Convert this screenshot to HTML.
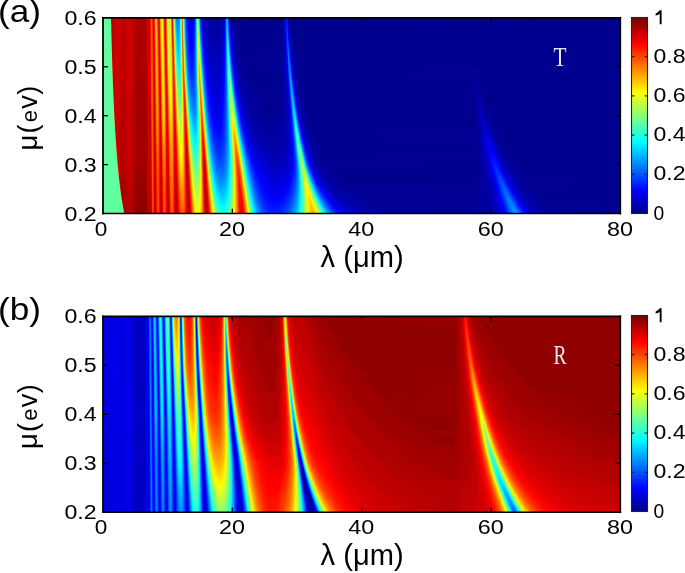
<!DOCTYPE html><html><head><meta charset="utf-8"><style>
html,body{margin:0;padding:0;background:#fff;}
body{width:685px;height:573px;position:relative;overflow:hidden;font-family:"Liberation Sans",sans-serif;}
.hm{position:absolute;left:103px;width:518px;height:196px;overflow:hidden;}
.hm div{position:absolute;left:0;width:518px;height:4px;-webkit-mask-image:linear-gradient(transparent,#000 50%);mask-image:linear-gradient(transparent,#000 50%);}
svg{position:absolute;left:0;top:0;will-change:transform}
</style></head><body>
<div class="hm" style="top:18px"><div style="top:-3px;background:linear-gradient(90deg,#60ff9f 0px,#60ff9f 6.5px,#6eff91 7.5px,#cb0200 8.5px,#b70000 9.5px,#cf0000 12.5px,#cb0000 17.5px,#bf0000 20.5px,#d70000 26.5px,#b00 31.5px,#ab0000 32.5px,#af0000 33.5px,#9f0000 34.5px,#af0000 35.5px,#ab0000 41.5px,#9f0000 42.5px,#d70000 44.5px,#cb0000 46.5px,#fb2200 47.5px,#ff6400 48.5px,#fb2400 49.5px,#d70000 50.5px,#ff3000 51.5px,#ffa300 52.5px,#ffb300 53.5px,#ff5000 54.5px,#e70000 55.5px,#fb2000 56.5px,#ffaf00 57.5px,#f7fb08 58.5px,#fbf304 59.5px,#ff8d00 60.5px,#f31000 61.5px,#ef0800 62.5px,#ff8700 63.5px,#e9fb16 64.5px,#afff50 65.5px,#abff54 66.5px,#efef10 67.5px,#ff5a00 68.5px,#fb0c00 69.5px,#f7b708 70.5px,#5affa5 71.5px,#00cfff 72.5px,#008dff 73.5px,#0074ff 74.5px,#0080ff 75.5px,#00afff 76.5px,#34fbcb 77.5px,#e9d116 78.5px,#ff7400 79.5px,#abf954 80.5px,#06d1f9 81.5px,#005eff 82.5px,#0020ff 83.5px,#0004ff 84.5px,#0000df 88.5px,#0000f7 90.5px,#001cff 91.5px,#0068ff 92.5px,#18e3e7 93.5px,#a5ff5a 94.5px,#5effa1 95.5px,#00adff 96.5px,#003cff 97.5px,#0004f7 98.5px,#0000c5 100.5px,#00009f 105.5px,#00009f 117.5px,#0000c3 120.5px,#0000e3 121.5px,#002aff 122.5px,#009bff 123.5px,#009bff 124.5px,#0026ff 125.5px,#00d 126.5px,#0000b9 127.5px,#00009f 129.5px,#00008f 133.5px,#00008f 178.5px,#0000a3 180.5px,#00b 181.5px,#0004e9 182.5px,#001cff 183.5px,#0000e7 184.5px,#0000b5 185.5px,#000093 187.5px,#00008f 518px)"></div><div style="top:-1px;background:linear-gradient(90deg,#60ff9f 0px,#60ff9f 6.5px,#6eff91 7.5px,#cb0200 8.5px,#b70000 9.5px,#cf0000 12.5px,#cb0000 17.5px,#bf0000 20.5px,#d70000 26.5px,#b00 31.5px,#ab0000 32.5px,#af0000 33.5px,#9f0000 34.5px,#af0000 35.5px,#ab0000 41.5px,#9f0000 42.5px,#d70000 44.5px,#cb0000 46.5px,#fb2200 47.5px,#ff6400 48.5px,#fb2400 49.5px,#d70000 50.5px,#ff3000 51.5px,#ffa300 52.5px,#ffb300 53.5px,#ff5000 54.5px,#e70000 55.5px,#fb2000 56.5px,#ffaf00 57.5px,#f7fb08 58.5px,#fbf304 59.5px,#ff8d00 60.5px,#f31000 61.5px,#ef0800 62.5px,#ff8700 63.5px,#e9fb16 64.5px,#afff50 65.5px,#abff54 66.5px,#efef10 67.5px,#ff5a00 68.5px,#fb0c00 69.5px,#f7b708 70.5px,#5affa5 71.5px,#00cfff 72.5px,#008dff 73.5px,#0074ff 74.5px,#0080ff 75.5px,#00afff 76.5px,#34fbcb 77.5px,#e9d116 78.5px,#ff7400 79.5px,#abf954 80.5px,#06d1f9 81.5px,#005eff 82.5px,#0020ff 83.5px,#0004ff 84.5px,#0000df 88.5px,#0000f7 90.5px,#001cff 91.5px,#0068ff 92.5px,#18e3e7 93.5px,#a5ff5a 94.5px,#5effa1 95.5px,#00adff 96.5px,#003cff 97.5px,#0004f7 98.5px,#0000c5 100.5px,#00009f 105.5px,#00009f 117.5px,#0000c3 120.5px,#0000e3 121.5px,#002aff 122.5px,#009bff 123.5px,#009bff 124.5px,#0026ff 125.5px,#00d 126.5px,#0000b9 127.5px,#00009f 129.5px,#00008f 133.5px,#00008f 178.5px,#0000a3 180.5px,#00b 181.5px,#0004e9 182.5px,#001cff 183.5px,#0000e7 184.5px,#0000b5 185.5px,#000093 187.5px,#00008f 518px)"></div><div style="top:1px;background:linear-gradient(90deg,#60ff9f 0px,#68ff97 7.5px,#cd0c00 8.5px,#b70000 9.5px,#cf0000 12.5px,#cb0000 17.5px,#bf0000 20.5px,#d70000 26.5px,#b00 31.5px,#ab0000 32.5px,#af0000 33.5px,#9f0000 34.5px,#af0000 35.5px,#ab0000 41.5px,#9f0000 42.5px,#d70000 44.5px,#cb0000 46.5px,#fb2000 47.5px,#ff6800 48.5px,#ff2400 49.5px,#d70000 50.5px,#fb2c00 51.5px,#ffa300 52.5px,#ffb300 53.5px,#ff5400 54.5px,#e70000 55.5px,#f91c00 56.5px,#ffa900 57.5px,#f7fb08 58.5px,#fbf304 59.5px,#ff8f00 60.5px,#f71200 61.5px,#ed0600 62.5px,#ff8100 63.5px,#ebf714 64.5px,#b5ff4a 65.5px,#abff54 66.5px,#ebf314 67.5px,#ff6200 68.5px,#fb0800 69.5px,#fbad04 70.5px,#68ff97 71.5px,#00d9ff 72.5px,#0091ff 73.5px,#007cff 74.5px,#0083ff 75.5px,#00b7ff 76.5px,#30fbcf 77.5px,#e7d518 78.5px,#ff7400 79.5px,#b7f748 80.5px,#08d5f7 81.5px,#0064ff 82.5px,#0026ff 83.5px,#0004ff 84.5px,#0000df 88.5px,#0000fb 90.5px,#0020ff 91.5px,#0068ff 92.5px,#14e3eb 93.5px,#abff54 94.5px,#6eff91 95.5px,#0bf 96.5px,#04f 97.5px,#0006fb 98.5px,#0000c7 100.5px,#0000af 103.5px,#00009f 108.5px,#00009f 117.5px,#0000c7 120.5px,#0000e7 121.5px,#002cff 122.5px,#009bff 123.5px,#00a5ff 124.5px,#0034ff 125.5px,#0000e5 126.5px,#0000bf 127.5px,#00009f 129.5px,#00008f 135.5px,#00008f 178.5px,#0000b7 181.5px,#0002e7 182.5px,#02f 183.5px,#0004eb 184.5px,#0000b9 185.5px,#000095 187.5px,#00008f 518px)"></div><div style="top:3px;background:linear-gradient(90deg,#60ff9f 0px,#64ff9b 7.5px,#cf1e00 8.5px,#b70000 9.5px,#cf0000 12.5px,#cb0000 17.5px,#bf0000 20.5px,#d30000 26.5px,#b00 31.5px,#a70000 32.5px,#af0000 33.5px,#9f0000 34.5px,#af0000 35.5px,#ab0000 41.5px,#9f0000 42.5px,#d70000 44.5px,#cb0000 46.5px,#fb2000 47.5px,#ff6800 48.5px,#ff2600 49.5px,#d70000 50.5px,#fb2a00 51.5px,#ffa300 52.5px,#ffb300 53.5px,#ff5a00 54.5px,#eb0000 55.5px,#f71800 56.5px,#ffa100 57.5px,#f7fb08 58.5px,#fbf304 59.5px,#ff9700 60.5px,#fb1800 61.5px,#eb0400 62.5px,#ff7800 63.5px,#edf712 64.5px,#b7ff48 65.5px,#a9ff56 66.5px,#ebf714 67.5px,#ff6a00 68.5px,#fb0800 69.5px,#ffa100 70.5px,#74ff8b 71.5px,#04dffb 72.5px,#009bff 73.5px,#0080ff 74.5px,#0085ff 75.5px,#00b7ff 76.5px,#30fbcf 77.5px,#e7d718 78.5px,#ff6e00 79.5px,#bdf342 80.5px,#0cdff3 81.5px,#006cff 82.5px,#002cff 83.5px,#0008ff 84.5px,#0000df 88.5px,#0002fb 90.5px,#0020ff 91.5px,#0068ff 92.5px,#14e3eb 93.5px,#adff52 94.5px,#7cff83 95.5px,#02c7fd 96.5px,#004eff 97.5px,#000cfd 98.5px,#0000cb 100.5px,#0000af 103.5px,#0000ad 105.5px,#00009f 107.5px,#0000a3 117.5px,#0000c7 120.5px,#0000eb 121.5px,#002cff 122.5px,#009bff 123.5px,#00afff 124.5px,#003eff 125.5px,#0000e9 126.5px,#0000c3 127.5px,#00009f 129.5px,#00008f 135.5px,#00008f 178.5px,#0000b7 181.5px,#0000e7 182.5px,#0024ff 183.5px,#0006f3 184.5px,#0000bd 185.5px,#000097 187.5px,#00008f 518px)"></div><div style="top:5px;background:linear-gradient(90deg,#60ff9f 0px,#62ff9d 7.5px,#cf3200 8.5px,#b90000 9.5px,#d70000 13.5px,#bf0000 20.5px,#d30000 26.5px,#b00 31.5px,#a70000 32.5px,#af0000 33.5px,#9f0000 34.5px,#af0000 35.5px,#ab0000 41.5px,#9f0000 42.5px,#d70000 44.5px,#cb0000 46.5px,#fb1c00 47.5px,#ff6800 48.5px,#ff2800 49.5px,#d70000 50.5px,#fb2600 51.5px,#ffa100 52.5px,#ffb300 53.5px,#ff6000 54.5px,#e70200 55.5px,#f51600 56.5px,#ff9d00 57.5px,#fbf904 58.5px,#fbf304 59.5px,#ff9d00 60.5px,#fb1800 61.5px,#eb0400 62.5px,#ff7200 63.5px,#f1f10e 64.5px,#b7ff48 65.5px,#a7ff58 66.5px,#e9f716 67.5px,#ff7400 68.5px,#ff0800 69.5px,#ff9500 70.5px,#83ff7c 71.5px,#06e7f9 72.5px,#00a1ff 73.5px,#0085ff 74.5px,#0087ff 75.5px,#00b9ff 76.5px,#30fbcf 77.5px,#e7d718 78.5px,#ff6800 79.5px,#c5f13a 80.5px,#10e3ef 81.5px,#0070ff 82.5px,#002eff 83.5px,#0008ff 84.5px,#0000e5 88.5px,#0004fb 90.5px,#0024ff 91.5px,#006cff 92.5px,#14e3eb 93.5px,#adff52 94.5px,#87ff78 95.5px,#06d1f9 96.5px,#0056ff 97.5px,#000eff 98.5px,#0000cf 100.5px,#0000af 103.5px,#00009f 111.5px,#0000a5 117.5px,#0000c7 120.5px,#0000eb 121.5px,#0030ff 122.5px,#009dff 123.5px,#0bf 124.5px,#004aff 125.5px,#0004f1 126.5px,#0000c7 127.5px,#0000a3 129.5px,#00008f 134.5px,#00008f 178.5px,#0000b7 181.5px,#0000e7 182.5px,#0024ff 183.5px,#000cf9 184.5px,#0000c5 185.5px,#0000a7 186.5px,#00008f 189.5px,#00008f 518px)"></div><div style="top:7px;background:linear-gradient(90deg,#60ff9f 0px,#60ff9f 7.5px,#cb4008 8.5px,#b00 9.5px,#d30000 13.5px,#bf0000 20.5px,#d30000 26.5px,#b00 31.5px,#a70000 32.5px,#af0000 33.5px,#9f0000 34.5px,#af0000 35.5px,#ab0000 41.5px,#9f0000 42.5px,#d70000 44.5px,#cb0000 46.5px,#fb1a00 47.5px,#f60 48.5px,#ff2a00 49.5px,#d70000 50.5px,#fb2400 51.5px,#ff9b00 52.5px,#ffb900 53.5px,#ff6000 54.5px,#e70400 55.5px,#f31200 56.5px,#f90 57.5px,#fbf304 58.5px,#fbf704 59.5px,#ff9f00 60.5px,#fb1a00 61.5px,#eb0200 62.5px,#ff6a00 63.5px,#f3ef0c 64.5px,#bf4 65.5px,#adff52 66.5px,#e5f71a 67.5px,#ff7a00 68.5px,#ff0800 69.5px,#ff8900 70.5px,#91ff6e 71.5px,#08edf7 72.5px,#00a9ff 73.5px,#008bff 74.5px,#008fff 75.5px,#0bf 76.5px,#30fbcf 77.5px,#e5d91a 78.5px,#ff6a00 79.5px,#cfef30 80.5px,#14e7eb 81.5px,#007aff 82.5px,#0032ff 83.5px,#000eff 84.5px,#0000ef 86.5px,#0000ef 89.5px,#0004ff 90.5px,#0028ff 91.5px,#006cff 92.5px,#14e3eb 93.5px,#adff52 94.5px,#97ff68 95.5px,#0adbf5 96.5px,#0062ff 97.5px,#0018ff 98.5px,#0000eb 99.5px,#0000c1 101.5px,#0000af 104.5px,#00009f 112.5px,#0000a9 117.5px,#0000c9 120.5px,#0000eb 121.5px,#0030ff 122.5px,#009fff 123.5px,#00c3ff 124.5px,#005aff 125.5px,#0004f3 126.5px,#0000b3 128.5px,#00008f 133.5px,#00008f 178.5px,#0000b7 181.5px,#0000e7 182.5px,#0024ff 183.5px,#0016fb 184.5px,#0000cb 185.5px,#0000a9 186.5px,#00008f 188.5px,#00008f 518px)"></div><div style="top:9px;background:linear-gradient(90deg,#60ff9f 0px,#60ff9f 7.5px,#c34016 8.5px,#b00 9.5px,#d30000 13.5px,#bf0000 20.5px,#d30000 26.5px,#b00 31.5px,#a70000 32.5px,#af0000 33.5px,#a10000 34.5px,#af0000 35.5px,#af0000 41.5px,#9f0000 42.5px,#d70000 44.5px,#c70000 46.5px,#fb1800 47.5px,#ff6400 48.5px,#ff2c00 49.5px,#d90000 50.5px,#fb2200 51.5px,#f90 52.5px,#fb0 53.5px,#ff6000 54.5px,#e70400 55.5px,#f31000 56.5px,#ff8d00 57.5px,#fbf304 58.5px,#fbfb04 59.5px,#ffa100 60.5px,#fb2400 61.5px,#eb0000 62.5px,#ff6200 63.5px,#f5ed0a 64.5px,#bfff40 65.5px,#afff50 66.5px,#e3fb1c 67.5px,#ff8100 68.5px,#ff0a00 69.5px,#ff8000 70.5px,#9fff60 71.5px,#10f1ef 72.5px,#00b3ff 73.5px,#0091ff 74.5px,#0093ff 75.5px,#0bf 76.5px,#30fbcf 77.5px,#dfdf20 78.5px,#ff6800 79.5px,#d7e728 80.5px,#1cede3 81.5px,#0080ff 82.5px,#0038ff 83.5px,#0012ff 84.5px,#00f 85.5px,#0000ef 87.5px,#0000ef 89.5px,#0004ff 90.5px,#0028ff 91.5px,#006cff 92.5px,#14e3eb 93.5px,#afff50 94.5px,#a5ff5a 95.5px,#10e5ef 96.5px,#006eff 97.5px,#001aff 98.5px,#0000ef 99.5px,#0000c5 101.5px,#0000af 104.5px,#0000af 107.5px,#00009f 109.5px,#00009f 116.5px,#0000cb 120.5px,#0000ed 121.5px,#0030ff 122.5px,#009fff 123.5px,#00cfff 124.5px,#0062ff 125.5px,#000cf9 126.5px,#0000cf 127.5px,#00009f 130.5px,#00008f 136.5px,#00008f 178.5px,#0000b7 181.5px,#00d 182.5px,#0026ff 183.5px,#001aff 184.5px,#0000d7 185.5px,#0000ad 186.5px,#00008f 189.5px,#00008f 518px)"></div><div style="top:11px;background:linear-gradient(90deg,#60ff9f 0px,#60ff9f 7.5px,#bd481e 8.5px,#b00 9.5px,#d30000 13.5px,#bf0000 20.5px,#d30000 26.5px,#b00 31.5px,#a70000 32.5px,#af0000 33.5px,#a30000 34.5px,#ab0000 36.5px,#af0000 41.5px,#9f0000 42.5px,#d70000 44.5px,#c70000 46.5px,#fb1800 47.5px,#ff6200 48.5px,#ff2c00 49.5px,#d90000 50.5px,#fb1e00 51.5px,#ff9300 52.5px,#fb0 53.5px,#ff6a00 54.5px,#eb0400 55.5px,#f30e00 56.5px,#ff8b00 57.5px,#fdf302 58.5px,#fbfb04 59.5px,#ffa900 60.5px,#fb2400 61.5px,#e70000 62.5px,#ff5a00 63.5px,#f7e708 64.5px,#bfff40 65.5px,#afff50 66.5px,#dffb20 67.5px,#ff8900 68.5px,#ff0800 69.5px,#ff7000 70.5px,#adff52 71.5px,#14f7eb 72.5px,#00b9ff 73.5px,#0095ff 74.5px,#0095ff 75.5px,#00bdff 76.5px,#30fbcf 77.5px,#dfdf20 78.5px,#f60 79.5px,#dbe324 80.5px,#22f1dd 81.5px,#0085ff 82.5px,#003cff 83.5px,#00f 85.5px,#0000ef 88.5px,#0008ff 90.5px,#002aff 91.5px,#006cff 92.5px,#12e3ed 93.5px,#afff50 94.5px,#b5ff4a 95.5px,#1cede3 96.5px,#0076ff 97.5px,#0028ff 98.5px,#0000f7 99.5px,#0000c9 101.5px,#0000af 105.5px,#00009f 113.5px,#0000af 118.5px,#0000cf 120.5px,#0000ef 121.5px,#0030ff 122.5px,#009fff 123.5px,#00d5ff 124.5px,#0012fb 126.5px,#0000d9 127.5px,#0000b9 128.5px,#00009f 130.5px,#00008f 136.5px,#00008f 178.5px,#0000b3 181.5px,#0000db 182.5px,#0026ff 183.5px,#0028ff 184.5px,#0000db 185.5px,#0000b3 186.5px,#00008f 189.5px,#00008f 518px)"></div><div style="top:13px;background:linear-gradient(90deg,#60ff9f 0px,#60ff9f 7.5px,#b75a24 8.5px,#b00 9.5px,#d30000 13.5px,#bf0000 18.5px,#bf0000 20.5px,#d30000 26.5px,#b00 31.5px,#a70000 32.5px,#af0000 33.5px,#a30000 34.5px,#ab0000 36.5px,#af0000 41.5px,#9f0000 42.5px,#d70000 44.5px,#c70000 46.5px,#f91800 47.5px,#ff6000 48.5px,#ff2c00 49.5px,#db0000 50.5px,#f71a00 51.5px,#ff9300 52.5px,#fb0 53.5px,#ff6e00 54.5px,#ef0800 55.5px,#f10800 56.5px,#ff8500 57.5px,#ffef00 58.5px,#fbfb04 59.5px,#ffaf00 60.5px,#ff2800 61.5px,#e50000 62.5px,#ff5400 63.5px,#f9e706 64.5px,#bfff40 65.5px,#afff50 66.5px,#dffb20 67.5px,#ff9100 68.5px,#ff0e00 69.5px,#ff6800 70.5px,#b7fb48 71.5px,#1cfbe3 72.5px,#00c1ff 73.5px,#009fff 74.5px,#09f 75.5px,#00c5ff 76.5px,#30fbcf 77.5px,#dde522 78.5px,#ff6000 79.5px,#e3dd1c 80.5px,#26f7d9 81.5px,#008fff 82.5px,#04f 83.5px,#0018ff 84.5px,#0000f9 86.5px,#0000ef 88.5px,#0008ff 90.5px,#002cff 91.5px,#0070ff 92.5px,#0ce3f3 93.5px,#afff50 94.5px,#c1ff3e 95.5px,#24f5db 96.5px,#0083ff 97.5px,#002aff 98.5px,#0004f7 99.5px,#0000bf 102.5px,#0000af 106.5px,#0000ad 108.5px,#00009f 110.5px,#00009f 115.5px,#0000bf 119.5px,#0000ef 121.5px,#0030ff 122.5px,#009fff 123.5px,#00dfff 124.5px,#001aff 126.5px,#00d 127.5px,#0000af 129.5px,#00009f 131.5px,#00008f 136.5px,#00008f 178.5px,#0000b3 181.5px,#0000d7 182.5px,#0020ff 183.5px,#0032ff 184.5px,#0000e7 185.5px,#0000b7 186.5px,#00008f 189.5px,#00008f 518px)"></div><div style="top:15px;background:linear-gradient(90deg,#60ff9f 0px,#60ff9f 7.5px,#b97226 8.5px,#b00 9.5px,#d30000 13.5px,#bf0000 18.5px,#bf0000 20.5px,#d30000 26.5px,#b00 31.5px,#a70000 32.5px,#af0000 33.5px,#a30000 34.5px,#ab0000 36.5px,#af0000 41.5px,#9f0000 42.5px,#d70000 44.5px,#cb0000 46.5px,#f71600 47.5px,#ff6000 48.5px,#ff3000 49.5px,#db0000 50.5px,#f71800 51.5px,#ff8d00 52.5px,#fb0 53.5px,#ff7000 54.5px,#f10800 55.5px,#ef0800 56.5px,#ffed00 58.5px,#fdfb02 59.5px,#ffaf00 60.5px,#ff3000 61.5px,#e50000 62.5px,#ff4e00 63.5px,#fbdf04 64.5px,#c5ff3a 65.5px,#afff50 66.5px,#df2 67.5px,#ff9700 68.5px,#ff1000 69.5px,#ff5c00 70.5px,#c3f93c 71.5px,#24fddb 72.5px,#00c7ff 73.5px,#00a5ff 74.5px,#009fff 75.5px,#00c7ff 76.5px,#2cffd3 77.5px,#dbe724 78.5px,#ff6800 79.5px,#e7d718 80.5px,#32f9cd 81.5px,#0095ff 82.5px,#0048ff 83.5px,#001cff 84.5px,#0000fd 86.5px,#0000ef 88.5px,#0008ff 90.5px,#002cff 91.5px,#0070ff 92.5px,#0ce1f3 93.5px,#afff50 94.5px,#cdff32 95.5px,#30f9cf 96.5px,#0091ff 97.5px,#0038ff 98.5px,#0004fb 99.5px,#0000bf 102.5px,#0000af 106.5px,#00009f 114.5px,#0000bf 119.5px,#0000f1 121.5px,#0030ff 122.5px,#009fff 123.5px,#00e7ff 124.5px,#008fff 125.5px,#0024ff 126.5px,#0000e3 127.5px,#0000af 129.5px,#00008f 135.5px,#00008f 178.5px,#0000b3 181.5px,#0000d7 182.5px,#001aff 183.5px,#0038ff 184.5px,#0004ef 185.5px,#0000bf 186.5px,#0000a5 187.5px,#00008f 190.5px,#00008f 518px)"></div><div style="top:17px;background:linear-gradient(90deg,#60ff9f 0px,#60ff9f 7.5px,#b18030 8.5px,#b00 9.5px,#d30000 13.5px,#c30000 18.5px,#b70000 19.5px,#d30000 26.5px,#b00 31.5px,#a70000 32.5px,#af0000 33.5px,#a30000 34.5px,#ab0000 36.5px,#af0000 41.5px,#9f0000 42.5px,#d70000 44.5px,#cb0000 46.5px,#f71400 47.5px,#ff6000 48.5px,#ff3200 49.5px,#db0000 50.5px,#f71800 51.5px,#ff8b00 52.5px,#fb0 53.5px,#ff7000 54.5px,#f30800 55.5px,#ed0800 56.5px,#ff7a00 57.5px,#ffe700 58.5px,#fffb00 59.5px,#ffb500 60.5px,#ff3000 61.5px,#e70000 62.5px,#ff4600 63.5px,#fbdb04 64.5px,#cbff34 65.5px,#afff50 66.5px,#dbff24 67.5px,#ff9f00 68.5px,#ff1200 69.5px,#ff5400 70.5px,#cbf534 71.5px,#30ffcf 72.5px,#00d1ff 73.5px,#00a9ff 74.5px,#00a3ff 75.5px,#00c7ff 76.5px,#2cffd3 77.5px,#d7e928 78.5px,#ff6400 79.5px,#efd310 80.5px,#3efbc1 81.5px,#00a1ff 82.5px,#004aff 83.5px,#0020ff 84.5px,#00f 86.5px,#0000ef 88.5px,#000aff 90.5px,#002cff 91.5px,#0070ff 92.5px,#0cdff3 93.5px,#a9ff56 94.5px,#dbff24 95.5px,#40fdbf 96.5px,#009fff 97.5px,#003eff 98.5px,#000afd 99.5px,#0000c3 102.5px,#0000af 107.5px,#0000af 109.5px,#00009f 111.5px,#0000a5 115.5px,#0000bf 119.5px,#0000f3 121.5px,#0030ff 122.5px,#009fff 123.5px,#00e9ff 124.5px,#009fff 125.5px,#002eff 126.5px,#0000eb 127.5px,#0000b3 129.5px,#00008f 135.5px,#00008f 178.5px,#0000b3 181.5px,#0000d1 182.5px,#0018fd 183.5px,#0042ff 184.5px,#000af5 185.5px,#0000c5 186.5px,#0000a7 187.5px,#00008f 190.5px,#00008f 518px)"></div><div style="top:19px;background:linear-gradient(90deg,#60ff9f 0px,#60ff9f 7.5px,#ad803e 8.5px,#b00 9.5px,#d30000 13.5px,#c30000 18.5px,#b70000 19.5px,#d30000 26.5px,#b00 31.5px,#a70000 32.5px,#af0000 33.5px,#a30000 34.5px,#ab0000 36.5px,#af0000 41.5px,#9f0000 42.5px,#d70000 44.5px,#cb0000 46.5px,#f71200 47.5px,#ff6000 48.5px,#ff3800 49.5px,#db0000 50.5px,#f71800 51.5px,#ff8b00 52.5px,#fb0 53.5px,#ff7600 54.5px,#f30a00 55.5px,#e70400 56.5px,#ff7000 57.5px,#ffe500 58.5px,#fffb00 59.5px,#fb0 60.5px,#ff3400 61.5px,#e70000 62.5px,#ff3e00 63.5px,#fdd702 64.5px,#cbff34 65.5px,#afff50 66.5px,#dbff24 67.5px,#ffa500 68.5px,#ff1800 69.5px,#ff4c00 70.5px,#d7f128 71.5px,#3cffc3 72.5px,#00d7ff 73.5px,#00b1ff 74.5px,#00a5ff 75.5px,#00c7ff 76.5px,#2cffd3 77.5px,#d7ef28 78.5px,#f60 79.5px,#f3c90c 80.5px,#4fb 81.5px,#00a7ff 82.5px,#0058ff 83.5px,#0026ff 84.5px,#00f 86.5px,#0000f1 88.5px,#000cff 90.5px,#0030ff 91.5px,#0070ff 92.5px,#0cdff3 93.5px,#a7ff58 94.5px,#e5ff1a 95.5px,#50ffaf 96.5px,#00adff 97.5px,#004aff 98.5px,#000eff 99.5px,#0000d5 101.5px,#0000af 106.5px,#0000ab 110.5px,#00009f 113.5px,#0000c3 119.5px,#0000f3 121.5px,#0030ff 122.5px,#009fff 123.5px,#00f1ff 124.5px,#00afff 125.5px,#003cff 126.5px,#0002f1 127.5px,#0000b7 129.5px,#00009f 132.5px,#00008f 137.5px,#00008f 178.5px,#0000b3 181.5px,#0000cf 182.5px,#0012fb 183.5px,#0048ff 184.5px,#0012fb 185.5px,#0000cd 186.5px,#0000ab 187.5px,#00008f 190.5px,#00008f 518px)"></div><div style="top:21px;background:linear-gradient(90deg,#60ff9f 0px,#60ff9f 7.5px,#a78948 8.5px,#b00 9.5px,#d30000 13.5px,#c30000 18.5px,#b70000 19.5px,#d30000 26.5px,#b00 31.5px,#a70000 32.5px,#af0000 33.5px,#a30000 34.5px,#ab0000 36.5px,#af0000 41.5px,#9f0000 42.5px,#d70000 44.5px,#cb0000 46.5px,#f71000 47.5px,#ff6000 48.5px,#ff3800 49.5px,#db0000 50.5px,#f31400 51.5px,#ff8700 52.5px,#fb0 53.5px,#ff7c00 54.5px,#f31000 55.5px,#e70400 56.5px,#ff6c00 57.5px,#ffe300 58.5px,#fffb00 59.5px,#fb0 60.5px,#ff3e00 61.5px,#e70000 62.5px,#ff3800 63.5px,#ffd100 64.5px,#cbff34 65.5px,#afff50 66.5px,#dbff24 67.5px,#ffa900 68.5px,#ff1c00 69.5px,#ff4200 70.5px,#dfe920 71.5px,#42ffbd 72.5px,#00e3ff 73.5px,#00b7ff 74.5px,#00afff 75.5px,#00cbff 76.5px,#2affd5 77.5px,#d3ef2c 78.5px,#ff6800 79.5px,#f7bf08 80.5px,#52ffad 81.5px,#00b1ff 82.5px,#0058ff 83.5px,#002aff 84.5px,#00f 86.5px,#00f 89.5px,#0030ff 91.5px,#0070ff 92.5px,#0adff5 93.5px,#a5ff5a 94.5px,#efff10 95.5px,#62ff9d 96.5px,#0bf 97.5px,#0054ff 98.5px,#0016ff 99.5px,#0000f1 100.5px,#0000bf 103.5px,#0000af 108.5px,#0000af 117.5px,#0000d7 120.5px,#0002f5 121.5px,#0030ff 122.5px,#00f7ff 124.5px,#00c1ff 125.5px,#004cff 126.5px,#0004f5 127.5px,#00b 129.5px,#00009f 132.5px,#00008f 138.5px,#00008f 178.5px,#0000b3 181.5px,#0000cd 182.5px,#000efb 183.5px,#004cff 184.5px,#001eff 185.5px,#0000d5 186.5px,#00009f 188.5px,#00008f 192.5px,#00008f 518px)"></div><div style="top:23px;background:linear-gradient(90deg,#60ff9f 0px,#60ff9f 7.5px,#a39d4c 8.5px,#b00 9.5px,#d30000 13.5px,#c30000 18.5px,#b70000 19.5px,#d30000 26.5px,#b00 31.5px,#a70000 32.5px,#af0000 33.5px,#a30000 34.5px,#ab0000 36.5px,#af0000 41.5px,#9f0000 42.5px,#d70000 44.5px,#c90000 46.5px,#f71000 47.5px,#ff6000 48.5px,#ff3800 49.5px,#db0000 50.5px,#f31000 51.5px,#ff8300 52.5px,#ffb700 53.5px,#ff7c00 54.5px,#f31000 55.5px,#e70400 56.5px,#ff6800 57.5px,#ffe100 58.5px,#fffb00 59.5px,#fb0 60.5px,#ff4000 61.5px,#e30000 62.5px,#ff3400 63.5px,#ffcd00 64.5px,#cdff32 65.5px,#b1ff4e 66.5px,#d7ff28 67.5px,#ffb100 68.5px,#f20 69.5px,#ff3c00 70.5px,#e5e51a 71.5px,#52ffad 72.5px,#02e7fd 73.5px,#00bdff 74.5px,#00afff 75.5px,#00cdff 76.5px,#28ffd7 77.5px,#d1f32e 78.5px,#f60 79.5px,#fbb904 80.5px,#5effa1 81.5px,#0bf 82.5px,#0062ff 83.5px,#002eff 84.5px,#0004ff 86.5px,#00f 89.5px,#0030ff 91.5px,#0070ff 92.5px,#08ddf7 93.5px,#9dff62 94.5px,#f7fd08 95.5px,#76ff89 96.5px,#02cbfd 97.5px,#005eff 98.5px,#001cff 99.5px,#0000f7 100.5px,#0000c1 103.5px,#0000af 108.5px,#0000af 117.5px,#0000d7 120.5px,#0004f7 121.5px,#0030ff 122.5px,#04f7fb 124.5px,#00d1ff 125.5px,#005aff 126.5px,#000cfb 127.5px,#0000bf 129.5px,#00009f 132.5px,#00008f 138.5px,#00008f 178.5px,#0000af 181.5px,#000cf7 183.5px,#004aff 184.5px,#002aff 185.5px,#0000e1 186.5px,#0000b7 187.5px,#00009b 189.5px,#00008f 192.5px,#00008f 518px)"></div><div style="top:25px;background:linear-gradient(90deg,#60ff9f 0px,#60ff9f 7.5px,#a1b550 8.5px,#b00 9.5px,#d30000 13.5px,#c30000 18.5px,#b70000 19.5px,#d30000 26.5px,#b00 31.5px,#a70000 32.5px,#af0000 33.5px,#a30000 34.5px,#ab0000 36.5px,#af0000 41.5px,#9f0000 42.5px,#d70000 44.5px,#c70000 46.5px,#f31000 47.5px,#ff5e00 48.5px,#ff3c00 49.5px,#d00 50.5px,#f31000 51.5px,#ff7c00 52.5px,#ffb700 53.5px,#ff7c00 54.5px,#f31000 55.5px,#eb0000 56.5px,#ff6000 57.5px,#ffd900 58.5px,#fffb00 59.5px,#ffc500 60.5px,#f40 61.5px,#e50000 62.5px,#fd2e00 63.5px,#ffc900 64.5px,#d5ff2a 65.5px,#b3ff4c 66.5px,#d5ff2a 67.5px,#ffb700 68.5px,#ff2400 69.5px,#ff3600 70.5px,#ebdd14 71.5px,#5cffa3 72.5px,#04f1fb 73.5px,#00c5ff 74.5px,#00b7ff 75.5px,#00d3ff 76.5px,#28ffd7 77.5px,#cdf332 78.5px,#ff6c00 79.5px,#ffaf00 80.5px,#6eff91 81.5px,#00c3ff 82.5px,#0068ff 83.5px,#0032ff 84.5px,#000aff 86.5px,#00f 89.5px,#0034ff 91.5px,#0070ff 92.5px,#08dbf7 93.5px,#97ff68 94.5px,#fbf904 95.5px,#87ff78 96.5px,#06d7f9 97.5px,#006aff 98.5px,#0026ff 99.5px,#0002f9 100.5px,#0000c5 103.5px,#0000af 109.5px,#0000af 117.5px,#0000d7 120.5px,#0004f7 121.5px,#0030ff 122.5px,#08f7f7 124.5px,#02dffd 125.5px,#006aff 126.5px,#0014fd 127.5px,#0000df 128.5px,#0000b1 130.5px,#00009f 133.5px,#00008f 138.5px,#00008f 178.5px,#0000af 181.5px,#0000c7 182.5px,#0008f3 183.5px,#0048ff 184.5px,#0038ff 185.5px,#0002e7 186.5px,#00b 187.5px,#00008f 190.5px,#00008f 518px)"></div><div style="top:27px;background:linear-gradient(90deg,#60ff9f 0px,#60ff9f 7.5px,#99bf5c 8.5px,#b00 9.5px,#d30000 13.5px,#c30000 18.5px,#b70000 19.5px,#d30000 26.5px,#b00 31.5px,#a70000 32.5px,#af0000 33.5px,#a30000 34.5px,#ab0000 36.5px,#af0000 41.5px,#9f0000 42.5px,#d70000 44.5px,#c70000 46.5px,#f31000 47.5px,#ff5e00 48.5px,#ff3c00 49.5px,#df0000 50.5px,#f31000 51.5px,#ff7c00 52.5px,#ffb700 53.5px,#ff7e00 54.5px,#f71200 55.5px,#e70000 56.5px,#ff5a00 57.5px,#ffd300 58.5px,#fffd00 59.5px,#ffc700 60.5px,#ff4c00 61.5px,#e90000 62.5px,#fb2800 63.5px,#ffbd00 64.5px,#d7ff28 65.5px,#b3ff4c 66.5px,#d1ff2e 67.5px,#fb0 68.5px,#ff2c00 69.5px,#ff2c00 70.5px,#f3d70c 71.5px,#6f9 72.5px,#08f3f7 73.5px,#00cdff 74.5px,#00bfff 75.5px,#00d7ff 76.5px,#28ffd7 77.5px,#c7f738 78.5px,#ff6c00 79.5px,#ffa500 80.5px,#7eff81 81.5px,#00cfff 82.5px,#006aff 83.5px,#001aff 85.5px,#00f 87.5px,#0004ff 89.5px,#0034ff 91.5px,#0070ff 92.5px,#08dbf7 93.5px,#97ff68 94.5px,#fff700 95.5px,#9dff62 96.5px,#0ae3f5 97.5px,#0074ff 98.5px,#002aff 99.5px,#0004fb 100.5px,#0000bf 104.5px,#0000af 112.5px,#0000b3 117.5px,#0000db 120.5px,#0004f7 121.5px,#0034ff 122.5px,#08f7f7 124.5px,#04ebfb 125.5px,#007aff 126.5px,#001aff 127.5px,#0000e7 128.5px,#0000b5 130.5px,#00009f 133.5px,#00008f 139.5px,#000091 178.5px,#0000af 181.5px,#0000c7 182.5px,#0004f3 183.5px,#0046ff 184.5px,#0046ff 185.5px,#0006f3 186.5px,#0000c3 187.5px,#00009f 189.5px,#00008f 193.5px,#00008f 518px)"></div><div style="top:29px;background:linear-gradient(90deg,#60ff9f 0px,#60ff9f 7.5px,#93c16a 8.5px,#b00 9.5px,#d30000 13.5px,#c30000 18.5px,#b70000 19.5px,#d30000 26.5px,#b00 31.5px,#a70000 32.5px,#af0000 33.5px,#a30000 34.5px,#ab0000 36.5px,#af0000 41.5px,#9f0000 42.5px,#d50000 44.5px,#d70000 45.5px,#c70000 46.5px,#f31000 47.5px,#ff6000 48.5px,#ff3e00 49.5px,#df0000 50.5px,#f31000 51.5px,#ff7c00 52.5px,#ffb700 53.5px,#ff8300 54.5px,#f71800 55.5px,#e70000 56.5px,#ff5600 57.5px,#ffd300 58.5px,#ff0 59.5px,#ffc900 60.5px,#ff5000 61.5px,#eb0000 62.5px,#fb2600 63.5px,#ffb900 64.5px,#d7ff28 65.5px,#b3ff4c 66.5px,#cfff30 67.5px,#ffc300 68.5px,#ff3400 69.5px,#ff2600 70.5px,#f7cd08 71.5px,#74ff8b 72.5px,#0cfbf3 73.5px,#00d3ff 74.5px,#00bfff 75.5px,#00dbff 76.5px,#24ffdb 77.5px,#c3f73c 78.5px,#ff7000 79.5px,#ff9d00 80.5px,#8bff74 81.5px,#04d7fb 82.5px,#0078ff 83.5px,#003eff 84.5px,#001cff 85.5px,#00f 88.5px,#0018ff 90.5px,#0036ff 91.5px,#0070ff 92.5px,#06dbf9 93.5px,#91ff6e 94.5px,#ffef00 95.5px,#adff52 96.5px,#14ebeb 97.5px,#0081ff 98.5px,#0038ff 99.5px,#0008ff 100.5px,#0000c1 104.5px,#0000bf 107.5px,#0000af 111.5px,#0000b7 117.5px,#0000db 120.5px,#0004f7 121.5px,#0036ff 122.5px,#0cf3f3 124.5px,#0cf3f3 125.5px,#002aff 127.5px,#0000ed 128.5px,#0000b9 130.5px,#00009f 133.5px,#00009d 135.5px,#00008f 137.5px,#000093 178.5px,#0000af 181.5px,#0000c3 182.5px,#0004ef 183.5px,#0042ff 184.5px,#0052ff 185.5px,#000ef7 186.5px,#0000ab 188.5px,#00008f 192.5px,#00008f 518px)"></div><div style="top:31px;background:linear-gradient(90deg,#60ff9f 0px,#60ff9f 7.5px,#8dd172 8.5px,#b00 9.5px,#d30000 13.5px,#c30000 18.5px,#b70000 19.5px,#d30000 26.5px,#b00 31.5px,#a70000 32.5px,#af0000 33.5px,#a30000 34.5px,#ab0000 36.5px,#af0000 41.5px,#9f0000 42.5px,#d30000 44.5px,#d90000 45.5px,#c70000 46.5px,#f30e00 47.5px,#ff6000 48.5px,#ff4000 49.5px,#df0000 50.5px,#f30a00 51.5px,#ff7a00 52.5px,#ffb700 53.5px,#ff8700 54.5px,#fb1800 55.5px,#e30000 56.5px,#ff4c00 57.5px,#ffcd00 58.5px,#ff0 59.5px,#ffcd00 60.5px,#ff5200 61.5px,#eb0000 62.5px,#fb1e00 63.5px,#ffb100 64.5px,#dbff24 65.5px,#b3ff4c 66.5px,#cfff30 67.5px,#ffc900 68.5px,#ff3600 69.5px,#ff2400 70.5px,#f9c506 71.5px,#81ff7e 72.5px,#12fbed 73.5px,#00dbff 74.5px,#00c9ff 75.5px,#00dbff 76.5px,#24ffdb 77.5px,#c3f93c 78.5px,#ff7800 79.5px,#ff8d00 80.5px,#9f6 81.5px,#08ddf7 82.5px,#007cff 83.5px,#0042ff 84.5px,#0010ff 86.5px,#00f 88.5px,#0018ff 90.5px,#0070ff 92.5px,#04dbfb 93.5px,#87ff78 94.5px,#ffe900 95.5px,#c1ff3e 96.5px,#1ef5e1 97.5px,#008dff 98.5px,#0040ff 99.5px,#000eff 100.5px,#00d 102.5px,#0000bf 105.5px,#0000af 113.5px,#0000af 116.5px,#00d 120.5px,#0004f9 121.5px,#0038ff 122.5px,#0ceff3 124.5px,#12fbed 125.5px,#009fff 126.5px,#0036ff 127.5px,#0002f3 128.5px,#0000bd 130.5px,#00009f 133.5px,#00008f 141.5px,#000093 178.5px,#0000ab 181.5px,#0000c1 182.5px,#0000e9 183.5px,#0038ff 184.5px,#005aff 185.5px,#0018fd 186.5px,#0000d3 187.5px,#00009f 189.5px,#00008f 193.5px,#00008f 518px)"></div><div style="top:33px;background:linear-gradient(90deg,#60ff9f 0px,#60ff9f 7.5px,#89eb76 8.5px,#b00 9.5px,#d30000 13.5px,#c30000 18.5px,#b70000 19.5px,#d30000 26.5px,#b00 31.5px,#a70000 32.5px,#af0000 33.5px,#a30000 34.5px,#ab0000 36.5px,#af0000 41.5px,#9f0000 42.5px,#d30000 44.5px,#db0000 45.5px,#c70000 46.5px,#f30c00 47.5px,#ff6000 48.5px,#ff4200 49.5px,#df0000 50.5px,#ef0800 51.5px,#ff7200 52.5px,#ffb700 53.5px,#ff8900 54.5px,#fb1800 55.5px,#df0000 56.5px,#ff4800 57.5px,#ffcb00 58.5px,#ff0 59.5px,#ffcf00 60.5px,#ff5a00 61.5px,#eb0200 62.5px,#fb1a00 63.5px,#ffab00 64.5px,#dfff20 65.5px,#b7ff48 66.5px,#cbff34 67.5px,#ffcd00 68.5px,#ff3e00 69.5px,#f20 70.5px,#fdbb02 71.5px,#8dff72 72.5px,#1affe5 73.5px,#00e3ff 74.5px,#00cfff 75.5px,#0df 76.5px,#28ffd7 77.5px,#bdfb42 78.5px,#ff7a00 79.5px,#ff8700 80.5px,#a7ff58 81.5px,#0ae7f5 82.5px,#0083ff 83.5px,#0048ff 84.5px,#0014ff 86.5px,#0004ff 88.5px,#001aff 90.5px,#003cff 91.5px,#0070ff 92.5px,#04d5fb 93.5px,#87ff78 94.5px,#ffe500 95.5px,#cffb30 96.5px,#2cf9d3 97.5px,#009dff 98.5px,#0048ff 99.5px,#0016ff 100.5px,#0000f5 101.5px,#0000d1 103.5px,#0000bf 106.5px,#0000bf 108.5px,#0000af 110.5px,#0000b1 116.5px,#0000cf 119.5px,#0004fb 121.5px,#0038ff 122.5px,#0087ff 123.5px,#0ceff3 124.5px,#18ffe7 125.5px,#00afff 126.5px,#04f 127.5px,#0004f9 128.5px,#0000c1 130.5px,#00009f 133.5px,#00008f 141.5px,#000093 178.5px,#0000ab 181.5px,#0000bf 182.5px,#0000e7 183.5px,#0030ff 184.5px,#0064ff 185.5px,#0024ff 186.5px,#0000db 187.5px,#0000a3 189.5px,#00008f 192.5px,#00008f 518px)"></div><div style="top:35px;background:linear-gradient(90deg,#60ff9f 0px,#60ff9f 7.5px,#81ff7e 8.5px,#c10000 9.5px,#d30000 15.5px,#b70000 19.5px,#d30000 26.5px,#b00 31.5px,#a70000 32.5px,#af0000 33.5px,#a30000 34.5px,#ab0000 36.5px,#af0000 41.5px,#9f0000 42.5px,#d30000 44.5px,#db0000 45.5px,#c70000 46.5px,#f30a00 47.5px,#ff5c00 48.5px,#f40 49.5px,#e30000 50.5px,#ed0800 51.5px,#ff7000 52.5px,#ffb300 53.5px,#ff8b00 54.5px,#fb1a00 55.5px,#df0000 56.5px,#f40 57.5px,#ffc500 58.5px,#fffb00 59.5px,#ffd300 60.5px,#ff6000 61.5px,#eb0400 62.5px,#f91800 63.5px,#ffa700 64.5px,#e5ff1a 65.5px,#b7ff48 66.5px,#cbff34 67.5px,#ffcf00 68.5px,#ff4200 69.5px,#ff2000 70.5px,#ffb300 71.5px,#95ff6a 72.5px,#24ffdb 73.5px,#00ebff 74.5px,#00d1ff 75.5px,#00dfff 76.5px,#28ffd7 77.5px,#b7fd48 78.5px,#ff8000 79.5px,#ff7e00 80.5px,#b3fd4c 81.5px,#12ebed 82.5px,#008dff 83.5px,#004eff 84.5px,#0028ff 85.5px,#0010ff 88.5px,#001cff 90.5px,#003cff 91.5px,#0076ff 92.5px,#04d1fb 93.5px,#7cff83 94.5px,#fddf02 95.5px,#dff920 96.5px,#3cffc3 97.5px,#00abff 98.5px,#0056ff 99.5px,#001eff 100.5px,#0000f9 101.5px,#0000c1 105.5px,#0000b9 109.5px,#0000af 114.5px,#0000cf 119.5px,#0004fb 121.5px,#0038ff 122.5px,#0085ff 123.5px,#0ceff3 124.5px,#24ffdb 125.5px,#00c7ff 126.5px,#0054ff 127.5px,#000cfd 128.5px,#0000b5 131.5px,#00009f 134.5px,#00009f 136.5px,#00008f 138.5px,#000093 178.5px,#0000ab 181.5px,#0000bd 182.5px,#0000e3 183.5px,#0028ff 184.5px,#006aff 185.5px,#0034ff 186.5px,#0000e7 187.5px,#00b 188.5px,#000093 191.5px,#00008f 518px)"></div><div style="top:37px;background:linear-gradient(90deg,#60ff9f 0px,#60ff9f 7.5px,#70ff8f 8.5px,#c90000 9.5px,#c30000 10.5px,#d70000 14.5px,#b70000 19.5px,#d30000 26.5px,#b00 31.5px,#a70000 32.5px,#af0000 33.5px,#a30000 34.5px,#ab0000 36.5px,#af0000 41.5px,#9f0000 42.5px,#d30000 44.5px,#db0000 45.5px,#c70000 46.5px,#f10800 47.5px,#ff5c00 48.5px,#f40 49.5px,#e70000 50.5px,#eb0800 51.5px,#ff6e00 52.5px,#ffb300 53.5px,#ff8f00 54.5px,#fb2400 55.5px,#df0000 56.5px,#ff3e00 57.5px,#ffbf00 58.5px,#fffb00 59.5px,#ffd300 60.5px,#ff6000 61.5px,#eb0400 62.5px,#f51600 63.5px,#ff9d00 64.5px,#e7fb18 65.5px,#b7ff48 66.5px,#cbff34 67.5px,#ffd500 68.5px,#ff4a00 69.5px,#ff2000 70.5px,#ffa700 71.5px,#a5ff5a 72.5px,#2effd1 73.5px,#00f1ff 74.5px,#00dbff 75.5px,#00e7ff 76.5px,#28ffd7 77.5px,#b7ff48 78.5px,#ff8300 79.5px,#ff7800 80.5px,#bff940 81.5px,#18f1e7 82.5px,#0095ff 83.5px,#0054ff 84.5px,#001cff 86.5px,#0010ff 89.5px,#003cff 91.5px,#0078ff 92.5px,#02cffd 93.5px,#78ff87 94.5px,#fbe104 95.5px,#e9f116 96.5px,#50ffaf 97.5px,#0bf 98.5px,#005cff 99.5px,#0024ff 100.5px,#0004fd 101.5px,#0000c9 105.5px,#0000af 113.5px,#0000af 115.5px,#0000cf 119.5px,#0004fb 121.5px,#0038ff 122.5px,#0083ff 123.5px,#08eff7 124.5px,#2cffd3 125.5px,#02d5fd 126.5px,#0064ff 127.5px,#0016ff 128.5px,#0000e3 129.5px,#0000b9 131.5px,#00009f 134.5px,#00008f 142.5px,#000093 178.5px,#00b 182.5px,#00d 183.5px,#0020ff 184.5px,#0068ff 185.5px,#0046ff 186.5px,#0004ef 187.5px,#0000c3 188.5px,#00009f 190.5px,#00008f 194.5px,#00008f 518px)"></div><div style="top:39px;background:linear-gradient(90deg,#60ff9f 0px,#6f9 8.5px,#cb0e00 9.5px,#c30000 10.5px,#d70000 14.5px,#b70000 19.5px,#d30000 26.5px,#b00 31.5px,#a70000 32.5px,#a30000 34.5px,#ab0000 36.5px,#af0000 41.5px,#9f0000 42.5px,#d30000 44.5px,#db0000 45.5px,#c70000 46.5px,#ef0800 47.5px,#ff5800 48.5px,#f40 49.5px,#e70000 50.5px,#eb0800 51.5px,#ff6c00 52.5px,#ffb100 53.5px,#ff8f00 54.5px,#fb2400 55.5px,#e30000 56.5px,#ff3600 57.5px,#fb0 58.5px,#fffb00 59.5px,#ffd300 60.5px,#ef0400 62.5px,#f31000 63.5px,#ff9700 64.5px,#e7fb18 65.5px,#b9ff46 66.5px,#cbff34 67.5px,#fbdb04 68.5px,#ff5000 69.5px,#ff1c00 70.5px,#f90 71.5px,#b1ff4e 72.5px,#36ffc9 73.5px,#02f7fd 74.5px,#00e1ff 75.5px,#00e9ff 76.5px,#2affd5 77.5px,#b5ff4a 78.5px,#ff8b00 79.5px,#ff7000 80.5px,#cbf534 81.5px,#20f7df 82.5px,#009dff 83.5px,#005aff 84.5px,#0034ff 85.5px,#0012ff 87.5px,#0010ff 89.5px,#0040ff 91.5px,#0078ff 92.5px,#00cfff 93.5px,#78ff87 94.5px,#fbdf04 95.5px,#f3eb0c 96.5px,#6f9 97.5px,#00cbff 98.5px,#006aff 99.5px,#002eff 100.5px,#0008ff 101.5px,#0000cf 104.5px,#0000af 114.5px,#0000d3 119.5px,#0004fb 121.5px,#0038ff 122.5px,#0081ff 123.5px,#08e7f7 124.5px,#36ffc9 125.5px,#06e5f9 126.5px,#0076ff 127.5px,#0020ff 128.5px,#0000ed 129.5px,#0000bd 131.5px,#00009f 135.5px,#00009d 137.5px,#00008f 139.5px,#000093 178.5px,#0000b9 182.5px,#0000db 183.5px,#001aff 184.5px,#06f 185.5px,#0056ff 186.5px,#000af7 187.5px,#0000c9 188.5px,#00009f 190.5px,#00008f 194.5px,#00008f 518px)"></div><div style="top:41px;background:linear-gradient(90deg,#60ff9f 0px,#62ff9d 8.5px,#cb2800 9.5px,#c30000 10.5px,#d70000 14.5px,#b70000 19.5px,#d30000 26.5px,#bf0000 31.5px,#a70000 32.5px,#a30000 34.5px,#ab0000 36.5px,#af0000 41.5px,#9f0000 42.5px,#d30000 44.5px,#db0000 45.5px,#cb0000 46.5px,#ef0800 47.5px,#ff5800 48.5px,#f40 49.5px,#e70200 50.5px,#eb0600 51.5px,#ff6c00 52.5px,#ffaf00 53.5px,#ff9300 54.5px,#fd2400 55.5px,#df0000 56.5px,#ff3200 57.5px,#ffb900 58.5px,#fffb00 59.5px,#ffd700 60.5px,#f30600 62.5px,#f31000 63.5px,#ff9300 64.5px,#ebfb14 65.5px,#bf4 66.5px,#cbff34 67.5px,#fbdb04 68.5px,#ff5400 69.5px,#ff1a00 70.5px,#ff9100 71.5px,#bf4 72.5px,#3effc1 73.5px,#04fdfb 74.5px,#00e5ff 75.5px,#00efff 76.5px,#2cffd3 77.5px,#abff54 78.5px,#ff8d00 79.5px,#f60 80.5px,#d7f128 81.5px,#2afbd5 82.5px,#00a9ff 83.5px,#005eff 84.5px,#02f 86.5px,#0010ff 88.5px,#0024ff 90.5px,#0040ff 91.5px,#0078ff 92.5px,#00cfff 93.5px,#6aff95 94.5px,#f7df08 95.5px,#f9e106 96.5px,#78ff87 97.5px,#04d9fb 98.5px,#0076ff 99.5px,#0036ff 100.5px,#000eff 101.5px,#0000e1 103.5px,#0000bf 108.5px,#0000b3 114.5px,#0000d3 119.5px,#0004fb 121.5px,#0038ff 122.5px,#0080ff 123.5px,#08e7f7 124.5px,#3affc5 125.5px,#0eeff1 126.5px,#002aff 128.5px,#0002f5 129.5px,#0000c1 131.5px,#00009f 134.5px,#000095 138.5px,#000093 178.5px,#0000b7 182.5px,#0000d9 183.5px,#0012fb 184.5px,#0064ff 185.5px,#06f 186.5px,#0014fb 187.5px,#0000d3 188.5px,#0000a3 190.5px,#00008f 193.5px,#00008f 518px)"></div><div style="top:43px;background:linear-gradient(90deg,#60ff9f 0px,#60ff9f 8.5px,#c94006 9.5px,#bf0000 10.5px,#cf0000 12.5px,#cf0000 16.5px,#b70000 19.5px,#d30000 26.5px,#bf0000 31.5px,#a70000 32.5px,#a30000 34.5px,#ab0000 36.5px,#af0000 41.5px,#9f0000 42.5px,#d10000 44.5px,#db0000 45.5px,#cb0000 46.5px,#ef0800 47.5px,#ff5600 48.5px,#f40 49.5px,#e70400 50.5px,#e90400 51.5px,#ff6200 52.5px,#ffab00 53.5px,#ff9300 54.5px,#ff2400 55.5px,#df0000 56.5px,#ff3000 57.5px,#ffb300 58.5px,#fff700 59.5px,#ffd700 60.5px,#f30800 62.5px,#f30c00 63.5px,#ff8900 64.5px,#edf712 65.5px,#bfff40 66.5px,#cbff34 67.5px,#fbdb04 68.5px,#ff5e00 69.5px,#ff1800 70.5px,#ff8900 71.5px,#c5fd3a 72.5px,#4affb5 73.5px,#0afff5 74.5px,#00efff 75.5px,#00f3ff 76.5px,#2cffd3 77.5px,#abff54 78.5px,#f90 79.5px,#ff5e00 80.5px,#dfe920 81.5px,#36fdc9 82.5px,#00b1ff 83.5px,#0068ff 84.5px,#003cff 85.5px,#0010ff 88.5px,#0026ff 90.5px,#0040ff 91.5px,#0078ff 92.5px,#00cfff 93.5px,#68ff97 94.5px,#f7df08 95.5px,#fdd702 96.5px,#8dff72 97.5px,#0ae7f5 98.5px,#0081ff 99.5px,#003eff 100.5px,#0014ff 101.5px,#0000f7 102.5px,#0000cf 105.5px,#0000bf 111.5px,#0000bf 117.5px,#0008ff 121.5px,#0038ff 122.5px,#007eff 123.5px,#06e7f9 124.5px,#3effc1 125.5px,#18f9e7 126.5px,#09f 127.5px,#003aff 128.5px,#0004f9 129.5px,#0000c5 131.5px,#00009f 135.5px,#00009d 138.5px,#00008f 140.5px,#000097 178.5px,#0000b7 182.5px,#000cfb 184.5px,#005cff 185.5px,#0072ff 186.5px,#0024ff 187.5px,#00d 188.5px,#0000b7 189.5px,#00008f 193.5px,#00008f 518px)"></div><div style="top:45px;background:linear-gradient(90deg,#60ff9f 0px,#60ff9f 8.5px,#c14018 9.5px,#bf0000 10.5px,#cf0000 12.5px,#cf0000 16.5px,#b70000 19.5px,#d30000 26.5px,#bf0000 31.5px,#a70000 32.5px,#a30000 34.5px,#ab0000 36.5px,#af0000 41.5px,#9f0000 42.5px,#db0000 45.5px,#cb0000 46.5px,#ed0800 47.5px,#ff5400 48.5px,#ff4600 49.5px,#e70400 50.5px,#e70400 51.5px,#ff6000 52.5px,#ffab00 53.5px,#ff9300 54.5px,#ff2e00 55.5px,#df0000 56.5px,#fb2a00 57.5px,#ffad00 58.5px,#fff700 59.5px,#ffd900 60.5px,#f30800 62.5px,#f30800 63.5px,#ff8300 64.5px,#f1f70e 65.5px,#c3ff3c 66.5px,#cbff34 67.5px,#fbe504 68.5px,#ff6000 69.5px,#ff1800 70.5px,#ff7e00 71.5px,#cffb30 72.5px,#54ffab 73.5px,#10ffef 74.5px,#00f5ff 76.5px,#2cffd3 77.5px,#a7ff58 78.5px,#ff9d00 79.5px,#ff5e00 80.5px,#e7e318 81.5px,#3effc1 82.5px,#0bf 83.5px,#006aff 84.5px,#0040ff 85.5px,#0020ff 87.5px,#001eff 89.5px,#0040ff 91.5px,#0078ff 92.5px,#00cfff 93.5px,#62ff9d 94.5px,#f5e30a 95.5px,#ffcb00 96.5px,#a3ff5c 97.5px,#12efed 98.5px,#008dff 99.5px,#0048ff 100.5px,#001cff 101.5px,#0002fb 102.5px,#0000d1 105.5px,#0000bf 112.5px,#0000c1 117.5px,#0000e9 120.5px,#0008ff 121.5px,#0038ff 122.5px,#007cff 123.5px,#04e1fb 124.5px,#4fb 125.5px,#22fddd 126.5px,#00abff 127.5px,#0048ff 128.5px,#000cfd 129.5px,#0000b9 132.5px,#00009f 136.5px,#00008f 144.5px,#000097 178.5px,#0000b7 182.5px,#0000cf 183.5px,#000af9 184.5px,#0052ff 185.5px,#007cff 186.5px,#0034ff 187.5px,#0000e7 188.5px,#0000bf 189.5px,#00009f 191.5px,#00008f 195.5px,#00008f 518px)"></div><div style="top:47px;background:linear-gradient(90deg,#60ff9f 0px,#60ff9f 8.5px,#bd4e22 9.5px,#bf0000 10.5px,#cf0000 12.5px,#cf0000 16.5px,#b50000 19.5px,#d70000 25.5px,#bf0000 31.5px,#a70000 32.5px,#a30000 34.5px,#ab0000 36.5px,#af0000 41.5px,#9f0000 42.5px,#db0000 45.5px,#cb0000 46.5px,#eb0800 47.5px,#ff5400 48.5px,#ff4a00 49.5px,#e70400 50.5px,#e70400 51.5px,#ff6000 52.5px,#ffab00 53.5px,#ff9500 54.5px,#ff3000 55.5px,#df0000 56.5px,#fb2600 57.5px,#ffab00 58.5px,#fff300 59.5px,#ffdf00 60.5px,#ff7e00 61.5px,#f30a00 62.5px,#f10800 63.5px,#ff7e00 64.5px,#f3f50c 65.5px,#c3ff3c 66.5px,#cbff34 67.5px,#fbe704 68.5px,#f60 69.5px,#ff1800 70.5px,#ff7600 71.5px,#d7f728 72.5px,#60ff9f 73.5px,#1cffe3 74.5px,#02f9fd 75.5px,#00f9ff 76.5px,#2cffd3 77.5px,#a3ff5c 78.5px,#ffa700 79.5px,#ff5400 80.5px,#efdb10 81.5px,#4effb1 82.5px,#00c5ff 83.5px,#0078ff 84.5px,#0048ff 85.5px,#0020ff 87.5px,#0028ff 90.5px,#0046ff 91.5px,#0078ff 92.5px,#00cbff 93.5px,#5cffa3 94.5px,#f3e50c 95.5px,#ffbf00 96.5px,#b9ff46 97.5px,#1ef7e1 98.5px,#009dff 99.5px,#0052ff 100.5px,#02f 101.5px,#0004ff 102.5px,#0000cf 106.5px,#0000bf 114.5px,#0000cf 118.5px,#0008ff 121.5px,#0038ff 122.5px,#007cff 123.5px,#04ddfb 124.5px,#4fb 125.5px,#32ffcd 126.5px,#00c1ff 127.5px,#0056ff 128.5px,#0014ff 129.5px,#0000e7 130.5px,#0000af 133.5px,#00009f 137.5px,#00008f 143.5px,#000097 178.5px,#0000b5 182.5px,#0004f3 184.5px,#004cff 185.5px,#0081ff 186.5px,#0004f3 188.5px,#0000c7 189.5px,#00009f 191.5px,#00008f 195.5px,#00008f 518px)"></div><div style="top:49px;background:linear-gradient(90deg,#60ff9f 0px,#60ff9f 8.5px,#b96c26 9.5px,#bf0000 10.5px,#cf0000 12.5px,#cb0000 17.5px,#b30000 19.5px,#cf0000 23.5px,#cf0000 28.5px,#b00 31.5px,#a70000 32.5px,#a50000 37.5px,#af0000 41.5px,#9f0000 42.5px,#db0000 45.5px,#cb0000 46.5px,#eb0400 47.5px,#ff5400 48.5px,#ff4c00 49.5px,#e70400 50.5px,#e70400 51.5px,#ff5e00 52.5px,#ffab00 53.5px,#ff9700 54.5px,#ff3000 55.5px,#df0000 56.5px,#fb2400 57.5px,#ffa100 58.5px,#fff100 59.5px,#ffdf00 60.5px,#f31000 62.5px,#ef0600 63.5px,#ff7800 64.5px,#f3ef0c 65.5px,#c5ff3a 66.5px,#cbff34 67.5px,#fbe704 68.5px,#ff6c00 69.5px,#ff1800 70.5px,#ff6c00 71.5px,#e1f51e 72.5px,#6aff95 73.5px,#2fd 74.5px,#04fffb 75.5px,#04fffb 76.5px,#2cffd3 77.5px,#a3ff5c 78.5px,#ffa700 79.5px,#ff5200 80.5px,#f5d10a 81.5px,#62ff9d 82.5px,#00d3ff 83.5px,#0080ff 84.5px,#004eff 85.5px,#0026ff 87.5px,#0020ff 89.5px,#0048ff 91.5px,#0078ff 92.5px,#00c7ff 93.5px,#54ffab 94.5px,#efe710 95.5px,#ffb700 96.5px,#c9fd36 97.5px,#2afbd5 98.5px,#00abff 99.5px,#0058ff 100.5px,#0008ff 102.5px,#0000cf 106.5px,#0000bf 114.5px,#0000cf 118.5px,#0008ff 121.5px,#0038ff 122.5px,#007cff 123.5px,#04dbfb 124.5px,#46ffb9 125.5px,#4fb 126.5px,#02d5fd 127.5px,#006cff 128.5px,#0020ff 129.5px,#0000ef 130.5px,#0000b3 133.5px,#00009f 138.5px,#00008f 144.5px,#000097 178.5px,#0000b3 182.5px,#0004f3 184.5px,#0083ff 186.5px,#005aff 187.5px,#000af7 188.5px,#0000b3 190.5px,#000091 193.5px,#000091 368.5px,#00009f 369.5px,#00008f 373.5px,#00008f 518px)"></div><div style="top:51px;background:linear-gradient(90deg,#60ff9f 0px,#60ff9f 8.5px,#b38032 9.5px,#bf0000 10.5px,#cf0000 12.5px,#cb0000 17.5px,#b30000 19.5px,#cf0000 23.5px,#cf0000 28.5px,#b00 31.5px,#a70000 32.5px,#a30000 37.5px,#af0000 38.5px,#af0000 41.5px,#9f0000 42.5px,#db0000 45.5px,#c90000 46.5px,#eb0400 47.5px,#ff5400 48.5px,#ff4c00 49.5px,#e70400 50.5px,#e70400 51.5px,#ff5c00 52.5px,#ffab00 53.5px,#ff9700 54.5px,#ff3200 55.5px,#df0000 56.5px,#fb1e00 57.5px,#ff9f00 58.5px,#ffef00 59.5px,#ffe100 60.5px,#f31000 62.5px,#eb0400 63.5px,#ff6e00 64.5px,#f9ed06 65.5px,#cbff34 66.5px,#cbff34 67.5px,#fbe704 68.5px,#ff7000 69.5px,#ff1600 70.5px,#ff6400 71.5px,#e7ed18 72.5px,#76ff89 73.5px,#2cffd3 74.5px,#0afff5 75.5px,#06fff9 76.5px,#36ffc9 77.5px,#a3ff5c 78.5px,#ffad00 79.5px,#ff4c00 80.5px,#f9c306 81.5px,#72ff8d 82.5px,#04ddfb 83.5px,#0087ff 84.5px,#0054ff 85.5px,#002eff 87.5px,#0020ff 89.5px,#0048ff 91.5px,#0078ff 92.5px,#00c3ff 93.5px,#4cffb3 94.5px,#ebe914 95.5px,#ffaf00 96.5px,#d7f728 97.5px,#3affc5 98.5px,#00b7ff 99.5px,#0068ff 100.5px,#0030ff 101.5px,#000eff 102.5px,#0000e5 104.5px,#0000cf 107.5px,#0000cf 109.5px,#0000bf 111.5px,#0000bf 116.5px,#0000df 119.5px,#000aff 121.5px,#0038ff 122.5px,#007cff 123.5px,#02dbfd 124.5px,#4fb 125.5px,#52ffad 126.5px,#06e7f9 127.5px,#007eff 128.5px,#002cff 129.5px,#0002f7 130.5px,#0000c5 132.5px,#00009f 137.5px,#00009d 140.5px,#00008f 142.5px,#00008f 177.5px,#0000b3 182.5px,#0000c7 183.5px,#0000ed 184.5px,#0036ff 185.5px,#0083ff 186.5px,#006aff 187.5px,#0016fd 188.5px,#0000d7 189.5px,#0000a7 191.5px,#00008f 195.5px,#000093 368.5px,#00009f 370.5px,#00008f 374.5px,#00008f 518px)"></div><div style="top:53px;background:linear-gradient(90deg,#60ff9f 0px,#60ff9f 8.5px,#a98144 9.5px,#bf0000 10.5px,#cf0000 12.5px,#cb0000 17.5px,#b30000 19.5px,#cd0000 23.5px,#cf0000 28.5px,#b00 31.5px,#a70000 32.5px,#a30000 37.5px,#af0000 38.5px,#af0000 41.5px,#9f0000 42.5px,#db0000 45.5px,#c70000 46.5px,#e90400 47.5px,#ff5200 48.5px,#ff4c00 49.5px,#e70400 50.5px,#e70200 51.5px,#ff5200 52.5px,#ffa700 53.5px,#ff9700 54.5px,#ff3600 55.5px,#df0000 56.5px,#fb1800 57.5px,#ff9b00 58.5px,#ffeb00 59.5px,#ffe300 60.5px,#f91000 62.5px,#eb0400 63.5px,#f60 64.5px,#fbe704 65.5px,#d1ff2e 66.5px,#cdff32 67.5px,#fbe704 68.5px,#ff7000 69.5px,#ff1400 70.5px,#ff5800 71.5px,#efe910 72.5px,#81ff7e 73.5px,#34ffcb 74.5px,#14ffeb 75.5px,#0cfff3 76.5px,#38ffc7 77.5px,#9fff60 78.5px,#ffb700 79.5px,#ff4800 80.5px,#ffb700 81.5px,#83ff7c 82.5px,#08e9f7 83.5px,#0095ff 84.5px,#005eff 85.5px,#0030ff 87.5px,#0026ff 89.5px,#0048ff 91.5px,#0078ff 92.5px,#00c3ff 93.5px,#46ffb9 94.5px,#e3ed1c 95.5px,#ffa900 96.5px,#e5f11a 97.5px,#4effb1 98.5px,#00c5ff 99.5px,#0070ff 100.5px,#0038ff 101.5px,#0012ff 102.5px,#0000f9 103.5px,#0000cf 107.5px,#0000bf 115.5px,#0000df 119.5px,#0010ff 121.5px,#0038ff 122.5px,#0078ff 123.5px,#00d7ff 124.5px,#4fb 125.5px,#60ff9f 126.5px,#12f3ed 127.5px,#008fff 128.5px,#003aff 129.5px,#0008fb 130.5px,#0000bd 133.5px,#00009f 137.5px,#000095 141.5px,#00008f 177.5px,#0000b3 182.5px,#0000eb 184.5px,#002eff 185.5px,#007eff 186.5px,#007cff 187.5px,#0026ff 188.5px,#0000e3 189.5px,#0000bd 190.5px,#00008f 194.5px,#000093 368.5px,#00009f 370.5px,#00008f 374.5px,#00008f 518px)"></div><div style="top:55px;background:linear-gradient(90deg,#60ff9f 0px,#60ff9f 8.5px,#a3974c 9.5px,#bf0000 10.5px,#cf0000 12.5px,#cb0000 17.5px,#b30000 19.5px,#cb0000 23.5px,#cf0000 28.5px,#a70000 32.5px,#a30000 37.5px,#af0000 38.5px,#af0000 41.5px,#9f0000 42.5px,#db0000 45.5px,#c70000 46.5px,#e70400 47.5px,#ff5000 48.5px,#ff5000 49.5px,#eb0400 50.5px,#e50000 51.5px,#ff5000 52.5px,#ffa300 53.5px,#ff9700 54.5px,#ff3c00 55.5px,#e10000 56.5px,#f71800 57.5px,#ff9300 58.5px,#ffe700 59.5px,#ffe300 60.5px,#ff8700 61.5px,#fb1400 62.5px,#eb0000 63.5px,#ff6000 64.5px,#fbe104 65.5px,#d5ff2a 66.5px,#d3ff2c 67.5px,#fbe904 68.5px,#ff7200 69.5px,#ff1600 70.5px,#ff5000 71.5px,#f5e10a 72.5px,#8bff74 73.5px,#3cffc3 74.5px,#1affe5 75.5px,#12ffed 76.5px,#38ffc7 77.5px,#9fff60 78.5px,#ffb900 79.5px,#ff4600 80.5px,#ffa300 81.5px,#9f6 82.5px,#10efef 83.5px,#009dff 84.5px,#0068ff 85.5px,#0046ff 86.5px,#0030ff 88.5px,#0034ff 90.5px,#004aff 91.5px,#0078ff 92.5px,#00bfff 93.5px,#3cffc3 94.5px,#dff320 95.5px,#ffa500 96.5px,#efe710 97.5px,#62ff9d 98.5px,#02d7fd 99.5px,#007aff 100.5px,#003eff 101.5px,#0002fd 103.5px,#0000cf 107.5px,#0000cd 110.5px,#0000bf 112.5px,#0000bf 115.5px,#0000e1 119.5px,#0010ff 121.5px,#0038ff 122.5px,#0078ff 123.5px,#00d3ff 124.5px,#40ffbf 125.5px,#6aff95 126.5px,#20fbdf 127.5px,#00a7ff 128.5px,#004cff 129.5px,#0010ff 130.5px,#0000d1 132.5px,#0000a5 136.5px,#00009f 141.5px,#00008f 143.5px,#00008f 177.5px,#0000b1 182.5px,#0000e5 184.5px,#0024ff 185.5px,#0076ff 186.5px,#0089ff 187.5px,#003aff 188.5px,#0002ef 189.5px,#0000c5 190.5px,#00009f 192.5px,#00008f 197.5px,#000093 368.5px,#00009f 371.5px,#00008f 375.5px,#00008f 518px)"></div><div style="top:57px;background:linear-gradient(90deg,#60ff9f 0px,#60ff9f 8.5px,#a1b750 9.5px,#bf0000 10.5px,#cf0000 12.5px,#cf0000 16.5px,#b30000 19.5px,#cb0000 23.5px,#cf0000 28.5px,#a70000 33.5px,#a30000 37.5px,#af0000 38.5px,#af0000 41.5px,#9f0000 42.5px,#db0000 45.5px,#c70000 46.5px,#e70400 47.5px,#ff5000 48.5px,#ff5000 49.5px,#eb0400 50.5px,#e30000 51.5px,#ff5000 52.5px,#ffa300 53.5px,#f90 54.5px,#ff4000 55.5px,#e30000 56.5px,#f71600 57.5px,#ff8f00 58.5px,#ffe300 59.5px,#ffe300 60.5px,#ff8b00 61.5px,#fb1800 62.5px,#eb0000 63.5px,#ff5600 64.5px,#ffdb00 65.5px,#dbff24 66.5px,#d3ff2c 67.5px,#fbeb04 68.5px,#ff7600 69.5px,#ff1800 70.5px,#ff4600 71.5px,#f9d706 72.5px,#95ff6a 73.5px,#48ffb7 74.5px,#24ffdb 75.5px,#16ffe9 76.5px,#38ffc7 77.5px,#9dff62 78.5px,#fdc302 79.5px,#ff4200 80.5px,#ff9300 81.5px,#afff50 82.5px,#18f7e7 83.5px,#00a9ff 84.5px,#006eff 85.5px,#004cff 86.5px,#0030ff 88.5px,#0038ff 90.5px,#0078ff 92.5px,#00bdff 93.5px,#36ffc9 94.5px,#d7f728 95.5px,#ffa100 96.5px,#f7dd08 97.5px,#76ff89 98.5px,#06e3f9 99.5px,#0087ff 100.5px,#0048ff 101.5px,#0004ff 103.5px,#0000d1 107.5px,#0000c7 111.5px,#0000c5 115.5px,#0000e3 119.5px,#0010ff 121.5px,#0038ff 122.5px,#0078ff 123.5px,#00cfff 124.5px,#3cffc3 125.5px,#74ff8b 126.5px,#34ffcb 127.5px,#00bdff 128.5px,#005cff 129.5px,#001cff 130.5px,#0000f3 131.5px,#0000c5 133.5px,#00009f 138.5px,#009 142.5px,#00008f 147.5px,#00008f 177.5px,#0000af 182.5px,#0000df 184.5px,#001aff 185.5px,#006eff 186.5px,#0097ff 187.5px,#0006f5 189.5px,#0000b3 191.5px,#00008f 195.5px,#000091 368.5px,#00009f 370.5px,#00009f 372.5px,#00008f 374.5px,#00008f 518px)"></div><div style="top:59px;background:linear-gradient(90deg,#60ff9f 0px,#60ff9f 8.5px,#95bf62 9.5px,#bf0000 10.5px,#cf0000 12.5px,#cf0000 16.5px,#b30000 19.5px,#cb0000 23.5px,#cf0000 28.5px,#a70000 33.5px,#a30000 37.5px,#af0000 38.5px,#a70000 40.5px,#ad0000 41.5px,#9f0000 42.5px,#db0000 45.5px,#c70000 46.5px,#e70400 47.5px,#ff4e00 48.5px,#ff5000 49.5px,#eb0400 50.5px,#df0000 51.5px,#ff5000 52.5px,#ffa300 53.5px,#ff9d00 54.5px,#ff4000 55.5px,#e30000 56.5px,#f31000 57.5px,#ff8d00 58.5px,#ffe300 59.5px,#ffe300 60.5px,#ff8f00 61.5px,#fb1800 62.5px,#e90000 63.5px,#ff5200 64.5px,#ffd700 65.5px,#dfff20 66.5px,#d5ff2a 67.5px,#fbeb04 68.5px,#ff1800 70.5px,#ff3e00 71.5px,#fbcf04 72.5px,#a3ff5c 73.5px,#50ffaf 74.5px,#2affd5 75.5px,#20ffdf 76.5px,#3cffc3 77.5px,#97ff68 78.5px,#fbc304 79.5px,#ff4200 80.5px,#ff8700 81.5px,#bffd40 82.5px,#26fbd9 83.5px,#00b7ff 84.5px,#007aff 85.5px,#0040ff 87.5px,#0030ff 89.5px,#0050ff 91.5px,#0078ff 92.5px,#0bf 93.5px,#2efdd1 94.5px,#cff930 95.5px,#ff9f00 96.5px,#fdcf02 97.5px,#8fff70 98.5px,#0cedf3 99.5px,#0093ff 100.5px,#0050ff 101.5px,#0008ff 103.5px,#0000cf 109.5px,#0000c3 114.5px,#0000db 118.5px,#0000f7 120.5px,#0010ff 121.5px,#0038ff 122.5px,#0078ff 123.5px,#00c9ff 124.5px,#38ffc7 125.5px,#7aff85 126.5px,#4cffb3 127.5px,#02d5fd 128.5px,#0072ff 129.5px,#002aff 130.5px,#0004f9 131.5px,#0000c9 133.5px,#0000af 135.5px,#00009f 141.5px,#00008f 147.5px,#00008f 177.5px,#00009f 179.5px,#0000af 182.5px,#00d 184.5px,#0012fd 185.5px,#0062ff 186.5px,#09f 187.5px,#0064ff 188.5px,#0010fb 189.5px,#0000b7 191.5px,#00008f 196.5px,#00008f 368.5px,#00009f 370.5px,#00008f 378.5px,#00008f 518px)"></div><div style="top:61px;background:linear-gradient(90deg,#60ff9f 0px,#60ff9f 8.5px,#8fc970 9.5px,#b00 10.5px,#cf0000 11.5px,#cf0000 16.5px,#b30000 19.5px,#cb0000 23.5px,#cf0000 28.5px,#a70000 33.5px,#ab0000 36.5px,#9f0000 37.5px,#af0000 38.5px,#a50000 40.5px,#ab0000 41.5px,#9f0000 42.5px,#db0000 45.5px,#c70000 46.5px,#e70400 47.5px,#ff4a00 48.5px,#ff5000 49.5px,#eb0800 50.5px,#df0000 51.5px,#ff4c00 52.5px,#ffa300 53.5px,#ff9f00 54.5px,#ff4200 55.5px,#e50000 56.5px,#f31000 57.5px,#ff8300 58.5px,#ffe300 59.5px,#ffe300 60.5px,#ff8f00 61.5px,#fb1a00 62.5px,#e50000 63.5px,#ff4800 64.5px,#ffcb00 65.5px,#e7ff18 66.5px,#d7ff28 67.5px,#fbeb04 68.5px,#ff1c00 70.5px,#ff3400 71.5px,#ffc300 72.5px,#b1ff4e 73.5px,#58ffa7 74.5px,#34ffcb 75.5px,#2fd 76.5px,#40ffbf 77.5px,#95ff6a 78.5px,#fbcd04 79.5px,#ff4000 80.5px,#ff7400 81.5px,#cff730 82.5px,#32ffcd 83.5px,#00c5ff 84.5px,#0083ff 85.5px,#005cff 86.5px,#003eff 88.5px,#0040ff 90.5px,#0052ff 91.5px,#0078ff 92.5px,#00b9ff 93.5px,#28fbd7 94.5px,#c3fb3c 95.5px,#ffa300 96.5px,#ffbf00 97.5px,#a5ff5a 98.5px,#16f5e9 99.5px,#009fff 100.5px,#005aff 101.5px,#000eff 103.5px,#0000eb 105.5px,#0000cf 109.5px,#0000cf 117.5px,#0000f7 120.5px,#0010ff 121.5px,#0038ff 122.5px,#0076ff 123.5px,#00c5ff 124.5px,#32ffcd 125.5px,#7cff83 126.5px,#5effa1 127.5px,#08ebf7 128.5px,#0085ff 129.5px,#0038ff 130.5px,#000afd 131.5px,#0000b5 135.5px,#00009f 139.5px,#00009d 143.5px,#00008f 146.5px,#00008f 177.5px,#00009f 179.5px,#0000af 182.5px,#0000d9 184.5px,#000cfb 185.5px,#009bff 187.5px,#007aff 188.5px,#0020ff 189.5px,#0000e1 190.5px,#0000ad 192.5px,#00008f 196.5px,#00008f 368.5px,#00009f 370.5px,#000095 374.5px,#00008f 518px)"></div><div style="top:63px;background:linear-gradient(90deg,#60ff9f 0px,#60ff9f 8.5px,#89e976 9.5px,#bd0000 10.5px,#cf0000 11.5px,#cf0000 16.5px,#b30000 19.5px,#cb0000 23.5px,#cf0000 28.5px,#9f0000 34.5px,#ab0000 36.5px,#9f0000 37.5px,#af0000 38.5px,#a30000 40.5px,#ab0000 41.5px,#9f0000 42.5px,#db0000 45.5px,#c70000 46.5px,#e70400 47.5px,#f40 48.5px,#ff5000 49.5px,#eb0800 50.5px,#df0000 51.5px,#ff4600 52.5px,#ffa300 53.5px,#ffa300 54.5px,#ff4800 55.5px,#e70000 56.5px,#f30e00 57.5px,#ffe100 59.5px,#ffe300 60.5px,#ff9300 61.5px,#fb2000 62.5px,#e30000 63.5px,#ff4200 64.5px,#ffc900 65.5px,#ebff14 66.5px,#dfff20 67.5px,#fbeb04 68.5px,#ff1800 70.5px,#ff3000 71.5px,#ffb900 72.5px,#b9ff46 73.5px,#64ff9b 74.5px,#3affc5 75.5px,#2cffd3 76.5px,#48ffb7 77.5px,#93ff6c 78.5px,#fbcf04 79.5px,#ff4800 80.5px,#ff6400 81.5px,#dfef20 82.5px,#46ffb9 83.5px,#00d3ff 84.5px,#008bff 85.5px,#0064ff 86.5px,#0040ff 88.5px,#0040ff 90.5px,#0078ff 92.5px,#00b7ff 93.5px,#24fbdb 94.5px,#bf4 95.5px,#ffa700 96.5px,#ffaf00 97.5px,#bdff42 98.5px,#26fbd9 99.5px,#00adff 100.5px,#0032ff 102.5px,#0000fd 104.5px,#0000df 107.5px,#0000cf 111.5px,#0000d3 117.5px,#0000f9 120.5px,#0014ff 121.5px,#006cff 123.5px,#00c1ff 124.5px,#2cffd3 125.5px,#83ff7c 126.5px,#72ff8d 127.5px,#14f5eb 128.5px,#009dff 129.5px,#004aff 130.5px,#0014ff 131.5px,#0000ef 132.5px,#0000c5 134.5px,#00009f 139.5px,#009 144.5px,#00008f 149.5px,#00008f 177.5px,#00009f 179.5px,#0000af 182.5px,#0000d7 184.5px,#0008f9 185.5px,#0048ff 186.5px,#09f 187.5px,#008bff 188.5px,#0036ff 189.5px,#0000ed 190.5px,#0000c5 191.5px,#0000a1 193.5px,#00008f 198.5px,#00008f 368.5px,#00009f 372.5px,#00009d 374.5px,#00008f 376.5px,#00008f 518px)"></div><div style="top:65px;background:linear-gradient(90deg,#60ff9f 0px,#60ff9f 8.5px,#7eff81 9.5px,#c10000 10.5px,#cf0000 12.5px,#cf0000 16.5px,#b30000 19.5px,#cb0000 23.5px,#cf0000 28.5px,#9f0000 34.5px,#9f0000 37.5px,#af0000 38.5px,#a30000 40.5px,#ab0000 41.5px,#9f0000 42.5px,#db0000 45.5px,#c70000 46.5px,#e70000 47.5px,#f40 48.5px,#ff5000 49.5px,#eb0800 50.5px,#df0000 51.5px,#ff4000 52.5px,#ffa300 53.5px,#ffa300 54.5px,#ff4c00 55.5px,#e70000 56.5px,#f30800 57.5px,#ff7e00 58.5px,#ffd900 59.5px,#ffe300 60.5px,#f90 61.5px,#fb2400 62.5px,#e30000 63.5px,#ff3e00 64.5px,#ffbd00 65.5px,#efff10 66.5px,#e1ff1e 67.5px,#fbeb04 68.5px,#ff1800 70.5px,#ff2c00 71.5px,#ffab00 72.5px,#c5ff3a 73.5px,#6cff93 74.5px,#42ffbd 75.5px,#30ffcf 76.5px,#4affb5 77.5px,#93ff6c 78.5px,#f7d508 79.5px,#ff4800 80.5px,#ff5600 81.5px,#e9e716 82.5px,#5affa5 83.5px,#02e1fd 84.5px,#0097ff 85.5px,#006cff 86.5px,#0046ff 88.5px,#04f 90.5px,#007aff 92.5px,#00b5ff 93.5px,#1afbe5 94.5px,#afff50 95.5px,#ffb100 96.5px,#ffa100 97.5px,#cff930 98.5px,#36ffc9 99.5px,#00bfff 100.5px,#0070ff 101.5px,#0018ff 103.5px,#0000f1 105.5px,#0000cf 110.5px,#0000d7 117.5px,#0000fb 120.5px,#003cff 122.5px,#006aff 123.5px,#00bdff 124.5px,#26ffd9 125.5px,#80ff80 126.5px,#81ff7e 127.5px,#2afdd5 128.5px,#00b5ff 129.5px,#005cff 130.5px,#0020ff 131.5px,#0002f7 132.5px,#0000bf 135.5px,#00009f 140.5px,#000095 145.5px,#000091 177.5px,#00009f 179.5px,#0000af 182.5px,#0000d1 184.5px,#0004f5 185.5px,#003eff 186.5px,#0095ff 187.5px,#009dff 188.5px,#0048ff 189.5px,#0006f5 190.5px,#0000b5 192.5px,#00008f 197.5px,#00008f 368.5px,#00009f 372.5px,#00008f 380.5px,#00008f 518px)"></div><div style="top:67px;background:linear-gradient(90deg,#60ff9f 0px,#60ff9f 8.5px,#6cff93 9.5px,#cf0400 10.5px,#c70000 17.5px,#b30000 19.5px,#cb0000 23.5px,#cf0000 28.5px,#9f0000 34.5px,#9f0000 37.5px,#af0000 38.5px,#a10000 40.5px,#9f0000 42.5px,#ab0000 43.5px,#db0000 45.5px,#c70000 46.5px,#e70000 47.5px,#f40 48.5px,#ff5000 49.5px,#ed0800 50.5px,#db0000 51.5px,#ff4000 52.5px,#ff9d00 53.5px,#ffa300 54.5px,#ff4c00 55.5px,#e70000 56.5px,#f10800 57.5px,#ffd700 59.5px,#ffe300 60.5px,#ff9b00 61.5px,#ff2400 62.5px,#e50000 63.5px,#ff3200 64.5px,#ffb900 65.5px,#f5fb0a 66.5px,#e3ff1c 67.5px,#fbeb04 68.5px,#ff1c00 70.5px,#ff2400 71.5px,#ffa100 72.5px,#d1ff2e 73.5px,#78ff87 74.5px,#4affb5 75.5px,#38ffc7 76.5px,#4cffb3 77.5px,#93ff6c 78.5px,#f7d908 79.5px,#ff4e00 80.5px,#ff4c00 81.5px,#f5d90a 82.5px,#6eff91 83.5px,#06ebf9 84.5px,#00a3ff 85.5px,#0074ff 86.5px,#004eff 88.5px,#0042ff 89.5px,#0058ff 91.5px,#00afff 93.5px,#18f7e7 94.5px,#a3ff5c 95.5px,#ffb700 96.5px,#ff9500 97.5px,#e1f31e 98.5px,#4effb1 99.5px,#00cdff 100.5px,#007aff 101.5px,#0042ff 102.5px,#0006ff 104.5px,#0000df 108.5px,#0000cf 113.5px,#0000cf 116.5px,#0000fb 120.5px,#003cff 122.5px,#0068ff 123.5px,#00b9ff 124.5px,#22fbdd 125.5px,#7eff81 126.5px,#91ff6e 127.5px,#42ffbd 128.5px,#00cdff 129.5px,#0072ff 130.5px,#0032ff 131.5px,#0006fd 132.5px,#0000c1 135.5px,#00009f 140.5px,#00009f 145.5px,#00008f 147.5px,#000093 177.5px,#0000af 182.5px,#0000cf 184.5px,#0000f1 185.5px,#0030ff 186.5px,#0085ff 187.5px,#00a7ff 188.5px,#0010fb 190.5px,#0000b9 192.5px,#00009f 194.5px,#00008f 199.5px,#000095 369.5px,#00009f 374.5px,#00008f 379.5px,#00008f 518px)"></div><div style="top:69px;background:linear-gradient(90deg,#60ff9f 0px,#64ff9b 9.5px,#cf2200 10.5px,#cb0000 11.5px,#c70000 17.5px,#b30000 19.5px,#cb0000 23.5px,#cf0000 28.5px,#9f0000 34.5px,#9f0000 37.5px,#af0000 38.5px,#9f0000 40.5px,#a90000 43.5px,#cb0000 44.5px,#db0000 45.5px,#c70000 46.5px,#e10000 47.5px,#f40 48.5px,#ff5400 49.5px,#ef0800 50.5px,#db0000 51.5px,#ff4000 52.5px,#f90 53.5px,#ffa300 54.5px,#ff4e00 55.5px,#e70400 56.5px,#ed0800 57.5px,#ff7000 58.5px,#ffd700 59.5px,#ffe300 60.5px,#ff9b00 61.5px,#ff2400 62.5px,#e70000 63.5px,#ff3000 64.5px,#ffaf00 65.5px,#f7fb08 66.5px,#e7ff18 67.5px,#fbeb04 68.5px,#ff1c00 70.5px,#ff1c00 71.5px,#ff9500 72.5px,#dbfb24 73.5px,#81ff7e 74.5px,#52ffad 75.5px,#40ffbf 76.5px,#50ffaf 77.5px,#93ff6c 78.5px,#f7e108 79.5px,#ff5400 80.5px,#ff4000 81.5px,#f9c906 82.5px,#83ff7c 83.5px,#0ef3f1 84.5px,#00afff 85.5px,#007eff 86.5px,#0052ff 88.5px,#005aff 91.5px,#00abff 93.5px,#14f7eb 94.5px,#97ff68 95.5px,#ffc300 96.5px,#ff8b00 97.5px,#efe910 98.5px,#64ff9b 99.5px,#02ddfd 100.5px,#0087ff 101.5px,#004eff 102.5px,#000aff 104.5px,#0000df 108.5px,#0000cf 114.5px,#0000d1 116.5px,#0000ef 119.5px,#00f 120.5px,#003cff 122.5px,#0068ff 123.5px,#00b3ff 124.5px,#1afbe5 125.5px,#7aff85 126.5px,#9bff64 127.5px,#5cffa3 128.5px,#06e3f9 129.5px,#0085ff 130.5px,#0040ff 131.5px,#000eff 132.5px,#0000d7 134.5px,#0000af 137.5px,#00009f 143.5px,#00009d 146.5px,#00008f 149.5px,#000093 177.5px,#0000b7 183.5px,#0000ed 185.5px,#0028ff 186.5px,#007cff 187.5px,#00adff 188.5px,#0078ff 189.5px,#001eff 190.5px,#0000e3 191.5px,#0000af 193.5px,#00008f 198.5px,#000093 369.5px,#00009f 372.5px,#009 376.5px,#00008f 381.5px,#00008f 518px)"></div><div style="top:71px;background:linear-gradient(90deg,#60ff9f 0px,#60ff9f 9.5px,#cb3e06 10.5px,#cb0000 11.5px,#cf0000 16.5px,#b30000 19.5px,#cf0000 26.5px,#cf0000 28.5px,#9f0000 34.5px,#9f0000 37.5px,#ab0000 38.5px,#9f0000 42.5px,#a70000 43.5px,#db0000 45.5px,#c30000 46.5px,#df0000 47.5px,#ff4200 48.5px,#ff5400 49.5px,#ef0800 50.5px,#db0000 51.5px,#ff4000 52.5px,#ff9700 53.5px,#ffa300 54.5px,#ff5200 55.5px,#e70400 56.5px,#e90400 57.5px,#ff6e00 58.5px,#ffd500 59.5px,#ffe500 60.5px,#ff9d00 61.5px,#ff2c00 62.5px,#e50000 63.5px,#ff2a00 64.5px,#ffab00 65.5px,#f9fb06 66.5px,#efff10 67.5px,#ffeb00 68.5px,#ff1c00 70.5px,#ff1a00 71.5px,#ff8b00 72.5px,#e3f91c 73.5px,#89ff76 74.5px,#5cffa3 75.5px,#46ffb9 76.5px,#54ffab 77.5px,#93ff6c 78.5px,#f7e308 79.5px,#ff5800 80.5px,#ff3600 81.5px,#fb0 82.5px,#97ff68 83.5px,#16f9e9 84.5px,#00b9ff 85.5px,#0087ff 86.5px,#005aff 88.5px,#0050ff 90.5px,#007cff 92.5px,#00a9ff 93.5px,#10f3ef 94.5px,#8bff74 95.5px,#fdcb02 96.5px,#ff8300 97.5px,#f7dd08 98.5px,#7cff83 99.5px,#08ebf7 100.5px,#0093ff 101.5px,#0056ff 102.5px,#0012ff 104.5px,#0000fd 105.5px,#0000df 108.5px,#00d 110.5px,#0000cf 112.5px,#0000d5 116.5px,#0004ff 120.5px,#003cff 122.5px,#0068ff 123.5px,#00afff 124.5px,#16f9e9 125.5px,#74ff8b 126.5px,#a5ff5a 127.5px,#72ff8d 128.5px,#14f3eb 129.5px,#009dff 130.5px,#0050ff 131.5px,#001eff 132.5px,#0000f7 133.5px,#0000bf 136.5px,#00009f 141.5px,#00009b 147.5px,#00008f 150.5px,#000097 177.5px,#0000af 182.5px,#0000c7 184.5px,#0000e9 185.5px,#001aff 186.5px,#00b1ff 188.5px,#008dff 189.5px,#0034ff 190.5px,#0002ef 191.5px,#0000b3 193.5px,#00008f 198.5px,#00008f 369.5px,#00009f 371.5px,#0000af 373.5px,#00008f 379.5px,#00008f 518px)"></div><div style="top:73px;background:linear-gradient(90deg,#60ff9f 0px,#60ff9f 9.5px,#c1421c 10.5px,#cb0000 11.5px,#cf0000 16.5px,#b10000 19.5px,#cf0000 25.5px,#cd0000 28.5px,#9f0000 34.5px,#9f0000 37.5px,#ab0000 38.5px,#9f0000 41.5px,#a70000 43.5px,#db0000 45.5px,#c30000 46.5px,#db0000 47.5px,#ff4000 48.5px,#ff5400 49.5px,#ef0800 50.5px,#db0000 51.5px,#ff3c00 52.5px,#ff9700 53.5px,#ffa300 54.5px,#ff5600 55.5px,#e90400 56.5px,#e70400 57.5px,#ff6400 58.5px,#ffcf00 59.5px,#ffe700 60.5px,#ffa300 61.5px,#ff3000 62.5px,#e30000 63.5px,#fd2400 64.5px,#ff9f00 65.5px,#fbf304 66.5px,#efff10 67.5px,#ffe900 68.5px,#ff8f00 69.5px,#ff1c00 70.5px,#ff1400 71.5px,#ff8100 72.5px,#ebf514 73.5px,#97ff68 74.5px,#6f9 75.5px,#50ffaf 76.5px,#58ffa7 77.5px,#93ff6c 78.5px,#f1e70e 79.5px,#ff5e00 80.5px,#ff2e00 81.5px,#ffa500 82.5px,#abff54 83.5px,#26fdd9 84.5px,#00c9ff 85.5px,#0091ff 86.5px,#0060ff 88.5px,#0052ff 90.5px,#007cff 92.5px,#00a7ff 93.5px,#0ef3f1 94.5px,#81ff7e 95.5px,#f9d306 96.5px,#ff7a00 97.5px,#fdcb02 98.5px,#93ff6c 99.5px,#14f3eb 100.5px,#00a3ff 101.5px,#0062ff 102.5px,#0034ff 103.5px,#0002ff 105.5px,#0000df 109.5px,#0000cf 115.5px,#0004ff 120.5px,#003cff 122.5px,#0068ff 123.5px,#10f7ef 125.5px,#70ff8f 126.5px,#abff54 127.5px,#89ff76 128.5px,#26fdd9 129.5px,#00b7ff 130.5px,#0062ff 131.5px,#0028ff 132.5px,#0006fd 133.5px,#0000c3 136.5px,#00009f 142.5px,#009 148.5px,#00008f 153.5px,#000097 177.5px,#00009f 181.5px,#0000c7 184.5px,#0000e1 185.5px,#0012ff 186.5px,#00afff 188.5px,#00a3ff 189.5px,#004aff 190.5px,#0008f7 191.5px,#0000b9 193.5px,#00009f 195.5px,#00008f 200.5px,#00008f 369.5px,#0000af 374.5px,#00008f 379.5px,#00008f 518px)"></div><div style="top:75px;background:linear-gradient(90deg,#60ff9f 0px,#60ff9f 9.5px,#bb5e24 10.5px,#cb0000 11.5px,#cf0000 16.5px,#af0000 19.5px,#cf0000 25.5px,#b00 30.5px,#9f0000 33.5px,#9f0000 37.5px,#ab0000 38.5px,#9f0000 41.5px,#a70000 43.5px,#db0000 45.5px,#c30000 46.5px,#db0000 47.5px,#ff4000 48.5px,#ff5400 49.5px,#f30800 50.5px,#db0000 51.5px,#ff3600 52.5px,#ff9700 53.5px,#ffa300 54.5px,#ef0400 56.5px,#e70400 57.5px,#ff6000 58.5px,#ffc900 59.5px,#ffe700 60.5px,#ffa700 61.5px,#ff3000 62.5px,#e30000 63.5px,#fb2400 64.5px,#ff9d00 65.5px,#fff300 66.5px,#efff10 67.5px,#ffe700 68.5px,#ff8f00 69.5px,#ff2000 70.5px,#ff0e00 71.5px,#ff7400 72.5px,#f1ef0e 73.5px,#9dff62 74.5px,#6cff93 75.5px,#54ffab 76.5px,#5effa1 77.5px,#95ff6a 78.5px,#efe910 79.5px,#ff6400 80.5px,#ff2600 81.5px,#ff9100 82.5px,#c1ff3e 83.5px,#34ffcb 84.5px,#00d7ff 85.5px,#009bff 86.5px,#0078ff 87.5px,#0060ff 89.5px,#0064ff 91.5px,#00a7ff 93.5px,#08eff7 94.5px,#76ff89 95.5px,#f5db0a 96.5px,#ff7a00 97.5px,#ffb700 98.5px,#abff54 99.5px,#1efbe1 100.5px,#00afff 101.5px,#006aff 102.5px,#001cff 104.5px,#0000f7 106.5px,#0000df 109.5px,#0000cf 114.5px,#0004ff 120.5px,#003cff 122.5px,#0068ff 123.5px,#0ef3f1 125.5px,#6aff95 126.5px,#adff52 127.5px,#9bff64 128.5px,#40ffbf 129.5px,#00cfff 130.5px,#0078ff 131.5px,#000cff 133.5px,#0000c9 136.5px,#0000af 139.5px,#00009f 144.5px,#000097 149.5px,#00008f 176.5px,#00009f 180.5px,#0000b3 183.5px,#000cfb 186.5px,#0050ff 187.5px,#00a5ff 188.5px,#00b3ff 189.5px,#0012fd 191.5px,#00d 192.5px,#0000af 194.5px,#00008f 199.5px,#00008f 369.5px,#0000af 374.5px,#00008f 380.5px,#00008f 518px)"></div><div style="top:77px;background:linear-gradient(90deg,#60ff9f 0px,#60ff9f 9.5px,#b57e2e 10.5px,#cb0000 11.5px,#cf0000 16.5px,#af0000 19.5px,#cf0000 26.5px,#b00 30.5px,#9f0000 33.5px,#9f0000 37.5px,#ab0000 38.5px,#9f0000 41.5px,#a70000 43.5px,#d90000 45.5px,#c30000 46.5px,#db0000 47.5px,#ff3c00 48.5px,#ff5400 49.5px,#f30a00 50.5px,#db0000 51.5px,#ff3000 52.5px,#ff9700 53.5px,#ffa300 54.5px,#ef0400 56.5px,#e70200 57.5px,#ff5e00 58.5px,#ffc700 59.5px,#ffe700 60.5px,#ffa700 61.5px,#ff3400 62.5px,#e30000 63.5px,#fb1a00 64.5px,#ff9300 65.5px,#ffed00 66.5px,#f5ff0a 67.5px,#ffe700 68.5px,#ff8f00 69.5px,#ff2000 70.5px,#ff0c00 71.5px,#ff7000 72.5px,#f7e708 73.5px,#a9ff56 74.5px,#76ff89 75.5px,#5cffa3 76.5px,#64ff9b 77.5px,#97ff68 78.5px,#efed10 79.5px,#ff6c00 80.5px,#ff2400 81.5px,#ff7e00 82.5px,#d1f92e 83.5px,#48ffb7 84.5px,#00e3ff 85.5px,#00a5ff 86.5px,#0081ff 87.5px,#0062ff 89.5px,#0068ff 91.5px,#00a7ff 93.5px,#08edf7 94.5px,#6cff93 95.5px,#f1e30e 96.5px,#ff7c00 97.5px,#ffa500 98.5px,#c3fd3c 99.5px,#32ffcd 100.5px,#00c1ff 101.5px,#0078ff 102.5px,#04f 103.5px,#000cff 105.5px,#0000e9 108.5px,#0000d9 114.5px,#0000df 117.5px,#0006ff 120.5px,#003cff 122.5px,#0068ff 123.5px,#0af1f5 125.5px,#b3ff4c 127.5px,#adff52 128.5px,#5cffa3 129.5px,#06e5f9 130.5px,#008dff 131.5px,#004aff 132.5px,#0018ff 133.5px,#0000f7 134.5px,#0000c1 137.5px,#00009f 143.5px,#000097 150.5px,#00008f 176.5px,#00009f 180.5px,#0000b3 183.5px,#0000d7 185.5px,#0006fb 186.5px,#04f 187.5px,#09f 188.5px,#00bdff 189.5px,#007cff 190.5px,#02f 191.5px,#0000e7 192.5px,#0000b3 194.5px,#00008f 199.5px,#000095 370.5px,#0000af 375.5px,#00008f 380.5px,#00008f 518px)"></div><div style="top:79px;background:linear-gradient(90deg,#60ff9f 0px,#60ff9f 9.5px,#a98344 10.5px,#c70000 11.5px,#cd0000 16.5px,#af0000 19.5px,#cf0000 26.5px,#b00 30.5px,#9f0000 33.5px,#a90000 38.5px,#9f0000 42.5px,#a70000 43.5px,#d70000 45.5px,#c30000 46.5px,#db0000 47.5px,#ff3c00 48.5px,#ff5400 49.5px,#f30c00 50.5px,#d70000 51.5px,#ff3000 52.5px,#ff9500 53.5px,#ffa300 54.5px,#f30600 56.5px,#e70000 57.5px,#ff5400 58.5px,#ffc300 59.5px,#ffe500 60.5px,#ffab00 61.5px,#ff3a00 62.5px,#e30000 63.5px,#fb1800 64.5px,#ff8d00 65.5px,#ffe700 66.5px,#ff0 67.5px,#ffe700 68.5px,#ff8f00 69.5px,#ff2400 70.5px,#ff0c00 71.5px,#ff6000 72.5px,#fbe104 73.5px,#b3ff4c 74.5px,#7eff81 75.5px,#6f9 76.5px,#6f9 77.5px,#97ff68 78.5px,#efef10 79.5px,#ff7200 80.5px,#ff1a00 81.5px,#ff6e00 82.5px,#e1f11e 83.5px,#5affa5 84.5px,#04effb 85.5px,#00b1ff 86.5px,#0076ff 88.5px,#0060ff 90.5px,#0080ff 92.5px,#00a7ff 93.5px,#04ebfb 94.5px,#62ff9d 95.5px,#ebe914 96.5px,#ff7e00 97.5px,#ff9300 98.5px,#d7f928 99.5px,#48ffb7 100.5px,#00d3ff 101.5px,#0083ff 102.5px,#0028ff 104.5px,#00f 106.5px,#0000df 110.5px,#0000e1 117.5px,#0008ff 120.5px,#003cff 122.5px,#0068ff 123.5px,#08eff7 125.5px,#b1ff4e 127.5px,#b9ff46 128.5px,#74ff8b 129.5px,#14f5eb 130.5px,#00a5ff 131.5px,#005cff 132.5px,#0026ff 133.5px,#0006fd 134.5px,#0000c5 137.5px,#0000af 140.5px,#00009f 145.5px,#000097 151.5px,#00008f 176.5px,#00009f 178.5px,#00009f 181.5px,#0000d7 185.5px,#0004f7 186.5px,#0038ff 187.5px,#008bff 188.5px,#00c5ff 189.5px,#0097ff 190.5px,#003aff 191.5px,#0002f5 192.5px,#0000b7 194.5px,#00008f 199.5px,#000091 370.5px,#0000af 375.5px,#00008f 381.5px,#00008f 518px)"></div><div style="top:81px;background:linear-gradient(90deg,#60ff9f 0px,#60ff9f 9.5px,#a5a14c 10.5px,#c70000 11.5px,#cb0000 16.5px,#af0000 19.5px,#cf0000 26.5px,#af0000 31.5px,#9f0000 34.5px,#a70000 43.5px,#d70000 45.5px,#c30000 46.5px,#d90000 47.5px,#ff3c00 48.5px,#ff5400 49.5px,#f30c00 50.5px,#d70000 51.5px,#ff3000 52.5px,#ff8f00 53.5px,#ffa300 54.5px,#f30800 56.5px,#e50000 57.5px,#ff5000 58.5px,#ffc300 59.5px,#ffe300 60.5px,#ffad00 61.5px,#ff4000 62.5px,#e90000 63.5px,#fb1600 64.5px,#ffe500 66.5px,#ff0 67.5px,#ffe700 68.5px,#ff9300 69.5px,#ff2800 70.5px,#ff0400 71.5px,#ff5a00 72.5px,#fddb02 73.5px,#bdff42 74.5px,#85ff7a 75.5px,#6eff91 76.5px,#6cff93 77.5px,#97ff68 78.5px,#efef10 79.5px,#ff7600 80.5px,#ff1a00 81.5px,#ff5c00 82.5px,#ede712 83.5px,#6cff93 84.5px,#0ef5f1 85.5px,#0bf 86.5px,#0093ff 87.5px,#0070ff 89.5px,#0070ff 91.5px,#0083ff 92.5px,#00abff 93.5px,#04e9fb 94.5px,#5cffa3 95.5px,#e3f11c 96.5px,#ff8000 97.5px,#ff8300 98.5px,#e7ef18 99.5px,#5cffa3 100.5px,#02e1fd 101.5px,#008fff 102.5px,#0030ff 104.5px,#0004ff 106.5px,#0000df 111.5px,#0000e5 117.5px,#0008ff 120.5px,#003eff 122.5px,#0068ff 123.5px,#04ebfb 125.5px,#52ffad 126.5px,#a7ff58 127.5px,#c9ff36 128.5px,#8dff72 129.5px,#28fdd7 130.5px,#00bfff 131.5px,#0070ff 132.5px,#0034ff 133.5px,#000cff 134.5px,#0000cd 137.5px,#0000af 141.5px,#00009f 145.5px,#000097 152.5px,#000091 176.5px,#00009f 178.5px,#00009f 181.5px,#0000bf 184.5px,#0000f1 186.5px,#002aff 187.5px,#00c3ff 189.5px,#00abff 190.5px,#0052ff 191.5px,#000cfb 192.5px,#0000bf 194.5px,#0000a1 196.5px,#00008f 201.5px,#00008f 370.5px,#0000af 375.5px,#00008f 383.5px,#00008f 518px)"></div><div style="top:83px;background:linear-gradient(90deg,#60ff9f 0px,#60ff9f 9.5px,#9dbf58 10.5px,#c70000 11.5px,#cb0000 16.5px,#af0000 19.5px,#cf0000 26.5px,#af0000 31.5px,#9f0000 34.5px,#a70000 43.5px,#c70000 44.5px,#d50000 45.5px,#c30000 46.5px,#d70000 47.5px,#ff3800 48.5px,#ff5400 49.5px,#f30c00 50.5px,#d30000 51.5px,#ff3000 52.5px,#ff8f00 53.5px,#ffa300 54.5px,#ff6000 55.5px,#f30800 56.5px,#df0000 57.5px,#ff5000 58.5px,#ffc100 59.5px,#ffe300 60.5px,#ffaf00 61.5px,#ff4000 62.5px,#eb0000 63.5px,#fb1000 64.5px,#ff8000 65.5px,#ffdb00 66.5px,#fffd00 67.5px,#ffe500 68.5px,#ff9500 69.5px,#ff2c00 70.5px,#ff0400 71.5px,#ff5000 72.5px,#ffcf00 73.5px,#c9ff36 74.5px,#8dff72 75.5px,#76ff89 76.5px,#74ff8b 77.5px,#97ff68 78.5px,#eff510 79.5px,#ff7e00 80.5px,#ff1c00 81.5px,#ff4c00 82.5px,#f5db0a 83.5px,#81ff7e 84.5px,#16fbe9 85.5px,#00c7ff 86.5px,#009bff 87.5px,#0076ff 89.5px,#0072ff 91.5px,#00abff 93.5px,#04e7fb 94.5px,#50ffaf 95.5px,#ddf522 96.5px,#ff8300 97.5px,#ff7800 98.5px,#f3e30c 99.5px,#74ff8b 100.5px,#08edf7 101.5px,#009bff 102.5px,#0060ff 103.5px,#001aff 105.5px,#0000fb 107.5px,#0000df 111.5px,#0000df 116.5px,#0000fb 119.5px,#0020ff 121.5px,#0068ff 123.5px,#09f 124.5px,#04e7fb 125.5px,#4affb5 126.5px,#a5ff5a 127.5px,#cfff30 128.5px,#a3ff5c 129.5px,#4fb 130.5px,#00d7ff 131.5px,#0081ff 132.5px,#04f 133.5px,#0000f9 135.5px,#0000c5 138.5px,#0000af 141.5px,#00009f 146.5px,#000097 153.5px,#000093 176.5px,#00009f 179.5px,#00009f 181.5px,#0000bf 184.5px,#0000ef 186.5px,#0020ff 187.5px,#00bdff 189.5px,#00bdff 190.5px,#001aff 192.5px,#0000e5 193.5px,#0000b1 195.5px,#00008f 200.5px,#00008f 370.5px,#0000af 375.5px,#00009d 380.5px,#00008f 382.5px,#00008f 518px)"></div><div style="top:85px;background:linear-gradient(90deg,#60ff9f 0px,#60ff9f 9.5px,#91c76e 10.5px,#c70000 11.5px,#cb0000 16.5px,#af0000 19.5px,#cf0000 26.5px,#af0000 31.5px,#9f0000 34.5px,#a70000 43.5px,#c70000 44.5px,#d30000 45.5px,#c30000 46.5px,#d70000 47.5px,#ff3800 48.5px,#ff5400 49.5px,#f31000 50.5px,#d30000 51.5px,#ff2a00 52.5px,#ff8b00 53.5px,#ffa300 54.5px,#ff6200 55.5px,#f30800 56.5px,#d00 57.5px,#ff4a00 58.5px,#fb0 59.5px,#ffdf00 60.5px,#ffaf00 61.5px,#ff4000 62.5px,#eb0000 63.5px,#f51000 64.5px,#ffd700 66.5px,#fff900 67.5px,#ffe300 68.5px,#ff9700 69.5px,#ff2c00 70.5px,#ff0400 71.5px,#ff4600 72.5px,#ffc300 73.5px,#d3ff2c 74.5px,#9f6 75.5px,#7aff85 76.5px,#76ff89 77.5px,#9dff62 78.5px,#ebf714 79.5px,#ff8300 80.5px,#ff1c00 81.5px,#ff4200 82.5px,#fbcd04 83.5px,#93ff6c 84.5px,#24ffdb 85.5px,#00d7ff 86.5px,#00a3ff 87.5px,#007eff 89.5px,#0070ff 90.5px,#0087ff 92.5px,#00abff 93.5px,#02e7fd 94.5px,#4effb1 95.5px,#d5f92a 96.5px,#ff8d00 97.5px,#ff6e00 98.5px,#f9d306 99.5px,#8bff74 100.5px,#14f5eb 101.5px,#00a9ff 102.5px,#006aff 103.5px,#02f 105.5px,#00f 107.5px,#0000df 112.5px,#0000df 116.5px,#00f 119.5px,#0024ff 121.5px,#0064ff 123.5px,#0097ff 124.5px,#02e5fd 125.5px,#4fb 126.5px,#a1ff5e 127.5px,#d7ff28 128.5px,#bf4 129.5px,#60ff9f 130.5px,#08edf7 131.5px,#0056ff 133.5px,#0006fd 135.5px,#0000bf 139.5px,#00009f 145.5px,#00009f 153.5px,#00008f 155.5px,#000097 176.5px,#00009f 181.5px,#0000cb 185.5px,#0000e9 186.5px,#0018ff 187.5px,#00b3ff 189.5px,#00cdff 190.5px,#0087ff 191.5px,#002eff 192.5px,#0002f1 193.5px,#0000b7 195.5px,#00009f 198.5px,#00008f 202.5px,#000095 371.5px,#0000af 376.5px,#0000ad 378.5px,#00008f 383.5px,#00008f 518px)"></div><div style="top:87px;background:linear-gradient(90deg,#60ff9f 0px,#60ff9f 9.5px,#89eb76 10.5px,#c70000 11.5px,#cb0000 16.5px,#af0000 19.5px,#cf0000 26.5px,#af0000 31.5px,#9f0000 35.5px,#a70000 43.5px,#c70000 44.5px,#d10000 45.5px,#c30000 46.5px,#d70000 47.5px,#ff3800 48.5px,#ff5400 49.5px,#f31000 50.5px,#d30000 51.5px,#ff2600 52.5px,#ff8700 53.5px,#ffa700 54.5px,#ff6400 55.5px,#f30a00 56.5px,#db0000 57.5px,#ff4000 58.5px,#ffb300 59.5px,#ffdf00 60.5px,#ffb300 61.5px,#f40 62.5px,#eb0000 63.5px,#f30e00 64.5px,#ffd300 66.5px,#ffef00 67.5px,#ffe300 68.5px,#ff9700 69.5px,#ff2e00 70.5px,#f00 71.5px,#ff4200 72.5px,#fb0 73.5px,#df2 74.5px,#9dff62 75.5px,#85ff7a 76.5px,#80ff80 77.5px,#a5ff5a 78.5px,#ebf714 79.5px,#ff8900 80.5px,#ff1e00 81.5px,#ff3400 82.5px,#fb0 83.5px,#a9ff56 84.5px,#34ffcb 85.5px,#00e1ff 86.5px,#00afff 87.5px,#0085ff 89.5px,#0080ff 91.5px,#0089ff 92.5px,#00abff 93.5px,#00e7ff 94.5px,#4fb 95.5px,#cbfb34 96.5px,#ff9700 97.5px,#ff6400 98.5px,#ffc300 99.5px,#a1ff5e 100.5px,#1efbe1 101.5px,#00b9ff 102.5px,#0076ff 103.5px,#0028ff 105.5px,#0002ff 107.5px,#0000df 113.5px,#0000f1 118.5px,#000eff 120.5px,#0064ff 123.5px,#0097ff 124.5px,#00e1ff 125.5px,#3cffc3 126.5px,#9dff62 127.5px,#dbff24 128.5px,#cdff32 129.5px,#7cff83 130.5px,#16f9e9 131.5px,#00b3ff 132.5px,#0068ff 133.5px,#000cff 135.5px,#0000cf 138.5px,#0000af 142.5px,#00009f 148.5px,#00009d 154.5px,#00008f 156.5px,#00008f 175.5px,#00009f 179.5px,#0000af 183.5px,#0000e5 186.5px,#000cff 187.5px,#004eff 188.5px,#00a3ff 189.5px,#00d5ff 190.5px,#009dff 191.5px,#0046ff 192.5px,#0008f9 193.5px,#0000bf 195.5px,#0000a1 197.5px,#00008f 202.5px,#000091 371.5px,#0000af 376.5px,#00009f 381.5px,#00008f 383.5px,#00008f 518px)"></div><div style="top:89px;background:linear-gradient(90deg,#60ff9f 0px,#60ff9f 9.5px,#76ff89 10.5px,#cf0000 11.5px,#cb0000 16.5px,#af0000 19.5px,#cf0000 26.5px,#af0000 31.5px,#9f0000 35.5px,#a70000 43.5px,#c70000 44.5px,#cf0000 45.5px,#c30000 46.5px,#d70000 47.5px,#ff3200 48.5px,#ff5400 49.5px,#f31000 50.5px,#d30000 51.5px,#ff2400 52.5px,#ff8700 53.5px,#ffa700 54.5px,#ff6800 55.5px,#f30c00 56.5px,#db0000 57.5px,#ff4000 58.5px,#ffb300 59.5px,#ffdf00 60.5px,#ffb300 61.5px,#ff4a00 62.5px,#eb0000 63.5px,#f30a00 64.5px,#ffcb00 66.5px,#ffef00 67.5px,#ffe100 68.5px,#ff9700 69.5px,#ff3000 70.5px,#fb0000 71.5px,#ff3600 72.5px,#ffaf00 73.5px,#e5fd1a 74.5px,#a9ff56 75.5px,#89ff76 76.5px,#83ff7c 77.5px,#a7ff58 78.5px,#ebf714 79.5px,#ff8f00 80.5px,#ff1e00 81.5px,#ff2a00 82.5px,#ffa900 83.5px,#bdff42 84.5px,#4fb 85.5px,#02edfd 86.5px,#00b9ff 87.5px,#09f 88.5px,#0080ff 90.5px,#008fff 92.5px,#00afff 93.5px,#00e7ff 94.5px,#42ffbd 95.5px,#c5ff3a 96.5px,#ffa100 97.5px,#ff5c00 98.5px,#ffad00 99.5px,#b9ff46 100.5px,#30ffcf 101.5px,#00c7ff 102.5px,#0081ff 103.5px,#002eff 105.5px,#0006ff 107.5px,#0000df 114.5px,#00f 119.5px,#0040ff 122.5px,#0097ff 124.5px,#0df 125.5px,#38ffc7 126.5px,#95ff6a 127.5px,#df2 128.5px,#d9ff26 129.5px,#97ff68 130.5px,#30ffcf 131.5px,#00c9ff 132.5px,#04f 134.5px,#0002f9 136.5px,#0000bf 140.5px,#00009f 146.5px,#009 155.5px,#00008f 160.5px,#00008f 175.5px,#00009f 177.5px,#00009f 181.5px,#0000c7 185.5px,#000afb 187.5px,#0042ff 188.5px,#00d7ff 190.5px,#0bf 191.5px,#0012ff 193.5px,#0000e1 194.5px,#0000b3 196.5px,#00008f 202.5px,#00008f 371.5px,#0000af 376.5px,#0000af 379.5px,#00008f 384.5px,#00008f 518px)"></div><div style="top:91px;background:linear-gradient(90deg,#60ff9f 0px,#6f9 10.5px,#d71400 11.5px,#c70000 12.5px,#cb0000 16.5px,#af0000 19.5px,#cf0000 26.5px,#9f0000 34.5px,#a70000 43.5px,#c70000 44.5px,#cf0000 45.5px,#c30000 46.5px,#d70000 47.5px,#ff3000 48.5px,#ff5400 49.5px,#f31000 50.5px,#d30000 51.5px,#fb2400 52.5px,#ff8700 53.5px,#ffa500 54.5px,#ff6800 55.5px,#f30e00 56.5px,#db0000 57.5px,#ff4000 58.5px,#ffb100 59.5px,#ffdf00 60.5px,#ffb300 61.5px,#ff4e00 62.5px,#eb0000 63.5px,#f30800 64.5px,#ffc700 66.5px,#ffed00 67.5px,#ffdf00 68.5px,#ff9700 69.5px,#ff3000 70.5px,#f70000 71.5px,#ff3200 72.5px,#ffa300 73.5px,#edfb12 74.5px,#b1ff4e 75.5px,#95ff6a 76.5px,#8bff74 77.5px,#a7ff58 78.5px,#ebf714 79.5px,#ff8f00 80.5px,#ff1c00 81.5px,#ff1c00 82.5px,#ff9500 83.5px,#cdfd32 84.5px,#54ffab 85.5px,#06f3f9 86.5px,#00a5ff 88.5px,#0081ff 91.5px,#00afff 93.5px,#00e7ff 94.5px,#3affc5 95.5px,#b9ff46 96.5px,#ffab00 97.5px,#ff5800 98.5px,#f90 99.5px,#cffd30 100.5px,#4fb 101.5px,#00d5ff 102.5px,#0089ff 103.5px,#0036ff 105.5px,#00f 108.5px,#0000ef 110.5px,#0000df 114.5px,#0004ff 119.5px,#0040ff 122.5px,#0097ff 124.5px,#00d9ff 125.5px,#30ffcf 126.5px,#8fff70 127.5px,#d7ff28 128.5px,#e9ff16 129.5px,#adff52 130.5px,#4cffb3 131.5px,#02e5fd 132.5px,#0091ff 133.5px,#0054ff 134.5px,#0006ff 136.5px,#0000c1 140.5px,#0000af 143.5px,#00009f 149.5px,#00009f 155.5px,#00008f 159.5px,#000093 175.5px,#00009f 178.5px,#00009f 181.5px,#0000db 186.5px,#0004f9 187.5px,#0036ff 188.5px,#00d3ff 190.5px,#00cdff 191.5px,#002aff 193.5px,#0000ed 194.5px,#0000b9 196.5px,#00009f 198.5px,#00009d 200.5px,#00008f 202.5px,#00008f 371.5px,#0000af 377.5px,#000097 383.5px,#00008f 518px)"></div><div style="top:93px;background:linear-gradient(90deg,#60ff9f 0px,#60ff9f 10.5px,#d53a04 11.5px,#c70000 12.5px,#c70000 16.5px,#af0000 19.5px,#cf0000 26.5px,#9f0000 34.5px,#a30000 43.5px,#c30000 44.5px,#cf0000 45.5px,#c30000 46.5px,#d70000 47.5px,#ff2e00 48.5px,#ff5400 49.5px,#f31000 50.5px,#d30000 51.5px,#fb2400 52.5px,#ff8300 53.5px,#ffa300 54.5px,#ff6800 55.5px,#f31000 56.5px,#d00 57.5px,#ff3400 58.5px,#ffad00 59.5px,#ffdf00 60.5px,#ffb300 61.5px,#ff5000 62.5px,#eb0200 63.5px,#f30800 64.5px,#ffc500 66.5px,#ffe900 67.5px,#ffdf00 68.5px,#ff9700 69.5px,#ff3200 70.5px,#f70000 71.5px,#ff2c00 72.5px,#ff9b00 73.5px,#f3f50c 74.5px,#bf4 75.5px,#9bff64 76.5px,#8fff70 77.5px,#abff54 78.5px,#ebf714 79.5px,#ff9500 80.5px,#ff2000 81.5px,#ff1400 82.5px,#ff8500 83.5px,#ddf922 84.5px,#6f9 85.5px,#0efbf1 86.5px,#00abff 88.5px,#008fff 90.5px,#0095ff 92.5px,#00afff 93.5px,#00e7ff 94.5px,#38ffc7 95.5px,#b1ff4e 96.5px,#ffb500 97.5px,#ff5400 98.5px,#ff8900 99.5px,#dff520 100.5px,#58ffa7 101.5px,#02e3fd 102.5px,#0097ff 103.5px,#003cff 105.5px,#00f 108.5px,#0000ef 112.5px,#0000ef 117.5px,#0004ff 119.5px,#0040ff 122.5px,#0097ff 124.5px,#00d7ff 125.5px,#2cffd3 126.5px,#d7ff28 128.5px,#f3ff0c 129.5px,#c5ff3a 130.5px,#0cf3f3 132.5px,#06f 134.5px,#0012ff 136.5px,#0000f5 137.5px,#0000c5 140.5px,#0000af 144.5px,#00009f 149.5px,#00009f 156.5px,#00008f 158.5px,#000097 175.5px,#00009f 181.5px,#0000c5 185.5px,#0002f7 187.5px,#0028ff 188.5px,#00c5ff 190.5px,#0df 191.5px,#0097ff 192.5px,#003eff 193.5px,#0004f9 194.5px,#0000bf 196.5px,#00009f 199.5px,#00008f 205.5px,#000095 372.5px,#0000bd 378.5px,#00008f 385.5px,#00008f 518px)"></div><div style="top:95px;background:linear-gradient(90deg,#60ff9f 0px,#60ff9f 10.5px,#c5461c 11.5px,#c70000 12.5px,#c70000 16.5px,#af0000 19.5px,#cf0000 26.5px,#9f0000 34.5px,#a30000 43.5px,#cf0000 45.5px,#c30000 46.5px,#d30000 47.5px,#ff2c00 48.5px,#ff5400 49.5px,#f71000 50.5px,#d30000 51.5px,#fb2400 52.5px,#ff8300 53.5px,#ffa100 54.5px,#ff6c00 55.5px,#f71000 56.5px,#df0000 57.5px,#ff3000 58.5px,#ffa900 59.5px,#ffdf00 60.5px,#ffb500 61.5px,#ff5000 62.5px,#eb0400 63.5px,#f30400 64.5px,#ffb900 66.5px,#ffe100 67.5px,#ffd700 68.5px,#ff9700 69.5px,#ff3400 70.5px,#f70000 71.5px,#ff2400 72.5px,#f9f106 74.5px,#c3ff3c 75.5px,#a5ff5a 76.5px,#9f6 77.5px,#afff50 78.5px,#edf712 79.5px,#ff9f00 80.5px,#ff2400 81.5px,#ff0c00 82.5px,#ff7400 83.5px,#e9f116 84.5px,#76ff89 85.5px,#1affe5 86.5px,#00d9ff 87.5px,#00a1ff 89.5px,#008fff 91.5px,#09f 92.5px,#00b5ff 93.5px,#00e7ff 94.5px,#34ffcb 95.5px,#abff54 96.5px,#ffbd00 97.5px,#ff5200 98.5px,#ff7600 99.5px,#ebeb14 100.5px,#6aff95 101.5px,#08edf7 102.5px,#006aff 104.5px,#0028ff 106.5px,#0004ff 108.5px,#0000ef 112.5px,#0000f1 117.5px,#0008ff 119.5px,#04f 122.5px,#0097ff 124.5px,#00d7ff 125.5px,#26ffd9 126.5px,#d7ff28 128.5px,#ff0 129.5px,#dbff24 130.5px,#22fddd 132.5px,#00c3ff 133.5px,#0078ff 134.5px,#001cff 136.5px,#0002fd 137.5px,#0000bf 141.5px,#00009f 149.5px,#00009d 157.5px,#00008f 160.5px,#00008f 174.5px,#00009f 176.5px,#00009f 181.5px,#0000c3 185.5px,#0000ef 187.5px,#001eff 188.5px,#00b9ff 190.5px,#00e5ff 191.5px,#00b3ff 192.5px,#0056ff 193.5px,#0012fd 194.5px,#0000e1 195.5px,#0000b3 197.5px,#00008f 203.5px,#000091 372.5px,#00009f 374.5px,#0000bd 379.5px,#00009f 383.5px,#00008f 387.5px,#00008f 518px)"></div><div style="top:97px;background:linear-gradient(90deg,#60ff9f 0px,#60ff9f 10.5px,#bd6826 11.5px,#c70000 12.5px,#c70000 16.5px,#af0000 19.5px,#cf0000 26.5px,#9f0000 34.5px,#a30000 43.5px,#cf0000 45.5px,#c30000 46.5px,#cf0000 47.5px,#ff2c00 48.5px,#ff5400 49.5px,#f71000 50.5px,#d30000 51.5px,#fb1e00 52.5px,#ff8300 53.5px,#ff9f00 54.5px,#ff7000 55.5px,#f71000 56.5px,#d90000 57.5px,#ff3000 58.5px,#ffa500 59.5px,#ffdb00 60.5px,#ffb700 61.5px,#ff5000 62.5px,#eb0400 63.5px,#f10400 64.5px,#ffb700 66.5px,#ffdf00 67.5px,#ffd700 68.5px,#ff9500 69.5px,#ff3400 70.5px,#f30000 71.5px,#ff1e00 72.5px,#fbeb04 74.5px,#cbff34 75.5px,#abff54 76.5px,#9fff60 77.5px,#b1ff4e 78.5px,#eff910 79.5px,#ff9f00 80.5px,#ff2600 81.5px,#ff0800 82.5px,#ff6200 83.5px,#f3e90c 84.5px,#85ff7a 85.5px,#28ffd7 86.5px,#00e5ff 87.5px,#00abff 89.5px,#0097ff 91.5px,#00b7ff 93.5px,#00e7ff 94.5px,#30ffcf 95.5px,#a1ff5e 96.5px,#ffc500 97.5px,#ff5000 98.5px,#ff6800 99.5px,#f7df08 100.5px,#83ff7c 101.5px,#12f7ed 102.5px,#00b1ff 103.5px,#0076ff 104.5px,#002eff 106.5px,#00f 109.5px,#0000ef 113.5px,#0000f5 117.5px,#0018ff 120.5px,#0068ff 123.5px,#00d7ff 125.5px,#20ffdf 126.5px,#d3ff2c 128.5px,#fffb00 129.5px,#edff12 130.5px,#9fff60 131.5px,#3cffc3 132.5px,#00d9ff 133.5px,#0054ff 135.5px,#000aff 137.5px,#0000bf 142.5px,#00009f 150.5px,#000095 159.5px,#000097 174.5px,#00009f 181.5px,#0000d3 186.5px,#0000ef 187.5px,#0018ff 188.5px,#0056ff 189.5px,#00abff 190.5px,#00ebff 191.5px,#00cbff 192.5px,#0020ff 194.5px,#0000ed 195.5px,#0000b9 197.5px,#00009f 200.5px,#00008f 205.5px,#00008f 372.5px,#00009f 374.5px,#0000bf 379.5px,#00008f 387.5px,#00008f 518px)"></div><div style="top:99px;background:linear-gradient(90deg,#60ff9f 0px,#60ff9f 10.5px,#b5803a 11.5px,#c70000 12.5px,#c70000 16.5px,#af0000 19.5px,#cf0000 26.5px,#9f0000 34.5px,#a30000 43.5px,#cf0000 45.5px,#c50000 46.5px,#cf0000 47.5px,#ff2c00 48.5px,#ff5800 49.5px,#f71000 50.5px,#d30000 51.5px,#fb1a00 52.5px,#ff7c00 53.5px,#ff9b00 54.5px,#ff6c00 55.5px,#f71000 56.5px,#d70000 57.5px,#ff2a00 58.5px,#ff9d00 59.5px,#ffd700 60.5px,#ffb300 61.5px,#ff5200 62.5px,#eb0400 63.5px,#eb0400 64.5px,#ff5200 65.5px,#ffb300 66.5px,#ffdb00 67.5px,#ffd300 68.5px,#ff9300 69.5px,#ff3800 70.5px,#f30000 71.5px,#ff1a00 72.5px,#fde302 74.5px,#d3ff2c 75.5px,#9fff60 77.5px,#b7ff48 78.5px,#effb10 79.5px,#ff9f00 80.5px,#ff2a00 81.5px,#ff0400 82.5px,#ff5400 83.5px,#f9db06 84.5px,#9f6 85.5px,#34ffcb 86.5px,#02f1fd 87.5px,#00b1ff 89.5px,#009fff 91.5px,#00a3ff 92.5px,#00e7ff 94.5px,#30ffcf 95.5px,#9fff60 96.5px,#fdcd02 97.5px,#ff5400 98.5px,#ff5a00 99.5px,#fdcd02 100.5px,#9f6 101.5px,#20fddf 102.5px,#00c1ff 103.5px,#0081ff 104.5px,#0036ff 106.5px,#0002ff 109.5px,#0000ef 115.5px,#00f 118.5px,#002cff 121.5px,#0068ff 123.5px,#00c9ff 125.5px,#1cffe3 126.5px,#cdff32 128.5px,#fff700 129.5px,#fbf904 130.5px,#b9ff46 131.5px,#06eff9 133.5px,#0064ff 135.5px,#0014ff 137.5px,#0000f9 138.5px,#0000bf 142.5px,#00009f 151.5px,#00009b 160.5px,#00008f 166.5px,#00008f 172.5px,#00009f 176.5px,#00009f 181.5px,#0000d3 186.5px,#0010ff 188.5px,#004aff 189.5px,#00ebff 191.5px,#00e5ff 192.5px,#003eff 194.5px,#0006f9 195.5px,#0000b1 198.5px,#00008f 204.5px,#00008f 372.5px,#00009f 374.5px,#0000bf 379.5px,#0000a7 383.5px,#00008f 389.5px,#00008f 518px)"></div><div style="top:101px;background:linear-gradient(90deg,#60ff9f 0px,#60ff9f 10.5px,#a9994a 11.5px,#c70000 12.5px,#c70000 16.5px,#af0000 19.5px,#cf0000 26.5px,#9f0000 34.5px,#a30000 43.5px,#cf0000 45.5px,#cd0000 47.5px,#ff2800 48.5px,#ff5c00 49.5px,#f71000 50.5px,#d10000 51.5px,#fb1800 52.5px,#ff7800 53.5px,#ff9b00 54.5px,#ff6a00 55.5px,#f71000 56.5px,#d70000 57.5px,#fb2400 58.5px,#f90 59.5px,#ffd100 60.5px,#ffb300 61.5px,#ff5400 62.5px,#ed0400 63.5px,#eb0200 64.5px,#ff4c00 65.5px,#ffab00 66.5px,#ffd900 67.5px,#ffd300 68.5px,#ff9300 69.5px,#ff3800 70.5px,#f30000 71.5px,#fd1200 72.5px,#ffdf00 74.5px,#d9ff26 75.5px,#b7ff48 76.5px,#a9ff56 77.5px,#bf4 78.5px,#f1fb0e 79.5px,#ff9f00 80.5px,#ff3200 81.5px,#fb0200 82.5px,#ff4800 83.5px,#fdcf02 84.5px,#a9ff56 85.5px,#42ffbd 86.5px,#04f7fb 87.5px,#0bf 89.5px,#009fff 91.5px,#00bfff 93.5px,#00e9ff 94.5px,#30ffcf 95.5px,#9fff60 96.5px,#fbd104 97.5px,#ff5800 98.5px,#ff4c00 99.5px,#ffb900 100.5px,#b3ff4c 101.5px,#34ffcb 102.5px,#00d1ff 103.5px,#005eff 105.5px,#0016ff 108.5px,#00f 111.5px,#0000ef 115.5px,#00f 118.5px,#002cff 121.5px,#0091ff 124.5px,#00c7ff 125.5px,#18fbe7 126.5px,#c5ff3a 128.5px,#fdf702 129.5px,#ffef00 130.5px,#d5ff2a 131.5px,#16fbe9 133.5px,#0bf 134.5px,#0078ff 135.5px,#0020ff 137.5px,#0006ff 138.5px,#0000c7 142.5px,#0000af 146.5px,#00009f 154.5px,#000095 163.5px,#000093 171.5px,#00009f 177.5px,#0000a1 181.5px,#0000bf 185.5px,#000cff 188.5px,#0040ff 189.5px,#00e5ff 191.5px,#00f7ff 192.5px,#00b7ff 193.5px,#0058ff 194.5px,#0012ff 195.5px,#0000e5 196.5px,#0000b9 198.5px,#00009f 201.5px,#00008f 207.5px,#00008f 372.5px,#00009f 374.5px,#0000bf 379.5px,#0000af 383.5px,#00008f 389.5px,#00008f 518px)"></div><div style="top:103px;background:linear-gradient(90deg,#60ff9f 0px,#60ff9f 10.5px,#9fbd58 11.5px,#c70000 12.5px,#c70000 16.5px,#af0000 19.5px,#cf0000 26.5px,#9f0000 34.5px,#a30000 43.5px,#cf0000 45.5px,#cb0000 47.5px,#ff2800 48.5px,#ff5c00 49.5px,#f71400 50.5px,#cf0000 51.5px,#fb1800 52.5px,#ff7400 53.5px,#f90 54.5px,#ff6400 55.5px,#f71000 56.5px,#d70000 57.5px,#fb2400 58.5px,#ff9100 59.5px,#ffcb00 60.5px,#ffb100 61.5px,#ef0400 63.5px,#eb0000 64.5px,#ff4600 65.5px,#ffa500 66.5px,#ffd500 67.5px,#ffcf00 68.5px,#ff9300 69.5px,#ff3800 70.5px,#f30000 71.5px,#fb0e00 72.5px,#ffd500 74.5px,#e1ff1e 75.5px,#bf4 76.5px,#afff50 77.5px,#bdff42 78.5px,#f3fb0c 79.5px,#ffa700 80.5px,#ff3400 81.5px,#f70000 82.5px,#ff3a00 83.5px,#ffbf00 84.5px,#b9ff46 85.5px,#50ffaf 86.5px,#0cfdf3 87.5px,#00b5ff 90.5px,#00afff 92.5px,#00ebff 94.5px,#30ffcf 95.5px,#97ff68 96.5px,#fbd704 97.5px,#ff5c00 98.5px,#ff4000 99.5px,#ffa300 100.5px,#c9fd36 101.5px,#4affb5 102.5px,#02e3fd 103.5px,#09f 104.5px,#0046ff 106.5px,#0010ff 109.5px,#00f 111.5px,#0000ef 114.5px,#0004ff 118.5px,#0048ff 122.5px,#008fff 124.5px,#00c7ff 125.5px,#12fbed 126.5px,#bfff40 128.5px,#fbf304 129.5px,#ffe100 130.5px,#edfd12 131.5px,#30ffcf 133.5px,#00d5ff 134.5px,#0056ff 136.5px,#000eff 138.5px,#0000e5 140.5px,#0000bf 144.5px,#0000af 148.5px,#00009f 154.5px,#00009f 180.5px,#0000bf 185.5px,#0008fd 188.5px,#0038ff 189.5px,#00d7ff 191.5px,#06fff9 192.5px,#00d7ff 193.5px,#0078ff 194.5px,#002eff 195.5px,#0002f3 196.5px,#0000b1 199.5px,#00008f 205.5px,#00008f 372.5px,#00009f 374.5px,#0000cf 380.5px,#00009f 386.5px,#00008f 392.5px,#00008f 518px)"></div><div style="top:105px;background:linear-gradient(90deg,#60ff9f 0px,#60ff9f 10.5px,#8fcd70 11.5px,#c70000 12.5px,#c70000 16.5px,#af0000 19.5px,#cf0000 26.5px,#9f0000 34.5px,#a30000 43.5px,#cf0000 45.5px,#cb0000 47.5px,#ff2800 48.5px,#ff5c00 49.5px,#f71400 50.5px,#cf0000 51.5px,#f71400 52.5px,#ff7400 53.5px,#ff9500 54.5px,#ff6400 55.5px,#f91000 56.5px,#d70000 57.5px,#fb2000 58.5px,#ff8b00 59.5px,#ffcb00 60.5px,#ffaf00 61.5px,#ef0400 63.5px,#eb0000 64.5px,#ff4200 65.5px,#ffa300 66.5px,#ffcd00 67.5px,#ffcd00 68.5px,#ff9300 69.5px,#ff3800 70.5px,#f30000 71.5px,#fb0c00 72.5px,#ffcb00 74.5px,#e7ff18 75.5px,#afff50 77.5px,#bfff40 78.5px,#f3fb0c 79.5px,#ffa900 80.5px,#ff3400 81.5px,#f50000 82.5px,#ff2e00 83.5px,#ffab00 84.5px,#c9ff36 85.5px,#60ff9f 86.5px,#18ffe7 87.5px,#00e9ff 88.5px,#00bdff 90.5px,#00afff 91.5px,#00c7ff 93.5px,#00efff 94.5px,#30ffcf 95.5px,#93ff6c 96.5px,#f7dd08 97.5px,#ff6000 98.5px,#ff3800 99.5px,#ff8b00 100.5px,#dff920 101.5px,#5cffa3 102.5px,#06eff9 103.5px,#00a7ff 104.5px,#0050ff 106.5px,#0012ff 109.5px,#00f 112.5px,#00f 117.5px,#0020ff 120.5px,#0068ff 123.5px,#00c7ff 125.5px,#0efbf1 126.5px,#b7ff48 128.5px,#fbf304 129.5px,#ffdb00 130.5px,#f9f506 131.5px,#b1ff4e 132.5px,#50ffaf 133.5px,#06ebf9 134.5px,#009fff 135.5px,#003cff 137.5px,#0002fd 139.5px,#0000bf 144.5px,#0000af 149.5px,#00009f 155.5px,#0000a7 181.5px,#0000cf 186.5px,#0004fb 188.5px,#002eff 189.5px,#0072ff 190.5px,#00cbff 191.5px,#0cfff3 192.5px,#02effd 193.5px,#04f 195.5px,#000afd 196.5px,#0000b7 199.5px,#00009f 202.5px,#00008f 208.5px,#00008f 372.5px,#0000cf 381.5px,#00009f 387.5px,#00008f 392.5px,#00008f 518px)"></div><div style="top:107px;background:linear-gradient(90deg,#60ff9f 0px,#60ff9f 10.5px,#83f77c 11.5px,#c90000 12.5px,#c70000 16.5px,#af0000 19.5px,#cf0000 26.5px,#9f0000 34.5px,#a30000 43.5px,#cf0000 45.5px,#cb0000 47.5px,#ff2400 48.5px,#ff5c00 49.5px,#f71400 50.5px,#cf0000 51.5px,#f71200 52.5px,#ff6e00 53.5px,#ff8f00 54.5px,#ff6400 55.5px,#fb1000 56.5px,#d70000 57.5px,#fb1800 58.5px,#ff8700 59.5px,#ffc500 60.5px,#ffa700 61.5px,#ef0400 63.5px,#e50000 64.5px,#ff3a00 65.5px,#ff9b00 66.5px,#ffcb00 67.5px,#ffcb00 68.5px,#ff9300 69.5px,#ff3800 70.5px,#f10000 71.5px,#f90a00 72.5px,#ff5a00 73.5px,#ffc100 74.5px,#effd10 75.5px,#c7ff38 76.5px,#b5ff4a 77.5px,#c3ff3c 78.5px,#f3fb0c 79.5px,#ffab00 80.5px,#ff3800 81.5px,#f30000 82.5px,#ff2000 83.5px,#ff9b00 84.5px,#d7fd28 85.5px,#6eff91 86.5px,#26ffd9 87.5px,#00f1ff 88.5px,#00c5ff 90.5px,#00bdff 92.5px,#00cfff 93.5px,#00f3ff 94.5px,#32ffcd 95.5px,#93ff6c 96.5px,#f7e108 97.5px,#ff6400 98.5px,#ff3000 99.5px,#ff7a00 100.5px,#ebed14 101.5px,#78ff87 102.5px,#0ef7f1 103.5px,#0080ff 105.5px,#003aff 107.5px,#0006ff 111.5px,#00f 117.5px,#0034ff 121.5px,#0068ff 123.5px,#00c3ff 125.5px,#0cf9f3 126.5px,#54ffab 127.5px,#afff50 128.5px,#f9f306 129.5px,#ffd300 130.5px,#ffe500 131.5px,#cfff30 132.5px,#12f9ed 134.5px,#00bdff 135.5px,#007cff 136.5px,#0026ff 138.5px,#000aff 139.5px,#0000c3 144.5px,#0000af 149.5px,#00009f 157.5px,#00009f 180.5px,#0000cf 186.5px,#0004fb 188.5px,#0028ff 189.5px,#06f 190.5px,#0bf 191.5px,#0cfbf3 192.5px,#10fdef 193.5px,#00bfff 194.5px,#0064ff 195.5px,#0020ff 196.5px,#0000ed 197.5px,#0000af 200.5px,#00008f 207.5px,#00008f 372.5px,#0000bf 379.5px,#0000cf 381.5px,#00009f 388.5px,#00008f 393.5px,#00008f 518px)"></div><div style="top:109px;background:linear-gradient(90deg,#60ff9f 0px,#60ff9f 10.5px,#6cff93 11.5px,#d30800 12.5px,#b00 17.5px,#b30000 20.5px,#cf0000 26.5px,#9f0000 34.5px,#a30000 43.5px,#cf0000 45.5px,#cb0000 47.5px,#ff2400 48.5px,#ff5c00 49.5px,#f71400 50.5px,#cf0000 51.5px,#f71000 52.5px,#ff6800 53.5px,#ff8f00 54.5px,#ff6400 55.5px,#fb1000 56.5px,#d30000 57.5px,#f91800 58.5px,#ff8100 59.5px,#fb0 60.5px,#ffa700 61.5px,#ef0400 63.5px,#df0000 64.5px,#ff3600 65.5px,#ff9500 66.5px,#ffc900 67.5px,#ffc900 68.5px,#ff9300 69.5px,#ff3800 70.5px,#ed0000 71.5px,#f70400 72.5px,#ff5400 73.5px,#fb0 74.5px,#f3fb0c 75.5px,#cfff30 76.5px,#bfff40 77.5px,#c7ff38 78.5px,#f3fb0c 79.5px,#ffab00 80.5px,#ff3a00 81.5px,#f30000 82.5px,#fd1800 83.5px,#ff8b00 84.5px,#e7f718 85.5px,#7eff81 86.5px,#30ffcf 87.5px,#04f9fb 88.5px,#00bfff 91.5px,#00c1ff 92.5px,#04f5fb 94.5px,#38ffc7 95.5px,#8fff70 96.5px,#f7e708 97.5px,#f60 98.5px,#ff2800 99.5px,#f60 100.5px,#f7e108 101.5px,#87ff78 102.5px,#1efde1 103.5px,#00c7ff 104.5px,#0064ff 106.5px,#002eff 108.5px,#0002ff 112.5px,#0006ff 117.5px,#0034ff 121.5px,#0068ff 123.5px,#00bdff 125.5px,#0af3f5 126.5px,#4effb1 127.5px,#f3fb0c 129.5px,#ffd100 130.5px,#ffd500 131.5px,#e9fd16 132.5px,#28ffd7 134.5px,#00d3ff 135.5px,#005cff 137.5px,#0016ff 139.5px,#0002fd 140.5px,#0000bf 145.5px,#0000af 151.5px,#00009f 159.5px,#00009f 180.5px,#0000af 182.5px,#0000cf 186.5px,#0000f7 188.5px,#0020ff 189.5px,#0058ff 190.5px,#0cf5f3 192.5px,#1effe1 193.5px,#02dffd 194.5px,#0030ff 196.5px,#0006f9 197.5px,#0000b5 200.5px,#00009f 203.5px,#00008f 209.5px,#00008f 372.5px,#0000b5 378.5px,#0000cf 381.5px,#0000c3 384.5px,#00009f 389.5px,#00008f 393.5px,#00008f 518px)"></div><div style="top:111px;background:linear-gradient(90deg,#60ff9f 0px,#62ff9d 11.5px,#d33402 12.5px,#cb0000 13.5px,#b00 17.5px,#b30000 20.5px,#cf0000 26.5px,#9f0000 34.5px,#a30000 43.5px,#cf0000 45.5px,#cb0000 47.5px,#f20 48.5px,#ff5c00 49.5px,#f91400 50.5px,#cb0000 51.5px,#f31000 52.5px,#ff6400 53.5px,#ff8f00 54.5px,#ff6400 55.5px,#fb1000 56.5px,#d30000 57.5px,#f71400 58.5px,#ff7c00 59.5px,#fb0 60.5px,#ffa700 61.5px,#ef0400 63.5px,#db0000 64.5px,#ff3000 65.5px,#ff9100 66.5px,#ffc700 67.5px,#ffc700 68.5px,#ff9300 69.5px,#ff3800 70.5px,#eb0000 71.5px,#f30400 72.5px,#ff4a00 73.5px,#ffb100 74.5px,#f9f706 75.5px,#c1ff3e 77.5px,#c7ff38 78.5px,#f3fb0c 79.5px,#ffab00 80.5px,#ff4000 81.5px,#ef0000 82.5px,#fb1000 83.5px,#ff7a00 84.5px,#efef10 85.5px,#40ffbf 87.5px,#0afdf5 88.5px,#00cbff 91.5px,#00d7ff 93.5px,#04f7fb 94.5px,#38ffc7 95.5px,#8dff72 96.5px,#f1e70e 97.5px,#ff7000 98.5px,#ff2400 99.5px,#ff5400 100.5px,#fdcf02 101.5px,#a5ff5a 102.5px,#2effd1 103.5px,#00d9ff 104.5px,#09f 105.5px,#004cff 107.5px,#001aff 110.5px,#00f 115.5px,#0026ff 120.5px,#0068ff 123.5px,#0bf 125.5px,#04f3fb 126.5px,#46ffb9 127.5px,#f1fb0e 129.5px,#ffcb00 130.5px,#ffc500 131.5px,#f9f106 132.5px,#afff50 133.5px,#48ffb7 134.5px,#04edfb 135.5px,#0070ff 137.5px,#0024ff 139.5px,#0000f5 141.5px,#0000bf 146.5px,#0000af 152.5px,#00009f 160.5px,#0000a5 180.5px,#0000bf 185.5px,#0000f7 188.5px,#001cff 189.5px,#004cff 190.5px,#04edfb 192.5px,#2affd5 193.5px,#0af7f5 194.5px,#0050ff 196.5px,#0012ff 197.5px,#0000eb 198.5px,#0000af 201.5px,#00008f 209.5px,#00008f 372.5px,#00009f 376.5px,#0000df 382.5px,#00009f 389.5px,#00008f 395.5px,#00008f 518px)"></div><div style="top:113px;background:linear-gradient(90deg,#60ff9f 0px,#60ff9f 11.5px,#c5461c 12.5px,#cb0000 13.5px,#b00 17.5px,#b30000 20.5px,#cf0000 26.5px,#af0000 31.5px,#9f0000 35.5px,#a30000 43.5px,#cf0000 45.5px,#cb0000 47.5px,#fb2000 48.5px,#ff5c00 49.5px,#fb1400 50.5px,#cb0000 51.5px,#f30e00 52.5px,#ff6400 53.5px,#ff8900 54.5px,#ff6400 55.5px,#fb1000 56.5px,#d30000 57.5px,#f71000 58.5px,#ff7800 59.5px,#ffb700 60.5px,#ffa500 61.5px,#ef0400 63.5px,#db0000 64.5px,#ff2a00 65.5px,#ff8b00 66.5px,#ffbd00 67.5px,#ffc500 68.5px,#ff9300 69.5px,#ff3800 70.5px,#eb0000 71.5px,#f10200 72.5px,#ff4600 73.5px,#ffa700 74.5px,#fbf304 75.5px,#c5ff3a 77.5px,#d1ff2e 78.5px,#f3fb0c 79.5px,#ffad00 80.5px,#f40 81.5px,#eb0000 82.5px,#f90a00 83.5px,#ff6c00 84.5px,#f7e708 85.5px,#9dff62 86.5px,#4affb5 87.5px,#12ffed 88.5px,#00f1ff 89.5px,#00cfff 91.5px,#00dfff 93.5px,#04fbfb 94.5px,#38ffc7 95.5px,#8bff74 96.5px,#efed10 97.5px,#ff7000 98.5px,#ff1e00 99.5px,#f40 100.5px,#ffb900 101.5px,#b7ff48 102.5px,#4fb 103.5px,#02e7fd 104.5px,#0078ff 106.5px,#002aff 109.5px,#0010ff 112.5px,#0010ff 118.5px,#004cff 122.5px,#00b7ff 125.5px,#04f3fb 126.5px,#3effc1 127.5px,#e9fb16 129.5px,#ffcb00 130.5px,#ffb900 131.5px,#ffdf00 132.5px,#cdff32 133.5px,#12f9ed 135.5px,#00bfff 136.5px,#0054ff 138.5px,#0016ff 140.5px,#0002fd 141.5px,#0000c3 146.5px,#0000af 152.5px,#0000ad 156.5px,#00009f 159.5px,#00009f 179.5px,#0000bf 185.5px,#0000f3 188.5px,#0012ff 189.5px,#04f 190.5px,#0089ff 191.5px,#00e1ff 192.5px,#28ffd7 193.5px,#1effe1 194.5px,#00cdff 195.5px,#0072ff 196.5px,#002aff 197.5px,#0002f9 198.5px,#0000b5 201.5px,#00009f 205.5px,#00008f 210.5px,#000097 373.5px,#0000af 378.5px,#0000df 382.5px,#0000bf 386.5px,#00009f 390.5px,#00008f 396.5px,#00008f 518px)"></div><div style="top:115px;background:linear-gradient(90deg,#60ff9f 0px,#60ff9f 11.5px,#bd7428 12.5px,#cb0000 13.5px,#b00 17.5px,#b30000 20.5px,#cf0000 26.5px,#af0000 31.5px,#9f0000 35.5px,#a30000 43.5px,#cf0000 45.5px,#cb0000 47.5px,#fb2000 48.5px,#ff5c00 49.5px,#fb1600 50.5px,#cb0000 51.5px,#f30c00 52.5px,#ff6000 53.5px,#ff8700 54.5px,#ff6400 55.5px,#fb1000 56.5px,#d30000 57.5px,#f31000 58.5px,#ff7000 59.5px,#ffb100 60.5px,#ffa300 61.5px,#ef0400 63.5px,#db0000 64.5px,#ff2600 65.5px,#ff8500 66.5px,#fb0 67.5px,#ffbd00 68.5px,#ff9300 69.5px,#ff3800 70.5px,#eb0000 71.5px,#eb0000 72.5px,#ff3c00 73.5px,#ff9f00 74.5px,#fdef02 75.5px,#cfff30 77.5px,#d3ff2c 78.5px,#f5fb0a 79.5px,#ffaf00 80.5px,#f40 81.5px,#eb0000 82.5px,#f30400 83.5px,#ff5e00 84.5px,#fbdb04 85.5px,#adff52 86.5px,#5affa5 87.5px,#1effe1 88.5px,#02f9fd 89.5px,#00dbff 91.5px,#00e5ff 93.5px,#06fbf9 94.5px,#38ffc7 95.5px,#87ff78 96.5px,#efef10 97.5px,#ff7800 98.5px,#ff1c00 99.5px,#ff3600 100.5px,#ffa500 101.5px,#d1fd2e 102.5px,#58ffa7 103.5px,#08f3f7 104.5px,#0081ff 106.5px,#0032ff 109.5px,#0010ff 112.5px,#0014ff 118.5px,#004cff 122.5px,#00b7ff 125.5px,#04effb 126.5px,#38ffc7 127.5px,#e3ff1c 129.5px,#ffd300 130.5px,#ffaf00 131.5px,#ffc900 132.5px,#e9fd16 133.5px,#2affd5 135.5px,#00dbff 136.5px,#0097ff 137.5px,#003cff 139.5px,#000aff 141.5px,#0000cd 146.5px,#0000af 152.5px,#0000a3 158.5px,#0000a1 179.5px,#0000af 181.5px,#0000af 183.5px,#0000db 187.5px,#0010ff 189.5px,#003aff 190.5px,#007aff 191.5px,#00cfff 192.5px,#24ffdb 193.5px,#38ffc7 194.5px,#08ebf7 195.5px,#0040ff 197.5px,#000efd 198.5px,#0000cf 200.5px,#00009f 204.5px,#00008f 212.5px,#000097 373.5px,#0000af 378.5px,#0000df 382.5px,#0000d5 385.5px,#00009f 390.5px,#00008f 398.5px,#00008f 518px)"></div><div style="top:117px;background:linear-gradient(90deg,#60ff9f 0px,#60ff9f 11.5px,#a98544 12.5px,#cb0000 13.5px,#b00 17.5px,#b30000 20.5px,#cf0000 26.5px,#af0000 31.5px,#9f0000 35.5px,#a30000 43.5px,#cf0000 45.5px,#cb0000 47.5px,#fb2000 48.5px,#ff5c00 49.5px,#fb1800 50.5px,#cb0000 51.5px,#f30a00 52.5px,#ff5800 53.5px,#ff8000 54.5px,#ff6200 55.5px,#fb1000 56.5px,#d30000 57.5px,#f30e00 58.5px,#ff6c00 59.5px,#ffab00 60.5px,#ffa100 61.5px,#ef0400 63.5px,#d90000 64.5px,#f20 65.5px,#ff8100 66.5px,#ffb900 67.5px,#fb0 68.5px,#ff9300 69.5px,#ff3800 70.5px,#eb0000 71.5px,#eb0000 72.5px,#ff3400 73.5px,#ff9700 74.5px,#ffe700 75.5px,#e7ff18 76.5px,#d3ff2c 77.5px,#d5ff2a 78.5px,#f7fb08 79.5px,#ffaf00 80.5px,#ff4800 81.5px,#eb0200 82.5px,#ef0200 83.5px,#ff5000 84.5px,#ffcf00 85.5px,#bdff42 86.5px,#68ff97 87.5px,#2affd5 88.5px,#06fff9 89.5px,#00e1ff 91.5px,#00e9ff 93.5px,#0afff5 94.5px,#38ffc7 95.5px,#efef10 97.5px,#ff1c00 99.5px,#ff2800 100.5px,#ff8d00 101.5px,#e1f91e 102.5px,#6eff91 103.5px,#12fbed 104.5px,#00c3ff 105.5px,#0068ff 107.5px,#002aff 110.5px,#0010ff 114.5px,#001aff 118.5px,#0052ff 122.5px,#008bff 124.5px,#00e7ff 126.5px,#32ffcd 127.5px,#df2 129.5px,#ffd700 130.5px,#ffa700 131.5px,#ffb500 132.5px,#f7ef08 133.5px,#abff54 134.5px,#48ffb7 135.5px,#06edf9 136.5px,#0078ff 138.5px,#002cff 140.5px,#0002fd 142.5px,#0000bf 148.5px,#0000af 156.5px,#00009f 164.5px,#0000a5 179.5px,#0000b1 183.5px,#0000db 187.5px,#000aff 189.5px,#0032ff 190.5px,#006cff 191.5px,#00bdff 192.5px,#18fde7 193.5px,#42ffbd 194.5px,#1afde5 195.5px,#00b9ff 196.5px,#0060ff 197.5px,#02f 198.5px,#0002f3 199.5px,#0000b9 202.5px,#00009f 206.5px,#00008f 212.5px,#000095 373.5px,#0000bf 380.5px,#00d 382.5px,#0000df 385.5px,#00009f 391.5px,#00008f 399.5px,#00008f 518px)"></div><div style="top:119px;background:linear-gradient(90deg,#60ff9f 0px,#60ff9f 11.5px,#a5b350 12.5px,#cb0000 13.5px,#b00 17.5px,#b30000 20.5px,#cf0000 26.5px,#af0000 31.5px,#9f0000 35.5px,#a30000 43.5px,#cf0000 45.5px,#cb0000 47.5px,#fb1e00 48.5px,#ff5800 49.5px,#fb1800 50.5px,#cb0000 51.5px,#f30800 52.5px,#ff5600 53.5px,#ff8000 54.5px,#ff5e00 55.5px,#fb1000 56.5px,#d30000 57.5px,#f30a00 58.5px,#ff6800 59.5px,#ffa900 60.5px,#ff9f00 61.5px,#ef0400 63.5px,#d30000 64.5px,#fd1e00 65.5px,#ff7e00 66.5px,#ffb500 67.5px,#fb0 68.5px,#ff8f00 69.5px,#ff3800 70.5px,#eb0000 71.5px,#e90000 72.5px,#ff2e00 73.5px,#ffe300 75.5px,#edff12 76.5px,#d7ff28 77.5px,#d9ff26 78.5px,#fbf504 79.5px,#ffaf00 80.5px,#ff4a00 81.5px,#eb0400 82.5px,#eb0000 83.5px,#ff4200 84.5px,#ffbd00 85.5px,#cdff32 86.5px,#74ff8b 87.5px,#38ffc7 88.5px,#12ffed 89.5px,#00fdff 90.5px,#00e5ff 92.5px,#0efff1 94.5px,#3affc5 95.5px,#edf312 97.5px,#ff8000 98.5px,#ff1a00 99.5px,#ff1a00 100.5px,#ff7800 101.5px,#efeb10 102.5px,#83ff7c 103.5px,#1effe1 104.5px,#00cfff 105.5px,#0074ff 107.5px,#0030ff 110.5px,#0010ff 115.5px,#02f 119.5px,#0068ff 123.5px,#00b3ff 125.5px,#00e7ff 126.5px,#2affd5 127.5px,#d1ff2e 129.5px,#ffd900 130.5px,#ffa700 131.5px,#ffa500 132.5px,#ffdb00 133.5px,#cfff30 134.5px,#68ff97 135.5px,#16fde9 136.5px,#00c7ff 137.5px,#005eff 139.5px,#000aff 142.5px,#0000cf 147.5px,#0000af 155.5px,#0000a9 160.5px,#00009f 165.5px,#0000a1 178.5px,#0000af 180.5px,#0000bf 185.5px,#0008ff 189.5px,#0060ff 191.5px,#0ef7f1 193.5px,#46ffb9 194.5px,#32ffcd 195.5px,#02ddfd 196.5px,#0083ff 197.5px,#003cff 198.5px,#0008fd 199.5px,#0000b1 203.5px,#00009f 206.5px,#00009f 208.5px,#00008f 210.5px,#000093 373.5px,#00009f 376.5px,#0000bf 380.5px,#0000ef 384.5px,#00009f 392.5px,#00008f 400.5px,#00008f 518px)"></div><div style="top:121px;background:linear-gradient(90deg,#60ff9f 0px,#60ff9f 11.5px,#91c96e 12.5px,#cd0000 13.5px,#b00 17.5px,#b30000 20.5px,#cf0000 26.5px,#af0000 31.5px,#9f0000 35.5px,#a30000 43.5px,#cf0000 45.5px,#cb0000 47.5px,#fb1c00 48.5px,#ff5800 49.5px,#fb1800 50.5px,#cb0000 51.5px,#ef0800 52.5px,#ff5400 53.5px,#ff8000 54.5px,#ff5800 55.5px,#fb1000 56.5px,#d30000 57.5px,#f10800 58.5px,#ff6000 59.5px,#ffa300 60.5px,#ff9700 61.5px,#ef0400 63.5px,#d30000 64.5px,#fb1c00 65.5px,#ff7400 66.5px,#ffb100 67.5px,#ffb900 68.5px,#ff8900 69.5px,#ff3800 70.5px,#eb0000 71.5px,#e30000 72.5px,#ff2400 73.5px,#ffd700 75.5px,#f3ff0c 76.5px,#dfff20 77.5px,#e1ff1e 78.5px,#fbf304 79.5px,#ffb100 80.5px,#ff4c00 81.5px,#eb0400 82.5px,#e50000 83.5px,#ff3200 84.5px,#ffad00 85.5px,#dbfd24 86.5px,#83ff7c 87.5px,#4fb 88.5px,#1cffe3 89.5px,#00f5ff 91.5px,#00f5ff 93.5px,#10ffef 94.5px,#4fb 95.5px,#8bff74 96.5px,#ebf714 97.5px,#ff8900 98.5px,#ff1c00 99.5px,#ff0e00 100.5px,#ff6400 101.5px,#f9e106 102.5px,#9f6 103.5px,#32ffcd 104.5px,#00e1ff 105.5px,#007eff 107.5px,#0036ff 110.5px,#0012ff 115.5px,#0030ff 120.5px,#006aff 123.5px,#00b3ff 125.5px,#00e7ff 126.5px,#28ffd7 127.5px,#c9ff36 129.5px,#ffe300 130.5px,#ffa900 131.5px,#ff9500 132.5px,#ffbf00 133.5px,#e9fd16 134.5px,#32ffcd 136.5px,#00dfff 137.5px,#0070ff 139.5px,#0016ff 142.5px,#0002fd 143.5px,#0000cf 147.5px,#0000af 156.5px,#0000a3 162.5px,#00009f 177.5px,#0000af 181.5px,#0000bf 185.5px,#0004ff 189.5px,#0024ff 190.5px,#009bff 192.5px,#06edf9 193.5px,#42ffbd 194.5px,#4affb5 195.5px,#10f7ef 196.5px,#0054ff 198.5px,#001cff 199.5px,#0000f3 200.5px,#0000b9 203.5px,#00009f 207.5px,#00008f 213.5px,#000093 373.5px,#00009f 376.5px,#0000c7 381.5px,#0000ef 384.5px,#0000db 387.5px,#0000a3 392.5px,#00008f 400.5px,#00008f 518px)"></div><div style="top:123px;background:linear-gradient(90deg,#60ff9f 0px,#60ff9f 11.5px,#81f77e 12.5px,#cd0000 13.5px,#b00 17.5px,#b30000 20.5px,#cf0000 26.5px,#af0000 31.5px,#9f0000 35.5px,#a30000 43.5px,#cf0000 45.5px,#cb0000 47.5px,#fb1c00 48.5px,#ff5800 49.5px,#fb1c00 50.5px,#cd0000 51.5px,#ed0600 52.5px,#ff5200 53.5px,#ff7c00 54.5px,#ff5800 55.5px,#fb1000 56.5px,#d30000 57.5px,#ed0800 58.5px,#ff5c00 59.5px,#ff9f00 60.5px,#ff9300 61.5px,#f10400 63.5px,#d30000 64.5px,#fb1600 65.5px,#ff7200 66.5px,#ffad00 67.5px,#ffb700 68.5px,#ff8700 69.5px,#ff3c00 70.5px,#eb0000 71.5px,#df0000 72.5px,#ff1e00 73.5px,#ffd500 75.5px,#f7fd08 76.5px,#e3ff1c 77.5px,#e3ff1c 78.5px,#fbf304 79.5px,#ffb300 80.5px,#ff4e00 81.5px,#f10400 82.5px,#d00 83.5px,#ff2600 84.5px,#ff9b00 85.5px,#e7f918 86.5px,#91ff6e 87.5px,#50ffaf 88.5px,#24ffdb 89.5px,#00fdff 91.5px,#00f3ff 92.5px,#00fdff 93.5px,#18ffe7 94.5px,#48ffb7 95.5px,#8bff74 96.5px,#e7f718 97.5px,#ff8f00 98.5px,#ff1c00 99.5px,#ff0800 100.5px,#ff5000 101.5px,#ffcd00 102.5px,#b1ff4e 103.5px,#4fb 104.5px,#04edfb 105.5px,#0087ff 107.5px,#003eff 110.5px,#0020ff 113.5px,#0020ff 118.5px,#0056ff 122.5px,#00afff 125.5px,#00e7ff 126.5px,#24ffdb 127.5px,#c1ff3e 129.5px,#fde702 130.5px,#ffa700 131.5px,#ff8f00 132.5px,#ffad00 133.5px,#f9ef06 134.5px,#adff52 135.5px,#50ffaf 136.5px,#08f5f7 137.5px,#0081ff 139.5px,#0036ff 141.5px,#0000f9 144.5px,#0000cf 148.5px,#0000af 158.5px,#0000a9 163.5px,#00009f 173.5px,#0000a7 177.5px,#0000b9 183.5px,#0000cf 186.5px,#0004fb 189.5px,#004aff 191.5px,#008bff 192.5px,#00dfff 193.5px,#36ffc9 194.5px,#5effa1 195.5px,#2cffd3 196.5px,#00cfff 197.5px,#0076ff 198.5px,#0032ff 199.5px,#0008fd 200.5px,#0000b1 204.5px,#00009f 208.5px,#00008f 214.5px,#00008f 373.5px,#00009f 375.5px,#0000af 379.5px,#0000ef 384.5px,#0000e7 387.5px,#0000b1 391.5px,#00009f 395.5px,#00008f 401.5px,#00008f 518px)"></div><div style="top:125px;background:linear-gradient(90deg,#60ff9f 0px,#68ff97 12.5px,#d71000 13.5px,#c70000 15.5px,#b30000 20.5px,#cf0000 26.5px,#af0000 31.5px,#9f0000 35.5px,#a30000 43.5px,#cf0000 45.5px,#cb0000 47.5px,#fb1a00 48.5px,#ff5800 49.5px,#fb1c00 50.5px,#cd0000 51.5px,#eb0400 52.5px,#ff4c00 53.5px,#ff7a00 54.5px,#ff5800 55.5px,#fb1000 56.5px,#d30000 57.5px,#eb0400 58.5px,#ff5800 59.5px,#f90 60.5px,#ff9300 61.5px,#f30400 63.5px,#d30000 64.5px,#fb1400 65.5px,#ff6e00 66.5px,#ffa700 67.5px,#ffaf00 68.5px,#ff8700 69.5px,#ff3c00 70.5px,#eb0000 71.5px,#db0000 72.5px,#fd1c00 73.5px,#ffc700 75.5px,#fbfb04 76.5px,#e5ff1a 78.5px,#fbf304 79.5px,#ffb300 80.5px,#ff5200 81.5px,#f30400 82.5px,#d70000 83.5px,#fd1c00 84.5px,#f1f30e 86.5px,#5affa5 88.5px,#16ffe9 90.5px,#0ff 92.5px,#04fffb 93.5px,#1cffe3 94.5px,#48ffb7 95.5px,#8bff74 96.5px,#e7f718 97.5px,#ff8f00 98.5px,#ff1e00 99.5px,#fb0200 100.5px,#ff3e00 101.5px,#ffb700 102.5px,#c7ff38 103.5px,#5affa5 104.5px,#0af7f5 105.5px,#0091ff 107.5px,#04f 110.5px,#0020ff 114.5px,#02f 118.5px,#0058ff 122.5px,#00afff 125.5px,#00e1ff 126.5px,#18ffe7 127.5px,#b7ff48 129.5px,#fbed04 130.5px,#ffa700 131.5px,#ff8500 132.5px,#ff9500 133.5px,#ffd700 134.5px,#cfff30 135.5px,#1afde5 137.5px,#00cfff 138.5px,#006aff 140.5px,#002aff 142.5px,#0002ff 144.5px,#0000cf 149.5px,#0000bf 154.5px,#0000af 160.5px,#0000a9 165.5px,#00009f 175.5px,#0000af 179.5px,#0000af 182.5px,#0000e7 188.5px,#0000fb 189.5px,#04f 191.5px,#007cff 192.5px,#00cbff 193.5px,#24ffdb 194.5px,#5effa1 195.5px,#4effb1 196.5px,#08eff7 197.5px,#0050ff 199.5px,#0016ff 200.5px,#0000f3 201.5px,#0000b9 204.5px,#00009f 208.5px,#00008f 216.5px,#00008f 373.5px,#00009f 375.5px,#0000af 379.5px,#0000ef 385.5px,#0000ef 387.5px,#0000af 392.5px,#00008f 401.5px,#00008f 518px)"></div><div style="top:127px;background:linear-gradient(90deg,#60ff9f 0px,#60ff9f 12.5px,#d53e0a 13.5px,#cf0000 14.5px,#af0000 19.5px,#cf0000 26.5px,#af0000 31.5px,#9f0000 35.5px,#a30000 43.5px,#cf0000 45.5px,#c90000 47.5px,#fb1800 48.5px,#ff5800 49.5px,#fb1c00 50.5px,#cb0000 51.5px,#eb0400 52.5px,#ff4800 53.5px,#ff7200 54.5px,#ff5800 55.5px,#fb1000 56.5px,#cf0000 57.5px,#e90400 58.5px,#ff5200 59.5px,#ff9300 60.5px,#ff9300 61.5px,#ef0400 63.5px,#d10000 64.5px,#f91000 65.5px,#ff6400 66.5px,#ffa300 67.5px,#ffaf00 68.5px,#ff8700 69.5px,#ff3c00 70.5px,#e70000 71.5px,#d70000 72.5px,#fb1400 73.5px,#ffc500 75.5px,#fff500 76.5px,#edff12 78.5px,#fff300 79.5px,#ffb300 80.5px,#f30400 82.5px,#d30000 83.5px,#fb1200 84.5px,#f9e906 86.5px,#adff52 87.5px,#68ff97 88.5px,#3cffc3 89.5px,#04fffb 92.5px,#20ffdf 94.5px,#4affb5 95.5px,#8bff74 96.5px,#e7f718 97.5px,#ff9700 98.5px,#f20 99.5px,#f30000 100.5px,#ff3000 101.5px,#ffa100 102.5px,#d9fd26 103.5px,#6eff91 104.5px,#16fde9 105.5px,#00d1ff 106.5px,#009dff 107.5px,#004aff 110.5px,#02f 114.5px,#0020ff 117.5px,#0058ff 122.5px,#00afff 125.5px,#00dfff 126.5px,#18ffe7 127.5px,#f9f306 130.5px,#ffab00 131.5px,#ff8300 132.5px,#ff8700 133.5px,#ffbf00 134.5px,#e9fb16 135.5px,#34ffcb 137.5px,#02e9fd 138.5px,#007aff 140.5px,#0020ff 143.5px,#0000fd 145.5px,#0000d1 149.5px,#0000bf 155.5px,#0000af 163.5px,#0000a3 173.5px,#0000af 179.5px,#0000b1 182.5px,#0000db 187.5px,#0000fb 189.5px,#003cff 191.5px,#0070ff 192.5px,#00b9ff 193.5px,#18fbe7 194.5px,#5cffa3 195.5px,#6f9 196.5px,#24fddb 197.5px,#00c1ff 198.5px,#0070ff 199.5px,#0030ff 200.5px,#0006fd 201.5px,#0000c1 204.5px,#00009f 209.5px,#00008f 217.5px,#00008f 373.5px,#0000b1 380.5px,#00f 386.5px,#00009f 395.5px,#00009f 398.5px,#00008f 402.5px,#00008f 518px)"></div><div style="top:129px;background:linear-gradient(90deg,#60ff9f 0px,#60ff9f 12.5px,#c16024 13.5px,#cf0000 14.5px,#af0000 19.5px,#cf0000 26.5px,#af0000 31.5px,#9f0000 35.5px,#a30000 43.5px,#cf0000 45.5px,#c70000 47.5px,#fb1800 48.5px,#ff5800 49.5px,#fb1c00 50.5px,#cb0000 51.5px,#e90400 52.5px,#ff4600 53.5px,#ff7000 54.5px,#ff5800 55.5px,#fb1000 56.5px,#cb0000 57.5px,#e70400 58.5px,#ff4e00 59.5px,#ff9100 60.5px,#ff8f00 61.5px,#ef0400 63.5px,#cf0000 64.5px,#f70e00 65.5px,#ff6200 66.5px,#ffa100 67.5px,#ffab00 68.5px,#ff8700 69.5px,#ff3c00 70.5px,#e70000 71.5px,#d30000 72.5px,#fb1000 73.5px,#ffb700 75.5px,#fff100 76.5px,#efff10 78.5px,#fff300 79.5px,#ffb300 80.5px,#f30400 82.5px,#d10000 83.5px,#f50e00 84.5px,#ff6c00 85.5px,#fddd02 86.5px,#bdff42 87.5px,#78ff87 88.5px,#4fb 89.5px,#1affe5 91.5px,#12ffed 93.5px,#4effb1 95.5px,#8fff70 96.5px,#e7fb18 97.5px,#ff9f00 98.5px,#ff2600 99.5px,#ef0000 100.5px,#ff1e00 101.5px,#ff8900 102.5px,#ebf314 103.5px,#26ffd9 105.5px,#00dfff 106.5px,#0083ff 108.5px,#0042ff 111.5px,#0028ff 116.5px,#0040ff 120.5px,#0074ff 123.5px,#00afff 125.5px,#0df 126.5px,#18ffe7 127.5px,#58ffa7 128.5px,#f3f50c 130.5px,#ff8000 132.5px,#ff7600 133.5px,#ffa100 134.5px,#f9ed06 135.5px,#afff50 136.5px,#54ffab 137.5px,#0af7f5 138.5px,#0064ff 141.5px,#0016ff 144.5px,#0000f5 146.5px,#0000cf 151.5px,#0000bf 157.5px,#0000af 163.5px,#0000b5 182.5px,#0000db 187.5px,#0000f7 189.5px,#0034ff 191.5px,#00a9ff 193.5px,#0af1f5 194.5px,#54ffab 195.5px,#74ff8b 196.5px,#4affb5 197.5px,#04e7fb 198.5px,#004aff 200.5px,#0016ff 201.5px,#0000f3 202.5px,#0000bd 205.5px,#00009f 209.5px,#00008f 217.5px,#00008f 373.5px,#00009f 377.5px,#0000c5 382.5px,#00f 386.5px,#0000ed 389.5px,#0000af 394.5px,#00009f 398.5px,#00008f 404.5px,#00008f 518px)"></div><div style="top:131px;background:linear-gradient(90deg,#60ff9f 0px,#60ff9f 12.5px,#b18540 13.5px,#cf0000 14.5px,#af0000 19.5px,#cf0000 26.5px,#af0000 31.5px,#9f0000 35.5px,#a30000 43.5px,#cf0000 45.5px,#c30000 47.5px,#fb1800 48.5px,#ff5800 49.5px,#fb1c00 50.5px,#cb0000 51.5px,#e70400 52.5px,#f40 53.5px,#ff7000 54.5px,#ff5800 55.5px,#fb1000 56.5px,#cb0000 57.5px,#e70400 58.5px,#ff4800 59.5px,#ff8d00 60.5px,#ff8d00 61.5px,#ef0400 63.5px,#cf0000 64.5px,#f30c00 65.5px,#ff6000 66.5px,#ff9f00 67.5px,#ffab00 68.5px,#ff8700 69.5px,#ff3c00 70.5px,#e70000 71.5px,#d30000 72.5px,#fb0c00 73.5px,#ffb500 75.5px,#ffed00 76.5px,#f9ff06 77.5px,#f3ff0c 78.5px,#ffef00 79.5px,#ffb300 80.5px,#f30600 82.5px,#cf0000 83.5px,#f30600 84.5px,#ff5e00 85.5px,#ffcf00 86.5px,#cdff32 87.5px,#81ff7e 88.5px,#52ffad 89.5px,#26ffd9 91.5px,#18ffe7 92.5px,#2cffd3 94.5px,#54ffab 95.5px,#91ff6e 96.5px,#e5fb1a 97.5px,#ff9f00 98.5px,#ff2800 99.5px,#eb0000 100.5px,#fb1200 101.5px,#f3eb0c 103.5px,#97ff68 104.5px,#38ffc7 105.5px,#02edfd 106.5px,#008fff 108.5px,#004aff 111.5px,#0030ff 114.5px,#0036ff 119.5px,#0074ff 123.5px,#00afff 125.5px,#00dbff 126.5px,#18ffe7 127.5px,#a1ff5e 129.5px,#f1fb0e 130.5px,#ff8000 132.5px,#ff7000 133.5px,#ff8f00 134.5px,#ffd500 135.5px,#cfff30 136.5px,#20ffdf 138.5px,#0df 139.5px,#0076ff 141.5px,#0020ff 144.5px,#00f 146.5px,#0000cf 152.5px,#0000bf 158.5px,#0000af 166.5px,#0000af 181.5px,#0000e7 188.5px,#0010ff 190.5px,#005aff 192.5px,#02e7fd 194.5px,#42ffbd 195.5px,#7cff83 196.5px,#68ff97 197.5px,#18fbe7 198.5px,#00b5ff 199.5px,#0064ff 200.5px,#002cff 201.5px,#0006fd 202.5px,#0000c1 205.5px,#00009f 210.5px,#00008f 218.5px,#00008f 373.5px,#00009f 377.5px,#0000cf 383.5px,#00f 387.5px,#0000eb 390.5px,#0000af 395.5px,#00009f 399.5px,#00008f 405.5px,#00008f 518px)"></div><div style="top:133px;background:linear-gradient(90deg,#60ff9f 0px,#60ff9f 12.5px,#a3b352 13.5px,#cf0000 14.5px,#af0000 19.5px,#cf0000 26.5px,#af0000 31.5px,#9f0000 35.5px,#a30000 43.5px,#cf0000 45.5px,#c30000 47.5px,#fb1400 48.5px,#ff5800 49.5px,#fb1e00 50.5px,#cb0000 51.5px,#e70400 52.5px,#ff4200 53.5px,#ff6c00 54.5px,#ff5400 55.5px,#fb1000 56.5px,#cb0000 57.5px,#e70000 58.5px,#ff4200 59.5px,#ff8500 60.5px,#ff8700 61.5px,#ff4c00 62.5px,#eb0400 63.5px,#cb0000 64.5px,#f30a00 65.5px,#ff9500 67.5px,#ffa700 68.5px,#ff8700 69.5px,#ff3c00 70.5px,#e70000 71.5px,#d10000 72.5px,#f30a00 73.5px,#ffa700 75.5px,#ffe300 76.5px,#ff0 77.5px,#fbff04 78.5px,#ffed00 79.5px,#ffaf00 80.5px,#f30800 82.5px,#cd0000 83.5px,#e90400 84.5px,#ff5000 85.5px,#ffbf00 86.5px,#df2 87.5px,#8fff70 88.5px,#5effa1 89.5px,#2effd1 91.5px,#20ffdf 93.5px,#34ffcb 94.5px,#5affa5 95.5px,#e3fb1c 97.5px,#ff9f00 98.5px,#ff2c00 99.5px,#e30000 100.5px,#f70a00 101.5px,#ff6200 102.5px,#fddb02 103.5px,#adff52 104.5px,#4affb5 105.5px,#08f7f7 106.5px,#007aff 109.5px,#0042ff 112.5px,#0030ff 115.5px,#0030ff 118.5px,#0062ff 122.5px,#00afff 125.5px,#00dbff 126.5px,#14ffeb 127.5px,#e9fb16 130.5px,#ffbd00 131.5px,#ff8000 132.5px,#ff6200 133.5px,#ff7800 134.5px,#ffb900 135.5px,#e9f916 136.5px,#3cffc3 138.5px,#02edfd 139.5px,#0087ff 141.5px,#002aff 144.5px,#0000fb 147.5px,#0000cf 153.5px,#0000bf 159.5px,#0000af 167.5px,#0000b1 181.5px,#0000bf 183.5px,#0000e7 188.5px,#000cff 190.5px,#0052ff 192.5px,#0089ff 193.5px,#00d5ff 194.5px,#2effd1 195.5px,#74ff8b 196.5px,#7eff81 197.5px,#3effc1 198.5px,#02ddfd 199.5px,#0042ff 201.5px,#0016ff 202.5px,#0000f3 203.5px,#0000c9 205.5px,#00009f 210.5px,#00009f 213.5px,#00008f 217.5px,#000097 374.5px,#0000b1 381.5px,#00f 387.5px,#0000f7 390.5px,#0000b1 395.5px,#00009f 400.5px,#00008f 406.5px,#00008f 518px)"></div><div style="top:135px;background:linear-gradient(90deg,#60ff9f 0px,#60ff9f 12.5px,#8fd170 13.5px,#cf0000 14.5px,#af0000 19.5px,#cf0000 26.5px,#af0000 31.5px,#9f0000 35.5px,#a30000 43.5px,#cf0000 45.5px,#c30000 47.5px,#f71400 48.5px,#ff5800 49.5px,#fb2000 50.5px,#cb0000 51.5px,#e70000 52.5px,#ff3c00 53.5px,#ff6c00 54.5px,#ff5400 55.5px,#fb0e00 56.5px,#cb0000 57.5px,#e50000 58.5px,#ff4000 59.5px,#ff8300 60.5px,#ff8500 61.5px,#ff4a00 62.5px,#eb0400 63.5px,#c70000 64.5px,#f30800 65.5px,#ff9300 67.5px,#ff9f00 68.5px,#ff8300 69.5px,#ff3c00 70.5px,#e70000 71.5px,#cf0000 72.5px,#f30600 73.5px,#ffa500 75.5px,#fd0 76.5px,#fff900 77.5px,#ff0 78.5px,#ffe700 79.5px,#ffaf00 80.5px,#f30800 82.5px,#c50000 83.5px,#e70000 84.5px,#ff4000 85.5px,#ffaf00 86.5px,#e7fb18 87.5px,#68ff97 89.5px,#3affc5 91.5px,#2affd5 93.5px,#38ffc7 94.5px,#5cffa3 95.5px,#e3fb1c 97.5px,#ffa500 98.5px,#ff3400 99.5px,#e30000 100.5px,#f10400 101.5px,#ff4e00 102.5px,#ffc700 103.5px,#c1ff3e 104.5px,#5effa1 105.5px,#12fded 106.5px,#00d3ff 107.5px,#0083ff 109.5px,#004aff 112.5px,#0030ff 116.5px,#0054ff 121.5px,#0091ff 124.5px,#00dbff 126.5px,#0efff1 127.5px,#4affb5 128.5px,#e5fd1a 130.5px,#ffc500 131.5px,#ff8300 132.5px,#ff5e00 133.5px,#ff6800 134.5px,#ff9f00 135.5px,#f9ed06 136.5px,#afff50 137.5px,#58ffa7 138.5px,#12fded 139.5px,#00cfff 140.5px,#0074ff 142.5px,#02f 145.5px,#0002ff 147.5px,#0000cf 154.5px,#0000b7 163.5px,#0000af 180.5px,#0000cf 186.5px,#0008ff 190.5px,#004cff 192.5px,#00c3ff 194.5px,#1cfde3 195.5px,#6cff93 196.5px,#8dff72 197.5px,#60ff9f 198.5px,#14f7eb 199.5px,#00adff 200.5px,#0060ff 201.5px,#002aff 202.5px,#0006fd 203.5px,#0000b9 207.5px,#00009f 211.5px,#00009f 214.5px,#00008f 216.5px,#000095 374.5px,#0000af 381.5px,#00f 387.5px,#000eff 389.5px,#0000f5 391.5px,#0000b1 396.5px,#00009f 401.5px,#00008f 407.5px,#00008f 518px)"></div><div style="top:137px;background:linear-gradient(90deg,#60ff9f 0px,#60ff9f 12.5px,#78ff87 13.5px,#d70200 14.5px,#af0000 19.5px,#cf0000 26.5px,#af0000 31.5px,#9f0000 35.5px,#a30000 43.5px,#cf0000 45.5px,#c30000 47.5px,#f71400 48.5px,#ff5800 49.5px,#fb2000 50.5px,#cb0000 51.5px,#e70000 52.5px,#ff3800 53.5px,#f60 54.5px,#ff5400 55.5px,#fb0c00 56.5px,#cb0000 57.5px,#e10000 58.5px,#ff3a00 59.5px,#ff8000 60.5px,#ff8300 61.5px,#ff4600 62.5px,#eb0400 63.5px,#c70000 64.5px,#f10400 65.5px,#ff9100 67.5px,#ff9f00 68.5px,#ff8300 69.5px,#ff3a00 70.5px,#e70000 71.5px,#cd0000 72.5px,#f30400 73.5px,#ff4600 74.5px,#f90 75.5px,#ffd500 76.5px,#fff300 77.5px,#ff0 78.5px,#ffe300 79.5px,#ffab00 80.5px,#f30a00 82.5px,#c30000 83.5px,#db0000 84.5px,#ff3600 85.5px,#ffa100 86.5px,#f1f50e 87.5px,#a9ff56 88.5px,#76ff89 89.5px,#42ffbd 91.5px,#30ffcf 93.5px,#60ff9f 95.5px,#97ff68 96.5px,#e5fb1a 97.5px,#ffab00 98.5px,#ff3400 99.5px,#df0000 100.5px,#e90000 101.5px,#ff3e00 102.5px,#ffb100 103.5px,#d7ff28 104.5px,#72ff8d 105.5px,#20ffdf 106.5px,#00e1ff 107.5px,#008bff 109.5px,#04f 113.5px,#0040ff 119.5px,#007aff 123.5px,#00dbff 126.5px,#0cfff3 127.5px,#91ff6e 129.5px,#e1ff1e 130.5px,#ffcb00 131.5px,#ff8700 132.5px,#ff5800 133.5px,#ff5a00 134.5px,#ff8700 135.5px,#ffd500 136.5px,#cfff30 137.5px,#26ffd9 139.5px,#00e1ff 140.5px,#0083ff 142.5px,#002eff 145.5px,#00f 148.5px,#0000df 152.5px,#0000cf 156.5px,#0000af 169.5px,#0000b5 180.5px,#0000bf 184.5px,#0008ff 190.5px,#0042ff 192.5px,#00b1ff 194.5px,#0ef7f1 195.5px,#5affa5 196.5px,#91ff6e 197.5px,#80ff80 198.5px,#38ffc7 199.5px,#00d5ff 200.5px,#0081ff 201.5px,#0042ff 202.5px,#0016ff 203.5px,#0000f5 204.5px,#0000b5 208.5px,#00009f 212.5px,#00009d 215.5px,#00008f 218.5px,#000093 374.5px,#00009f 377.5px,#00009f 379.5px,#0000d9 385.5px,#0000fb 387.5px,#0010ff 390.5px,#0000f3 392.5px,#0000af 397.5px,#00008f 407.5px,#00008f 518px)"></div><div style="top:139px;background:linear-gradient(90deg,#60ff9f 0px,#62ff9d 13.5px,#db3002 14.5px,#cb0000 15.5px,#af0000 19.5px,#cf0000 26.5px,#af0000 31.5px,#9f0000 35.5px,#a30000 43.5px,#cf0000 45.5px,#c30000 47.5px,#f71000 48.5px,#ff5800 49.5px,#fb2000 50.5px,#cb0000 51.5px,#e50000 52.5px,#ff3600 53.5px,#ff6000 54.5px,#ff5000 55.5px,#fb0c00 56.5px,#cb0000 57.5px,#db0000 58.5px,#ff3600 59.5px,#ff7c00 60.5px,#ff8000 61.5px,#f40 62.5px,#eb0400 63.5px,#c70000 64.5px,#eb0400 65.5px,#ff4a00 66.5px,#ff8d00 67.5px,#ff9f00 68.5px,#ff8100 69.5px,#ff3400 70.5px,#e70000 71.5px,#c90000 72.5px,#e90400 73.5px,#ff4000 74.5px,#ff9500 75.5px,#ffd100 76.5px,#ffed00 77.5px,#fff500 78.5px,#ffe100 79.5px,#ffa700 80.5px,#f30c00 82.5px,#c30000 83.5px,#d70000 84.5px,#ff2600 85.5px,#f9ef06 87.5px,#81ff7e 89.5px,#4effb1 91.5px,#3affc5 93.5px,#46ffb9 94.5px,#97ff68 96.5px,#e7fb18 97.5px,#ffab00 98.5px,#ff3600 99.5px,#df0000 100.5px,#d00 101.5px,#ff2a00 102.5px,#f90 103.5px,#e7f918 104.5px,#83ff7c 105.5px,#32ffcd 106.5px,#02edfd 107.5px,#0097ff 109.5px,#0056ff 112.5px,#0040ff 115.5px,#0046ff 119.5px,#007cff 123.5px,#00dbff 126.5px,#0cfff3 127.5px,#8bff74 129.5px,#dbff24 130.5px,#ffd100 131.5px,#ff8700 132.5px,#ff5800 133.5px,#ff4e00 134.5px,#ff7200 135.5px,#ffb700 136.5px,#e9fb16 137.5px,#40ffbf 139.5px,#08f7f7 140.5px,#006eff 143.5px,#0014ff 147.5px,#0000fd 149.5px,#0000df 153.5px,#0000cf 158.5px,#0000bf 164.5px,#0000af 172.5px,#0000b3 179.5px,#0000bf 182.5px,#0000cf 186.5px,#0008ff 190.5px,#0040ff 192.5px,#006aff 193.5px,#04ebfb 195.5px,#46ffb9 196.5px,#8bff74 197.5px,#97ff68 198.5px,#5effa1 199.5px,#0ef5f1 200.5px,#0060ff 202.5px,#002aff 203.5px,#0006fd 204.5px,#0000bd 208.5px,#00009f 213.5px,#00008f 221.5px,#00008f 374.5px,#00009f 376.5px,#0000a9 380.5px,#0000c9 384.5px,#0006ff 388.5px,#000eff 391.5px,#0000ef 393.5px,#0000af 398.5px,#00008f 408.5px,#00008f 518px)"></div><div style="top:141px;background:linear-gradient(90deg,#60ff9f 0px,#60ff9f 13.5px,#c75220 14.5px,#cb0000 15.5px,#af0000 19.5px,#cf0000 26.5px,#af0000 31.5px,#9f0000 35.5px,#a30000 43.5px,#cf0000 45.5px,#c30000 47.5px,#f71000 48.5px,#ff5800 49.5px,#fb2000 50.5px,#cb0000 51.5px,#e30000 52.5px,#ff3400 53.5px,#ff6000 54.5px,#ff4c00 55.5px,#fb0c00 56.5px,#cb0000 57.5px,#d70000 58.5px,#ff3000 59.5px,#ff7400 60.5px,#ff7c00 61.5px,#f40 62.5px,#eb0400 63.5px,#c50000 64.5px,#e70400 65.5px,#f40 66.5px,#ff8300 67.5px,#ff9d00 68.5px,#ff7e00 69.5px,#ff3400 70.5px,#e70000 71.5px,#c50000 72.5px,#e70000 73.5px,#ff3800 74.5px,#ff8b00 75.5px,#ffc900 76.5px,#ffe900 77.5px,#ffef00 78.5px,#ffdf00 79.5px,#ffa700 80.5px,#f30c00 82.5px,#c30000 83.5px,#cb0000 84.5px,#fd1e00 85.5px,#fde502 87.5px,#c7ff38 88.5px,#8dff72 89.5px,#56ffa9 91.5px,#40ffbf 93.5px,#6cff93 95.5px,#9dff62 96.5px,#e7fb18 97.5px,#ffab00 98.5px,#ff3a00 99.5px,#df0000 100.5px,#d50000 101.5px,#fd1a00 102.5px,#f3ef0c 104.5px,#42ffbd 106.5px,#08f7f7 107.5px,#0085ff 110.5px,#0052ff 113.5px,#0040ff 117.5px,#0060ff 121.5px,#0097ff 124.5px,#0cfff3 127.5px,#87ff78 129.5px,#d7ff28 130.5px,#ffd500 131.5px,#ff8700 132.5px,#ff5600 133.5px,#ff4200 134.5px,#ff6000 135.5px,#f9ef06 137.5px,#5effa1 139.5px,#12fded 140.5px,#00d7ff 141.5px,#0080ff 143.5px,#0030ff 146.5px,#0002ff 149.5px,#0000df 154.5px,#0000bf 165.5px,#0000af 175.5px,#0000c9 184.5px,#0000cf 186.5px,#0004ff 190.5px,#0038ff 192.5px,#0097ff 194.5px,#00dbff 195.5px,#32ffcd 196.5px,#81ff7e 197.5px,#a7ff58 198.5px,#80ff80 199.5px,#30ffcf 200.5px,#00d1ff 201.5px,#0080ff 202.5px,#0042ff 203.5px,#0018ff 204.5px,#0000f7 205.5px,#0000c1 208.5px,#00009f 213.5px,#009 217.5px,#00008f 222.5px,#00008f 374.5px,#00009f 376.5px,#0000a5 380.5px,#0000cf 385.5px,#0002ff 388.5px,#0018ff 390.5px,#0002fd 393.5px,#0000b9 398.5px,#00009f 403.5px,#00008f 411.5px,#00008f 518px)"></div><div style="top:143px;background:linear-gradient(90deg,#60ff9f 0px,#60ff9f 13.5px,#b5833a 14.5px,#cb0000 15.5px,#af0000 19.5px,#cf0000 26.5px,#af0000 31.5px,#9f0000 35.5px,#a30000 43.5px,#cf0000 45.5px,#c30000 47.5px,#f71000 48.5px,#ff5400 49.5px,#ff2000 50.5px,#cb0000 51.5px,#db0000 52.5px,#ff3200 53.5px,#ff5c00 54.5px,#ff4800 55.5px,#fb0c00 56.5px,#cb0000 57.5px,#d70000 58.5px,#ff3000 59.5px,#ff7400 60.5px,#ff7a00 61.5px,#f40 62.5px,#eb0400 63.5px,#c30000 64.5px,#e70200 65.5px,#ff4000 66.5px,#ff8300 67.5px,#f90 68.5px,#ff7800 69.5px,#ff3400 70.5px,#e70000 71.5px,#bf0000 72.5px,#e70000 73.5px,#ff3200 74.5px,#ff8500 75.5px,#ffc300 76.5px,#ffe500 77.5px,#ffef00 78.5px,#ffdb00 79.5px,#ffa700 80.5px,#f30c00 82.5px,#c10000 83.5px,#c90000 84.5px,#fb1200 85.5px,#ffd900 87.5px,#d7ff28 88.5px,#9f6 89.5px,#74ff8b 90.5px,#4affb5 93.5px,#70ff8f 95.5px,#e7fb18 97.5px,#ffaf00 98.5px,#ff4000 99.5px,#df0000 100.5px,#cb0000 101.5px,#f70e00 102.5px,#fbe104 104.5px,#abff54 105.5px,#54ffab 106.5px,#12fded 107.5px,#00d7ff 108.5px,#008dff 110.5px,#005aff 113.5px,#0048ff 117.5px,#0062ff 121.5px,#09f 124.5px,#0cfff3 127.5px,#87ff78 129.5px,#d3ff2c 130.5px,#ffdb00 131.5px,#ff8d00 132.5px,#ff5400 133.5px,#ff3c00 134.5px,#ff4e00 135.5px,#ff8500 136.5px,#ffd700 137.5px,#cdff32 138.5px,#30ffcf 140.5px,#02edfd 141.5px,#008fff 143.5px,#003aff 146.5px,#00f 150.5px,#0000df 155.5px,#0000bf 167.5px,#0000bf 183.5px,#0004ff 190.5px,#0036ff 192.5px,#0089ff 194.5px,#00cbff 195.5px,#1efde1 196.5px,#72ff8d 197.5px,#a9ff56 198.5px,#9dff62 199.5px,#0af1f5 201.5px,#0060ff 203.5px,#000aff 205.5px,#0000bf 209.5px,#00009f 214.5px,#000097 218.5px,#00008f 374.5px,#00009f 378.5px,#0000a1 380.5px,#0000d7 386.5px,#000aff 389.5px,#0020ff 391.5px,#0000fb 394.5px,#0000b7 399.5px,#00009f 405.5px,#00008f 411.5px,#00008f 518px)"></div><div style="top:145px;background:linear-gradient(90deg,#60ff9f 0px,#60ff9f 13.5px,#a3b354 14.5px,#cb0000 15.5px,#af0000 19.5px,#cf0000 26.5px,#af0000 31.5px,#9f0000 35.5px,#a30000 43.5px,#cf0000 45.5px,#c30000 47.5px,#f51000 48.5px,#ff5400 49.5px,#ff2000 50.5px,#cb0000 51.5px,#db0000 52.5px,#ff2c00 53.5px,#ff5c00 54.5px,#ff4800 55.5px,#fb0c00 56.5px,#cb0000 57.5px,#d70000 58.5px,#ff2800 59.5px,#ff7000 60.5px,#ff7800 61.5px,#f40 62.5px,#eb0400 63.5px,#c30000 64.5px,#e70000 65.5px,#ff3e00 66.5px,#ff8000 67.5px,#ff8f00 68.5px,#ff7800 69.5px,#ff3400 70.5px,#e70000 71.5px,#bf0000 72.5px,#df0000 73.5px,#ff2c00 74.5px,#fb0 76.5px,#ffeb00 78.5px,#ffd700 79.5px,#ffa700 80.5px,#f70c00 82.5px,#bf0000 83.5px,#bf0000 84.5px,#f50e00 85.5px,#ffcb00 87.5px,#e3ff1c 88.5px,#a5ff5a 89.5px,#6aff95 91.5px,#50ffaf 93.5px,#5affa5 94.5px,#78ff87 95.5px,#a7ff58 96.5px,#ebfb14 97.5px,#ffb100 98.5px,#ff4200 99.5px,#e30000 100.5px,#c30000 101.5px,#f30600 102.5px,#ff5c00 103.5px,#ffd300 104.5px,#bfff40 105.5px,#6f9 106.5px,#20ffdf 107.5px,#00e3ff 108.5px,#0097ff 110.5px,#0054ff 114.5px,#0050ff 119.5px,#0087ff 123.5px,#00dfff 126.5px,#0efff1 127.5px,#cfff30 130.5px,#ffdf00 131.5px,#ff5600 133.5px,#ff3400 134.5px,#ff3c00 135.5px,#ff7000 136.5px,#fb0 137.5px,#e7fd18 138.5px,#46ffb9 140.5px,#08f9f7 141.5px,#007cff 144.5px,#0032ff 147.5px,#00f 151.5px,#0000df 156.5px,#0000cf 163.5px,#0000bf 167.5px,#0000c7 183.5px,#0000f3 189.5px,#0018ff 191.5px,#0052ff 193.5px,#0bf 195.5px,#0ef9f1 196.5px,#a3ff5c 198.5px,#b5ff4a 199.5px,#81ff7e 200.5px,#2cffd3 201.5px,#00cfff 202.5px,#0080ff 203.5px,#001cff 205.5px,#0002f9 206.5px,#0000bd 210.5px,#00009f 215.5px,#000097 219.5px,#00008f 374.5px,#00009f 378.5px,#0000b1 383.5px,#0004ff 389.5px,#0020ff 391.5px,#001cff 393.5px,#0000f9 395.5px,#0000b7 400.5px,#00009f 406.5px,#00008f 414.5px,#00008f 518px)"></div><div style="top:147px;background:linear-gradient(90deg,#60ff9f 0px,#60ff9f 13.5px,#8bdf74 14.5px,#c90000 15.5px,#af0000 19.5px,#cd0000 26.5px,#af0000 31.5px,#9f0000 35.5px,#a30000 43.5px,#cf0000 45.5px,#c30000 47.5px,#f31000 48.5px,#ff5000 49.5px,#ff2000 50.5px,#cb0000 51.5px,#d90000 52.5px,#ff2800 53.5px,#ff5c00 54.5px,#ff4800 55.5px,#fb0c00 56.5px,#cb0000 57.5px,#d70000 58.5px,#ff2400 59.5px,#ff6e00 60.5px,#ff7800 61.5px,#f40 62.5px,#eb0400 63.5px,#c30000 64.5px,#e70000 65.5px,#ff3400 66.5px,#ff7c00 67.5px,#ff8f00 68.5px,#ff7800 69.5px,#ff3400 70.5px,#e70000 71.5px,#bf0000 72.5px,#db0000 73.5px,#ff2400 74.5px,#ff7600 75.5px,#ffb300 76.5px,#ffd700 77.5px,#ffdf00 78.5px,#ffd300 79.5px,#ffa700 80.5px,#f90e00 82.5px,#c10000 83.5px,#bd0000 84.5px,#f30600 85.5px,#fb0 87.5px,#ebfb14 88.5px,#87ff78 90.5px,#62ff9d 92.5px,#62ff9d 94.5px,#7cff83 95.5px,#a7ff58 96.5px,#ebfb14 97.5px,#ffb500 98.5px,#ff4600 99.5px,#e70000 100.5px,#c10000 101.5px,#e90400 102.5px,#ff4c00 103.5px,#ffbd00 104.5px,#d3ff2c 105.5px,#78ff87 106.5px,#30ffcf 107.5px,#02f1fd 108.5px,#00a3ff 110.5px,#0068ff 113.5px,#0050ff 117.5px,#006eff 121.5px,#00a3ff 124.5px,#00e1ff 126.5px,#10ffef 127.5px,#c9ff36 130.5px,#ffe500 131.5px,#ff5800 133.5px,#ff3400 134.5px,#ff3600 135.5px,#ff6000 136.5px,#f7f108 138.5px,#60ff9f 140.5px,#1cffe3 141.5px,#00e1ff 142.5px,#008bff 144.5px,#003aff 147.5px,#0002ff 151.5px,#0000df 157.5px,#0000df 160.5px,#0000bf 168.5px,#0000c7 182.5px,#0000cf 185.5px,#0006ff 190.5px,#0050ff 193.5px,#00b7ff 195.5px,#06f3f9 196.5px,#97ff68 198.5px,#bdff42 199.5px,#a5ff5a 200.5px,#0cf5f3 202.5px,#006cff 204.5px,#0014ff 206.5px,#0000f7 207.5px,#0000c3 210.5px,#00009f 216.5px,#00009b 220.5px,#00008f 226.5px,#00008f 374.5px,#00009f 378.5px,#0000af 383.5px,#0000e9 388.5px,#000eff 390.5px,#02f 392.5px,#001cff 394.5px,#0000f7 396.5px,#0000af 402.5px,#00009f 408.5px,#00008f 414.5px,#00008f 518px)"></div><div style="top:149px;background:linear-gradient(90deg,#60ff9f 0px,#60ff9f 13.5px,#6cff93 14.5px,#d70c00 15.5px,#b30000 18.5px,#c90000 27.5px,#9f0000 34.5px,#a30000 43.5px,#cf0000 45.5px,#c30000 47.5px,#f30e00 48.5px,#ff5000 49.5px,#ff2000 50.5px,#cb0000 51.5px,#d70000 52.5px,#ff2800 53.5px,#ff5c00 54.5px,#ff4800 55.5px,#fb0c00 56.5px,#cb0000 57.5px,#d50000 58.5px,#f20 59.5px,#ff6400 60.5px,#ff7800 61.5px,#f40 62.5px,#eb0400 63.5px,#c30000 64.5px,#e10000 65.5px,#ff3400 66.5px,#ff7600 67.5px,#ff8f00 68.5px,#ff7600 69.5px,#ff3400 70.5px,#e70000 71.5px,#bf0000 72.5px,#d70000 73.5px,#ff1e00 74.5px,#ffab00 76.5px,#ffcf00 77.5px,#ffdf00 78.5px,#ffcd00 79.5px,#ffa700 80.5px,#fb1000 82.5px,#c70000 83.5px,#b90000 84.5px,#ed0400 85.5px,#ff4c00 86.5px,#ffb100 87.5px,#f3f90c 88.5px,#8fff70 90.5px,#60ff9f 93.5px,#6f9 94.5px,#a9ff56 96.5px,#ebfb14 97.5px,#ffb700 98.5px,#ff4c00 99.5px,#e70400 100.5px,#bf0000 101.5px,#e70000 102.5px,#ff3e00 103.5px,#ffab00 104.5px,#e3fb1c 105.5px,#40ffbf 107.5px,#08f9f7 108.5px,#0095ff 111.5px,#0064ff 114.5px,#06f 120.5px,#0091ff 123.5px,#00e5ff 126.5px,#10ffef 127.5px,#c7ff38 130.5px,#fde702 131.5px,#ff5c00 133.5px,#ff3400 134.5px,#ff3000 135.5px,#ff5200 136.5px,#fde102 138.5px,#c7ff38 139.5px,#30ffcf 141.5px,#02f1fd 142.5px,#0078ff 145.5px,#02f 149.5px,#00f 152.5px,#0000df 158.5px,#00d 161.5px,#0000cf 164.5px,#0000bf 170.5px,#0000bf 180.5px,#0000ef 188.5px,#000aff 190.5px,#0050ff 193.5px,#00adff 195.5px,#02ebfd 196.5px,#3cffc3 197.5px,#87ff78 198.5px,#bf4 199.5px,#bf4 200.5px,#87ff78 201.5px,#34ffcb 202.5px,#02dbfd 203.5px,#008fff 204.5px,#002eff 206.5px,#000cff 207.5px,#0000d1 210.5px,#0000af 214.5px,#00009f 219.5px,#00008f 227.5px,#00008f 374.5px,#00009f 378.5px,#0000b5 384.5px,#0006ff 390.5px,#0030ff 393.5px,#0000f7 397.5px,#0000af 403.5px,#00009f 409.5px,#00008f 415.5px,#00008f 518px)"></div><div style="top:151px;background:linear-gradient(90deg,#60ff9f 0px,#60ff9f 14.5px,#cf4410 15.5px,#c70000 16.5px,#af0000 19.5px,#c70000 27.5px,#9b0000 33.5px,#9f0000 43.5px,#cf0000 45.5px,#c30000 47.5px,#f30c00 48.5px,#ff5000 49.5px,#ff2000 50.5px,#cb0000 51.5px,#d70000 52.5px,#ff2800 53.5px,#ff5a00 54.5px,#ff4800 55.5px,#fb0c00 56.5px,#cb0000 57.5px,#cd0000 58.5px,#ff2000 59.5px,#ff6400 60.5px,#ff7200 61.5px,#f40 62.5px,#ef0400 63.5px,#c30000 64.5px,#db0000 65.5px,#ff3000 66.5px,#ff7400 67.5px,#ff8f00 68.5px,#ff7400 69.5px,#ff3600 70.5px,#e70000 71.5px,#bf0000 72.5px,#d70000 73.5px,#ff1a00 74.5px,#ffa500 76.5px,#ffc900 77.5px,#ffc900 79.5px,#ffa300 80.5px,#fb1000 82.5px,#cb0000 83.5px,#b70000 84.5px,#e70200 85.5px,#f40 86.5px,#fbf304 88.5px,#9f6 90.5px,#68ff97 93.5px,#83ff7c 95.5px,#adff52 96.5px,#ebfb14 97.5px,#ffb700 98.5px,#ff5400 99.5px,#eb0400 100.5px,#bf0000 101.5px,#d90000 102.5px,#ff2e00 103.5px,#f1f30e 105.5px,#50ffaf 107.5px,#12ffed 108.5px,#00e1ff 109.5px,#009fff 111.5px,#0070ff 114.5px,#0060ff 118.5px,#0083ff 122.5px,#00c7ff 125.5px,#00e9ff 126.5px,#14ffeb 127.5px,#c7ff38 130.5px,#fbed04 131.5px,#ff6800 133.5px,#ff3800 134.5px,#ff2600 135.5px,#f40 136.5px,#ff7e00 137.5px,#ffc900 138.5px,#dfff20 139.5px,#48ffb7 141.5px,#0cfbf3 142.5px,#0083ff 145.5px,#002aff 149.5px,#00f 153.5px,#0000df 159.5px,#0000c5 168.5px,#0000c5 179.5px,#0000df 186.5px,#00f 189.5px,#0038ff 192.5px,#00a7ff 195.5px,#00e7ff 196.5px,#2cffd3 197.5px,#b3ff4c 199.5px,#cdff32 200.5px,#adff52 201.5px,#14f9eb 203.5px,#00bfff 204.5px,#004aff 206.5px,#0008ff 208.5px,#0000bd 213.5px,#00009f 219.5px,#000093 224.5px,#00008f 374.5px,#00009f 378.5px,#0000a1 381.5px,#0000af 383.5px,#00d 388.5px,#0002fd 390.5px,#0030ff 393.5px,#002cff 395.5px,#0000f7 398.5px,#0000af 404.5px,#00009f 410.5px,#00008f 418.5px,#00008f 518px)"></div><div style="top:153px;background:linear-gradient(90deg,#60ff9f 0px,#60ff9f 14.5px,#b97630 15.5px,#c30000 16.5px,#af0000 20.5px,#c70000 26.5px,#af0000 31.5px,#900 33.5px,#9f0000 43.5px,#cf0000 45.5px,#c30000 47.5px,#f30c00 48.5px,#ff5000 49.5px,#ff2000 50.5px,#cb0000 51.5px,#d70000 52.5px,#ff2400 53.5px,#ff5800 54.5px,#ff4800 55.5px,#fb0c00 56.5px,#cb0000 57.5px,#cb0000 58.5px,#ff1e00 59.5px,#ff6400 60.5px,#ff6c00 61.5px,#f40 62.5px,#ef0400 63.5px,#c30000 64.5px,#d70000 65.5px,#ff2e00 66.5px,#ff7400 67.5px,#ff8d00 68.5px,#ff7400 69.5px,#ff3800 70.5px,#e70000 71.5px,#bf0000 72.5px,#d10000 73.5px,#fd1800 74.5px,#ff9d00 76.5px,#ffbf00 77.5px,#ffcf00 78.5px,#ffc700 79.5px,#ff9f00 80.5px,#fb1400 82.5px,#cb0000 83.5px,#b50000 84.5px,#e50000 85.5px,#ff3800 86.5px,#fde902 88.5px,#d1ff2e 89.5px,#a3ff5c 90.5px,#7aff85 92.5px,#72ff8d 94.5px,#87ff78 95.5px,#ebfb14 97.5px,#fb0 98.5px,#f10400 100.5px,#c30000 101.5px,#d70000 102.5px,#ff1e00 103.5px,#f9eb06 105.5px,#afff50 106.5px,#60ff9f 107.5px,#2fd 108.5px,#00efff 109.5px,#0095ff 112.5px,#0070ff 115.5px,#0070ff 120.5px,#00b1ff 124.5px,#00edff 126.5px,#14ffeb 127.5px,#c7ff38 130.5px,#fbf104 131.5px,#ff6800 133.5px,#ff3800 134.5px,#ff2000 135.5px,#ff3800 136.5px,#ff6a00 137.5px,#f1f70e 139.5px,#20ffdf 142.5px,#00e5ff 143.5px,#0074ff 146.5px,#0024ff 150.5px,#00f 154.5px,#0000df 160.5px,#0000cf 168.5px,#0000bf 175.5px,#0000cf 181.5px,#0004ff 189.5px,#0038ff 192.5px,#00a7ff 195.5px,#00d9ff 196.5px,#2fd 197.5px,#abff54 199.5px,#cdff32 200.5px,#c3ff3c 201.5px,#8dff72 202.5px,#40ffbf 203.5px,#04ebfb 204.5px,#006eff 206.5px,#001eff 208.5px,#0004fd 209.5px,#0000c3 213.5px,#00009f 220.5px,#00009b 225.5px,#00008f 231.5px,#00008f 374.5px,#00009f 378.5px,#00009f 381.5px,#0000af 383.5px,#0000d7 388.5px,#000aff 391.5px,#002eff 393.5px,#002cff 396.5px,#0000f7 399.5px,#0000af 405.5px,#00009f 411.5px,#00008f 419.5px,#00008f 518px)"></div><div style="top:155px;background:linear-gradient(90deg,#60ff9f 0px,#60ff9f 14.5px,#a1ad52 15.5px,#c30000 16.5px,#a90000 19.5px,#c30000 24.5px,#bf0000 28.5px,#a90000 31.5px,#970000 33.5px,#9f0000 43.5px,#cf0000 45.5px,#bf0000 47.5px,#ef0800 48.5px,#ff5000 49.5px,#ff2400 50.5px,#cb0000 51.5px,#d70000 52.5px,#ff2400 53.5px,#ff5800 54.5px,#f40 55.5px,#fb0c00 56.5px,#cb0000 57.5px,#cb0000 58.5px,#fd1c00 59.5px,#ff6200 60.5px,#ff6c00 61.5px,#f40 62.5px,#ef0400 63.5px,#c30000 64.5px,#d70000 65.5px,#ff2800 66.5px,#ff6e00 67.5px,#ff8700 68.5px,#ff7400 69.5px,#ff3800 70.5px,#e70000 71.5px,#bf0000 72.5px,#cf0000 73.5px,#fb1200 74.5px,#ff9500 76.5px,#ffb900 77.5px,#ffc900 78.5px,#ffbf00 79.5px,#ff9d00 80.5px,#fb1600 82.5px,#cb0000 83.5px,#b30000 84.5px,#d90000 85.5px,#ff2e00 86.5px,#ffe100 88.5px,#d9ff26 89.5px,#8fff70 91.5px,#72ff8d 93.5px,#8fff70 95.5px,#ebfb14 97.5px,#ffbf00 98.5px,#ff5a00 99.5px,#f30800 100.5px,#c30000 101.5px,#cd0000 102.5px,#fb1800 103.5px,#ffdb00 105.5px,#c3ff3c 106.5px,#72ff8d 107.5px,#32ffcd 108.5px,#04f9fb 109.5px,#009fff 112.5px,#0070ff 116.5px,#0070ff 119.5px,#00a1ff 123.5px,#00efff 126.5px,#1affe5 127.5px,#80ff80 129.5px,#fbf304 131.5px,#ff6800 133.5px,#ff2000 135.5px,#ff2c00 136.5px,#ff5a00 137.5px,#fbeb04 139.5px,#bdff42 140.5px,#30ffcf 142.5px,#02f5fd 143.5px,#0081ff 146.5px,#002eff 150.5px,#00f 154.5px,#0000df 162.5px,#0000cf 168.5px,#0000d3 182.5px,#0000fd 188.5px,#003cff 192.5px,#00a3ff 195.5px,#00d7ff 196.5px,#18ffe7 197.5px,#9dff62 199.5px,#cbff34 200.5px,#d7ff28 201.5px,#afff50 202.5px,#22fddd 204.5px,#00d3ff 205.5px,#0091ff 206.5px,#0038ff 208.5px,#0004fd 210.5px,#0000bf 215.5px,#00009f 222.5px,#009 227.5px,#00008f 237.5px,#00008f 374.5px,#00009f 378.5px,#0000a9 382.5px,#0000d1 388.5px,#0002fd 391.5px,#0040ff 395.5px,#001eff 398.5px,#0000f7 400.5px,#0000af 406.5px,#00009f 412.5px,#00008f 420.5px,#00008f 518px)"></div><div style="top:157px;background:linear-gradient(90deg,#60ff9f 0px,#60ff9f 14.5px,#8be174 15.5px,#c30000 16.5px,#a70000 19.5px,#bf0000 23.5px,#bf0000 28.5px,#b70000 30.5px,#970000 33.5px,#9f0000 36.5px,#930000 37.5px,#9f0000 39.5px,#9f0000 43.5px,#cf0000 45.5px,#bf0000 47.5px,#ef0800 48.5px,#ff5000 49.5px,#ff2400 50.5px,#cb0000 51.5px,#d30000 52.5px,#f20 53.5px,#ff5800 54.5px,#f40 55.5px,#fb0c00 56.5px,#cb0000 57.5px,#cb0000 58.5px,#fb1a00 59.5px,#ff6000 60.5px,#ff6c00 61.5px,#f40 62.5px,#ef0400 63.5px,#c30000 64.5px,#d70000 65.5px,#ff2400 66.5px,#ff6800 67.5px,#ff8000 68.5px,#ff7200 69.5px,#ff3800 70.5px,#e70000 71.5px,#bf0000 72.5px,#cd0000 73.5px,#fb0c00 74.5px,#ff9100 76.5px,#ffb500 77.5px,#fb0 79.5px,#f90 80.5px,#fd1800 82.5px,#cd0000 83.5px,#b30000 84.5px,#d70000 85.5px,#f20 86.5px,#ffd500 88.5px,#e7ff18 89.5px,#b3ff4c 90.5px,#87ff78 92.5px,#80ff80 94.5px,#91ff6e 95.5px,#b9ff46 96.5px,#f3fb0c 97.5px,#ffbf00 98.5px,#f30c00 100.5px,#c30000 101.5px,#cb0000 102.5px,#f90e00 103.5px,#ff6400 104.5px,#ffcb00 105.5px,#d5ff2a 106.5px,#40ffbf 108.5px,#0efff1 109.5px,#00c3ff 111.5px,#0095ff 113.5px,#0078ff 117.5px,#0089ff 121.5px,#00b9ff 124.5px,#00f5ff 126.5px,#1cffe3 127.5px,#b9ff46 130.5px,#fbf304 131.5px,#ff3c00 134.5px,#ff2000 135.5px,#ff2600 136.5px,#ff4a00 137.5px,#ffd900 139.5px,#d5ff2a 140.5px,#48ffb7 142.5px,#0efdf1 143.5px,#00b1ff 145.5px,#0072ff 147.5px,#0026ff 151.5px,#0000fd 156.5px,#0000ef 158.5px,#0000cf 169.5px,#0000d5 181.5px,#00f 188.5px,#0042ff 192.5px,#00a1ff 195.5px,#0cfbf3 197.5px,#c5ff3a 200.5px,#dfff20 201.5px,#cbff34 202.5px,#97ff68 203.5px,#0cf7f3 205.5px,#0058ff 208.5px,#0016ff 210.5px,#0002fb 211.5px,#0000bf 216.5px,#00009f 224.5px,#009 229.5px,#00008f 239.5px,#00008f 374.5px,#00009f 378.5px,#0000a5 382.5px,#0000c1 387.5px,#000aff 392.5px,#0040ff 395.5px,#003eff 397.5px,#0000f7 401.5px,#00b 406.5px,#00009f 412.5px,#00009d 416.5px,#00008f 419.5px,#00008f 518px)"></div><div style="top:159px;background:linear-gradient(90deg,#60ff9f 0px,#68ff97 15.5px,#cf1800 16.5px,#b70000 17.5px,#a70000 19.5px,#bf0000 23.5px,#bf0000 28.5px,#b70000 30.5px,#9b0000 32.5px,#9f0000 36.5px,#930000 37.5px,#9f0000 39.5px,#950000 40.5px,#9f0000 43.5px,#cd0000 45.5px,#bf0000 47.5px,#ef0800 48.5px,#ff4c00 49.5px,#ff2400 50.5px,#cb0000 51.5px,#cf0000 52.5px,#ff2000 53.5px,#ff5800 54.5px,#f40 55.5px,#fb0c00 56.5px,#cb0000 57.5px,#cb0000 58.5px,#fb1800 59.5px,#ff5a00 60.5px,#ff6c00 61.5px,#f40 62.5px,#f30400 63.5px,#c30000 64.5px,#d70000 65.5px,#ff2000 66.5px,#f60 67.5px,#ff8000 68.5px,#ff7000 69.5px,#ff3800 70.5px,#e70000 71.5px,#bf0000 72.5px,#cb0000 73.5px,#fb0c00 74.5px,#ff8700 76.5px,#ffab00 77.5px,#ffbd00 78.5px,#ffb700 79.5px,#ff9500 80.5px,#ff1800 82.5px,#d70000 83.5px,#af0000 84.5px,#cf0000 85.5px,#fd1a00 86.5px,#ffc900 88.5px,#effd10 89.5px,#bdff42 90.5px,#8dff72 92.5px,#81ff7e 94.5px,#bf4 96.5px,#f3fb0c 97.5px,#ffbf00 98.5px,#f50c00 100.5px,#c50000 101.5px,#c50000 102.5px,#f30600 103.5px,#ff5400 104.5px,#ffb700 105.5px,#e5fd1a 106.5px,#50ffaf 108.5px,#1cffe3 109.5px,#00f1ff 110.5px,#00b5ff 112.5px,#0089ff 115.5px,#0080ff 119.5px,#00abff 123.5px,#00f7ff 126.5px,#4cffb3 128.5px,#f5f30a 131.5px,#ff4000 134.5px,#ff2000 135.5px,#ff2000 136.5px,#ff3e00 137.5px,#ffc100 139.5px,#ebfd14 140.5px,#20ffdf 143.5px,#00ebff 144.5px,#007cff 147.5px,#0020ff 152.5px,#00f 156.5px,#0000ef 160.5px,#0000cf 170.5px,#0000d1 179.5px,#0000f1 186.5px,#0006ff 188.5px,#0046ff 192.5px,#009fff 195.5px,#0cfbf3 197.5px,#bf4 200.5px,#df2 201.5px,#dfff20 202.5px,#bf4 203.5px,#34ffcb 205.5px,#02edfd 206.5px,#007aff 208.5px,#0012ff 211.5px,#0000eb 213.5px,#0000b3 219.5px,#00009f 227.5px,#009 231.5px,#00008f 241.5px,#00008f 374.5px,#00009f 376.5px,#0000a1 382.5px,#0000af 384.5px,#0000df 390.5px,#0002fd 392.5px,#003aff 395.5px,#0048ff 397.5px,#0000f7 402.5px,#0000c1 406.5px,#00009f 413.5px,#000095 418.5px,#00008f 518px)"></div><div style="top:161px;background:linear-gradient(90deg,#60ff9f 0px,#60ff9f 15.5px,#c3501c 16.5px,#b70000 17.5px,#a70000 19.5px,#bf0000 23.5px,#bf0000 28.5px,#b50000 30.5px,#9f0000 31.5px,#930000 33.5px,#9f0000 36.5px,#930000 37.5px,#9f0000 39.5px,#910000 40.5px,#9f0000 43.5px,#cb0000 45.5px,#bf0000 47.5px,#eb0800 48.5px,#ff4c00 49.5px,#ff2400 50.5px,#cb0000 51.5px,#cd0000 52.5px,#ff1e00 53.5px,#ff5200 54.5px,#f40 55.5px,#fb0c00 56.5px,#cb0000 57.5px,#cb0000 58.5px,#fb1400 59.5px,#ff5800 60.5px,#ff6c00 61.5px,#f30400 63.5px,#c30000 64.5px,#d50000 65.5px,#ff1e00 66.5px,#ff6400 67.5px,#ff8000 68.5px,#ff7000 69.5px,#ff3800 70.5px,#e70000 71.5px,#bf0000 72.5px,#cb0000 73.5px,#f70a00 74.5px,#ff8100 76.5px,#ffa700 77.5px,#ffb100 79.5px,#ff9300 80.5px,#ff1800 82.5px,#d70000 83.5px,#b30000 84.5px,#cb0000 85.5px,#fb1200 86.5px,#ffbd00 88.5px,#f5fb0a 89.5px,#a7ff58 91.5px,#8bff74 93.5px,#9f6 95.5px,#f3fb0c 97.5px,#ffbf00 98.5px,#fb1000 100.5px,#c90000 101.5px,#c30000 102.5px,#ed0400 103.5px,#f40 104.5px,#f1f50e 106.5px,#60ff9f 108.5px,#04f9fb 110.5px,#00abff 113.5px,#0087ff 117.5px,#0095ff 121.5px,#00c5ff 124.5px,#04fbfb 126.5px,#4effb1 128.5px,#f3f90c 131.5px,#ff4200 134.5px,#f20 135.5px,#ff1600 136.5px,#ff3200 137.5px,#ffab00 139.5px,#f7f108 140.5px,#70ff8f 142.5px,#32ffcd 143.5px,#06f7f9 144.5px,#0070ff 148.5px,#002aff 152.5px,#00f 157.5px,#0000ef 161.5px,#0000df 167.5px,#0000cf 173.5px,#0000e7 183.5px,#00f 187.5px,#0048ff 192.5px,#009fff 195.5px,#04f9fb 197.5px,#afff50 200.5px,#d9ff26 201.5px,#edff12 202.5px,#d7ff28 203.5px,#1efde1 206.5px,#00d9ff 207.5px,#0074ff 209.5px,#002cff 211.5px,#0002fb 213.5px,#0000c1 218.5px,#00009f 227.5px,#00009b 233.5px,#00008f 239.5px,#00008f 374.5px,#00009f 376.5px,#00009f 382.5px,#0000af 384.5px,#0000cf 389.5px,#000aff 393.5px,#0050ff 397.5px,#0032ff 400.5px,#0000f7 403.5px,#0000c3 407.5px,#00009f 414.5px,#00009b 419.5px,#00008f 425.5px,#00008f 518px)"></div><div style="top:163px;background:linear-gradient(90deg,#60ff9f 0px,#60ff9f 15.5px,#ab8b42 16.5px,#b70000 17.5px,#a70000 19.5px,#c30000 26.5px,#af0000 30.5px,#930000 33.5px,#9f0000 36.5px,#930000 37.5px,#9f0000 39.5px,#8f0000 40.5px,#9f0000 43.5px,#cb0000 45.5px,#bf0000 47.5px,#eb0600 48.5px,#ff4a00 49.5px,#ff2400 50.5px,#cb0000 51.5px,#cb0000 52.5px,#ff1a00 53.5px,#ff5000 54.5px,#f40 55.5px,#fb0c00 56.5px,#cb0000 57.5px,#cb0000 58.5px,#fb1400 59.5px,#ff5400 60.5px,#ff6a00 61.5px,#f30400 63.5px,#c30000 64.5px,#cb0000 65.5px,#ff1a00 66.5px,#ff6200 67.5px,#ff8000 68.5px,#ff7000 69.5px,#ff3800 70.5px,#e70000 71.5px,#bf0000 72.5px,#c70000 73.5px,#f30400 74.5px,#ff7a00 76.5px,#ff9d00 77.5px,#ffaf00 78.5px,#ffad00 79.5px,#ff9100 80.5px,#ff1800 82.5px,#d70000 83.5px,#b30000 84.5px,#c90000 85.5px,#fb0e00 86.5px,#ffb100 88.5px,#fbf304 89.5px,#b1ff4e 91.5px,#8fff70 93.5px,#8fff70 94.5px,#c1ff3e 96.5px,#f3fb0c 97.5px,#ffbf00 98.5px,#fb1200 100.5px,#cb0000 101.5px,#c10000 102.5px,#e70000 103.5px,#ff3800 104.5px,#f9ed06 106.5px,#b9ff46 107.5px,#70ff8f 108.5px,#0efff1 110.5px,#00cbff 112.5px,#009dff 115.5px,#008fff 118.5px,#009fff 121.5px,#00c9ff 124.5px,#04fbfb 126.5px,#50ffaf 128.5px,#f3fb0c 131.5px,#ff7a00 133.5px,#ff2000 135.5px,#ff1000 136.5px,#ff2800 137.5px,#ff5800 138.5px,#ffe100 140.5px,#cfff30 141.5px,#48ffb7 143.5px,#12ffed 144.5px,#00dfff 145.5px,#007cff 148.5px,#02f 153.5px,#00f 158.5px,#0000ef 162.5px,#0000df 168.5px,#0000df 181.5px,#0006ff 187.5px,#004cff 192.5px,#009fff 195.5px,#04f5fb 197.5px,#d5ff2a 201.5px,#efff10 202.5px,#e9ff16 203.5px,#c7ff38 204.5px,#0ef9f1 207.5px,#0095ff 209.5px,#002aff 212.5px,#0002fd 214.5px,#0000c3 219.5px,#00009f 229.5px,#000097 236.5px,#000091 374.5px,#00009f 376.5px,#00009f 382.5px,#0000af 386.5px,#0000ed 392.5px,#0014ff 394.5px,#004aff 397.5px,#0050ff 399.5px,#0000f7 404.5px,#0000b5 410.5px,#00009f 417.5px,#000095 421.5px,#00008f 518px)"></div><div style="top:165px;background:linear-gradient(90deg,#60ff9f 0px,#60ff9f 15.5px,#93c968 16.5px,#b70000 17.5px,#a30000 19.5px,#bf0000 24.5px,#bf0000 28.5px,#930000 33.5px,#9f0000 36.5px,#8f0000 37.5px,#9f0000 39.5px,#8f0000 40.5px,#af0000 44.5px,#cb0000 45.5px,#b00 47.5px,#eb0400 48.5px,#f40 49.5px,#ff2400 50.5px,#cb0000 51.5px,#cb0000 52.5px,#ff1800 53.5px,#ff4c00 54.5px,#f40 55.5px,#fb0c00 56.5px,#cb0000 57.5px,#c10000 58.5px,#fb1000 59.5px,#ff5400 60.5px,#ff6800 61.5px,#f30400 63.5px,#bf0000 64.5px,#cb0000 65.5px,#fd1800 66.5px,#ff5800 67.5px,#ff7c00 68.5px,#ff6c00 69.5px,#ff3800 70.5px,#e70000 71.5px,#b00 72.5px,#c50000 73.5px,#f30400 74.5px,#ff7400 76.5px,#f90 77.5px,#ffa900 79.5px,#ff8f00 80.5px,#ff1800 82.5px,#d70000 83.5px,#b30000 84.5px,#bf0000 85.5px,#f30a00 86.5px,#ffed00 89.5px,#df2 90.5px,#b7ff48 91.5px,#97ff68 93.5px,#95ff6a 94.5px,#c5ff3a 96.5px,#f3fb0c 97.5px,#ffc300 98.5px,#fb1600 100.5px,#cb0000 101.5px,#b90000 102.5px,#e10000 103.5px,#ff2800 104.5px,#ffe100 106.5px,#cbff34 107.5px,#81ff7e 108.5px,#1affe5 110.5px,#00f3ff 111.5px,#00b1ff 114.5px,#0097ff 118.5px,#00afff 122.5px,#08fff7 126.5px,#54ffab 128.5px,#f3fb0c 131.5px,#ff4800 134.5px,#ff2000 135.5px,#ff1000 136.5px,#ff1c00 137.5px,#ff4600 138.5px,#ffcd00 140.5px,#e3fd1c 141.5px,#24ffdb 144.5px,#02f1fd 145.5px,#0085ff 148.5px,#003aff 152.5px,#00f 158.5px,#0000df 168.5px,#0000e1 180.5px,#0002ff 186.5px,#003eff 191.5px,#0085ff 194.5px,#04f3fb 197.5px,#28ffd7 198.5px,#cdff32 201.5px,#f9ff06 203.5px,#e3ff1c 204.5px,#38ffc7 207.5px,#06f1f9 208.5px,#0068ff 211.5px,#0012ff 214.5px,#0000f1 216.5px,#0000bf 221.5px,#00009f 231.5px,#009 238.5px,#00008f 248.5px,#000093 374.5px,#00009f 377.5px,#0000a7 383.5px,#0000c5 389.5px,#000aff 394.5px,#0050ff 398.5px,#0054ff 400.5px,#0000f9 405.5px,#0000bf 410.5px,#00009f 418.5px,#000093 423.5px,#00008f 518px)"></div><div style="top:167px;background:linear-gradient(90deg,#60ff9f 0px,#60ff9f 15.5px,#72ff8d 16.5px,#c50a00 17.5px,#a30000 19.5px,#bf0000 24.5px,#bf0000 28.5px,#910000 33.5px,#9f0000 36.5px,#8f0000 37.5px,#9b0000 39.5px,#8f0000 41.5px,#af0000 44.5px,#cb0000 45.5px,#b70000 47.5px,#eb0400 48.5px,#f40 49.5px,#ff2400 50.5px,#cb0000 51.5px,#c90000 52.5px,#fb1800 53.5px,#ff4c00 54.5px,#f40 55.5px,#fb0c00 56.5px,#cb0000 57.5px,#bf0000 58.5px,#fb1000 59.5px,#ff5200 60.5px,#ff6200 61.5px,#f30400 63.5px,#bf0000 64.5px,#cb0000 65.5px,#fb1600 66.5px,#ff5800 67.5px,#ff7c00 68.5px,#ff6800 69.5px,#ff3800 70.5px,#e70000 71.5px,#b90000 72.5px,#c30000 73.5px,#f30400 74.5px,#ff6e00 76.5px,#ff9300 77.5px,#ffa100 79.5px,#ff8b00 80.5px,#ff1800 82.5px,#d90000 83.5px,#b30000 84.5px,#bf0000 85.5px,#f30400 86.5px,#ffe700 89.5px,#e5ff1a 90.5px,#adff52 92.5px,#9fff60 94.5px,#a9ff56 95.5px,#f3fb0c 97.5px,#ffc300 98.5px,#fd1800 100.5px,#cd0000 101.5px,#b00 102.5px,#d70000 103.5px,#ff1e00 104.5px,#ffcf00 106.5px,#dbff24 107.5px,#5affa5 109.5px,#06fdf9 111.5px,#0bf 114.5px,#009fff 118.5px,#00adff 121.5px,#00d7ff 124.5px,#0cfff3 126.5px,#87ff78 129.5px,#f3fb0c 131.5px,#ff4c00 134.5px,#ff2000 135.5px,#ff1000 136.5px,#ff1600 137.5px,#ff3a00 138.5px,#ff7000 139.5px,#f5f70a 141.5px,#36ffc9 144.5px,#08fbf7 145.5px,#007aff 149.5px,#0026ff 154.5px,#00f 160.5px,#0000df 170.5px,#0000e7 179.5px,#00f 185.5px,#04f 191.5px,#0087ff 194.5px,#00f3ff 197.5px,#58ffa7 199.5px,#c1ff3e 201.5px,#e9ff16 202.5px,#ff0 203.5px,#f7ff08 204.5px,#d5ff2a 205.5px,#24ffdb 208.5px,#02e7fd 209.5px,#0062ff 212.5px,#0014ff 215.5px,#0000f3 217.5px,#0000bf 223.5px,#00009f 233.5px,#000097 241.5px,#000095 374.5px,#00009f 379.5px,#0000a3 383.5px,#0000d1 391.5px,#0000fd 394.5px,#005aff 399.5px,#005aff 401.5px,#0000fb 406.5px,#0000bf 411.5px,#00009f 419.5px,#009 424.5px,#00008f 429.5px,#00008f 518px)"></div><div style="top:169px;background:linear-gradient(90deg,#60ff9f 0px,#60ff9f 16.5px,#bd4a18 17.5px,#ab0000 18.5px,#a30000 19.5px,#c10000 26.5px,#af0000 30.5px,#8f0000 33.5px,#9f0000 36.5px,#8f0000 37.5px,#9b0000 39.5px,#8f0000 42.5px,#cb0000 45.5px,#b30000 47.5px,#e70400 48.5px,#f40 49.5px,#ff2400 50.5px,#cb0000 51.5px,#c70000 52.5px,#fb1800 53.5px,#ff4c00 54.5px,#f40 55.5px,#fb0c00 56.5px,#c90000 57.5px,#bf0000 58.5px,#f70c00 59.5px,#ff5000 60.5px,#ff6000 61.5px,#f30400 63.5px,#b00 64.5px,#cb0000 65.5px,#fb1400 66.5px,#ff5600 67.5px,#ff7400 68.5px,#ff6800 69.5px,#ff3800 70.5px,#e70000 71.5px,#b70000 72.5px,#bf0000 73.5px,#eb0000 74.5px,#ff2800 75.5px,#f60 76.5px,#ff8b00 77.5px,#ff9f00 79.5px,#ff8700 80.5px,#ff1800 82.5px,#db0000 83.5px,#b30000 84.5px,#b00 85.5px,#eb0400 86.5px,#ff3e00 87.5px,#ffd700 89.5px,#edff12 90.5px,#c7ff38 91.5px,#9fff60 94.5px,#cdff32 96.5px,#f5fb0a 97.5px,#ffc300 98.5px,#ff1c00 100.5px,#d30000 101.5px,#b70000 102.5px,#d10000 103.5px,#fd1400 104.5px,#ffbf00 106.5px,#ebfd14 107.5px,#6aff95 109.5px,#10ffef 111.5px,#00d9ff 113.5px,#00afff 116.5px,#00afff 120.5px,#00cdff 123.5px,#00f5ff 125.5px,#10ffef 126.5px,#89ff76 129.5px,#f3fb0c 131.5px,#ff4e00 134.5px,#ff2000 135.5px,#ff0e00 136.5px,#ff1000 137.5px,#ff2e00 138.5px,#ffa100 140.5px,#fdeb02 141.5px,#cbff34 142.5px,#16ffe9 145.5px,#00e9ff 146.5px,#0085ff 149.5px,#003cff 153.5px,#0010ff 157.5px,#00f 162.5px,#0000ef 166.5px,#0000df 174.5px,#0000f3 182.5px,#0006ff 185.5px,#004aff 191.5px,#00a7ff 195.5px,#00f3ff 197.5px,#20ffdf 198.5px,#e3ff1c 202.5px,#fdff02 203.5px,#fffd00 204.5px,#efff10 205.5px,#8fff70 207.5px,#18fde7 209.5px,#0df 210.5px,#0060ff 213.5px,#0004ff 217.5px,#0000bf 224.5px,#00009f 236.5px,#000097 244.5px,#00008f 373.5px,#00009f 377.5px,#00009f 383.5px,#0000af 385.5px,#0000af 387.5px,#0006ff 395.5px,#0060ff 400.5px,#004eff 403.5px,#0002fb 407.5px,#0000bf 412.5px,#00009f 420.5px,#000095 426.5px,#00008f 518px)"></div><div style="top:171px;background:linear-gradient(90deg,#60ff9f 0px,#60ff9f 16.5px,#a58d42 17.5px,#ab0000 18.5px,#ab0000 20.5px,#bf0000 27.5px,#8f0000 33.5px,#8f0000 35.5px,#9f0000 36.5px,#8f0000 37.5px,#9b0000 39.5px,#8f0000 42.5px,#af0000 44.5px,#c70000 45.5px,#c70000 46.5px,#b30000 47.5px,#e70400 48.5px,#f40 49.5px,#ff2400 50.5px,#cb0000 51.5px,#c70000 52.5px,#fb1800 53.5px,#ff4c00 54.5px,#f40 55.5px,#fb0c00 56.5px,#c70000 57.5px,#bd0000 58.5px,#f70c00 59.5px,#ff4800 60.5px,#ff6000 61.5px,#f30400 63.5px,#b00 64.5px,#c70000 65.5px,#fb1000 66.5px,#ff5400 67.5px,#ff7000 68.5px,#f60 69.5px,#ff3800 70.5px,#e70000 71.5px,#b70000 72.5px,#bf0000 73.5px,#e70000 74.5px,#ff2800 75.5px,#ff6200 76.5px,#ff8700 77.5px,#f90 79.5px,#ff8500 80.5px,#ff5800 81.5px,#ff1800 82.5px,#df0000 83.5px,#b70000 84.5px,#b70000 85.5px,#e70000 86.5px,#ff3200 87.5px,#ffcd00 89.5px,#f5fb0a 90.5px,#bf4 92.5px,#abff54 94.5px,#cfff30 96.5px,#f9fb06 97.5px,#ffc300 98.5px,#ff1e00 100.5px,#d70000 101.5px,#b50000 102.5px,#cb0000 103.5px,#fb0c00 104.5px,#f5f50a 107.5px,#78ff87 109.5px,#1cffe3 111.5px,#02f9fd 112.5px,#00c1ff 115.5px,#00afff 119.5px,#00d1ff 123.5px,#00f9ff 125.5px,#60ff9f 128.5px,#f3fb0c 131.5px,#ff5200 134.5px,#ff0a00 136.5px,#ff0600 137.5px,#f20 138.5px,#ff8f00 140.5px,#ffd500 141.5px,#dfff20 142.5px,#28ffd7 145.5px,#02f7fd 146.5px,#0093ff 149.5px,#0042ff 153.5px,#0010ff 158.5px,#0000f9 164.5px,#0000ef 169.5px,#0000f7 181.5px,#0012ff 186.5px,#0062ff 192.5px,#00abff 195.5px,#00f3ff 197.5px,#1effe1 198.5px,#df2 202.5px,#fbff04 203.5px,#ffef00 204.5px,#fdfb02 205.5px,#e5ff1a 206.5px,#0efdf1 210.5px,#00a9ff 212.5px,#04f 215.5px,#0008ff 218.5px,#0000bf 226.5px,#00009f 238.5px,#000097 247.5px,#00008f 373.5px,#00009f 375.5px,#00009f 383.5px,#0000bf 390.5px,#0000fb 395.5px,#005aff 400.5px,#0068ff 402.5px,#0028ff 406.5px,#0002fd 408.5px,#0000c1 413.5px,#00009f 422.5px,#00009b 427.5px,#00008f 433.5px,#00008f 518px)"></div><div style="top:173px;background:linear-gradient(90deg,#60ff9f 0px,#60ff9f 16.5px,#8fd36c 17.5px,#ad0000 18.5px,#9f0000 19.5px,#b70000 23.5px,#b00 28.5px,#8f0000 34.5px,#9b0000 36.5px,#8f0000 37.5px,#900 39.5px,#8f0000 42.5px,#af0000 44.5px,#c70000 45.5px,#c70000 46.5px,#b30000 47.5px,#e30400 48.5px,#ff4200 49.5px,#ff2400 50.5px,#cb0000 51.5px,#c70000 52.5px,#fb1400 53.5px,#ff4c00 54.5px,#f40 55.5px,#fb0e00 56.5px,#c70000 57.5px,#b00 58.5px,#f30c00 59.5px,#ff4800 60.5px,#ff6000 61.5px,#f30400 63.5px,#b00 64.5px,#c70000 65.5px,#fb0c00 66.5px,#ff4e00 67.5px,#ff7000 68.5px,#ff6400 69.5px,#ff3800 70.5px,#e70000 71.5px,#b70000 72.5px,#bd0000 73.5px,#e70000 74.5px,#ff2800 75.5px,#ff8000 77.5px,#ff8f00 79.5px,#ff8000 80.5px,#ff5800 81.5px,#ff1c00 82.5px,#e70000 83.5px,#b70000 84.5px,#b50000 85.5px,#e50000 86.5px,#ff2a00 87.5px,#ffc500 89.5px,#fbf704 90.5px,#c1ff3e 92.5px,#afff50 94.5px,#b9ff46 95.5px,#fbf904 97.5px,#ffc300 98.5px,#ff2000 100.5px,#d70000 101.5px,#b30000 102.5px,#c90000 103.5px,#f30600 104.5px,#ff4800 105.5px,#fbeb04 107.5px,#c7ff38 108.5px,#54ffab 110.5px,#0cfff3 112.5px,#00cdff 115.5px,#00b9ff 119.5px,#00d9ff 123.5px,#04fdfb 125.5px,#62ff9d 128.5px,#f3fb0c 131.5px,#ff5800 134.5px,#ff0800 136.5px,#ff0200 137.5px,#ff1800 138.5px,#ff8000 140.5px,#f1fb0e 142.5px,#3cffc3 145.5px,#0efdf1 146.5px,#0bf 148.5px,#005cff 152.5px,#0018ff 158.5px,#00f 164.5px,#0000ef 169.5px,#0000f3 179.5px,#0004ff 183.5px,#0046ff 190.5px,#0095ff 194.5px,#00f3ff 197.5px,#1cffe3 198.5px,#d3ff2c 202.5px,#f7ff08 203.5px,#ffef00 205.5px,#f9fd06 206.5px,#d7ff28 207.5px,#08f9f7 211.5px,#0060ff 215.5px,#000cff 219.5px,#0000e5 222.5px,#0000af 231.5px,#0000a7 236.5px,#000097 251.5px,#000091 373.5px,#00009f 375.5px,#00009f 383.5px,#0000af 387.5px,#0000e5 394.5px,#0002ff 396.5px,#0070ff 402.5px,#0052ff 405.5px,#0004fd 409.5px,#0000bf 415.5px,#00009f 423.5px,#009 429.5px,#00008f 434.5px,#00008f 518px)"></div><div style="top:175px;background:linear-gradient(90deg,#60ff9f 0px,#6f9 17.5px,#c11c00 18.5px,#9f0000 19.5px,#b70000 23.5px,#b70000 28.5px,#8f0000 34.5px,#9b0000 36.5px,#930000 38.5px,#970000 43.5px,#c70000 45.5px,#c70000 46.5px,#b30000 47.5px,#e10400 48.5px,#ff4000 49.5px,#ff2400 50.5px,#cb0000 51.5px,#c30000 52.5px,#fb1400 53.5px,#ff4c00 54.5px,#ff4600 55.5px,#fb1000 56.5px,#c70000 57.5px,#b00 58.5px,#f30c00 59.5px,#ff4600 60.5px,#ff6000 61.5px,#f30400 63.5px,#b00 64.5px,#bf0000 65.5px,#f90c00 66.5px,#ff4800 67.5px,#ff6e00 68.5px,#ff6200 69.5px,#ff3400 70.5px,#e70000 71.5px,#b70000 72.5px,#b70000 73.5px,#e50000 74.5px,#ff1c00 75.5px,#ff5400 76.5px,#ff7a00 77.5px,#ff8d00 78.5px,#ff8f00 79.5px,#ff7e00 80.5px,#f20 82.5px,#e70000 83.5px,#b70000 84.5px,#b30000 85.5px,#d90000 86.5px,#f20 87.5px,#ffb700 89.5px,#fff100 90.5px,#c9ff36 92.5px,#b7ff48 94.5px,#d9ff26 96.5px,#fbf504 97.5px,#ffc300 98.5px,#ff2400 100.5px,#d90000 101.5px,#b30000 102.5px,#c10000 103.5px,#f30400 104.5px,#ff3c00 105.5px,#ffdf00 107.5px,#d7ff28 108.5px,#64ff9b 110.5px,#16ffe9 112.5px,#02f9fd 113.5px,#00c5ff 117.5px,#00c1ff 120.5px,#00e1ff 123.5px,#08fff7 125.5px,#6f9 128.5px,#f3fb0c 131.5px,#ff5800 134.5px,#ff0800 136.5px,#f00 137.5px,#ff0e00 138.5px,#ff3400 139.5px,#fbed04 142.5px,#c7ff38 143.5px,#1cffe3 146.5px,#00f1ff 147.5px,#008fff 150.5px,#003aff 155.5px,#0010ff 160.5px,#00f 166.5px,#0000ef 170.5px,#0000f3 177.5px,#0004ff 182.5px,#0040ff 189.5px,#0083ff 193.5px,#00f3ff 197.5px,#4fb 199.5px,#f3ff0c 203.5px,#ffe900 205.5px,#f3ff0c 207.5px,#97ff68 209.5px,#04f5fb 212.5px,#0062ff 216.5px,#0010ff 220.5px,#0000e1 224.5px,#0000bf 230.5px,#0000af 236.5px,#00009f 244.5px,#000097 255.5px,#000097 373.5px,#0000a5 384.5px,#0000af 388.5px,#0000df 394.5px,#000aff 397.5px,#006aff 402.5px,#0068ff 405.5px,#0004ff 410.5px,#0000bf 416.5px,#00009f 425.5px,#000095 431.5px,#00008f 518px)"></div><div style="top:177px;background:linear-gradient(90deg,#60ff9f 0px,#60ff9f 17.5px,#ad642a 18.5px,#9f0000 19.5px,#b70000 23.5px,#b70000 28.5px,#8f0000 34.5px,#950000 43.5px,#c70000 45.5px,#c70000 46.5px,#af0000 47.5px,#df0200 48.5px,#ff4000 49.5px,#ff2600 50.5px,#cb0000 51.5px,#bf0000 52.5px,#fb1200 53.5px,#ff4800 54.5px,#ff4800 55.5px,#fb1000 56.5px,#c70000 57.5px,#b00 58.5px,#f30800 59.5px,#f40 60.5px,#ff5c00 61.5px,#f30400 63.5px,#b00 64.5px,#bf0000 65.5px,#f50c00 66.5px,#ff4800 67.5px,#ff6c00 68.5px,#ff6000 69.5px,#ff3000 70.5px,#e70000 71.5px,#b70000 72.5px,#b70000 73.5px,#df0000 74.5px,#ff1800 75.5px,#ff5000 76.5px,#ff7400 77.5px,#ff8d00 79.5px,#ff7a00 80.5px,#ff2400 82.5px,#e70000 83.5px,#b70000 84.5px,#b30000 85.5px,#d70000 86.5px,#ff1800 87.5px,#ffad00 89.5px,#ffe900 90.5px,#ebff14 91.5px,#c1ff3e 93.5px,#c5ff3a 95.5px,#fbf304 97.5px,#ff7800 99.5px,#ff2800 100.5px,#df0000 101.5px,#b50000 102.5px,#bf0000 103.5px,#e70000 104.5px,#ff3000 105.5px,#ffcd00 107.5px,#e7ff18 108.5px,#74ff8b 110.5px,#24ffdb 112.5px,#00f3ff 114.5px,#00cfff 117.5px,#00d1ff 121.5px,#00f9ff 124.5px,#48ffb7 127.5px,#f3fb0c 131.5px,#ff5800 134.5px,#ff0800 136.5px,#ff0600 138.5px,#ff2800 139.5px,#ff9b00 141.5px,#ffdf00 142.5px,#dfff20 143.5px,#62ff9d 145.5px,#06fbf9 147.5px,#0085ff 151.5px,#0036ff 156.5px,#0010ff 161.5px,#00f 167.5px,#0000ef 172.5px,#00f 180.5px,#003aff 188.5px,#0087ff 193.5px,#00f7ff 197.5px,#4fb 199.5px,#efff10 203.5px,#ffdf00 205.5px,#fff300 207.5px,#e9ff16 208.5px,#24ffdb 212.5px,#02f3fd 213.5px,#0080ff 216.5px,#0014ff 221.5px,#0000ef 224.5px,#0000bf 232.5px,#0000af 238.5px,#00009f 246.5px,#000095 260.5px,#00008f 372.5px,#00009f 374.5px,#0000a3 384.5px,#0000af 387.5px,#0000d9 394.5px,#0002fd 397.5px,#0070ff 403.5px,#0076ff 405.5px,#001cff 410.5px,#0000f7 412.5px,#0000bf 417.5px,#00009f 426.5px,#00009b 432.5px,#00008f 438.5px,#00008f 518px)"></div><div style="top:179px;background:linear-gradient(90deg,#60ff9f 0px,#60ff9f 17.5px,#99ad5a 18.5px,#9f0000 19.5px,#b70000 23.5px,#b70000 28.5px,#8f0000 34.5px,#930000 43.5px,#c30000 45.5px,#c50000 46.5px,#af0000 47.5px,#df0000 48.5px,#ff4000 49.5px,#ff2a00 50.5px,#cb0000 51.5px,#b00 52.5px,#fb1000 53.5px,#ff4800 54.5px,#ff4800 55.5px,#fb1000 56.5px,#c70000 57.5px,#b00 58.5px,#f30600 59.5px,#f40 60.5px,#ff5c00 61.5px,#f30400 63.5px,#b00 64.5px,#bf0000 65.5px,#f30c00 66.5px,#ff4600 67.5px,#ff6a00 68.5px,#ff6000 69.5px,#ff2c00 70.5px,#e70000 71.5px,#b70000 72.5px,#b70000 73.5px,#db0000 74.5px,#ff1800 75.5px,#ff6e00 77.5px,#ff8000 78.5px,#ff7800 80.5px,#ff2400 82.5px,#e70000 83.5px,#b00 84.5px,#af0000 85.5px,#cf0000 86.5px,#fb1400 87.5px,#ffa500 89.5px,#ffdf00 90.5px,#f3ff0c 91.5px,#cbff34 93.5px,#bfff40 94.5px,#e1ff1e 96.5px,#fff300 97.5px,#ff7800 99.5px,#ff2a00 100.5px,#e70000 101.5px,#b70000 102.5px,#b70000 103.5px,#e30000 104.5px,#ff2400 105.5px,#ffbd00 107.5px,#f3fb0c 108.5px,#56ffa9 111.5px,#02fdfd 114.5px,#00d5ff 118.5px,#00d5ff 120.5px,#00f1ff 123.5px,#02fffd 124.5px,#4effb1 127.5px,#c7ff38 130.5px,#f7fb08 131.5px,#ff2c00 135.5px,#ff0800 136.5px,#ff0200 138.5px,#ff1e00 139.5px,#ff8700 141.5px,#ffcb00 142.5px,#edfd12 143.5px,#42ffbd 146.5px,#14ffeb 147.5px,#00ebff 148.5px,#007aff 152.5px,#0032ff 157.5px,#0010ff 162.5px,#00f 170.5px,#0002ff 179.5px,#0036ff 187.5px,#008bff 193.5px,#00f7ff 197.5px,#6cff93 200.5px,#e7ff18 203.5px,#fff700 204.5px,#ffdf00 206.5px,#ffe300 207.5px,#fdf902 208.5px,#b1ff4e 210.5px,#1effe1 213.5px,#02effd 214.5px,#006aff 218.5px,#000cff 223.5px,#0000d3 229.5px,#0000af 239.5px,#00009f 251.5px,#000097 265.5px,#000095 372.5px,#00009f 377.5px,#00009f 384.5px,#0000af 386.5px,#0000b1 389.5px,#0000bf 391.5px,#0000e9 396.5px,#0006ff 398.5px,#0076ff 404.5px,#007cff 406.5px,#0000f9 413.5px,#0000c3 418.5px,#0000af 423.5px,#00009f 429.5px,#009 434.5px,#00008f 444.5px,#00008f 518px)"></div><div style="top:181px;background:linear-gradient(90deg,#60ff9f 0px,#60ff9f 17.5px,#76fd89 18.5px,#ad0800 19.5px,#b70000 24.5px,#b70000 28.5px,#8f0000 34.5px,#930000 43.5px,#c30000 45.5px,#c30000 46.5px,#af0000 47.5px,#df0000 48.5px,#ff3c00 49.5px,#ff2e00 50.5px,#cb0000 51.5px,#b00 52.5px,#f90c00 53.5px,#ff4600 54.5px,#ff4800 55.5px,#fb1000 56.5px,#c70000 57.5px,#b70000 58.5px,#f10400 59.5px,#ff3e00 60.5px,#ff5800 61.5px,#ff3800 62.5px,#f30400 63.5px,#b00 64.5px,#b00 65.5px,#f30600 66.5px,#f40 67.5px,#ff6800 68.5px,#ff5e00 69.5px,#ff2800 70.5px,#e70000 71.5px,#b70000 72.5px,#b50000 73.5px,#ff0e00 75.5px,#f40 76.5px,#ff6800 77.5px,#ff8000 79.5px,#ff7400 80.5px,#ff2400 82.5px,#e70000 83.5px,#bd0000 84.5px,#af0000 85.5px,#cb0000 86.5px,#fb0c00 87.5px,#ffd500 90.5px,#f9fb06 91.5px,#d1ff2e 93.5px,#d1ff2e 95.5px,#fff300 97.5px,#ff7800 99.5px,#ff2c00 100.5px,#e70000 101.5px,#b70000 102.5px,#b70000 103.5px,#d90000 104.5px,#ff1800 105.5px,#fbf304 108.5px,#64ff9b 111.5px,#0afff5 114.5px,#00dfff 118.5px,#00e1ff 121.5px,#0afff5 124.5px,#54ffab 127.5px,#cbff34 130.5px,#f9fb06 131.5px,#ff2c00 135.5px,#ff0800 136.5px,#f30000 137.5px,#f90000 138.5px,#ff1400 139.5px,#ff7800 141.5px,#fbf304 143.5px,#54ffab 146.5px,#02f9fd 148.5px,#009bff 151.5px,#04f 156.5px,#0010ff 163.5px,#00f 171.5px,#000aff 178.5px,#02f 184.5px,#006eff 191.5px,#00c1ff 195.5px,#02f9fd 197.5px,#40ffbf 199.5px,#e1ff1e 203.5px,#fdf902 204.5px,#ffd300 206.5px,#ffd300 207.5px,#f9fd06 209.5px,#a9ff56 211.5px,#1affe5 214.5px,#02edfd 215.5px,#0070ff 219.5px,#0020ff 223.5px,#0000fb 226.5px,#0000bf 235.5px,#0000a5 247.5px,#000095 272.5px,#000091 371.5px,#00009f 373.5px,#00009f 384.5px,#0000af 386.5px,#0000af 389.5px,#0000ef 397.5px,#000cff 399.5px,#007eff 405.5px,#0080ff 407.5px,#0002fb 414.5px,#0000bf 420.5px,#00009f 429.5px,#009 436.5px,#00008f 441.5px,#00008f 518px)"></div><div style="top:183px;background:linear-gradient(90deg,#60ff9f 0px,#60ff9f 18.5px,#ad5a1e 19.5px,#a70000 20.5px,#b00 27.5px,#8f0000 34.5px,#930000 43.5px,#c30000 45.5px,#c30000 46.5px,#af0000 47.5px,#db0000 48.5px,#ff3c00 49.5px,#ff3000 50.5px,#cb0000 51.5px,#b00 52.5px,#f70c00 53.5px,#f40 54.5px,#ff4800 55.5px,#fb1000 56.5px,#c70000 57.5px,#b50000 58.5px,#ef0400 59.5px,#ff3800 60.5px,#ff5200 61.5px,#ff3800 62.5px,#f30400 63.5px,#b00 64.5px,#b00 65.5px,#f30400 66.5px,#ff3c00 67.5px,#ff6000 68.5px,#ff5c00 69.5px,#ff2800 70.5px,#e70000 71.5px,#b70000 72.5px,#b30000 73.5px,#fb0c00 75.5px,#ff6400 77.5px,#ff8000 79.5px,#ff5000 81.5px,#ff2000 82.5px,#e90000 83.5px,#bf0000 84.5px,#af0000 85.5px,#c70000 86.5px,#f70800 87.5px,#ffc900 90.5px,#fdf702 91.5px,#cfff30 94.5px,#ebff14 96.5px,#ffef00 97.5px,#ff3000 100.5px,#e70000 101.5px,#b70000 102.5px,#b30000 103.5px,#fb0e00 105.5px,#ffe700 108.5px,#d7ff28 109.5px,#72ff8d 111.5px,#16ffe9 114.5px,#00f7ff 116.5px,#00e7ff 120.5px,#02fffd 123.5px,#3affc5 126.5px,#a1ff5e 129.5px,#fbfb04 131.5px,#ff3000 135.5px,#ff0800 136.5px,#f10000 138.5px,#ff0a00 139.5px,#ff3000 140.5px,#ffa100 142.5px,#ffe700 143.5px,#d9ff26 144.5px,#36ffc9 147.5px,#0cfff3 148.5px,#00a9ff 151.5px,#005aff 155.5px,#0020ff 161.5px,#00f 171.5px,#0012ff 180.5px,#0042ff 187.5px,#09f 193.5px,#04fbfb 197.5px,#8fff70 201.5px,#fbfb04 204.5px,#ffd300 206.5px,#ffd500 208.5px,#f3fd0c 210.5px,#1affe5 215.5px,#02effd 216.5px,#0070ff 220.5px,#0016ff 225.5px,#0000f5 228.5px,#0000bf 237.5px,#0000af 247.5px,#00009f 257.5px,#000097 277.5px,#00008f 370.5px,#00009f 374.5px,#00009f 384.5px,#0000af 388.5px,#0000df 396.5px,#0002ff 399.5px,#0076ff 405.5px,#0087ff 407.5px,#0068ff 410.5px,#0004fd 415.5px,#0000bf 421.5px,#00009f 431.5px,#000097 438.5px,#00008f 518px)"></div><div style="top:185px;background:linear-gradient(90deg,#60ff9f 0px,#60ff9f 18.5px,#97a556 19.5px,#a30000 20.5px,#bf0000 26.5px,#9f0000 31.5px,#8f0000 35.5px,#930000 43.5px,#c10000 45.5px,#c30000 46.5px,#af0000 47.5px,#db0000 48.5px,#ff3a00 49.5px,#ff3000 50.5px,#cb0000 51.5px,#b00 52.5px,#f70c00 53.5px,#f40 54.5px,#ff4800 55.5px,#fb1000 56.5px,#c70000 57.5px,#b30000 58.5px,#eb0400 59.5px,#ff3800 60.5px,#ff5000 61.5px,#ff3800 62.5px,#f30400 63.5px,#b00 64.5px,#b00 65.5px,#f30400 66.5px,#ff6000 68.5px,#ff5a00 69.5px,#ff2800 70.5px,#e70000 71.5px,#b70000 72.5px,#b30000 73.5px,#fb0c00 75.5px,#ff5e00 77.5px,#ff7000 78.5px,#ff6c00 80.5px,#ff5000 81.5px,#ff2000 82.5px,#eb0000 83.5px,#bf0000 84.5px,#af0000 85.5px,#c10000 86.5px,#f30400 87.5px,#ff3c00 88.5px,#ffc300 90.5px,#ffef00 91.5px,#dfff20 93.5px,#df2 95.5px,#efff10 96.5px,#ffed00 97.5px,#ff7800 99.5px,#ff3200 100.5px,#e70000 101.5px,#b00 102.5px,#b10000 103.5px,#cd0000 104.5px,#fb0c00 105.5px,#ffd700 108.5px,#e7ff18 109.5px,#81ff7e 111.5px,#3cffc3 113.5px,#02fffd 116.5px,#00efff 120.5px,#0afff5 123.5px,#42ffbd 126.5px,#a5ff5a 129.5px,#fbf704 131.5px,#ff3000 135.5px,#ff0800 136.5px,#ef0000 138.5px,#fd0400 139.5px,#ff2400 140.5px,#ffcf00 143.5px,#edfd12 144.5px,#48ffb7 147.5px,#00f3ff 149.5px,#0085ff 153.5px,#0034ff 159.5px,#0010ff 166.5px,#0014ff 179.5px,#0054ff 188.5px,#00b5ff 194.5px,#06fdf9 197.5px,#68ff97 200.5px,#f9ff06 204.5px,#ffd300 206.5px,#ffc900 208.5px,#ffef00 210.5px,#ebff14 211.5px,#18ffe7 216.5px,#02effd 217.5px,#0078ff 221.5px,#001eff 226.5px,#0000fd 229.5px,#0000cf 236.5px,#0000af 248.5px,#0000a5 254.5px,#000097 281.5px,#000097 370.5px,#00009f 384.5px,#0000af 388.5px,#0000b1 390.5px,#0000bf 392.5px,#0000ed 398.5px,#0008ff 400.5px,#0089ff 407.5px,#0089ff 409.5px,#002cff 414.5px,#0006ff 416.5px,#0000bf 423.5px,#00009f 432.5px,#000095 440.5px,#00008f 518px)"></div><div style="top:187px;background:linear-gradient(90deg,#60ff9f 0px,#60ff9f 18.5px,#76fd89 19.5px,#b30c00 20.5px,#b10000 23.5px,#b00 27.5px,#8f0000 33.5px,#8f0000 43.5px,#bf0000 45.5px,#af0000 47.5px,#db0000 48.5px,#ff3600 49.5px,#ff2c00 50.5px,#cb0000 51.5px,#b00 52.5px,#f30c00 53.5px,#f40 54.5px,#ff4800 55.5px,#fb1000 56.5px,#c70000 57.5px,#b30000 58.5px,#eb0400 59.5px,#ff3800 60.5px,#ff5000 61.5px,#ff3800 62.5px,#f30400 63.5px,#b00 64.5px,#b90000 65.5px,#f10400 66.5px,#ff5c00 68.5px,#ff5800 69.5px,#ff2800 70.5px,#e70000 71.5px,#b70000 72.5px,#b30000 73.5px,#fb0600 75.5px,#ff5800 77.5px,#ff7000 79.5px,#ff6800 80.5px,#ff4e00 81.5px,#ff2000 82.5px,#eb0000 83.5px,#bf0000 84.5px,#af0000 85.5px,#bf0000 86.5px,#ef0200 87.5px,#ff7800 89.5px,#ffb700 90.5px,#ffe500 91.5px,#f7ff08 92.5px,#dfff20 94.5px,#e1ff1e 95.5px,#f5ff0a 96.5px,#ffe900 97.5px,#ff7800 99.5px,#ff3600 100.5px,#e90000 101.5px,#bd0000 102.5px,#af0000 103.5px,#f30400 105.5px,#ff3a00 106.5px,#ffc700 108.5px,#f3fb0c 109.5px,#6aff95 112.5px,#1cffe3 115.5px,#0ff 118.5px,#06fff9 122.5px,#4affb5 126.5px,#abff54 129.5px,#fbf504 131.5px,#ff0800 136.5px,#ef0000 138.5px,#f70000 139.5px,#ff1a00 140.5px,#ff8000 142.5px,#f7f708 144.5px,#2effd1 148.5px,#06fdf9 149.5px,#0093ff 153.5px,#0046ff 158.5px,#0020ff 163.5px,#0010ff 169.5px,#0014ff 177.5px,#0040ff 185.5px,#0085ff 191.5px,#00e9ff 196.5px,#08fff7 197.5px,#f7ff08 204.5px,#ffc300 207.5px,#ffc700 209.5px,#fdf502 211.5px,#e7ff18 212.5px,#18ffe7 217.5px,#02f1fd 218.5px,#0097ff 221.5px,#0034ff 226.5px,#0000fb 231.5px,#0000bf 242.5px,#0000af 254.5px,#00009f 264.5px,#000097 286.5px,#000097 369.5px,#00009f 384.5px,#0000af 388.5px,#0000c5 394.5px,#0000fd 400.5px,#008fff 408.5px,#0081ff 411.5px,#000aff 417.5px,#0000cf 422.5px,#0000af 428.5px,#00009f 436.5px,#000095 442.5px,#00008f 518px)"></div><div style="top:189px;background:linear-gradient(90deg,#60ff9f 0px,#60ff9f 19.5px,#ad6028 20.5px,#af0000 21.5px,#b00 27.5px,#930000 32.5px,#8f0000 34.5px,#8f0000 43.5px,#bf0000 45.5px,#af0000 47.5px,#db0000 48.5px,#ff3400 49.5px,#ff2c00 50.5px,#cf0000 51.5px,#b00 52.5px,#f30c00 53.5px,#f40 54.5px,#ff4800 55.5px,#fb1000 56.5px,#c70000 57.5px,#b30000 58.5px,#e70400 59.5px,#ff3400 60.5px,#ff5000 61.5px,#ff3400 62.5px,#f30400 63.5px,#b00 64.5px,#b70000 65.5px,#eb0400 66.5px,#ff3800 67.5px,#ff5c00 68.5px,#ff5800 69.5px,#ff2800 70.5px,#e70000 71.5px,#b70000 72.5px,#af0000 73.5px,#f90400 75.5px,#ff5200 77.5px,#ff7000 79.5px,#ff4800 81.5px,#ff2000 82.5px,#ed0000 83.5px,#bf0000 84.5px,#af0000 85.5px,#b00 86.5px,#e70000 87.5px,#ff2a00 88.5px,#ffad00 90.5px,#fd0 91.5px,#fdfb02 92.5px,#e1ff1e 94.5px,#f7ff08 96.5px,#ffb700 98.5px,#f30400 101.5px,#bf0000 102.5px,#af0000 103.5px,#c30000 104.5px,#ef0200 105.5px,#ff3000 106.5px,#fbf304 109.5px,#74ff8b 112.5px,#2affd5 115.5px,#06fff9 119.5px,#1affe5 123.5px,#52ffad 126.5px,#afff50 129.5px,#fbf304 131.5px,#ff0800 136.5px,#e30000 138.5px,#ff0e00 140.5px,#ff7000 142.5px,#ffe700 144.5px,#d9ff26 145.5px,#40ffbf 148.5px,#16ffe9 149.5px,#00f3ff 150.5px,#009fff 153.5px,#005aff 157.5px,#0030ff 161.5px,#0010ff 170.5px,#001cff 176.5px,#0038ff 183.5px,#007eff 190.5px,#00d9ff 195.5px,#0efff1 197.5px,#f3ff0c 204.5px,#ffc300 207.5px,#ffc700 210.5px,#fdf902 212.5px,#1affe5 218.5px,#02f5fd 219.5px,#0083ff 223.5px,#0020ff 229.5px,#0000f9 233.5px,#0000bf 244.5px,#0000b5 250.5px,#0000a3 263.5px,#000097 291.5px,#00008f 367.5px,#00009f 371.5px,#00009f 384.5px,#0000af 388.5px,#0000bf 394.5px,#0004ff 401.5px,#0089ff 408.5px,#0093ff 411.5px,#000eff 418.5px,#0000e3 421.5px,#0000af 429.5px,#00009f 439.5px,#000095 444.5px,#00008f 518px)"></div><div style="top:191px;background:linear-gradient(90deg,#60ff9f 0px,#60ff9f 19.5px,#93c562 20.5px,#ad0000 21.5px,#b00 27.5px,#ab0000 30.5px,#870000 33.5px,#8f0000 43.5px,#b00 45.5px,#bf0000 46.5px,#af0000 47.5px,#d50000 48.5px,#ff3400 49.5px,#ff2c00 50.5px,#cf0000 51.5px,#b00 52.5px,#f30c00 53.5px,#ff4000 54.5px,#ff4600 55.5px,#fb1000 56.5px,#c70000 57.5px,#b30000 58.5px,#e70200 59.5px,#ff3400 60.5px,#ff5000 61.5px,#ff3400 62.5px,#f30400 63.5px,#b00 64.5px,#b50000 65.5px,#e70200 66.5px,#ff3400 67.5px,#ff5a00 68.5px,#ff5800 69.5px,#ff2800 70.5px,#e70000 71.5px,#b70000 72.5px,#af0000 73.5px,#f50400 75.5px,#ff4e00 77.5px,#ff6200 79.5px,#ff6000 80.5px,#ff2000 82.5px,#ef0000 83.5px,#c10000 84.5px,#af0000 85.5px,#b70000 86.5px,#e70000 87.5px,#ff2800 88.5px,#ffa500 90.5px,#fff700 92.5px,#efff10 95.5px,#fbfd04 96.5px,#ffb500 98.5px,#f30400 101.5px,#bf0000 102.5px,#af0000 103.5px,#bf0000 104.5px,#e70000 105.5px,#ff2800 106.5px,#ffe700 109.5px,#dbff24 110.5px,#64ff9b 113.5px,#24ffdb 116.5px,#10ffef 120.5px,#2fd 123.5px,#72ff8d 127.5px,#df2 130.5px,#fff300 131.5px,#ff0800 136.5px,#df0000 138.5px,#fd0600 140.5px,#ff6200 142.5px,#ffd700 144.5px,#edfd12 145.5px,#50ffaf 148.5px,#06fbf9 150.5px,#0095ff 154.5px,#0056ff 158.5px,#0020ff 165.5px,#0020ff 178.5px,#0054ff 186.5px,#00b5ff 193.5px,#00f7ff 196.5px,#30ffcf 198.5px,#efff10 204.5px,#ffd700 206.5px,#ffaf00 209.5px,#ffe100 212.5px,#fbfb04 213.5px,#1cffe3 219.5px,#04f5fb 220.5px,#0076ff 225.5px,#0014ff 232.5px,#0000f1 236.5px,#0000bf 248.5px,#0000af 262.5px,#00009f 276.5px,#000097 297.5px,#000095 366.5px,#00009f 376.5px,#00009f 384.5px,#0000af 388.5px,#0000d1 397.5px,#000aff 402.5px,#009dff 410.5px,#008bff 413.5px,#0012ff 419.5px,#0000e7 422.5px,#0000af 430.5px,#0000a7 434.5px,#000095 446.5px,#00008f 518px)"></div><div style="top:193px;background:linear-gradient(90deg,#60ff9f 0px,#64ff9b 20.5px,#bf220a 21.5px,#af0000 22.5px,#b00 27.5px,#a90000 30.5px,#930000 31.5px,#870000 33.5px,#8f0000 43.5px,#b00 45.5px,#bf0000 46.5px,#af0000 47.5px,#cf0000 48.5px,#ff3400 49.5px,#ff2c00 50.5px,#cf0000 51.5px,#b30000 52.5px,#f30800 53.5px,#ff4000 54.5px,#f40 55.5px,#fb1400 56.5px,#c70000 57.5px,#b30000 58.5px,#e70000 59.5px,#ff3200 60.5px,#ff5000 61.5px,#ff3400 62.5px,#f30400 63.5px,#b00 64.5px,#b30000 65.5px,#e70000 66.5px,#ff2c00 67.5px,#ff5800 68.5px,#ff5200 69.5px,#ff2800 70.5px,#e70000 71.5px,#b70000 72.5px,#af0000 73.5px,#f30200 75.5px,#ff4800 77.5px,#ff6000 79.5px,#ff4800 81.5px,#ef0000 83.5px,#af0000 85.5px,#b50000 86.5px,#d00 87.5px,#ff1800 88.5px,#f90 90.5px,#ffcd00 91.5px,#fdff02 93.5px,#f1ff0e 95.5px,#fffb00 96.5px,#ffb300 98.5px,#f30400 101.5px,#bf0000 102.5px,#af0000 103.5px,#b70000 104.5px,#e10000 105.5px,#ff1800 106.5px,#ffdb00 109.5px,#ebff14 110.5px,#74ff8b 113.5px,#32ffcd 116.5px,#18ffe7 120.5px,#2cffd3 123.5px,#78ff87 127.5px,#e1ff1e 130.5px,#ffef00 131.5px,#ff3000 135.5px,#ff0c00 136.5px,#df0000 138.5px,#f90200 140.5px,#ff5200 142.5px,#f7f708 145.5px,#36ffc9 149.5px,#10ffef 150.5px,#00cfff 152.5px,#006cff 157.5px,#0030ff 163.5px,#0020ff 169.5px,#0026ff 177.5px,#0052ff 185.5px,#00a9ff 192.5px,#02fbfd 196.5px,#8fff70 201.5px,#efff10 204.5px,#ffd700 206.5px,#ffaf00 209.5px,#fb0 211.5px,#f7fd08 214.5px,#04fbfb 221.5px,#0080ff 226.5px,#0026ff 232.5px,#0000f9 237.5px,#0000cf 246.5px,#0000bf 254.5px,#0000af 262.5px,#0000a7 274.5px,#000097 303.5px,#000093 364.5px,#00009f 370.5px,#00009f 384.5px,#0000af 388.5px,#0000af 391.5px,#0000bf 393.5px,#0000c1 395.5px,#0002ff 402.5px,#005aff 407.5px,#0095ff 410.5px,#009dff 413.5px,#0052ff 417.5px,#0006ff 421.5px,#0000bf 429.5px,#00009f 439.5px,#000095 448.5px,#00008f 518px)"></div><div style="top:195px;background:linear-gradient(90deg,#60ff9f 0px,#64ff9b 20.5px,#bf220a 21.5px,#af0000 22.5px,#b00 27.5px,#a90000 30.5px,#930000 31.5px,#870000 33.5px,#8f0000 43.5px,#b00 45.5px,#bf0000 46.5px,#af0000 47.5px,#cf0000 48.5px,#ff3400 49.5px,#ff2c00 50.5px,#cf0000 51.5px,#b30000 52.5px,#f30800 53.5px,#ff4000 54.5px,#f40 55.5px,#fb1400 56.5px,#c70000 57.5px,#b30000 58.5px,#e70000 59.5px,#ff3200 60.5px,#ff5000 61.5px,#ff3400 62.5px,#f30400 63.5px,#b00 64.5px,#b30000 65.5px,#e70000 66.5px,#ff2c00 67.5px,#ff5800 68.5px,#ff5200 69.5px,#ff2800 70.5px,#e70000 71.5px,#b70000 72.5px,#af0000 73.5px,#f30200 75.5px,#ff4800 77.5px,#ff6000 79.5px,#ff4800 81.5px,#ef0000 83.5px,#af0000 85.5px,#b50000 86.5px,#d00 87.5px,#ff1800 88.5px,#f90 90.5px,#ffcd00 91.5px,#fdff02 93.5px,#f1ff0e 95.5px,#fffb00 96.5px,#ffb300 98.5px,#f30400 101.5px,#bf0000 102.5px,#af0000 103.5px,#b70000 104.5px,#e10000 105.5px,#ff1800 106.5px,#ffdb00 109.5px,#ebff14 110.5px,#74ff8b 113.5px,#32ffcd 116.5px,#18ffe7 120.5px,#2cffd3 123.5px,#78ff87 127.5px,#e1ff1e 130.5px,#ffef00 131.5px,#ff3000 135.5px,#ff0c00 136.5px,#df0000 138.5px,#f90200 140.5px,#ff5200 142.5px,#f7f708 145.5px,#36ffc9 149.5px,#10ffef 150.5px,#00cfff 152.5px,#006cff 157.5px,#0030ff 163.5px,#0020ff 169.5px,#0026ff 177.5px,#0052ff 185.5px,#00a9ff 192.5px,#02fbfd 196.5px,#8fff70 201.5px,#efff10 204.5px,#ffd700 206.5px,#ffaf00 209.5px,#fb0 211.5px,#f7fd08 214.5px,#04fbfb 221.5px,#0080ff 226.5px,#0026ff 232.5px,#0000f9 237.5px,#0000cf 246.5px,#0000bf 254.5px,#0000af 262.5px,#0000a7 274.5px,#000097 303.5px,#000093 364.5px,#00009f 370.5px,#00009f 384.5px,#0000af 388.5px,#0000af 391.5px,#0000bf 393.5px,#0000c1 395.5px,#0002ff 402.5px,#005aff 407.5px,#0095ff 410.5px,#009dff 413.5px,#0052ff 417.5px,#0006ff 421.5px,#0000bf 429.5px,#00009f 439.5px,#000095 448.5px,#00008f 518px)"></div></div><div class="hm" style="top:316px"><div style="top:-3px;background:linear-gradient(90deg,#0000df 0px,#0000eb 4.5px,#0000d7 8.5px,#0000ef 11.5px,#0000eb 15.5px,#0000d3 18.5px,#0000e7 21.5px,#0000ef 26.5px,#0000bf 32.5px,#0000cb 34.5px,#0000bf 35.5px,#0000cb 36.5px,#0000bf 38.5px,#0000cb 39.5px,#0000c3 41.5px,#0000e3 42.5px,#0000ef 43.5px,#0000e3 44.5px,#0010f7 45.5px,#0064ff 46.5px,#0064ff 47.5px,#0010f7 48.5px,#0010f3 49.5px,#0083ff 50.5px,#00d1ff 51.5px,#009bff 52.5px,#0024fb 53.5px,#0004f7 54.5px,#04effb 56.5px,#1cffe3 57.5px,#00dbff 58.5px,#0054ff 59.5px,#0000f3 60.5px,#0040ff 61.5px,#04d9fb 62.5px,#4fb 63.5px,#5effa1 64.5px,#40ffbf 65.5px,#00b5ff 66.5px,#0014f7 67.5px,#0042ff 68.5px,#3cf5c3 69.5px,#e5f71a 70.5px,#ffa900 71.5px,#ff8300 72.5px,#ff7e00 73.5px,#ff9d00 74.5px,#ebef14 75.5px,#3cefc3 76.5px,#0026fb 77.5px,#06f 78.5px,#7eff81 79.5px,#ffc100 80.5px,#ff6000 81.5px,#ff3000 82.5px,#ff1400 83.5px,#f00 86.5px,#ff2400 88.5px,#ff4c00 89.5px,#ffa300 90.5px,#affd50 91.5px,#0085ff 92.5px,#0018f3 93.5px,#28ddd7 94.5px,#e3ed1c 95.5px,#ff8100 96.5px,#ff3a00 97.5px,#ff1200 98.5px,#f90000 99.5px,#df0000 101.5px,#cf0000 107.5px,#cf0000 115.5px,#fd0400 118.5px,#ff3400 119.5px,#ff8f00 120.5px,#abfb54 121.5px,#0efdf1 122.5px,#a5fd5a 123.5px,#ff8b00 124.5px,#ff2800 125.5px,#f30000 126.5px,#cb0000 128.5px,#af0000 132.5px,#ad0000 138.5px,#9f0000 141.5px,#9d0000 157.5px,#8f0000 159.5px,#930000 170.5px,#9f0000 173.5px,#b70000 177.5px,#f30400 179.5px,#ff6400 180.5px,#d3f52c 181.5px,#cbf534 182.5px,#ff6e00 183.5px,#ff0e00 184.5px,#d30000 186.5px,#bf0000 189.5px,#bd0000 198.5px,#af0000 201.5px,#ab0000 208.5px,#9f0000 211.5px,#9f0000 219.5px,#8f0000 223.5px,#970000 353.5px,#b00 358.5px,#e70000 360.5px,#ff0800 361.5px,#ff1200 362.5px,#f50000 363.5px,#bd0000 365.5px,#9f0000 369.5px,#9b0000 373.5px,#8f0000 376.5px,#8f0000 518px)"></div><div style="top:-1px;background:linear-gradient(90deg,#0000df 0px,#0000eb 4.5px,#0000d7 8.5px,#0000ef 11.5px,#0000eb 15.5px,#0000d3 18.5px,#0000e7 21.5px,#0000ef 26.5px,#0000bf 32.5px,#0000cb 34.5px,#0000bf 35.5px,#0000cb 36.5px,#0000bf 38.5px,#0000cb 39.5px,#0000c3 41.5px,#0000e3 42.5px,#0000ef 43.5px,#0000e3 44.5px,#0010f7 45.5px,#0064ff 46.5px,#0064ff 47.5px,#0010f7 48.5px,#0010f3 49.5px,#0083ff 50.5px,#00d1ff 51.5px,#009bff 52.5px,#0024fb 53.5px,#0004f7 54.5px,#04effb 56.5px,#1cffe3 57.5px,#00dbff 58.5px,#0054ff 59.5px,#0000f3 60.5px,#0040ff 61.5px,#04d9fb 62.5px,#4fb 63.5px,#5effa1 64.5px,#40ffbf 65.5px,#00b5ff 66.5px,#0014f7 67.5px,#0042ff 68.5px,#3cf5c3 69.5px,#e5f71a 70.5px,#ffa900 71.5px,#ff8300 72.5px,#ff7e00 73.5px,#ff9d00 74.5px,#ebef14 75.5px,#3cefc3 76.5px,#0026fb 77.5px,#06f 78.5px,#7eff81 79.5px,#ffc100 80.5px,#ff6000 81.5px,#ff3000 82.5px,#ff1400 83.5px,#f00 86.5px,#ff2400 88.5px,#ff4c00 89.5px,#ffa300 90.5px,#affd50 91.5px,#0085ff 92.5px,#0018f3 93.5px,#28ddd7 94.5px,#e3ed1c 95.5px,#ff8100 96.5px,#ff3a00 97.5px,#ff1200 98.5px,#f90000 99.5px,#df0000 101.5px,#cf0000 107.5px,#cf0000 115.5px,#fd0400 118.5px,#ff3400 119.5px,#ff8f00 120.5px,#abfb54 121.5px,#0efdf1 122.5px,#a5fd5a 123.5px,#ff8b00 124.5px,#ff2800 125.5px,#f30000 126.5px,#cb0000 128.5px,#af0000 132.5px,#ad0000 138.5px,#9f0000 141.5px,#9d0000 157.5px,#8f0000 159.5px,#930000 170.5px,#9f0000 173.5px,#b70000 177.5px,#f30400 179.5px,#ff6400 180.5px,#d3f52c 181.5px,#cbf534 182.5px,#ff6e00 183.5px,#ff0e00 184.5px,#d30000 186.5px,#bf0000 189.5px,#bd0000 198.5px,#af0000 201.5px,#ab0000 208.5px,#9f0000 211.5px,#9f0000 219.5px,#8f0000 223.5px,#970000 353.5px,#b00 358.5px,#e70000 360.5px,#ff0800 361.5px,#ff1200 362.5px,#f50000 363.5px,#bd0000 365.5px,#9f0000 369.5px,#9b0000 373.5px,#8f0000 376.5px,#8f0000 518px)"></div><div style="top:1px;background:linear-gradient(90deg,#0000df 0px,#0000eb 4.5px,#0000d7 8.5px,#0000ef 11.5px,#0000eb 15.5px,#0000d3 18.5px,#0000e7 21.5px,#0000ef 26.5px,#0000bf 32.5px,#0000cb 34.5px,#0000bf 35.5px,#0000cb 36.5px,#0000bf 38.5px,#0000cb 39.5px,#0000c3 41.5px,#0000e3 42.5px,#0000ef 43.5px,#0000e3 44.5px,#000cf3 45.5px,#0064ff 46.5px,#06f 47.5px,#0010f7 48.5px,#0010f3 49.5px,#0080ff 50.5px,#00cbff 51.5px,#00a3ff 52.5px,#0024fd 53.5px,#0004f5 54.5px,#0070ff 55.5px,#04edfb 56.5px,#1cffe3 57.5px,#00dbff 58.5px,#0058ff 59.5px,#0000f3 60.5px,#0038ff 61.5px,#04d5fb 62.5px,#3affc5 63.5px,#5cffa3 64.5px,#42ffbd 65.5px,#0bf 66.5px,#0016f9 67.5px,#003afd 68.5px,#30f1cf 69.5px,#dbf924 70.5px,#ffb700 71.5px,#ff8700 72.5px,#ff8000 73.5px,#ffa500 74.5px,#ebef14 75.5px,#3cefc3 76.5px,#0028fb 77.5px,#005aff 78.5px,#74ff8b 79.5px,#ffc700 80.5px,#ff6800 81.5px,#ff3000 82.5px,#ff1000 84.5px,#ff0400 86.5px,#ff2800 88.5px,#ff4c00 89.5px,#ffa300 90.5px,#b7fb48 91.5px,#048bfb 92.5px,#0012f5 93.5px,#1ed5e1 94.5px,#ddf522 95.5px,#ff8b00 96.5px,#f40 97.5px,#ff1800 98.5px,#fb0000 99.5px,#df0000 102.5px,#cf0000 110.5px,#d10000 115.5px,#ff0800 118.5px,#ff3800 119.5px,#ff8f00 120.5px,#abfb54 121.5px,#0af7f5 122.5px,#97ff68 123.5px,#ff9b00 124.5px,#ff2e00 125.5px,#f70200 126.5px,#cf0000 128.5px,#af0000 132.5px,#ab0000 139.5px,#9f0000 142.5px,#9f0000 157.5px,#8f0000 161.5px,#8f0000 169.5px,#9f0000 173.5px,#b70000 177.5px,#f30400 179.5px,#ff5e00 180.5px,#d9f126 181.5px,#bffd40 182.5px,#ff8000 183.5px,#ff1800 184.5px,#eb0000 185.5px,#c30000 188.5px,#bd0000 199.5px,#af0000 202.5px,#af0000 208.5px,#9f0000 212.5px,#9f0000 220.5px,#8f0000 222.5px,#970000 353.5px,#c70000 359.5px,#ff0800 361.5px,#ff1c00 362.5px,#fb0600 363.5px,#b10000 366.5px,#9f0000 370.5px,#9b0000 374.5px,#8f0000 377.5px,#8f0000 518px)"></div><div style="top:3px;background:linear-gradient(90deg,#0000df 0px,#0000eb 4.5px,#0000d7 8.5px,#0000ef 11.5px,#0000eb 15.5px,#0000d3 18.5px,#0000e7 21.5px,#0000ef 26.5px,#0000bf 32.5px,#0000cb 34.5px,#0000bf 35.5px,#0000c9 36.5px,#0000bf 38.5px,#0000cb 39.5px,#0000c3 41.5px,#0000e3 42.5px,#0000ef 43.5px,#0000e3 44.5px,#000cf3 45.5px,#0064ff 46.5px,#0068ff 47.5px,#0010fb 48.5px,#000cf3 49.5px,#0080ff 50.5px,#00cbff 51.5px,#00a7ff 52.5px,#0028ff 53.5px,#0004f3 54.5px,#0068ff 55.5px,#04e7fb 56.5px,#1affe5 57.5px,#0df 58.5px,#005eff 59.5px,#0004f3 60.5px,#0034ff 61.5px,#00cdff 62.5px,#38ffc7 63.5px,#5cffa3 64.5px,#4fb 65.5px,#00c3ff 66.5px,#001cfb 67.5px,#0032fb 68.5px,#26ebd9 69.5px,#d5fb2a 70.5px,#fb0 71.5px,#ff9100 72.5px,#ff8300 73.5px,#ffa700 74.5px,#ebef14 75.5px,#40f1bf 76.5px,#002cfb 77.5px,#0056ff 78.5px,#6aff95 79.5px,#fdcf02 80.5px,#ff6a00 81.5px,#ff3600 82.5px,#ff1a00 83.5px,#ff1200 87.5px,#ff2800 88.5px,#ff5000 89.5px,#ffa300 90.5px,#b7fb48 91.5px,#0493fb 92.5px,#000cf3 93.5px,#16cde9 94.5px,#d3f72c 95.5px,#ff9500 96.5px,#ff4800 97.5px,#ff1c00 98.5px,#ff0400 99.5px,#df0000 102.5px,#df0000 105.5px,#cf0000 107.5px,#d50000 115.5px,#ff0800 118.5px,#ff3800 119.5px,#ff8f00 120.5px,#abfb54 121.5px,#08f1f7 122.5px,#81ff7e 123.5px,#ffa700 124.5px,#ff3a00 125.5px,#fb0400 126.5px,#c30000 129.5px,#af0000 134.5px,#a90000 140.5px,#9f0000 145.5px,#9d0000 158.5px,#8f0000 161.5px,#8f0000 169.5px,#9f0000 171.5px,#a50000 175.5px,#cf0000 178.5px,#f30400 179.5px,#ff5200 180.5px,#e1e91e 181.5px,#b3ff4c 182.5px,#ff9300 183.5px,#f20 184.5px,#ef0000 185.5px,#cf0000 187.5px,#bf0000 191.5px,#bd0000 200.5px,#af0000 204.5px,#ad0000 209.5px,#9f0000 212.5px,#9d0000 221.5px,#8f0000 224.5px,#970000 353.5px,#c70000 359.5px,#fb0800 361.5px,#ff2000 362.5px,#ff0c00 363.5px,#b90000 366.5px,#9f0000 370.5px,#9b0000 375.5px,#8f0000 378.5px,#8f0000 518px)"></div><div style="top:5px;background:linear-gradient(90deg,#0000df 0px,#0000eb 4.5px,#0000d3 7.5px,#0000ef 11.5px,#0000eb 15.5px,#0000d3 18.5px,#0000e7 21.5px,#0000ef 26.5px,#0000bf 32.5px,#0000cb 34.5px,#0000bf 35.5px,#0000bf 38.5px,#0000cb 39.5px,#0000c3 41.5px,#0000ef 43.5px,#0000e3 44.5px,#0008f3 45.5px,#0064ff 46.5px,#0068ff 47.5px,#0010fb 48.5px,#0008f3 49.5px,#007eff 50.5px,#00cbff 51.5px,#00a9ff 52.5px,#0030ff 53.5px,#0002f3 54.5px,#0062ff 55.5px,#04e5fb 56.5px,#18ffe7 57.5px,#00e3ff 58.5px,#0064ff 59.5px,#0004f5 60.5px,#002eff 61.5px,#00c9ff 62.5px,#38ffc7 63.5px,#5cffa3 64.5px,#4fb 65.5px,#00c3ff 66.5px,#001efb 67.5px,#0028fb 68.5px,#1ee3e1 69.5px,#c9ff36 70.5px,#ffc700 71.5px,#ff9500 72.5px,#ff8f00 73.5px,#ffa700 74.5px,#ebef14 75.5px,#44f3bb 76.5px,#0030fb 77.5px,#004cff 78.5px,#5efda1 79.5px,#fbd304 80.5px,#ff6e00 81.5px,#ff3a00 82.5px,#ff1000 84.5px,#ff1400 87.5px,#ff2800 88.5px,#ff5400 89.5px,#ffa300 90.5px,#bbfb44 91.5px,#089bf7 92.5px,#0008ef 93.5px,#10c1ef 94.5px,#c7fb38 95.5px,#ff9f00 96.5px,#ff4a00 97.5px,#ff0600 99.5px,#df0000 103.5px,#cf0000 111.5px,#d90000 115.5px,#ff0a00 118.5px,#ff3800 119.5px,#ff9500 120.5px,#b3fb4c 121.5px,#08edf7 122.5px,#6aff95 123.5px,#ffbd00 124.5px,#ff4200 125.5px,#fd0a00 126.5px,#c50000 129.5px,#af0000 133.5px,#a70000 141.5px,#900 159.5px,#8f0000 164.5px,#910000 169.5px,#9f0000 171.5px,#a70000 175.5px,#cf0000 178.5px,#f30400 179.5px,#ff4c00 180.5px,#e7e118 181.5px,#a7ff58 182.5px,#ffa700 183.5px,#ff2a00 184.5px,#f50000 185.5px,#cf0000 187.5px,#bf0000 191.5px,#bf0000 201.5px,#af0000 205.5px,#a90000 210.5px,#9f0000 215.5px,#9d0000 222.5px,#8f0000 225.5px,#970000 353.5px,#c70000 359.5px,#fb0400 361.5px,#ff1e00 362.5px,#ff1400 363.5px,#ed0000 364.5px,#af0000 367.5px,#9f0000 371.5px,#9b0000 376.5px,#8f0000 379.5px,#8f0000 518px)"></div><div style="top:7px;background:linear-gradient(90deg,#0000df 0px,#0000eb 4.5px,#0000d3 7.5px,#0000ef 11.5px,#0000eb 15.5px,#0000d3 18.5px,#0000e7 21.5px,#0000ef 26.5px,#0000bf 32.5px,#0000cb 34.5px,#0000bf 35.5px,#0000bf 38.5px,#0000cb 39.5px,#0000c3 41.5px,#0000ef 43.5px,#0000e3 44.5px,#0008f3 45.5px,#0060ff 46.5px,#0068ff 47.5px,#0010fb 48.5px,#0008f3 49.5px,#0076ff 50.5px,#00cbff 51.5px,#00abff 52.5px,#0030ff 53.5px,#0000f3 54.5px,#005cff 55.5px,#00e3ff 56.5px,#18ffe7 57.5px,#00e3ff 58.5px,#0068ff 59.5px,#0004f7 60.5px,#0028fd 61.5px,#00c1ff 62.5px,#34ffcb 63.5px,#58ffa7 64.5px,#4fb 65.5px,#02cbfd 66.5px,#0026fb 67.5px,#0020fb 68.5px,#16dbe9 69.5px,#bf4 70.5px,#ffcd00 71.5px,#ff9d00 72.5px,#ff8f00 73.5px,#ffab00 74.5px,#ebef14 75.5px,#44f3bb 76.5px,#0034fb 77.5px,#0046fd 78.5px,#54f9ab 79.5px,#f7db08 80.5px,#ff7800 81.5px,#ff3e00 82.5px,#ff1000 84.5px,#ff1400 87.5px,#ff2800 88.5px,#ff5800 89.5px,#ffa300 90.5px,#bffb40 91.5px,#0aa1f5 92.5px,#0006f1 93.5px,#0ab1f5 94.5px,#b9ff46 95.5px,#ffab00 96.5px,#ff5800 97.5px,#ff2600 98.5px,#ff0800 99.5px,#df0000 103.5px,#d00 106.5px,#cf0000 108.5px,#cf0000 114.5px,#f30000 117.5px,#ff1000 118.5px,#ff3800 119.5px,#ff9700 120.5px,#b3fb4c 121.5px,#08e5f7 122.5px,#54fdab 123.5px,#f9c906 124.5px,#ff4e00 125.5px,#ff0e00 126.5px,#d50000 128.5px,#af0000 133.5px,#a70000 142.5px,#9f0000 159.5px,#8f0000 161.5px,#970000 169.5px,#a70000 175.5px,#cb0000 178.5px,#ef0000 179.5px,#ff4200 180.5px,#efdb10 181.5px,#9f6 182.5px,#fdbd02 183.5px,#ff3600 184.5px,#f70400 185.5px,#cf0000 187.5px,#bf0000 193.5px,#bd0000 202.5px,#af0000 204.5px,#af0000 210.5px,#9f0000 214.5px,#9d0000 223.5px,#8f0000 226.5px,#970000 353.5px,#c30000 359.5px,#f90400 361.5px,#ff1c00 362.5px,#ff1c00 363.5px,#f70200 364.5px,#c10000 366.5px,#9f0000 371.5px,#9d0000 377.5px,#8f0000 380.5px,#8f0000 518px)"></div><div style="top:9px;background:linear-gradient(90deg,#0000df 0px,#0000eb 4.5px,#0000d3 7.5px,#0000ef 11.5px,#0000e7 15.5px,#0000d3 18.5px,#0000e7 21.5px,#0000ef 26.5px,#0000bf 32.5px,#0000cb 34.5px,#0000bf 35.5px,#0000bf 38.5px,#0000cb 39.5px,#0000c3 41.5px,#0000ef 43.5px,#0000e3 44.5px,#0008f3 45.5px,#0060ff 46.5px,#006aff 47.5px,#0012fb 48.5px,#0008f3 49.5px,#00cbff 51.5px,#00adff 52.5px,#0032ff 53.5px,#0000f3 54.5px,#0056ff 55.5px,#00dbff 56.5px,#16ffe9 57.5px,#04e5fb 58.5px,#0006f7 60.5px,#0024fb 61.5px,#00b9ff 62.5px,#2effd1 63.5px,#58ffa7 64.5px,#4fb 65.5px,#04cffb 66.5px,#0028fb 67.5px,#001cfb 68.5px,#0ed3f1 69.5px,#afff50 70.5px,#ffd900 71.5px,#ffa500 72.5px,#ff9100 73.5px,#ffad00 74.5px,#ebf314 75.5px,#48f7b7 76.5px,#003afb 77.5px,#003efb 78.5px,#4cf7b3 79.5px,#f5e30a 80.5px,#ff7c00 81.5px,#ff4000 82.5px,#ff1400 84.5px,#ff1800 87.5px,#ff2a00 88.5px,#ff5800 89.5px,#ffa300 90.5px,#bffb40 91.5px,#0cabf3 92.5px,#0004f1 93.5px,#06a5f9 94.5px,#a9ff56 95.5px,#ffb300 96.5px,#ff5a00 97.5px,#ff0c00 99.5px,#e30000 102.5px,#df0000 106.5px,#cf0000 110.5px,#d30000 114.5px,#f50000 117.5px,#ff1000 118.5px,#ff3a00 119.5px,#ff9700 120.5px,#b7fb48 121.5px,#08e3f7 122.5px,#42f9bd 123.5px,#f5d70a 124.5px,#ff5a00 125.5px,#ff1400 126.5px,#ef0000 127.5px,#bf0000 130.5px,#af0000 136.5px,#ab0000 143.5px,#9f0000 149.5px,#9d0000 160.5px,#8f0000 162.5px,#8f0000 168.5px,#9f0000 170.5px,#a90000 175.5px,#cb0000 178.5px,#ef0000 179.5px,#ff3a00 180.5px,#f5d10a 181.5px,#97ff68 182.5px,#f5cd0a 183.5px,#f40 184.5px,#fb0600 185.5px,#d30000 187.5px,#bf0000 192.5px,#bf0000 202.5px,#af0000 206.5px,#ad0000 211.5px,#9f0000 214.5px,#9d0000 224.5px,#8f0000 227.5px,#970000 353.5px,#c30000 359.5px,#f70200 361.5px,#ff2600 363.5px,#fd0600 364.5px,#c70000 366.5px,#9f0000 371.5px,#9d0000 378.5px,#8f0000 382.5px,#8f0000 518px)"></div><div style="top:11px;background:linear-gradient(90deg,#0000df 0px,#0000eb 4.5px,#0000d3 8.5px,#0000ef 10.5px,#0000e7 15.5px,#0000d3 18.5px,#0000e7 21.5px,#0000ef 26.5px,#0000bf 32.5px,#0000cb 34.5px,#0000bf 35.5px,#0000bf 38.5px,#0000cb 39.5px,#0000c3 41.5px,#0000ef 43.5px,#0000e3 44.5px,#0008f3 45.5px,#005eff 46.5px,#0070ff 47.5px,#0014fb 48.5px,#0008f3 49.5px,#00c9ff 51.5px,#00b1ff 52.5px,#003aff 53.5px,#0000f3 54.5px,#0050ff 55.5px,#00dbff 56.5px,#14ffeb 57.5px,#04e9fb 58.5px,#0008f7 60.5px,#0020fb 61.5px,#00b3ff 62.5px,#28ffd7 63.5px,#58ffa7 64.5px,#4fb 65.5px,#04d5fb 66.5px,#0030fd 67.5px,#0014f7 68.5px,#0cc7f3 69.5px,#a1ff5e 70.5px,#ffe300 71.5px,#ffab00 72.5px,#ff9f00 73.5px,#ffb300 74.5px,#edf312 75.5px,#4af7b5 76.5px,#003efb 77.5px,#0036fb 78.5px,#42f3bd 79.5px,#f1e70e 80.5px,#ff8100 81.5px,#ff4800 82.5px,#ff2800 83.5px,#ff1000 86.5px,#ff3000 88.5px,#ff5800 89.5px,#ffa300 90.5px,#c9fb36 91.5px,#0eb5f1 92.5px,#0002ef 93.5px,#0097ff 94.5px,#9f6 95.5px,#ffc100 96.5px,#ff6800 97.5px,#ff3000 98.5px,#fd0000 100.5px,#df0000 104.5px,#cf0000 112.5px,#f70000 117.5px,#ff1000 118.5px,#ff4200 119.5px,#ff9700 120.5px,#b7fb48 121.5px,#0adff5 122.5px,#2cf5d3 123.5px,#e9e516 124.5px,#f60 125.5px,#ff1c00 126.5px,#f50000 127.5px,#cf0000 129.5px,#af0000 134.5px,#af0000 144.5px,#9f0000 148.5px,#970000 161.5px,#930000 168.5px,#9f0000 171.5px,#9f0000 174.5px,#cb0000 178.5px,#eb0000 179.5px,#ff3200 180.5px,#f9c306 181.5px,#95ff6a 182.5px,#ebdf14 183.5px,#ff5400 184.5px,#fd0c00 185.5px,#cf0000 188.5px,#bf0000 194.5px,#bd0000 203.5px,#af0000 205.5px,#a90000 212.5px,#9f0000 217.5px,#9d0000 225.5px,#8f0000 228.5px,#8f0000 352.5px,#c30000 359.5px,#f10000 361.5px,#ff2e00 363.5px,#ff1200 364.5px,#eb0000 365.5px,#bf0000 367.5px,#9f0000 372.5px,#9f0000 379.5px,#8f0000 383.5px,#8f0000 518px)"></div><div style="top:13px;background:linear-gradient(90deg,#0000df 0px,#0000eb 4.5px,#0000d3 8.5px,#0000ef 10.5px,#0000e7 15.5px,#0000d3 18.5px,#0000e7 21.5px,#0000ef 26.5px,#0000bf 32.5px,#0000cb 34.5px,#0000bf 35.5px,#0000c9 39.5px,#0000c3 41.5px,#0000ef 43.5px,#0000e3 44.5px,#0008f3 45.5px,#005cff 46.5px,#0070ff 47.5px,#0018fb 48.5px,#0004f3 49.5px,#006eff 50.5px,#00c3ff 51.5px,#00b3ff 52.5px,#0040ff 53.5px,#0000f3 54.5px,#0048ff 55.5px,#00d3ff 56.5px,#12ffed 57.5px,#04ebfb 58.5px,#0008f7 60.5px,#001afb 61.5px,#00abff 62.5px,#24ffdb 63.5px,#54ffab 64.5px,#4fb 65.5px,#04d7fb 66.5px,#0034ff 67.5px,#0010f7 68.5px,#08bbf7 69.5px,#93ff6c 70.5px,#fbe904 71.5px,#ffb300 72.5px,#ff9f00 73.5px,#ffb900 74.5px,#eff310 75.5px,#50f9af 76.5px,#0046fb 77.5px,#0032fb 78.5px,#38efc7 79.5px,#ebeb14 80.5px,#ff8b00 81.5px,#ff4c00 82.5px,#ff2800 83.5px,#ff1000 86.5px,#ff3000 88.5px,#ff5800 89.5px,#ff9f00 90.5px,#cbfb34 91.5px,#10bdef 92.5px,#0004ef 93.5px,#0085ff 94.5px,#87ff78 95.5px,#ffcf00 96.5px,#ff6a00 97.5px,#ff1600 99.5px,#ff0200 100.5px,#df0000 104.5px,#df0000 107.5px,#cf0000 109.5px,#cf0000 113.5px,#f90000 117.5px,#ff1600 118.5px,#ff4800 119.5px,#ff9b00 120.5px,#bdfb42 121.5px,#0cddf3 122.5px,#22ebdd 123.5px,#dbef24 124.5px,#ff7600 125.5px,#ff2800 126.5px,#f70200 127.5px,#c50000 130.5px,#af0000 136.5px,#ad0000 146.5px,#9f0000 149.5px,#9f0000 161.5px,#8f0000 165.5px,#9f0000 173.5px,#b00 177.5px,#eb0000 179.5px,#ff2c00 180.5px,#ffb700 181.5px,#9f6 182.5px,#dfed20 183.5px,#ff6400 184.5px,#ff1400 185.5px,#ed0000 186.5px,#cf0000 188.5px,#bf0000 194.5px,#b70000 204.5px,#a50000 213.5px,#9d0000 226.5px,#8f0000 229.5px,#8f0000 352.5px,#bf0000 359.5px,#ef0000 361.5px,#ff3000 363.5px,#f30000 365.5px,#b50000 368.5px,#9f0000 373.5px,#900 381.5px,#8f0000 386.5px,#8f0000 518px)"></div><div style="top:15px;background:linear-gradient(90deg,#0000df 0px,#0000eb 4.5px,#0000d3 8.5px,#0000ef 10.5px,#0000e7 15.5px,#0000d3 18.5px,#0000e7 21.5px,#0000ef 26.5px,#0000bf 32.5px,#0000cb 34.5px,#0000bf 35.5px,#0000c3 41.5px,#0000ef 43.5px,#0000e3 44.5px,#0008f3 45.5px,#005aff 46.5px,#0070ff 47.5px,#0018fb 48.5px,#0004f3 49.5px,#00c3ff 51.5px,#00b3ff 52.5px,#0040ff 53.5px,#0000f1 54.5px,#04f 55.5px,#00cdff 56.5px,#0efff1 57.5px,#04effb 58.5px,#000cf7 60.5px,#0018fb 61.5px,#00a5ff 62.5px,#2fd 63.5px,#50ffaf 64.5px,#4fb 65.5px,#04dbfb 66.5px,#003cff 67.5px,#000cf7 68.5px,#04b1fb 69.5px,#83ff7c 70.5px,#f7f108 71.5px,#fb0 72.5px,#ffa700 73.5px,#fb0 74.5px,#eff310 75.5px,#50fbaf 76.5px,#004afd 77.5px,#0028fb 78.5px,#30e9cf 79.5px,#e3ef1c 80.5px,#ff8d00 81.5px,#ff4e00 82.5px,#ff2e00 83.5px,#ff1000 86.5px,#ff3000 88.5px,#ff5800 89.5px,#ff9f00 90.5px,#cff730 91.5px,#14c5eb 92.5px,#0008ef 93.5px,#0074ff 94.5px,#72ff8d 95.5px,#fbd704 96.5px,#ff7800 97.5px,#ff3c00 98.5px,#ff0400 100.5px,#df0000 105.5px,#cf0000 112.5px,#ed0000 116.5px,#fb0000 117.5px,#ff1800 118.5px,#ff4800 119.5px,#f90 120.5px,#bffb40 121.5px,#0cddf3 122.5px,#14e3eb 123.5px,#cdf532 124.5px,#ff8700 125.5px,#ff3000 126.5px,#fb0400 127.5px,#cb0000 130.5px,#af0000 135.5px,#af0000 146.5px,#9f0000 150.5px,#9d0000 162.5px,#8f0000 165.5px,#8f0000 167.5px,#9f0000 169.5px,#9f0000 174.5px,#c90000 178.5px,#e90000 179.5px,#ff2400 180.5px,#ffa700 181.5px,#a1ff5e 182.5px,#cdf532 183.5px,#ff7600 184.5px,#ff1a00 185.5px,#f10000 186.5px,#cf0000 188.5px,#bf0000 196.5px,#bf0000 204.5px,#af0000 206.5px,#ad0000 213.5px,#9f0000 216.5px,#9d0000 227.5px,#8f0000 230.5px,#8f0000 352.5px,#bf0000 359.5px,#e90000 361.5px,#ff1200 362.5px,#ff3000 363.5px,#ff2800 364.5px,#fb0600 365.5px,#c90000 367.5px,#af0000 369.5px,#9f0000 375.5px,#9b0000 382.5px,#8f0000 388.5px,#8f0000 518px)"></div><div style="top:17px;background:linear-gradient(90deg,#0000df 0px,#0000eb 4.5px,#0000d3 8.5px,#0000ef 10.5px,#0000e7 15.5px,#0000d3 18.5px,#0000e7 21.5px,#0000ef 26.5px,#0000bf 32.5px,#0000cb 34.5px,#0000bf 35.5px,#0000c3 41.5px,#0000ef 43.5px,#0000e7 44.5px,#0004f3 45.5px,#0058ff 46.5px,#0072ff 47.5px,#0018fb 48.5px,#0004f1 49.5px,#00c3ff 51.5px,#00b3ff 52.5px,#0042ff 53.5px,#0000f3 54.5px,#0040ff 55.5px,#00cbff 56.5px,#0cfff3 57.5px,#04effb 58.5px,#0010f9 60.5px,#0012fb 61.5px,#009dff 62.5px,#20fddf 63.5px,#4cffb3 64.5px,#4fb 65.5px,#08e1f7 66.5px,#003eff 67.5px,#0008f7 68.5px,#00a5ff 69.5px,#78ff87 70.5px,#f1f30e 71.5px,#ffc300 72.5px,#ffaf00 73.5px,#ffbd00 74.5px,#eff710 75.5px,#50fbaf 76.5px,#0050ff 77.5px,#0022fb 78.5px,#28e5d7 79.5px,#dff720 80.5px,#f90 81.5px,#ff5600 82.5px,#ff2000 84.5px,#ff1200 86.5px,#ff3200 88.5px,#ff5800 89.5px,#ff9d00 90.5px,#d1f72e 91.5px,#18cbe7 92.5px,#000aed 93.5px,#0062ff 94.5px,#60ff9f 95.5px,#f7e108 96.5px,#ff7e00 97.5px,#ff4200 98.5px,#ff0800 100.5px,#df0000 105.5px,#d70000 109.5px,#d10000 112.5px,#df0000 114.5px,#fd0000 117.5px,#ff1800 118.5px,#ff4800 119.5px,#ff9700 120.5px,#c1fb3e 121.5px,#0edff1 122.5px,#0ad3f5 123.5px,#b9fd46 124.5px,#ff9700 125.5px,#ff3800 126.5px,#ff0a00 127.5px,#bf0000 131.5px,#bd0000 133.5px,#af0000 135.5px,#ad0000 147.5px,#9f0000 149.5px,#9d0000 163.5px,#8f0000 165.5px,#9f0000 171.5px,#9f0000 174.5px,#c70000 178.5px,#e70000 179.5px,#ff1c00 180.5px,#ff9700 181.5px,#b1ff4e 182.5px,#bdfd42 183.5px,#ff8b00 184.5px,#ff2800 185.5px,#f70000 186.5px,#d30000 188.5px,#cd0000 191.5px,#bf0000 193.5px,#b90000 205.5px,#af0000 210.5px,#ab0000 214.5px,#9f0000 217.5px,#9f0000 228.5px,#8f0000 232.5px,#8f0000 352.5px,#bf0000 359.5px,#e70000 361.5px,#ff0c00 362.5px,#ff2e00 363.5px,#ff3000 364.5px,#ff0e00 365.5px,#d10000 367.5px,#af0000 370.5px,#9f0000 376.5px,#9d0000 383.5px,#8f0000 387.5px,#8f0000 518px)"></div><div style="top:19px;background:linear-gradient(90deg,#0000df 0px,#0000eb 4.5px,#0000d3 8.5px,#0000ef 10.5px,#0000e7 15.5px,#0000d3 18.5px,#0000e7 21.5px,#0000ef 26.5px,#0000bf 32.5px,#0000cb 34.5px,#0000bf 35.5px,#0000c3 41.5px,#0000ef 43.5px,#0000e7 44.5px,#0004f3 45.5px,#0058ff 46.5px,#0074ff 47.5px,#001afb 48.5px,#0004ef 49.5px,#00c3ff 51.5px,#00b7ff 52.5px,#004cff 53.5px,#0000f3 54.5px,#0036ff 55.5px,#00c1ff 56.5px,#0cfff3 57.5px,#04f1fb 58.5px,#0089ff 59.5px,#0010fb 60.5px,#0010f7 61.5px,#0095ff 62.5px,#18fbe7 63.5px,#4cffb3 64.5px,#4fb 65.5px,#08e3f7 66.5px,#004aff 67.5px,#0006f7 68.5px,#0095ff 69.5px,#6aff95 70.5px,#edfb12 71.5px,#ffcb00 72.5px,#ffb100 73.5px,#ffbf00 74.5px,#eff710 75.5px,#54ffab 76.5px,#0056ff 77.5px,#001efb 78.5px,#20dddf 79.5px,#d5f72a 80.5px,#ff9d00 81.5px,#ff5a00 82.5px,#f20 84.5px,#ff2000 87.5px,#ff5800 89.5px,#ff9b00 90.5px,#d7f728 91.5px,#1ed3e1 92.5px,#000eef 93.5px,#0050ff 94.5px,#4efbb1 95.5px,#f1e70e 96.5px,#ff8900 97.5px,#ff4a00 98.5px,#ff0c00 100.5px,#ef0000 103.5px,#df0000 107.5px,#df0000 114.5px,#ff0400 117.5px,#ff1c00 118.5px,#ff4800 119.5px,#ff9700 120.5px,#c5fb3a 121.5px,#10dfef 122.5px,#02c9fd 123.5px,#a1ff5e 124.5px,#ffa900 125.5px,#ff4800 126.5px,#ff0e00 127.5px,#db0000 129.5px,#bf0000 132.5px,#af0000 138.5px,#af0000 147.5px,#9f0000 149.5px,#9b0000 164.5px,#8f0000 166.5px,#9f0000 170.5px,#9f0000 174.5px,#c70000 178.5px,#e30000 179.5px,#ff1800 180.5px,#ff8700 181.5px,#c3fd3c 182.5px,#a5ff5a 183.5px,#ffa300 184.5px,#ff3200 185.5px,#f90400 186.5px,#cf0000 189.5px,#bf0000 197.5px,#bf0000 205.5px,#af0000 207.5px,#af0000 214.5px,#9f0000 218.5px,#9f0000 229.5px,#8f0000 233.5px,#8f0000 352.5px,#af0000 357.5px,#bf0000 359.5px,#e10000 361.5px,#fd0800 362.5px,#ff3000 363.5px,#ff3a00 364.5px,#f30000 366.5px,#c50000 368.5px,#af0000 371.5px,#9f0000 376.5px,#900 385.5px,#8f0000 390.5px,#8f0000 518px)"></div><div style="top:21px;background:linear-gradient(90deg,#0000df 0px,#0000eb 4.5px,#0000d3 8.5px,#0000ef 10.5px,#0000e7 15.5px,#0000d3 18.5px,#0000e7 21.5px,#0000ef 26.5px,#0000bf 32.5px,#0000cb 34.5px,#0000bf 35.5px,#0000c3 41.5px,#0000ef 43.5px,#0000e7 44.5px,#0004f3 45.5px,#0056ff 46.5px,#0074ff 47.5px,#001cfb 48.5px,#0004ed 49.5px,#0060ff 50.5px,#00c3ff 51.5px,#00b7ff 52.5px,#0050ff 53.5px,#0000f3 54.5px,#0032ff 55.5px,#00bfff 56.5px,#0cfff3 57.5px,#04f3fb 58.5px,#008dff 59.5px,#0010fb 60.5px,#0010f7 61.5px,#008fff 62.5px,#18fbe7 63.5px,#4affb5 64.5px,#4fb 65.5px,#08e7f7 66.5px,#004cff 67.5px,#0004f3 68.5px,#008bff 69.5px,#5effa1 70.5px,#e5fb1a 71.5px,#ffd300 72.5px,#fb0 73.5px,#ffc700 74.5px,#eff710 75.5px,#54ffab 76.5px,#005cff 77.5px,#0018f7 78.5px,#18d5e7 79.5px,#cbfb34 80.5px,#ffa500 81.5px,#ff5e00 82.5px,#ff3800 83.5px,#ff2000 85.5px,#ff2000 87.5px,#ff3400 88.5px,#ff5a00 89.5px,#ff9b00 90.5px,#dbf724 91.5px,#20d9df 92.5px,#0014ef 93.5px,#0044fb 94.5px,#40f5bf 95.5px,#e9ef16 96.5px,#ff9300 97.5px,#ff5200 98.5px,#ff2800 99.5px,#f00 101.5px,#df0000 109.5px,#e70000 115.5px,#ff0400 117.5px,#ff4800 119.5px,#ff9700 120.5px,#cbfb34 121.5px,#16dfe9 122.5px,#00b9ff 123.5px,#83ff7c 124.5px,#fb0 125.5px,#ff5200 126.5px,#ff1800 127.5px,#f50000 128.5px,#c70000 131.5px,#af0000 137.5px,#a90000 148.5px,#9f0000 153.5px,#9d0000 165.5px,#9d0000 167.5px,#a10000 174.5px,#c70000 178.5px,#df0000 179.5px,#ff1800 180.5px,#ff7800 181.5px,#cbf934 182.5px,#93ff6c 183.5px,#fdbd02 184.5px,#ff3e00 185.5px,#fd0600 186.5px,#cf0000 189.5px,#c50000 193.5px,#b90000 206.5px,#af0000 211.5px,#af0000 215.5px,#9f0000 217.5px,#970000 231.5px,#8f0000 352.5px,#af0000 357.5px,#bf0000 359.5px,#df0000 361.5px,#fb0400 362.5px,#ff4000 364.5px,#fb0600 366.5px,#bf0000 369.5px,#af0000 371.5px,#9f0000 377.5px,#9b0000 386.5px,#8f0000 392.5px,#8f0000 518px)"></div><div style="top:23px;background:linear-gradient(90deg,#0000df 0px,#0000eb 4.5px,#0000d3 8.5px,#0000ef 10.5px,#0000e7 15.5px,#0000d3 18.5px,#0000e7 21.5px,#0000ef 26.5px,#0000bf 32.5px,#0000cb 34.5px,#0000bf 35.5px,#0000c3 41.5px,#0000ef 43.5px,#0000e7 44.5px,#0004f3 45.5px,#0050ff 46.5px,#0074ff 47.5px,#001efb 48.5px,#0004ef 49.5px,#00bfff 51.5px,#00b7ff 52.5px,#0050ff 53.5px,#0000f3 54.5px,#0030ff 55.5px,#00b9ff 56.5px,#0cfff3 57.5px,#04f3fb 58.5px,#008fff 59.5px,#0018fb 60.5px,#0008f7 61.5px,#0087ff 62.5px,#14f7eb 63.5px,#48ffb7 64.5px,#4fb 65.5px,#08e7f7 66.5px,#0052ff 67.5px,#0002f7 68.5px,#007eff 69.5px,#4effb1 70.5px,#dbff24 71.5px,#ffdb00 72.5px,#ffc100 73.5px,#ffcb00 74.5px,#effb10 75.5px,#5affa5 76.5px,#06f 77.5px,#0014f7 78.5px,#10cfef 79.5px,#c3fd3c 80.5px,#ffb100 81.5px,#ff6800 82.5px,#ff3c00 83.5px,#ff2000 85.5px,#ff2400 87.5px,#ff5c00 89.5px,#ff9b00 90.5px,#dbf724 91.5px,#28e1d7 92.5px,#0018f1 93.5px,#0038fb 94.5px,#30f1cf 95.5px,#dff720 96.5px,#ff9d00 97.5px,#ff5800 98.5px,#ff1400 100.5px,#f90000 102.5px,#ef0000 106.5px,#df0000 108.5px,#df0000 114.5px,#ff0600 117.5px,#ff4a00 119.5px,#ff9700 120.5px,#cff930 121.5px,#18e3e7 122.5px,#00a7ff 123.5px,#64ff9b 124.5px,#fbcf04 125.5px,#ff5e00 126.5px,#ff1e00 127.5px,#f70000 128.5px,#bf0000 132.5px,#bf0000 134.5px,#af0000 136.5px,#ad0000 148.5px,#9f0000 150.5px,#a30000 174.5px,#c70000 178.5px,#fd0e00 180.5px,#ff6c00 181.5px,#d9f326 182.5px,#83ff7c 183.5px,#f5cd0a 184.5px,#ff5000 185.5px,#ff0e00 186.5px,#df0000 188.5px,#cf0000 190.5px,#cf0000 193.5px,#bf0000 197.5px,#bf0000 206.5px,#af0000 210.5px,#ad0000 216.5px,#9f0000 218.5px,#9b0000 232.5px,#8f0000 235.5px,#8f0000 352.5px,#af0000 358.5px,#d90000 361.5px,#f70200 362.5px,#ff4000 364.5px,#ff3400 365.5px,#ff0e00 366.5px,#d30000 368.5px,#af0000 371.5px,#9f0000 379.5px,#9f0000 387.5px,#8f0000 391.5px,#8f0000 518px)"></div><div style="top:25px;background:linear-gradient(90deg,#0000df 0px,#0000eb 4.5px,#0000d3 8.5px,#0000ef 10.5px,#0000e7 15.5px,#0000d3 18.5px,#0000e7 21.5px,#0000ef 26.5px,#0000bf 32.5px,#0000cb 34.5px,#0000bf 35.5px,#0000c3 41.5px,#0000ef 43.5px,#0000e7 44.5px,#0004f1 45.5px,#0050ff 46.5px,#0074ff 47.5px,#0020fb 48.5px,#0000ef 49.5px,#0054ff 50.5px,#00bdff 51.5px,#00b7ff 52.5px,#0050ff 53.5px,#0002f3 54.5px,#002aff 55.5px,#00b3ff 56.5px,#08fdf7 57.5px,#04f3fb 58.5px,#0095ff 59.5px,#0018fb 60.5px,#0008f7 61.5px,#0080ff 62.5px,#12f7ed 63.5px,#48ffb7 64.5px,#4fb 65.5px,#0ae9f5 66.5px,#005cff 67.5px,#0000f7 68.5px,#006eff 69.5px,#40fdbf 70.5px,#d1ff2e 71.5px,#ffe300 72.5px,#ffc500 73.5px,#ffcf00 74.5px,#effb10 75.5px,#60ff9f 76.5px,#006eff 77.5px,#000ef7 78.5px,#0cc3f3 79.5px,#b7ff48 80.5px,#ffb500 81.5px,#ff6800 82.5px,#ff4000 83.5px,#ff2000 85.5px,#ff2400 87.5px,#ff5c00 89.5px,#ff9b00 90.5px,#e3f71c 91.5px,#2ce5d3 92.5px,#0020f3 93.5px,#0028f7 94.5px,#24e7db 95.5px,#d3fb2c 96.5px,#ffa900 97.5px,#ff6200 98.5px,#ff3400 99.5px,#ff0600 101.5px,#ef0000 105.5px,#df0000 111.5px,#e10000 114.5px,#ff0800 117.5px,#ff2000 118.5px,#ff4c00 119.5px,#ff9700 120.5px,#cff730 121.5px,#1ee3e1 122.5px,#09f 123.5px,#4af9b5 124.5px,#f5df0a 125.5px,#ff6e00 126.5px,#ff2a00 127.5px,#fb0400 128.5px,#c10000 132.5px,#af0000 139.5px,#af0000 148.5px,#9f0000 152.5px,#a30000 174.5px,#c70000 178.5px,#fb0c00 180.5px,#ff6000 181.5px,#e3e71c 182.5px,#80ff80 183.5px,#efdf10 184.5px,#ff5e00 185.5px,#ff1600 186.5px,#f30000 187.5px,#cf0000 190.5px,#cf0000 194.5px,#bf0000 198.5px,#bd0000 207.5px,#af0000 209.5px,#ab0000 217.5px,#9f0000 220.5px,#9d0000 233.5px,#8f0000 236.5px,#8f0000 352.5px,#b00 359.5px,#d70000 361.5px,#f30000 362.5px,#ff3c00 364.5px,#ff4000 365.5px,#f30000 367.5px,#c90000 369.5px,#af0000 372.5px,#9f0000 380.5px,#9b0000 389.5px,#8f0000 392.5px,#8f0000 518px)"></div><div style="top:27px;background:linear-gradient(90deg,#0000df 0px,#0000eb 4.5px,#0000d3 8.5px,#0000ef 10.5px,#0000e7 15.5px,#0000d3 18.5px,#0000e7 21.5px,#0000ef 26.5px,#0000bf 32.5px,#0000cb 34.5px,#0000bf 35.5px,#0000c3 41.5px,#0000ef 43.5px,#0004ef 45.5px,#004eff 46.5px,#0074ff 47.5px,#02f 48.5px,#0000ef 49.5px,#0050ff 50.5px,#00b7ff 51.5px,#00b9ff 52.5px,#0004f3 54.5px,#0026fd 55.5px,#00afff 56.5px,#08fbf7 57.5px,#04f5fb 58.5px,#009dff 59.5px,#001afb 60.5px,#0008f7 61.5px,#0078ff 62.5px,#0ef3f1 63.5px,#42ffbd 64.5px,#4fb 65.5px,#0cedf3 66.5px,#0060ff 67.5px,#0000f7 68.5px,#0064ff 69.5px,#3af9c5 70.5px,#c9ff36 71.5px,#ffeb00 72.5px,#ffcf00 73.5px,#ffd300 74.5px,#ebfb14 75.5px,#64ff9b 76.5px,#0076ff 77.5px,#000af7 78.5px,#08b7f7 79.5px,#abff54 80.5px,#ffc300 81.5px,#ff7200 82.5px,#ff4600 83.5px,#ff2600 85.5px,#ff2800 87.5px,#ff3800 88.5px,#ff5c00 89.5px,#ff9b00 90.5px,#e3f31c 91.5px,#30edcf 92.5px,#0028f5 93.5px,#001ef5 94.5px,#1adbe5 95.5px,#c7ff38 96.5px,#ffb500 97.5px,#ff6800 98.5px,#ff1c00 100.5px,#f00 102.5px,#ef0000 106.5px,#df0000 110.5px,#e50000 114.5px,#ff0a00 117.5px,#ff4e00 119.5px,#f90 120.5px,#d5f72a 121.5px,#22e9dd 122.5px,#008fff 123.5px,#36f5c9 124.5px,#e7eb18 125.5px,#ff7e00 126.5px,#ff3400 127.5px,#ff0800 128.5px,#c70000 132.5px,#bf0000 135.5px,#af0000 137.5px,#ad0000 149.5px,#9f0000 151.5px,#a70000 174.5px,#c70000 178.5px,#fb0c00 180.5px,#ff5400 181.5px,#efdf10 182.5px,#7cff83 183.5px,#dfef20 184.5px,#ff7200 185.5px,#ff2000 186.5px,#f70000 187.5px,#cf0000 190.5px,#cf0000 195.5px,#bf0000 199.5px,#bf0000 207.5px,#af0000 211.5px,#a70000 218.5px,#9f0000 234.5px,#8f0000 238.5px,#8f0000 352.5px,#c30000 360.5px,#ef0000 362.5px,#ff1200 363.5px,#ff3a00 364.5px,#ff4a00 365.5px,#fd0600 367.5px,#bf0000 370.5px,#9f0000 378.5px,#9d0000 390.5px,#8f0000 394.5px,#8f0000 518px)"></div><div style="top:29px;background:linear-gradient(90deg,#0000df 0px,#0000eb 4.5px,#0000d3 8.5px,#0000ef 10.5px,#0000eb 15.5px,#0000d3 18.5px,#0000e7 21.5px,#0000ef 26.5px,#0000bf 32.5px,#0000cb 34.5px,#0000bf 35.5px,#0000c3 41.5px,#0000ef 43.5px,#0004ed 45.5px,#004cff 46.5px,#0074ff 47.5px,#0024ff 48.5px,#0000ef 49.5px,#0050ff 50.5px,#00b7ff 51.5px,#0bf 52.5px,#0004f5 54.5px,#0024fb 55.5px,#00adff 56.5px,#08fbf7 57.5px,#04f7fb 58.5px,#009fff 59.5px,#0022fb 60.5px,#0004f7 61.5px,#0074ff 62.5px,#0ceff3 63.5px,#40ffbf 64.5px,#46ffb9 65.5px,#0ceff3 66.5px,#06f 67.5px,#0002f5 68.5px,#0058ff 69.5px,#2ef5d1 70.5px,#bf4 71.5px,#fdf102 72.5px,#ffd500 73.5px,#ffd700 74.5px,#ebfb14 75.5px,#68ff97 76.5px,#0080ff 77.5px,#0008fb 78.5px,#04abfb 79.5px,#9bff64 80.5px,#ffcb00 81.5px,#ff7800 82.5px,#ff4800 83.5px,#ff2a00 85.5px,#ff2000 86.5px,#ff3800 88.5px,#ff5c00 89.5px,#ff9b00 90.5px,#e7ef18 91.5px,#3af1c5 92.5px,#002ef7 93.5px,#0016f3 94.5px,#0ed1f1 95.5px,#b3ff4c 96.5px,#ffc100 97.5px,#ff7200 98.5px,#ff4000 99.5px,#f00 102.5px,#ef0000 106.5px,#df0000 112.5px,#fb0000 116.5px,#ff2800 118.5px,#ff5200 119.5px,#ff9b00 120.5px,#dbf724 121.5px,#26ebd9 122.5px,#0085ff 123.5px,#24e7db 124.5px,#d5f52a 125.5px,#ff8d00 126.5px,#ff3c00 127.5px,#ff0e00 128.5px,#df0000 130.5px,#bf0000 134.5px,#af0000 140.5px,#af0000 149.5px,#9f0000 151.5px,#a70000 174.5px,#c70000 178.5px,#fb0400 180.5px,#ff4800 181.5px,#f5d10a 182.5px,#87ff78 183.5px,#c9f936 184.5px,#ff8700 185.5px,#ff2800 186.5px,#fb0400 187.5px,#d10000 190.5px,#cf0000 196.5px,#bf0000 200.5px,#bf0000 208.5px,#af0000 210.5px,#af0000 218.5px,#9f0000 222.5px,#900 236.5px,#8f0000 241.5px,#8f0000 352.5px,#c10000 360.5px,#e70000 362.5px,#ff0e00 363.5px,#ff5000 365.5px,#ff1000 367.5px,#d50000 369.5px,#af0000 373.5px,#9f0000 381.5px,#900 392.5px,#8f0000 397.5px,#8f0000 518px)"></div><div style="top:31px;background:linear-gradient(90deg,#0000df 0px,#0000eb 4.5px,#0000d3 8.5px,#0000ef 10.5px,#0000eb 15.5px,#0000d3 18.5px,#0000e7 21.5px,#0000ef 26.5px,#0000bf 32.5px,#0000cb 34.5px,#0000bf 35.5px,#0000c3 41.5px,#0000f3 43.5px,#0004eb 45.5px,#004cff 46.5px,#0074ff 47.5px,#0024ff 48.5px,#0000ef 49.5px,#0050ff 50.5px,#00b7ff 51.5px,#00bdff 52.5px,#0004f7 54.5px,#001efb 55.5px,#00a1ff 56.5px,#08fbf7 57.5px,#06fbf9 58.5px,#009fff 59.5px,#0024ff 60.5px,#0004f3 61.5px,#006cff 62.5px,#0aeff5 63.5px,#40ffbf 64.5px,#48ffb7 65.5px,#0ceff3 66.5px,#006eff 67.5px,#0004f3 68.5px,#004eff 69.5px,#22f1dd 70.5px,#adff52 71.5px,#fbf904 72.5px,#ffdb00 73.5px,#ffdb00 74.5px,#ebfb14 75.5px,#6aff95 76.5px,#0089ff 77.5px,#0006f9 78.5px,#00a1ff 79.5px,#8dff72 80.5px,#ffd300 81.5px,#ff7c00 82.5px,#ff5000 83.5px,#ff3600 84.5px,#f20 86.5px,#ff3c00 88.5px,#ff5c00 89.5px,#f90 90.5px,#ebef14 91.5px,#40f5bf 92.5px,#003af7 93.5px,#000eeb 94.5px,#0abff5 95.5px,#9fff60 96.5px,#ffcf00 97.5px,#ff7800 98.5px,#ff2800 100.5px,#ff0400 102.5px,#ed0000 108.5px,#df0000 110.5px,#ef0000 115.5px,#ff0e00 117.5px,#ff2800 118.5px,#ff5800 119.5px,#ff9b00 120.5px,#dbf724 121.5px,#2af1d5 122.5px,#007cff 123.5px,#12d7ed 124.5px,#c1fd3e 125.5px,#ff9f00 126.5px,#ff4800 127.5px,#ff1600 128.5px,#f70000 129.5px,#c10000 133.5px,#bd0000 136.5px,#af0000 138.5px,#a90000 150.5px,#9f0000 155.5px,#9f0000 173.5px,#c70000 178.5px,#f70400 180.5px,#ff3e00 181.5px,#fdc102 182.5px,#8fff70 183.5px,#b1ff4e 184.5px,#ff9b00 185.5px,#ff3800 186.5px,#ff0600 187.5px,#cf0000 191.5px,#c70000 198.5px,#b90000 209.5px,#af0000 214.5px,#af0000 219.5px,#9f0000 221.5px,#9d0000 237.5px,#8f0000 241.5px,#8f0000 352.5px,#9f0000 354.5px,#bf0000 360.5px,#fd0800 363.5px,#ff4e00 365.5px,#f40 366.5px,#f70200 368.5px,#bf0000 371.5px,#af0000 375.5px,#9f0000 381.5px,#9d0000 393.5px,#8f0000 397.5px,#8f0000 518px)"></div><div style="top:33px;background:linear-gradient(90deg,#0000df 0px,#0000eb 4.5px,#0000d3 8.5px,#0000ef 10.5px,#0000eb 15.5px,#0000d3 18.5px,#0000e7 21.5px,#0000ef 26.5px,#0000bf 32.5px,#0000cb 34.5px,#0000bf 35.5px,#0000c3 41.5px,#0000f3 43.5px,#0004eb 45.5px,#004aff 46.5px,#0074ff 47.5px,#0024ff 48.5px,#0000ef 49.5px,#0050ff 50.5px,#00b5ff 51.5px,#00c1ff 52.5px,#0004f7 54.5px,#0018fb 55.5px,#009fff 56.5px,#06f9f9 57.5px,#08fbf7 58.5px,#00a9ff 59.5px,#0024ff 60.5px,#0004f3 61.5px,#06f 62.5px,#08e9f7 63.5px,#3cffc3 64.5px,#48ffb7 65.5px,#10f1ef 66.5px,#0072ff 67.5px,#0004f5 68.5px,#04f 69.5px,#1cebe3 70.5px,#a3ff5c 71.5px,#f3fb0c 72.5px,#ffe500 73.5px,#ffe300 74.5px,#e9fd16 75.5px,#6eff91 76.5px,#008fff 77.5px,#0004f7 78.5px,#0093ff 79.5px,#80ff80 80.5px,#fbdb04 81.5px,#ff8700 82.5px,#ff5000 83.5px,#ff3000 85.5px,#ff3c00 88.5px,#ff5c00 89.5px,#ff9700 90.5px,#ebef14 91.5px,#48f7b7 92.5px,#0044fb 93.5px,#0008e9 94.5px,#04b1fb 95.5px,#8dff72 96.5px,#fddb02 97.5px,#ff8700 98.5px,#ff4e00 99.5px,#ff1800 101.5px,#fd0000 104.5px,#ef0000 107.5px,#e10000 112.5px,#f00 116.5px,#ff2a00 118.5px,#ff5800 119.5px,#ff9b00 120.5px,#e1f71e 121.5px,#30f3cf 122.5px,#0078ff 123.5px,#06c5f9 124.5px,#abff54 125.5px,#ffb500 126.5px,#ff5800 127.5px,#ff1e00 128.5px,#fb0200 129.5px,#c70000 133.5px,#af0000 140.5px,#af0000 150.5px,#9f0000 152.5px,#9f0000 173.5px,#c70000 178.5px,#f70400 180.5px,#ff3800 181.5px,#ffb300 182.5px,#9dff62 183.5px,#95ff6a 184.5px,#ffb900 185.5px,#ff4600 186.5px,#ff0e00 187.5px,#df0000 189.5px,#cf0000 193.5px,#cb0000 199.5px,#bf0000 202.5px,#bf0000 209.5px,#af0000 213.5px,#ad0000 220.5px,#9f0000 223.5px,#9f0000 238.5px,#8f0000 242.5px,#8f0000 352.5px,#9f0000 354.5px,#bf0000 360.5px,#fb0400 363.5px,#ff4c00 365.5px,#ff4e00 366.5px,#fd0600 368.5px,#c50000 371.5px,#af0000 375.5px,#9f0000 383.5px,#900 395.5px,#8f0000 400.5px,#8f0000 518px)"></div><div style="top:35px;background:linear-gradient(90deg,#0000df 0px,#0000eb 4.5px,#0000d3 8.5px,#0000ef 10.5px,#0000eb 15.5px,#0000d3 18.5px,#0000e7 21.5px,#0000ef 26.5px,#0000bf 32.5px,#0000cb 34.5px,#0000bf 35.5px,#0000c3 41.5px,#0000f3 43.5px,#0002eb 45.5px,#0048ff 46.5px,#0074ff 47.5px,#0026ff 48.5px,#0000ef 49.5px,#04f 50.5px,#00b3ff 51.5px,#00c3ff 52.5px,#0008f7 54.5px,#0018fb 55.5px,#009bff 56.5px,#04f5fb 57.5px,#08fbf7 58.5px,#00adff 59.5px,#002cff 60.5px,#0000f3 61.5px,#005cff 62.5px,#06e7f9 63.5px,#3affc5 64.5px,#48ffb7 65.5px,#10f7ef 66.5px,#0078ff 67.5px,#0004f7 68.5px,#003cff 69.5px,#14e3eb 70.5px,#97ff68 71.5px,#edff12 72.5px,#ffe900 73.5px,#ffe500 74.5px,#e7ff18 75.5px,#74ff8b 76.5px,#0097ff 77.5px,#0006f7 78.5px,#0085ff 79.5px,#72ff8d 80.5px,#f9e306 81.5px,#ff8900 82.5px,#ff5a00 83.5px,#ff3c00 84.5px,#ff3000 87.5px,#ff3e00 88.5px,#ff6000 89.5px,#ff9700 90.5px,#efef10 91.5px,#50fbaf 92.5px,#0050fb 93.5px,#0004e7 94.5px,#009dff 95.5px,#7cff83 96.5px,#f9e506 97.5px,#ff8d00 98.5px,#ff3200 100.5px,#f00 103.5px,#ed0000 112.5px,#ff0200 116.5px,#ff3000 118.5px,#ff5800 119.5px,#ff9b00 120.5px,#e3f71c 121.5px,#38f5c7 122.5px,#0078ff 123.5px,#00b1ff 124.5px,#8bff74 125.5px,#ffc700 126.5px,#ff6400 127.5px,#ff2800 128.5px,#ff0600 129.5px,#cf0000 132.5px,#bf0000 136.5px,#af0000 140.5px,#a90000 151.5px,#9f0000 156.5px,#9f0000 173.5px,#af0000 175.5px,#c30000 178.5px,#f50000 180.5px,#ff2e00 181.5px,#ff9d00 182.5px,#b3ff4c 183.5px,#83ff7c 184.5px,#f9cd06 185.5px,#ff5600 186.5px,#ff1600 187.5px,#f50000 188.5px,#cf0000 192.5px,#cd0000 200.5px,#bf0000 203.5px,#bd0000 210.5px,#af0000 212.5px,#ab0000 221.5px,#9f0000 224.5px,#9b0000 240.5px,#8f0000 246.5px,#8f0000 352.5px,#9f0000 354.5px,#bf0000 360.5px,#db0000 362.5px,#f70000 363.5px,#ff4800 365.5px,#ff5a00 366.5px,#ff1400 368.5px,#f30000 369.5px,#cd0000 371.5px,#af0000 375.5px,#ad0000 378.5px,#9f0000 381.5px,#9d0000 396.5px,#8f0000 400.5px,#8f0000 518px)"></div><div style="top:37px;background:linear-gradient(90deg,#0000df 0px,#0000eb 4.5px,#0000d3 8.5px,#0000ef 10.5px,#0000eb 15.5px,#0000d3 18.5px,#0000e7 21.5px,#0000ef 26.5px,#0000bf 32.5px,#0000cb 34.5px,#0000bf 35.5px,#0000c3 41.5px,#0000f3 43.5px,#0000eb 45.5px,#0048ff 46.5px,#0078ff 47.5px,#0028ff 48.5px,#0000ef 49.5px,#0040ff 50.5px,#00b1ff 51.5px,#00c3ff 52.5px,#0008f7 54.5px,#0016fb 55.5px,#0091ff 56.5px,#04f3fb 57.5px,#08fbf7 58.5px,#00afff 59.5px,#0030ff 60.5px,#0000f3 61.5px,#0058ff 62.5px,#04e3fb 63.5px,#34ffcb 64.5px,#46ffb9 65.5px,#10f7ef 66.5px,#0080ff 67.5px,#0008f7 68.5px,#0032ff 69.5px,#0eddf1 70.5px,#8bff74 71.5px,#e7ff18 72.5px,#fff500 73.5px,#ffeb00 74.5px,#e7ff18 75.5px,#74ff8b 76.5px,#00a1ff 77.5px,#0004f7 78.5px,#0076ff 79.5px,#62ff9d 80.5px,#f5e90a 81.5px,#ff9300 82.5px,#ff5e00 83.5px,#ff3000 85.5px,#ff3000 87.5px,#ff6000 89.5px,#ff9700 90.5px,#f1ed0e 91.5px,#56ffa9 92.5px,#005aff 93.5px,#0000e3 94.5px,#0087ff 95.5px,#64ff9b 96.5px,#f3ed0c 97.5px,#f90 98.5px,#ff5e00 99.5px,#f20 101.5px,#f00 104.5px,#ef0000 112.5px,#ff0400 116.5px,#ff3000 118.5px,#ff5800 119.5px,#ff9b00 120.5px,#e5f71a 121.5px,#3ef7c1 122.5px,#0078ff 123.5px,#0095ff 124.5px,#6aff95 125.5px,#f9d906 126.5px,#ff7200 127.5px,#ff3400 128.5px,#ff0c00 129.5px,#d30000 132.5px,#bf0000 136.5px,#af0000 142.5px,#af0000 151.5px,#9f0000 153.5px,#9f0000 173.5px,#af0000 175.5px,#c30000 178.5px,#f10000 180.5px,#ff2800 181.5px,#ff8f00 182.5px,#c1fd3e 183.5px,#74ff8b 184.5px,#efe110 185.5px,#ff6400 186.5px,#ff1e00 187.5px,#f90000 188.5px,#cf0000 192.5px,#cf0000 201.5px,#bf0000 205.5px,#b90000 211.5px,#af0000 216.5px,#ab0000 222.5px,#9f0000 225.5px,#9f0000 241.5px,#8f0000 245.5px,#8f0000 352.5px,#9f0000 354.5px,#bf0000 360.5px,#d70000 362.5px,#f10000 363.5px,#ff1800 364.5px,#ff5e00 366.5px,#ff4c00 367.5px,#f90200 369.5px,#c50000 372.5px,#af0000 376.5px,#ad0000 379.5px,#9f0000 382.5px,#900 398.5px,#8f0000 403.5px,#8f0000 518px)"></div><div style="top:39px;background:linear-gradient(90deg,#0000df 0px,#0000eb 4.5px,#0000d3 8.5px,#0000ef 10.5px,#0000eb 15.5px,#0000d3 18.5px,#0000e7 21.5px,#0000ef 26.5px,#0000bf 32.5px,#0000cb 34.5px,#0000bf 35.5px,#0000c3 41.5px,#0000f3 43.5px,#0000eb 45.5px,#0046ff 46.5px,#007cff 47.5px,#002aff 48.5px,#0000ef 49.5px,#0040ff 50.5px,#00adff 51.5px,#00c3ff 52.5px,#0070ff 53.5px,#0008f7 54.5px,#0010fb 55.5px,#008dff 56.5px,#04f3fb 57.5px,#08fbf7 58.5px,#00b1ff 59.5px,#0030ff 60.5px,#0000f3 61.5px,#0052ff 62.5px,#04dbfb 63.5px,#34ffcb 64.5px,#40ffbf 65.5px,#14f7eb 66.5px,#0083ff 67.5px,#0008f7 68.5px,#002afd 69.5px,#0ad5f5 70.5px,#80ff80 71.5px,#dbff24 72.5px,#fff900 73.5px,#fff100 74.5px,#e7ff18 75.5px,#76ff89 76.5px,#00a9ff 77.5px,#0008f9 78.5px,#006aff 79.5px,#52ffad 80.5px,#edef12 81.5px,#f90 82.5px,#ff6200 83.5px,#ff3600 85.5px,#ff3000 87.5px,#ff6000 89.5px,#ff9700 90.5px,#f5eb0a 91.5px,#60ff9f 92.5px,#0068ff 93.5px,#0000e1 94.5px,#0074ff 95.5px,#50ffaf 96.5px,#e9f516 97.5px,#ffa300 98.5px,#f60 99.5px,#ff2600 101.5px,#f00 104.5px,#fd0000 107.5px,#ef0000 109.5px,#ef0000 114.5px,#ff0800 116.5px,#ff3000 118.5px,#ff5a00 119.5px,#ff9b00 120.5px,#e7f518 121.5px,#46fbb9 122.5px,#007cff 123.5px,#007eff 124.5px,#4afdb5 125.5px,#efeb10 126.5px,#ff8300 127.5px,#ff3c00 128.5px,#ff1000 129.5px,#e30000 131.5px,#bf0000 136.5px,#bd0000 138.5px,#af0000 140.5px,#a70000 152.5px,#9f0000 173.5px,#af0000 175.5px,#c30000 178.5px,#ef0000 180.5px,#ff2400 181.5px,#ff8000 182.5px,#d5f52a 183.5px,#6cff93 184.5px,#dfef20 185.5px,#ff7a00 186.5px,#ff2a00 187.5px,#fd0400 188.5px,#df0000 190.5px,#cf0000 194.5px,#cf0000 202.5px,#bf0000 206.5px,#bf0000 211.5px,#af0000 215.5px,#a90000 223.5px,#9f0000 228.5px,#9b0000 243.5px,#8f0000 249.5px,#8f0000 352.5px,#9f0000 354.5px,#af0000 359.5px,#d50000 362.5px,#ff1000 364.5px,#ff5c00 366.5px,#ff5800 367.5px,#ff0c00 369.5px,#cd0000 372.5px,#af0000 376.5px,#ad0000 380.5px,#9f0000 382.5px,#9d0000 399.5px,#8f0000 403.5px,#8f0000 518px)"></div><div style="top:41px;background:linear-gradient(90deg,#0000df 0px,#0000eb 4.5px,#0000d3 8.5px,#0000ef 10.5px,#0000eb 15.5px,#0000d3 18.5px,#0000eb 22.5px,#0000ef 26.5px,#0000bf 32.5px,#0000cb 34.5px,#0000bf 35.5px,#0000c3 41.5px,#0000f3 43.5px,#0000eb 45.5px,#04f 46.5px,#007cff 47.5px,#002cff 48.5px,#0000eb 49.5px,#0040ff 50.5px,#00a9ff 51.5px,#00c3ff 52.5px,#000cf7 54.5px,#0010f7 55.5px,#0089ff 56.5px,#02f1fd 57.5px,#08fbf7 58.5px,#00b9ff 59.5px,#0036ff 60.5px,#0000f3 61.5px,#0048ff 62.5px,#02dbfd 63.5px,#34ffcb 64.5px,#40ffbf 65.5px,#14f7eb 66.5px,#0087ff 67.5px,#000cf7 68.5px,#0026fb 69.5px,#06c9f9 70.5px,#74ff8b 71.5px,#d3ff2c 72.5px,#f9fd06 73.5px,#fff500 74.5px,#e3ff1c 75.5px,#7aff85 76.5px,#04affb 77.5px,#0008f7 78.5px,#005eff 79.5px,#46fbb9 80.5px,#e9f516 81.5px,#ffa300 82.5px,#ff6800 83.5px,#ff4800 84.5px,#ff3000 86.5px,#f40 88.5px,#ff6000 89.5px,#ff9700 90.5px,#f7e908 91.5px,#6f9 92.5px,#0076ff 93.5px,#0000df 94.5px,#005eff 95.5px,#42f9bd 96.5px,#dffb20 97.5px,#ffaf00 98.5px,#ff6e00 99.5px,#ff2a00 101.5px,#ff0200 104.5px,#f50000 108.5px,#f50000 114.5px,#ff0a00 116.5px,#ff3600 118.5px,#ff5c00 119.5px,#ff9b00 120.5px,#e9ef16 121.5px,#48fdb7 122.5px,#0080ff 123.5px,#06f 124.5px,#32f5cd 125.5px,#dff320 126.5px,#ff9300 127.5px,#ff4800 128.5px,#ff1a00 129.5px,#fb0000 130.5px,#cf0000 133.5px,#bf0000 137.5px,#af0000 143.5px,#ad0000 152.5px,#9f0000 154.5px,#a30000 173.5px,#af0000 176.5px,#d30000 179.5px,#ef0000 180.5px,#ff1800 181.5px,#ff7200 182.5px,#dfef20 183.5px,#6cff93 184.5px,#c9f936 185.5px,#ff9100 186.5px,#ff3800 187.5px,#ff0800 188.5px,#e10000 190.5px,#cf0000 195.5px,#c90000 204.5px,#bf0000 209.5px,#bd0000 212.5px,#af0000 214.5px,#a70000 224.5px,#9f0000 244.5px,#8f0000 248.5px,#8f0000 352.5px,#9f0000 354.5px,#af0000 359.5px,#e70000 363.5px,#ff0a00 364.5px,#ff5a00 366.5px,#ff5e00 367.5px,#f70000 370.5px,#c50000 373.5px,#af0000 377.5px,#ab0000 381.5px,#9f0000 384.5px,#900 401.5px,#8f0000 406.5px,#8f0000 518px)"></div><div style="top:43px;background:linear-gradient(90deg,#0000df 0px,#0000eb 4.5px,#0000d3 8.5px,#0000ef 10.5px,#0000eb 15.5px,#0000d3 18.5px,#0000ef 23.5px,#0000ef 26.5px,#0000bf 32.5px,#0000cb 34.5px,#0000bf 35.5px,#0000c3 41.5px,#0000f3 43.5px,#0000eb 45.5px,#0042ff 46.5px,#007cff 47.5px,#002cff 48.5px,#0000eb 49.5px,#0040ff 50.5px,#00a7ff 51.5px,#00c3ff 52.5px,#000ef7 54.5px,#0010f7 55.5px,#00efff 57.5px,#08fbf7 58.5px,#0bf 59.5px,#0040ff 60.5px,#0000f3 61.5px,#04f 62.5px,#00d3ff 63.5px,#32ffcd 64.5px,#40ffbf 65.5px,#14fbeb 66.5px,#008dff 67.5px,#0010f7 68.5px,#001cfb 69.5px,#02c3fd 70.5px,#6f9 71.5px,#c7ff38 72.5px,#f5ff0a 73.5px,#ff0 74.5px,#dfff20 75.5px,#7cff83 76.5px,#04b5fb 77.5px,#000cf7 78.5px,#0052ff 79.5px,#3af7c5 80.5px,#e1f91e 81.5px,#ffab00 82.5px,#ff6e00 83.5px,#ff4c00 84.5px,#ff3200 86.5px,#f40 88.5px,#ff6000 89.5px,#ff9700 90.5px,#f7e708 91.5px,#74ff8b 92.5px,#0083ff 93.5px,#0000df 94.5px,#004cff 95.5px,#2ef5d1 96.5px,#cffd30 97.5px,#ffbd00 98.5px,#ff7800 99.5px,#ff3000 101.5px,#f00 105.5px,#fd0000 108.5px,#ef0000 110.5px,#ef0000 113.5px,#f00 115.5px,#ff1c00 117.5px,#ff5c00 119.5px,#ff9b00 120.5px,#ebef14 121.5px,#52ffad 122.5px,#0089ff 123.5px,#0056ff 124.5px,#20e7df 125.5px,#c9fd36 126.5px,#ffa500 127.5px,#ff5800 128.5px,#f20 129.5px,#ff0400 130.5px,#d10000 133.5px,#bf0000 138.5px,#af0000 143.5px,#af0000 152.5px,#9f0000 156.5px,#a30000 173.5px,#af0000 176.5px,#d30000 179.5px,#eb0000 180.5px,#ff1800 181.5px,#ff6400 182.5px,#efe310 183.5px,#70ff8f 184.5px,#afff50 185.5px,#ffa900 186.5px,#ff4200 187.5px,#ff1000 188.5px,#e50000 190.5px,#cf0000 194.5px,#cf0000 204.5px,#bf0000 208.5px,#b90000 213.5px,#af0000 218.5px,#a70000 225.5px,#9b0000 246.5px,#8f0000 252.5px,#8f0000 352.5px,#9f0000 354.5px,#af0000 359.5px,#e30000 363.5px,#fb0400 364.5px,#ff5200 366.5px,#ff6400 367.5px,#ff5200 368.5px,#fd0600 370.5px,#cd0000 373.5px,#af0000 378.5px,#ab0000 382.5px,#9f0000 385.5px,#9d0000 402.5px,#8f0000 406.5px,#8f0000 518px)"></div><div style="top:45px;background:linear-gradient(90deg,#0000df 0px,#0000eb 4.5px,#0000d3 8.5px,#0000ef 10.5px,#0000eb 15.5px,#0000d3 18.5px,#0000ef 25.5px,#0000bf 32.5px,#0000cf 34.5px,#0000bf 35.5px,#0000c3 41.5px,#0000f7 43.5px,#0000eb 45.5px,#003eff 46.5px,#007cff 47.5px,#002eff 48.5px,#0000eb 49.5px,#0038ff 50.5px,#00a3ff 51.5px,#00c3ff 52.5px,#0078ff 53.5px,#0010fb 54.5px,#0008f7 55.5px,#00e9ff 57.5px,#08fbf7 58.5px,#0bf 59.5px,#0040ff 60.5px,#0000f3 61.5px,#0040ff 62.5px,#00cfff 63.5px,#2affd5 64.5px,#40ffbf 65.5px,#16fbe9 66.5px,#0093ff 67.5px,#0010fb 68.5px,#0018fb 69.5px,#00b7ff 70.5px,#5effa1 71.5px,#bdff42 72.5px,#ebff14 73.5px,#fdff02 74.5px,#d9ff26 75.5px,#7cff83 76.5px,#04bdfb 77.5px,#0012f7 78.5px,#04f 79.5px,#2ef3d1 80.5px,#d5fb2a 81.5px,#ffb100 82.5px,#ff7200 83.5px,#ff4000 85.5px,#ff4800 88.5px,#ff6000 89.5px,#ff9700 90.5px,#f7e708 91.5px,#78ff87 92.5px,#008fff 93.5px,#0000e3 94.5px,#003efd 95.5px,#20ebdf 96.5px,#c1ff3e 97.5px,#ffc900 98.5px,#ff8100 99.5px,#ff5200 100.5px,#ff1200 103.5px,#f00 108.5px,#ef0000 112.5px,#ff0200 115.5px,#ff3800 118.5px,#ff6000 119.5px,#ff9b00 120.5px,#efef10 121.5px,#58ffa7 122.5px,#008dff 123.5px,#04f 124.5px,#0ed5f1 125.5px,#afff50 126.5px,#ffb900 127.5px,#ff6200 128.5px,#ff0800 130.5px,#cf0000 134.5px,#bf0000 138.5px,#af0000 144.5px,#ad0000 153.5px,#9f0000 155.5px,#a70000 173.5px,#af0000 176.5px,#e70000 180.5px,#ff1000 181.5px,#ff5a00 182.5px,#f5d70a 183.5px,#80ff80 184.5px,#93ff6c 185.5px,#fdbf02 186.5px,#ff5200 187.5px,#ff1a00 188.5px,#f90000 189.5px,#df0000 191.5px,#cf0000 196.5px,#cd0000 205.5px,#bf0000 207.5px,#bf0000 213.5px,#af0000 217.5px,#a70000 226.5px,#970000 248.5px,#8f0000 352.5px,#9f0000 354.5px,#bf0000 361.5px,#f70200 364.5px,#ff1e00 365.5px,#ff4e00 366.5px,#ff6c00 367.5px,#ff5e00 368.5px,#ff1400 370.5px,#f50000 371.5px,#c50000 374.5px,#af0000 378.5px,#ab0000 383.5px,#9f0000 386.5px,#900 404.5px,#8f0000 409.5px,#8f0000 518px)"></div><div style="top:47px;background:linear-gradient(90deg,#0000df 0px,#0000eb 4.5px,#0000d3 8.5px,#0000ef 10.5px,#0000eb 15.5px,#0000d3 18.5px,#0000ef 25.5px,#0000bf 32.5px,#0000cf 34.5px,#0000bf 35.5px,#0000c3 41.5px,#0000f7 43.5px,#0000eb 45.5px,#003cff 46.5px,#007cff 47.5px,#0034ff 48.5px,#0000e7 49.5px,#0032ff 50.5px,#00a3ff 51.5px,#00c1ff 52.5px,#007cff 53.5px,#0010fb 54.5px,#0008f7 55.5px,#00e7ff 57.5px,#06fdf9 58.5px,#00bdff 59.5px,#0040ff 60.5px,#0000f3 61.5px,#0036ff 62.5px,#00cdff 63.5px,#28ffd7 64.5px,#40ffbf 65.5px,#18fbe7 66.5px,#0097ff 67.5px,#0012fb 68.5px,#0012fb 69.5px,#00a7ff 70.5px,#4effb1 71.5px,#b5ff4a 72.5px,#e3ff1c 73.5px,#f3ff0c 74.5px,#d7ff28 75.5px,#7eff81 76.5px,#08c3f7 77.5px,#0014f7 78.5px,#003aff 79.5px,#24ebdb 80.5px,#cbff34 81.5px,#ffbd00 82.5px,#ff7a00 83.5px,#ff4200 85.5px,#ff4800 88.5px,#ff6000 89.5px,#ff9700 90.5px,#fbe304 91.5px,#83ff7c 92.5px,#009fff 93.5px,#0004df 94.5px,#002ef9 95.5px,#18e1e7 96.5px,#afff50 97.5px,#ffd500 98.5px,#ff8700 99.5px,#ff3a00 101.5px,#ff1000 104.5px,#f00 109.5px,#f30000 112.5px,#ff0600 115.5px,#ff3c00 118.5px,#ff6000 119.5px,#ff9b00 120.5px,#efef10 121.5px,#64ff9b 122.5px,#0097ff 123.5px,#0036ff 124.5px,#06bdf9 125.5px,#8fff70 126.5px,#ffd100 127.5px,#ff7200 128.5px,#ff3600 129.5px,#ff1000 130.5px,#e50000 132.5px,#bf0000 137.5px,#b50000 141.5px,#af0000 153.5px,#9f0000 157.5px,#9f0000 172.5px,#af0000 176.5px,#e70000 180.5px,#ff0c00 181.5px,#ff4e00 182.5px,#fdc702 183.5px,#8dff72 184.5px,#76ff89 185.5px,#f5d90a 186.5px,#ff6200 187.5px,#f20 188.5px,#fd0400 189.5px,#df0000 191.5px,#cf0000 197.5px,#c90000 206.5px,#bf0000 211.5px,#bd0000 214.5px,#af0000 216.5px,#a70000 227.5px,#9d0000 249.5px,#8f0000 253.5px,#8f0000 352.5px,#9f0000 354.5px,#bf0000 361.5px,#f50000 364.5px,#ff1800 365.5px,#ff6800 367.5px,#ff6a00 368.5px,#fb0200 371.5px,#bf0000 375.5px,#af0000 381.5px,#9f0000 391.5px,#9d0000 405.5px,#8f0000 409.5px,#8f0000 518px)"></div><div style="top:49px;background:linear-gradient(90deg,#0000df 0px,#0000eb 4.5px,#0000d3 8.5px,#0000ef 10.5px,#0000eb 15.5px,#0000d3 18.5px,#0000ef 25.5px,#0000bf 32.5px,#0000cf 34.5px,#0000bf 35.5px,#0000bf 41.5px,#0000f7 43.5px,#0000eb 45.5px,#003cff 46.5px,#007cff 47.5px,#0034ff 48.5px,#0000eb 49.5px,#0030ff 50.5px,#00a3ff 51.5px,#00bdff 52.5px,#007cff 53.5px,#0010fb 54.5px,#0008f7 55.5px,#00e3ff 57.5px,#02fffd 58.5px,#00c7ff 59.5px,#004aff 60.5px,#0000f3 61.5px,#0032ff 62.5px,#00bfff 63.5px,#24ffdb 64.5px,#40ffbf 65.5px,#18fbe7 66.5px,#009bff 67.5px,#0018fb 68.5px,#0010f9 69.5px,#009dff 70.5px,#42ffbd 71.5px,#abff54 72.5px,#dbff24 73.5px,#efff10 74.5px,#d5ff2a 75.5px,#80ff80 76.5px,#08c9f7 77.5px,#0018f9 78.5px,#0030fd 79.5px,#1ae3e5 80.5px,#bfff40 81.5px,#ffc900 82.5px,#ff8300 83.5px,#ff5c00 84.5px,#ff4000 86.5px,#ff4c00 88.5px,#ff6800 89.5px,#ff9700 90.5px,#fbe104 91.5px,#8bff74 92.5px,#04abfb 93.5px,#0006e3 94.5px,#0020f7 95.5px,#0cd5f3 96.5px,#9bff64 97.5px,#fde102 98.5px,#ff9700 99.5px,#ff6000 100.5px,#ff2a00 102.5px,#ff1000 104.5px,#f00 112.5px,#ff0800 115.5px,#ff2400 117.5px,#ff6400 119.5px,#ff9b00 120.5px,#efef10 121.5px,#6aff95 122.5px,#00a3ff 123.5px,#002eff 124.5px,#00a3ff 125.5px,#70ff8f 126.5px,#f9e106 127.5px,#ff8000 128.5px,#ff4000 129.5px,#ff1800 130.5px,#fb0200 131.5px,#d10000 134.5px,#bf0000 139.5px,#bd0000 141.5px,#af0000 143.5px,#ad0000 154.5px,#9f0000 156.5px,#9f0000 172.5px,#af0000 176.5px,#e70000 180.5px,#ff0c00 181.5px,#ff4800 182.5px,#ffb700 183.5px,#9fff60 184.5px,#62ff9d 185.5px,#e7eb18 186.5px,#ff7a00 187.5px,#ff2e00 188.5px,#ff0800 189.5px,#df0000 192.5px,#cf0000 198.5px,#cf0000 206.5px,#bf0000 208.5px,#b90000 215.5px,#af0000 220.5px,#a70000 228.5px,#900 251.5px,#8f0000 261.5px,#8f0000 352.5px,#9f0000 354.5px,#bf0000 361.5px,#ef0000 364.5px,#ff1000 365.5px,#f60 367.5px,#ff7000 368.5px,#ff5c00 369.5px,#ff0c00 371.5px,#cf0000 374.5px,#af0000 380.5px,#ad0000 385.5px,#9f0000 388.5px,#9b0000 407.5px,#8f0000 413.5px,#8f0000 518px)"></div><div style="top:51px;background:linear-gradient(90deg,#0000df 0px,#0000eb 4.5px,#0000d3 8.5px,#0000ef 10.5px,#0000eb 15.5px,#0000d3 18.5px,#0000ef 25.5px,#0000bf 32.5px,#0000cf 34.5px,#0000bf 35.5px,#0000bf 41.5px,#0000f7 43.5px,#0000eb 45.5px,#003cff 46.5px,#0078ff 47.5px,#0036ff 48.5px,#0000eb 49.5px,#0030ff 50.5px,#00a1ff 51.5px,#0bf 52.5px,#007cff 53.5px,#0014fb 54.5px,#0004f7 55.5px,#00e3ff 57.5px,#0ff 58.5px,#00c7ff 59.5px,#0050ff 60.5px,#0000f3 61.5px,#002eff 62.5px,#00bdff 63.5px,#1cffe3 64.5px,#38ffc7 65.5px,#18fbe7 66.5px,#009dff 67.5px,#0018fb 68.5px,#000ef7 69.5px,#0093ff 70.5px,#38ffc7 71.5px,#a3ff5c 72.5px,#d3ff2c 73.5px,#edff12 74.5px,#d3ff2c 75.5px,#80ff80 76.5px,#08cdf7 77.5px,#001cfb 78.5px,#0028fb 79.5px,#12d9ed 80.5px,#afff50 81.5px,#ffd300 82.5px,#ff8900 83.5px,#ff6200 84.5px,#ff4200 86.5px,#ff4e00 88.5px,#ff6800 89.5px,#ff9700 90.5px,#fbdf04 91.5px,#93ff6c 92.5px,#08b9f7 93.5px,#000ae9 94.5px,#0018f1 95.5px,#06c3f9 96.5px,#89ff76 97.5px,#f9e906 98.5px,#f90 99.5px,#ff4600 101.5px,#ff1000 104.5px,#ff0e00 107.5px,#f00 109.5px,#f00 114.5px,#ff2800 117.5px,#ff6400 119.5px,#ff9b00 120.5px,#f3ef0c 121.5px,#74ff8b 122.5px,#00b1ff 123.5px,#0030ff 124.5px,#0085ff 125.5px,#50ffaf 126.5px,#edef12 127.5px,#ff9100 128.5px,#ff4c00 129.5px,#ff2000 130.5px,#ff0600 131.5px,#cf0000 135.5px,#bf0000 139.5px,#af0000 147.5px,#af0000 154.5px,#9f0000 158.5px,#9f0000 172.5px,#af0000 174.5px,#b10000 176.5px,#d30000 179.5px,#fb0800 181.5px,#ff3e00 182.5px,#ffa900 183.5px,#b1ff4e 184.5px,#54ffab 185.5px,#d1f92e 186.5px,#ff8d00 187.5px,#ff3a00 188.5px,#ff1000 189.5px,#eb0000 191.5px,#cf0000 196.5px,#c90000 207.5px,#bf0000 212.5px,#b50000 216.5px,#a70000 229.5px,#9f0000 252.5px,#8f0000 256.5px,#930000 352.5px,#bf0000 361.5px,#e90000 364.5px,#ff0a00 365.5px,#ff6000 367.5px,#ff7c00 368.5px,#ff6c00 369.5px,#ff1c00 371.5px,#f90200 372.5px,#c10000 376.5px,#af0000 382.5px,#a30000 387.5px,#9f0000 408.5px,#8f0000 412.5px,#8f0000 518px)"></div><div style="top:53px;background:linear-gradient(90deg,#0000df 0px,#0000eb 4.5px,#0000d3 8.5px,#0000ef 10.5px,#0000eb 15.5px,#0000d3 18.5px,#0000ef 25.5px,#0000bf 32.5px,#0000cf 34.5px,#0000bf 35.5px,#0000bf 41.5px,#0000f7 43.5px,#0000eb 45.5px,#0038ff 46.5px,#0078ff 47.5px,#0038ff 48.5px,#0000eb 49.5px,#0030ff 50.5px,#009fff 51.5px,#00bdff 52.5px,#007eff 53.5px,#0018fb 54.5px,#0004f7 55.5px,#0068ff 56.5px,#00dfff 57.5px,#0ff 58.5px,#00c9ff 59.5px,#0050ff 60.5px,#0000f3 61.5px,#0026ff 62.5px,#00afff 63.5px,#18ffe7 64.5px,#32ffcd 65.5px,#18fbe7 66.5px,#009fff 67.5px,#001cfb 68.5px,#0008f7 69.5px,#0087ff 70.5px,#30fbcf 71.5px,#95ff6a 72.5px,#cdff32 73.5px,#dfff20 74.5px,#d1ff2e 75.5px,#80ff80 76.5px,#0cd5f3 77.5px,#0024fb 78.5px,#001cfb 79.5px,#0acff5 80.5px,#9bff64 81.5px,#fddf02 82.5px,#ff9300 83.5px,#ff6800 84.5px,#ff4c00 86.5px,#ff5000 88.5px,#ff6800 89.5px,#ff9700 90.5px,#ffdf00 91.5px,#a1ff5e 92.5px,#0ac7f5 93.5px,#0012eb 94.5px,#0010ed 95.5px,#02b3fd 96.5px,#7aff85 97.5px,#f3f10c 98.5px,#ff6e00 100.5px,#ff3200 102.5px,#ff1000 105.5px,#f00 113.5px,#ff1800 116.5px,#ff4000 118.5px,#ff6400 119.5px,#ff9b00 120.5px,#f7ed08 121.5px,#7eff81 122.5px,#02bdfd 123.5px,#0030ff 124.5px,#006aff 125.5px,#36f9c9 126.5px,#ddf922 127.5px,#ffa500 128.5px,#ff5a00 129.5px,#ff0a00 131.5px,#cf0000 135.5px,#bf0000 141.5px,#af0000 146.5px,#af0000 155.5px,#9f0000 157.5px,#a30000 172.5px,#c30000 178.5px,#fb0400 181.5px,#ff3800 182.5px,#ff9700 183.5px,#c3fd3c 184.5px,#4cffb3 185.5px,#afff50 186.5px,#ffa900 187.5px,#ff4a00 188.5px,#ff1a00 189.5px,#fd0000 190.5px,#df0000 193.5px,#cf0000 199.5px,#cf0000 207.5px,#bf0000 211.5px,#bf0000 216.5px,#af0000 218.5px,#a90000 230.5px,#9f0000 235.5px,#9d0000 254.5px,#8f0000 258.5px,#930000 352.5px,#c50000 362.5px,#fb0400 365.5px,#ff7c00 368.5px,#ff7a00 369.5px,#ff0c00 372.5px,#cf0000 375.5px,#af0000 381.5px,#af0000 387.5px,#9f0000 391.5px,#9b0000 410.5px,#8f0000 416.5px,#8f0000 518px)"></div><div style="top:55px;background:linear-gradient(90deg,#0000df 0px,#0000ef 4.5px,#0000d3 8.5px,#0000ef 10.5px,#0000eb 15.5px,#0000d3 18.5px,#0000ef 25.5px,#0000bf 32.5px,#0000cf 34.5px,#0000bf 35.5px,#0000bf 41.5px,#0000f7 43.5px,#0000eb 45.5px,#0038ff 46.5px,#0078ff 47.5px,#0000ef 49.5px,#0030ff 50.5px,#009dff 51.5px,#00bfff 52.5px,#0087ff 53.5px,#0018fb 54.5px,#0004f3 55.5px,#0062ff 56.5px,#00d7ff 57.5px,#0ff 58.5px,#00cbff 59.5px,#0052ff 60.5px,#0004f3 61.5px,#0024fd 62.5px,#00adff 63.5px,#16fde9 64.5px,#30ffcf 65.5px,#18fbe7 66.5px,#00a9ff 67.5px,#0024fb 68.5px,#0008f7 69.5px,#007eff 70.5px,#24f9db 71.5px,#91ff6e 72.5px,#c5ff3a 73.5px,#df2 74.5px,#cfff30 75.5px,#80ff80 76.5px,#0cdbf3 77.5px,#002cfb 78.5px,#0016fb 79.5px,#06bff9 80.5px,#89ff76 81.5px,#f9e706 82.5px,#ff9b00 83.5px,#ff7000 84.5px,#ff5000 86.5px,#ff5400 88.5px,#ff6800 89.5px,#ff9700 90.5px,#ffdb00 91.5px,#a7ff58 92.5px,#0ed3f1 93.5px,#001aef 94.5px,#0008e9 95.5px,#009fff 96.5px,#62ff9d 97.5px,#ebf714 98.5px,#ffb100 99.5px,#ff7600 100.5px,#ff3600 102.5px,#ff1000 105.5px,#f00 113.5px,#ff2800 117.5px,#ff6400 119.5px,#f90 120.5px,#f7eb08 121.5px,#85ff7a 122.5px,#06c9f9 123.5px,#0032ff 124.5px,#0050ff 125.5px,#20ebdf 126.5px,#c3ff3c 127.5px,#fb0 128.5px,#ff6800 129.5px,#ff1400 131.5px,#f90000 132.5px,#d10000 135.5px,#bf0000 140.5px,#af0000 148.5px,#a90000 156.5px,#9f0000 161.5px,#a50000 172.5px,#c30000 178.5px,#fb0400 181.5px,#ff3400 182.5px,#ff8900 183.5px,#d5f72a 184.5px,#4cffb3 185.5px,#8bff74 186.5px,#fdc902 187.5px,#ff5c00 188.5px,#f20 189.5px,#ff0600 190.5px,#df0000 194.5px,#cf0000 200.5px,#cd0000 208.5px,#bf0000 210.5px,#bd0000 217.5px,#af0000 219.5px,#ab0000 231.5px,#9f0000 234.5px,#9b0000 256.5px,#8f0000 262.5px,#930000 352.5px,#c30000 362.5px,#f90200 365.5px,#ff1e00 366.5px,#ff7800 368.5px,#ff8900 369.5px,#ff7000 370.5px,#ff1c00 372.5px,#f90200 373.5px,#c30000 377.5px,#af0000 383.5px,#a70000 389.5px,#900 412.5px,#8f0000 417.5px,#8f0000 518px)"></div><div style="top:57px;background:linear-gradient(90deg,#0000df 0px,#0000ef 4.5px,#0000d3 8.5px,#0000ef 10.5px,#0000eb 15.5px,#0000d3 18.5px,#0000ef 25.5px,#0000bf 32.5px,#0000cf 34.5px,#0000bf 35.5px,#0000bf 41.5px,#0000f7 43.5px,#0000eb 45.5px,#0038ff 46.5px,#0078ff 47.5px,#0000ef 49.5px,#0026ff 50.5px,#0095ff 51.5px,#00bfff 52.5px,#0087ff 53.5px,#001cfb 54.5px,#0004f3 55.5px,#005eff 56.5px,#00d3ff 57.5px,#0ff 58.5px,#00cfff 59.5px,#005cff 60.5px,#0004f7 61.5px,#0022fb 62.5px,#00a1ff 63.5px,#0efbf1 64.5px,#30ffcf 65.5px,#14fbeb 66.5px,#00abff 67.5px,#0024ff 68.5px,#0004f7 69.5px,#0072ff 70.5px,#1cf7e3 71.5px,#83ff7c 72.5px,#bdff42 73.5px,#d9ff26 74.5px,#c7ff38 75.5px,#7eff81 76.5px,#0ee1f1 77.5px,#0032fd 78.5px,#0010f9 79.5px,#00afff 80.5px,#7aff85 81.5px,#f3f10c 82.5px,#ffa700 83.5px,#ff7a00 84.5px,#ff5200 86.5px,#ff5600 88.5px,#ff6800 89.5px,#ff9300 90.5px,#ffd900 91.5px,#b1ff4e 92.5px,#16dde9 93.5px,#0024f7 94.5px,#0004e5 95.5px,#0085ff 96.5px,#4effb1 97.5px,#dffb20 98.5px,#ffb900 99.5px,#ff7c00 100.5px,#ff3800 102.5px,#ff1000 105.5px,#ff0e00 108.5px,#f00 110.5px,#ff0800 114.5px,#ff2c00 117.5px,#ff6400 119.5px,#ff9700 120.5px,#f9eb06 121.5px,#8fff70 122.5px,#0ad5f5 123.5px,#0036ff 124.5px,#003cff 125.5px,#10d7ef 126.5px,#a7ff58 127.5px,#ffd100 128.5px,#ff7a00 129.5px,#ff4000 130.5px,#ff0200 132.5px,#cf0000 136.5px,#bf0000 141.5px,#af0000 149.5px,#af0000 156.5px,#9f0000 158.5px,#9f0000 171.5px,#c30000 178.5px,#fb0400 181.5px,#ff2800 182.5px,#ff7e00 183.5px,#e5ef1a 184.5px,#58ffa7 185.5px,#6f9 186.5px,#f3e10c 187.5px,#ff7200 188.5px,#ff2e00 189.5px,#ff0c00 190.5px,#df0000 193.5px,#df0000 196.5px,#cf0000 198.5px,#c90000 209.5px,#bf0000 214.5px,#b90000 218.5px,#af0000 223.5px,#ab0000 232.5px,#9f0000 238.5px,#970000 258.5px,#930000 352.5px,#af0000 359.5px,#cf0000 363.5px,#f50000 365.5px,#ff1600 366.5px,#ff7200 368.5px,#ff8f00 369.5px,#ff8300 370.5px,#ff0c00 373.5px,#d10000 376.5px,#bf0000 379.5px,#af0000 385.5px,#ab0000 390.5px,#9f0000 393.5px,#9d0000 413.5px,#8f0000 417.5px,#8f0000 518px)"></div><div style="top:59px;background:linear-gradient(90deg,#0000df 0px,#0000ef 4.5px,#0000d3 8.5px,#0000ef 10.5px,#0000eb 15.5px,#0000d3 18.5px,#0000ef 24.5px,#0000df 28.5px,#0000bf 32.5px,#0000cf 34.5px,#0000bf 35.5px,#0000bf 41.5px,#0000f7 43.5px,#0000eb 45.5px,#0034ff 46.5px,#0078ff 47.5px,#0000ef 49.5px,#0024ff 50.5px,#0093ff 51.5px,#00bfff 52.5px,#0089ff 53.5px,#001cfd 54.5px,#0000f3 55.5px,#0058ff 56.5px,#00d3ff 57.5px,#0ff 58.5px,#00d1ff 59.5px,#0060ff 60.5px,#0004f7 61.5px,#0018fb 62.5px,#009dff 63.5px,#0cf9f3 64.5px,#2cffd3 65.5px,#14fbeb 66.5px,#00afff 67.5px,#0024ff 68.5px,#0004f5 69.5px,#0068ff 70.5px,#18f1e7 71.5px,#7cff83 72.5px,#b5ff4a 73.5px,#cdff32 74.5px,#c3ff3c 75.5px,#83ff7c 76.5px,#12e3ed 77.5px,#003cff 78.5px,#000af7 79.5px,#009bff 80.5px,#64ff9b 81.5px,#ebf514 82.5px,#ffb300 83.5px,#ff8000 84.5px,#ff5a00 86.5px,#ff5000 87.5px,#ff6e00 89.5px,#ff9300 90.5px,#ffd300 91.5px,#bf4 92.5px,#1ee5e1 93.5px,#0032f9 94.5px,#0000df 95.5px,#0070ff 96.5px,#3cfbc3 97.5px,#d3ff2c 98.5px,#ffc700 99.5px,#ff8500 100.5px,#ff3e00 102.5px,#ff1200 105.5px,#ff1000 108.5px,#f00 112.5px,#ff1e00 116.5px,#ff4800 118.5px,#ff9700 120.5px,#fbe504 121.5px,#9f6 122.5px,#10dfef 123.5px,#04f 124.5px,#002aff 125.5px,#04bdfb 126.5px,#81ff7e 127.5px,#f9e306 128.5px,#ff8b00 129.5px,#ff4e00 130.5px,#ff0800 132.5px,#cf0000 136.5px,#bf0000 142.5px,#bf0000 144.5px,#af0000 146.5px,#ad0000 157.5px,#9f0000 159.5px,#9f0000 171.5px,#cf0000 179.5px,#f70200 181.5px,#ff2800 182.5px,#ff7000 183.5px,#efe310 184.5px,#68ff97 185.5px,#46ffb9 186.5px,#dff320 187.5px,#ff8b00 188.5px,#ff3c00 189.5px,#ff1400 190.5px,#fb0000 191.5px,#df0000 195.5px,#cf0000 203.5px,#cf0000 209.5px,#bf0000 211.5px,#bf0000 218.5px,#af0000 222.5px,#ad0000 233.5px,#9f0000 237.5px,#9d0000 259.5px,#8f0000 263.5px,#930000 352.5px,#af0000 359.5px,#cd0000 363.5px,#ed0000 365.5px,#ff0e00 366.5px,#ff8b00 369.5px,#ff8f00 370.5px,#ff1c00 373.5px,#f90200 374.5px,#c70000 378.5px,#bf0000 381.5px,#af0000 383.5px,#ad0000 391.5px,#9f0000 394.5px,#900 415.5px,#8f0000 425.5px,#8f0000 518px)"></div><div style="top:61px;background:linear-gradient(90deg,#0000df 0px,#0000ef 4.5px,#0000d3 8.5px,#0000ef 10.5px,#0000eb 15.5px,#0000d3 18.5px,#0000ef 23.5px,#0000ef 26.5px,#0000bf 32.5px,#0000cf 34.5px,#0000bf 35.5px,#0000bf 41.5px,#0000f7 43.5px,#0000eb 45.5px,#0034ff 46.5px,#0078ff 47.5px,#0000ef 49.5px,#0024ff 50.5px,#0093ff 51.5px,#00bfff 52.5px,#008bff 53.5px,#02f 54.5px,#0000f3 55.5px,#0052ff 56.5px,#00cdff 57.5px,#0ff 58.5px,#00d3ff 59.5px,#0060ff 60.5px,#0004f7 61.5px,#0018fb 62.5px,#0093ff 63.5px,#0af5f5 64.5px,#24ffdb 65.5px,#14fbeb 66.5px,#00afff 67.5px,#002cff 68.5px,#0002f3 69.5px,#005cff 70.5px,#10e9ef 71.5px,#72ff8d 72.5px,#afff50 73.5px,#c9ff36 74.5px,#c1ff3e 75.5px,#83ff7c 76.5px,#14ebeb 77.5px,#04f 78.5px,#0006f7 79.5px,#008bff 80.5px,#4effb1 81.5px,#e1fb1e 82.5px,#ffbd00 83.5px,#ff8900 84.5px,#ff6a00 85.5px,#ff5800 87.5px,#ff7000 89.5px,#ff8f00 90.5px,#ffcf00 91.5px,#c1ff3e 92.5px,#24f1db 93.5px,#003efb 94.5px,#0000db 95.5px,#005cff 96.5px,#2af5d5 97.5px,#bfff40 98.5px,#ffd300 99.5px,#ff8d00 100.5px,#ff6000 101.5px,#ff2000 104.5px,#f00 112.5px,#ff2000 116.5px,#ff4800 118.5px,#ff9700 120.5px,#fbe304 121.5px,#a3ff5c 122.5px,#16e7e9 123.5px,#0050ff 124.5px,#001eff 125.5px,#009fff 126.5px,#60ff9f 127.5px,#ebf314 128.5px,#ff9f00 129.5px,#ff5a00 130.5px,#ff1000 132.5px,#e90000 134.5px,#bf0000 140.5px,#bd0000 145.5px,#af0000 147.5px,#a70000 158.5px,#9f0000 171.5px,#af0000 173.5px,#c30000 178.5px,#f70000 181.5px,#ff1e00 182.5px,#ff6400 183.5px,#f9d706 184.5px,#78ff87 185.5px,#36ffc9 186.5px,#bffd40 187.5px,#ffa700 188.5px,#ff4c00 189.5px,#ff1c00 190.5px,#ff0400 191.5px,#df0000 195.5px,#d00 198.5px,#cf0000 201.5px,#cd0000 210.5px,#bf0000 212.5px,#bf0000 219.5px,#af0000 223.5px,#af0000 234.5px,#9f0000 238.5px,#9b0000 261.5px,#8f0000 267.5px,#930000 352.5px,#af0000 359.5px,#d70000 364.5px,#fd0600 366.5px,#ff8900 369.5px,#ff9d00 370.5px,#ff8300 371.5px,#ff0c00 374.5px,#d50000 377.5px,#bf0000 380.5px,#af0000 388.5px,#a50000 393.5px,#9f0000 416.5px,#8f0000 420.5px,#8f0000 518px)"></div><div style="top:63px;background:linear-gradient(90deg,#0000df 0px,#0000ef 4.5px,#0000d3 8.5px,#0000ef 10.5px,#0000eb 15.5px,#0000d3 18.5px,#0000ef 23.5px,#0000ef 26.5px,#0000bf 32.5px,#0000cf 34.5px,#0000bf 35.5px,#0000bf 41.5px,#0000f7 43.5px,#0000e5 45.5px,#0034ff 46.5px,#0078ff 47.5px,#0000ef 49.5px,#0024ff 50.5px,#0093ff 51.5px,#00bfff 52.5px,#008fff 53.5px,#0024ff 54.5px,#0000f3 55.5px,#0050ff 56.5px,#00c9ff 57.5px,#00fdff 58.5px,#00d3ff 59.5px,#0060ff 60.5px,#0006f7 61.5px,#0012fb 62.5px,#008dff 63.5px,#04f3fb 64.5px,#20ffdf 65.5px,#10fbef 66.5px,#00afff 67.5px,#0030ff 68.5px,#0000f3 69.5px,#0054ff 70.5px,#0ae5f5 71.5px,#6f9 72.5px,#a5ff5a 73.5px,#bfff40 74.5px,#bdff42 75.5px,#83ff7c 76.5px,#18ebe7 77.5px,#004cff 78.5px,#0004f5 79.5px,#0078ff 80.5px,#40fdbf 81.5px,#d5ff2a 82.5px,#ffc900 83.5px,#ff9100 84.5px,#ff6200 86.5px,#ff6000 88.5px,#ff8f00 90.5px,#ffcd00 91.5px,#cdff32 92.5px,#30f5cf 93.5px,#004eff 94.5px,#0000d9 95.5px,#0042ff 96.5px,#1cebe3 97.5px,#adff52 98.5px,#fddd02 99.5px,#ff9700 100.5px,#ff4800 102.5px,#f20 104.5px,#ff1000 107.5px,#f00 112.5px,#ff2000 116.5px,#ff4800 118.5px,#ff9700 120.5px,#fde102 121.5px,#adff52 122.5px,#1eefe1 123.5px,#005eff 124.5px,#0012ff 125.5px,#0081ff 126.5px,#3efdc1 127.5px,#d5fd2a 128.5px,#ffb500 129.5px,#ff6a00 130.5px,#ff1800 132.5px,#ff0200 133.5px,#cf0000 137.5px,#bf0000 143.5px,#af0000 151.5px,#af0000 158.5px,#9f0000 162.5px,#a30000 171.5px,#af0000 174.5px,#cf0000 179.5px,#f70000 181.5px,#ff1c00 182.5px,#ff5a00 183.5px,#ffc900 184.5px,#91ff6e 185.5px,#28ffd7 186.5px,#9f6 187.5px,#ffc700 188.5px,#ff6000 189.5px,#ff2800 190.5px,#ff0a00 191.5px,#df0000 195.5px,#d00 199.5px,#cf0000 202.5px,#cf0000 210.5px,#bf0000 214.5px,#bd0000 220.5px,#af0000 223.5px,#a70000 236.5px,#900 263.5px,#8f0000 273.5px,#930000 352.5px,#af0000 359.5px,#d30000 364.5px,#f90200 366.5px,#ff2000 367.5px,#ff8100 369.5px,#ff9f00 370.5px,#ff9700 371.5px,#ff1c00 374.5px,#fd0200 375.5px,#cf0000 378.5px,#af0000 386.5px,#a90000 394.5px,#9f0000 399.5px,#9b0000 418.5px,#8f0000 424.5px,#8f0000 518px)"></div><div style="top:65px;background:linear-gradient(90deg,#0000df 0px,#0000ef 4.5px,#0000d3 8.5px,#0000ef 10.5px,#0000eb 15.5px,#0000d3 18.5px,#0000ef 23.5px,#0000ef 26.5px,#0000bf 32.5px,#0000cf 34.5px,#0000bf 35.5px,#0000bf 41.5px,#0000f7 43.5px,#0000e3 45.5px,#0032ff 46.5px,#0078ff 47.5px,#0000ef 49.5px,#0024ff 50.5px,#008fff 51.5px,#00bfff 52.5px,#008fff 53.5px,#0024ff 54.5px,#0000f3 55.5px,#0046ff 56.5px,#00c5ff 57.5px,#00fbff 58.5px,#00d3ff 59.5px,#0008f7 61.5px,#0010fb 62.5px,#04effb 64.5px,#1effe1 65.5px,#10fbef 66.5px,#00b1ff 67.5px,#0032ff 68.5px,#0000f3 69.5px,#004cff 70.5px,#06ddf9 71.5px,#5cffa3 72.5px,#9fff60 73.5px,#b9ff46 74.5px,#b9ff46 75.5px,#83ff7c 76.5px,#18f1e7 77.5px,#005aff 78.5px,#0000f7 79.5px,#0064ff 80.5px,#2ef7d1 81.5px,#c3ff3c 82.5px,#ffd900 83.5px,#ff9b00 84.5px,#ff7800 85.5px,#ff6000 88.5px,#ff8f00 90.5px,#ffc900 91.5px,#d1ff2e 92.5px,#3cf9c3 93.5px,#0064ff 94.5px,#0000db 95.5px,#0036fb 96.5px,#10dfef 97.5px,#9f6 98.5px,#f9e906 99.5px,#ffa100 100.5px,#ff6e00 101.5px,#ff2600 104.5px,#ff1000 108.5px,#ff1000 114.5px,#ff3400 117.5px,#ff6c00 119.5px,#ff9700 120.5px,#ffdf00 121.5px,#b3ff4c 122.5px,#26f5d9 123.5px,#006cff 124.5px,#000aff 125.5px,#005cff 126.5px,#20efdf 127.5px,#b9ff46 128.5px,#ffcd00 129.5px,#ff7a00 130.5px,#f20 132.5px,#ff0800 133.5px,#cf0000 138.5px,#bf0000 142.5px,#b50000 147.5px,#ad0000 159.5px,#9f0000 162.5px,#a50000 171.5px,#c30000 178.5px,#f50000 181.5px,#ff1800 182.5px,#ff4e00 183.5px,#ffb500 184.5px,#abff54 185.5px,#28ffd7 186.5px,#6eff91 187.5px,#f7e108 188.5px,#ff7400 189.5px,#ff3400 190.5px,#fd0000 192.5px,#df0000 196.5px,#d00 200.5px,#cf0000 203.5px,#cf0000 211.5px,#bf0000 213.5px,#b00 221.5px,#af0000 224.5px,#ab0000 237.5px,#9f0000 240.5px,#900 265.5px,#8f0000 270.5px,#970000 352.5px,#af0000 359.5px,#cf0000 364.5px,#f50000 366.5px,#ff1400 367.5px,#ff9f00 370.5px,#ffa700 371.5px,#ff0c00 375.5px,#d70000 378.5px,#bf0000 382.5px,#af0000 388.5px,#ab0000 395.5px,#9f0000 401.5px,#900 420.5px,#8f0000 425.5px,#8f0000 518px)"></div><div style="top:67px;background:linear-gradient(90deg,#0000df 0px,#0000ef 4.5px,#0000d3 8.5px,#0000ef 10.5px,#0000eb 15.5px,#0000d3 18.5px,#0000ef 23.5px,#0000ef 26.5px,#0000bf 32.5px,#0000cf 34.5px,#0000bf 35.5px,#0000bf 41.5px,#0000f7 43.5px,#0000e3 45.5px,#0030ff 46.5px,#0078ff 47.5px,#0000ef 49.5px,#0024fb 50.5px,#008dff 51.5px,#00bfff 52.5px,#0093ff 53.5px,#0028ff 54.5px,#0000f3 55.5px,#0042ff 56.5px,#00bdff 57.5px,#00fbff 58.5px,#00d7ff 59.5px,#0008f7 61.5px,#0010f9 62.5px,#02ebfd 64.5px,#1cffe3 65.5px,#0cfbf3 66.5px,#00b9ff 67.5px,#0036ff 68.5px,#0000f3 69.5px,#0042ff 70.5px,#04d5fb 71.5px,#52ffad 72.5px,#93ff6c 73.5px,#b3ff4c 74.5px,#b5ff4a 75.5px,#83ff7c 76.5px,#18f5e7 77.5px,#0064ff 78.5px,#0000f7 79.5px,#0056ff 80.5px,#20efdf 81.5px,#b3ff4c 82.5px,#ffe300 83.5px,#ffa300 84.5px,#ff7000 86.5px,#f60 88.5px,#ff8f00 90.5px,#ffc700 91.5px,#dbff24 92.5px,#46ffb9 93.5px,#0076ff 94.5px,#00d 95.5px,#0022f9 96.5px,#08cbf7 97.5px,#83ff7c 98.5px,#f3f10c 99.5px,#ffa900 100.5px,#ff5200 102.5px,#ff2000 105.5px,#ff1000 109.5px,#ff1000 114.5px,#ff4800 118.5px,#ff9700 120.5px,#ffdb00 121.5px,#bfff40 122.5px,#30f9cf 123.5px,#007eff 124.5px,#000cff 125.5px,#003eff 126.5px,#10dfef 127.5px,#97ff68 128.5px,#fde102 129.5px,#ff8d00 130.5px,#ff5400 131.5px,#ff1000 133.5px,#ed0000 135.5px,#bf0000 141.5px,#bf0000 147.5px,#af0000 151.5px,#ad0000 160.5px,#9f0000 163.5px,#9f0000 170.5px,#af0000 174.5px,#cf0000 179.5px,#f30000 181.5px,#ff1200 182.5px,#ff4800 183.5px,#ffa100 184.5px,#c3fd3c 185.5px,#2cffd3 186.5px,#4affb5 187.5px,#e3f31c 188.5px,#ff8b00 189.5px,#ff4200 190.5px,#ff0400 192.5px,#df0000 196.5px,#df0000 201.5px,#cf0000 205.5px,#cb0000 212.5px,#bf0000 215.5px,#b00 222.5px,#af0000 225.5px,#ad0000 238.5px,#9f0000 242.5px,#9f0000 266.5px,#8f0000 270.5px,#970000 352.5px,#af0000 359.5px,#cf0000 364.5px,#ff0c00 367.5px,#ff9700 370.5px,#ffaf00 371.5px,#ff9b00 372.5px,#ff1c00 375.5px,#fd0200 376.5px,#d10000 379.5px,#af0000 388.5px,#af0000 396.5px,#9f0000 400.5px,#9d0000 421.5px,#8f0000 425.5px,#8f0000 518px)"></div><div style="top:69px;background:linear-gradient(90deg,#0000df 0px,#0000ef 4.5px,#0000d3 8.5px,#0000ef 10.5px,#0000eb 15.5px,#0000d3 18.5px,#0000ef 23.5px,#0000ef 26.5px,#0000bf 32.5px,#0000cf 34.5px,#0000bf 35.5px,#0000bf 41.5px,#0000f7 43.5px,#0000e3 45.5px,#002cff 46.5px,#0078ff 47.5px,#0000ef 49.5px,#001efb 50.5px,#008bff 51.5px,#00bfff 52.5px,#0093ff 53.5px,#002aff 54.5px,#0000ef 55.5px,#0040ff 56.5px,#0bf 57.5px,#00fbff 58.5px,#00d7ff 59.5px,#000cf7 61.5px,#000af7 62.5px,#00e5ff 64.5px,#16ffe9 65.5px,#0afbf5 66.5px,#0bf 67.5px,#0040ff 68.5px,#0000f5 69.5px,#003cff 70.5px,#00cbff 71.5px,#4affb5 72.5px,#8fff70 73.5px,#a9ff56 74.5px,#adff52 75.5px,#83ff7c 76.5px,#20f7df 77.5px,#006eff 78.5px,#0004f5 79.5px,#0048ff 80.5px,#16e7e9 81.5px,#9dff62 82.5px,#fbeb04 83.5px,#ffad00 84.5px,#ff8700 85.5px,#ff7000 87.5px,#ff7800 89.5px,#ff9100 90.5px,#ffc700 91.5px,#ddfb22 92.5px,#54ffab 93.5px,#008bff 94.5px,#0002e1 95.5px,#0018f5 96.5px,#02bdfd 97.5px,#70ff8f 98.5px,#ebf914 99.5px,#ffb700 100.5px,#ff7e00 101.5px,#ff4000 103.5px,#ff2000 105.5px,#ff1000 110.5px,#ff1000 114.5px,#ff4800 118.5px,#ff9700 120.5px,#ffd900 121.5px,#c3ff3c 122.5px,#3cffc3 123.5px,#008fff 124.5px,#0010ff 125.5px,#002aff 126.5px,#02bffd 127.5px,#76ff89 128.5px,#f3f10c 129.5px,#ff6200 131.5px,#ff1600 133.5px,#ff0200 134.5px,#cf0000 138.5px,#cd0000 140.5px,#bf0000 142.5px,#bf0000 148.5px,#af0000 152.5px,#ad0000 161.5px,#9f0000 164.5px,#9f0000 170.5px,#af0000 174.5px,#cf0000 179.5px,#f30000 181.5px,#ff1000 182.5px,#ff4000 183.5px,#ff9300 184.5px,#d5f72a 185.5px,#42ffbd 186.5px,#24ffdb 187.5px,#c5fd3a 188.5px,#ffa900 189.5px,#ff5200 190.5px,#ff2400 191.5px,#f90000 193.5px,#df0000 197.5px,#df0000 202.5px,#cf0000 206.5px,#cf0000 212.5px,#bf0000 216.5px,#b70000 223.5px,#af0000 239.5px,#9f0000 243.5px,#9d0000 268.5px,#8f0000 272.5px,#970000 352.5px,#af0000 359.5px,#cd0000 364.5px,#fd0600 367.5px,#ff5600 369.5px,#ff8b00 370.5px,#ffaf00 371.5px,#ffaf00 372.5px,#ff2c00 375.5px,#f50000 377.5px,#c10000 382.5px,#b70000 386.5px,#a90000 398.5px,#9f0000 403.5px,#900 423.5px,#8f0000 433.5px,#8f0000 518px)"></div><div style="top:71px;background:linear-gradient(90deg,#0000df 0px,#0000ef 4.5px,#0000d3 8.5px,#0000ef 10.5px,#0000eb 15.5px,#0000d3 18.5px,#0000ef 23.5px,#0000ef 26.5px,#0000bf 32.5px,#0000cf 34.5px,#0000bf 35.5px,#0000bf 41.5px,#0000f7 43.5px,#0000e3 45.5px,#002cff 46.5px,#007cff 47.5px,#0048ff 48.5px,#0000ef 49.5px,#001cfb 50.5px,#0087ff 51.5px,#00bfff 52.5px,#0093ff 53.5px,#002eff 54.5px,#0000ef 55.5px,#003aff 56.5px,#00b9ff 57.5px,#00fbff 58.5px,#00d7ff 59.5px,#000efb 61.5px,#0008f7 62.5px,#00e1ff 64.5px,#10ffef 65.5px,#08fbf7 66.5px,#0bf 67.5px,#0040ff 68.5px,#0000f3 69.5px,#0030ff 70.5px,#00bfff 71.5px,#3effc1 72.5px,#83ff7c 73.5px,#a5ff5a 74.5px,#abff54 75.5px,#83ff7c 76.5px,#24f7db 77.5px,#007aff 78.5px,#0004f7 79.5px,#0036ff 80.5px,#0adbf5 81.5px,#8dff72 82.5px,#f5f30a 83.5px,#ff8f00 85.5px,#ff7000 87.5px,#ff7800 89.5px,#ff9500 90.5px,#ffc700 91.5px,#e5fb1a 92.5px,#62ff9d 93.5px,#009fff 94.5px,#0008e9 95.5px,#000eed 96.5px,#009fff 97.5px,#5affa5 98.5px,#dffd20 99.5px,#ffc300 100.5px,#ff8500 101.5px,#ff4600 103.5px,#ff2400 105.5px,#ff1000 110.5px,#ff1000 114.5px,#ff4c00 118.5px,#ff9700 120.5px,#ffd700 121.5px,#cbff34 122.5px,#4affb5 123.5px,#009fff 124.5px,#0018ff 125.5px,#0016fd 126.5px,#009fff 127.5px,#4effb1 128.5px,#e1fd1e 129.5px,#ffb500 130.5px,#ff7200 131.5px,#ff2000 133.5px,#f50000 135.5px,#cf0000 139.5px,#bf0000 145.5px,#bf0000 149.5px,#af0000 153.5px,#ad0000 162.5px,#9f0000 166.5px,#9f0000 170.5px,#af0000 172.5px,#af0000 175.5px,#bf0000 177.5px,#ed0000 181.5px,#ff0a00 182.5px,#ff3800 183.5px,#ff8300 184.5px,#e7ed18 185.5px,#52ffad 186.5px,#10fdef 187.5px,#9bff64 188.5px,#ffc700 189.5px,#ff6400 190.5px,#ff2e00 191.5px,#f00 193.5px,#df0000 197.5px,#d90000 204.5px,#cf0000 209.5px,#cf0000 213.5px,#bf0000 215.5px,#b70000 224.5px,#ab0000 241.5px,#9f0000 244.5px,#9b0000 270.5px,#8f0000 276.5px,#970000 352.5px,#af0000 359.5px,#af0000 361.5px,#e50000 366.5px,#f90200 367.5px,#ff1c00 368.5px,#ffad00 371.5px,#ffbd00 372.5px,#ffa100 373.5px,#ff1c00 376.5px,#f10000 378.5px,#bf0000 383.5px,#b70000 387.5px,#ad0000 399.5px,#9f0000 403.5px,#9f0000 424.5px,#8f0000 428.5px,#8f0000 518px)"></div><div style="top:73px;background:linear-gradient(90deg,#0000df 0px,#0000ef 4.5px,#0000d3 8.5px,#0000ef 10.5px,#0000e3 16.5px,#0000d3 18.5px,#0000ef 23.5px,#0000ef 26.5px,#0000bf 32.5px,#0000cf 34.5px,#0000bf 35.5px,#0000bf 41.5px,#0000f7 43.5px,#0000e3 45.5px,#0028ff 46.5px,#007cff 47.5px,#0048ff 48.5px,#0000ef 49.5px,#001afb 50.5px,#0087ff 51.5px,#00bdff 52.5px,#0095ff 53.5px,#0034ff 54.5px,#0000ef 55.5px,#0030ff 56.5px,#00b3ff 57.5px,#00f7ff 58.5px,#00d9ff 59.5px,#0010fb 61.5px,#0008f7 62.5px,#00d9ff 64.5px,#0cfff3 65.5px,#08fbf7 66.5px,#0bf 67.5px,#0040ff 68.5px,#0000f3 69.5px,#002aff 70.5px,#00b5ff 71.5px,#34ffcb 72.5px,#7cff83 73.5px,#9bff64 74.5px,#a5ff5a 75.5px,#80ff80 76.5px,#24fbdb 77.5px,#0081ff 78.5px,#0008f7 79.5px,#002aff 80.5px,#06c9f9 81.5px,#7aff85 82.5px,#edfb12 83.5px,#ffc300 84.5px,#ff9700 85.5px,#ff7600 87.5px,#ff7000 88.5px,#ff9700 90.5px,#ffc700 91.5px,#e9fb16 92.5px,#6eff91 93.5px,#00b3ff 94.5px,#000eeb 95.5px,#0006e9 96.5px,#008bff 97.5px,#40ffbf 98.5px,#cdff32 99.5px,#ffcf00 100.5px,#ff8f00 101.5px,#ff4800 103.5px,#ff2000 106.5px,#ff1000 113.5px,#ff3800 117.5px,#ff6c00 119.5px,#ff9700 120.5px,#ffd500 121.5px,#d5ff2a 122.5px,#56ffa9 123.5px,#00b3ff 124.5px,#02f 125.5px,#0008f9 126.5px,#0078ff 127.5px,#30f9cf 128.5px,#c3ff3c 129.5px,#ffd100 130.5px,#ff8000 131.5px,#ff2c00 133.5px,#fb0000 135.5px,#cf0000 139.5px,#cf0000 141.5px,#bf0000 143.5px,#bf0000 150.5px,#af0000 152.5px,#a90000 164.5px,#9f0000 169.5px,#af0000 173.5px,#af0000 175.5px,#eb0000 181.5px,#ff0800 182.5px,#ff3200 183.5px,#ff7600 184.5px,#f5e10a 185.5px,#6cff93 186.5px,#06fbf9 187.5px,#6cff93 188.5px,#f7e108 189.5px,#ff7c00 190.5px,#ff3e00 191.5px,#ff1800 192.5px,#f50000 194.5px,#df0000 198.5px,#db0000 205.5px,#cf0000 211.5px,#cd0000 214.5px,#bf0000 216.5px,#bf0000 224.5px,#af0000 228.5px,#ad0000 242.5px,#9f0000 246.5px,#900 272.5px,#8f0000 282.5px,#970000 352.5px,#af0000 359.5px,#af0000 361.5px,#e10000 366.5px,#f50000 367.5px,#ff1200 368.5px,#ff6c00 370.5px,#ffa100 371.5px,#ffbf00 372.5px,#ffb700 373.5px,#ff3200 376.5px,#f90000 378.5px,#d10000 381.5px,#bf0000 386.5px,#af0000 392.5px,#af0000 400.5px,#9f0000 404.5px,#9b0000 426.5px,#8f0000 432.5px,#8f0000 518px)"></div><div style="top:75px;background:linear-gradient(90deg,#0000df 0px,#0000ef 4.5px,#0000d3 8.5px,#0000ef 10.5px,#0000e3 16.5px,#0000d3 18.5px,#0000ef 23.5px,#0000e7 27.5px,#0000bf 32.5px,#0000cf 34.5px,#0000bf 35.5px,#0000bf 41.5px,#0000f7 43.5px,#0000e3 45.5px,#0028ff 46.5px,#007cff 47.5px,#0048ff 48.5px,#0000ed 49.5px,#0018fb 50.5px,#0083ff 51.5px,#0bf 52.5px,#0097ff 53.5px,#0034ff 54.5px,#0000f1 55.5px,#0030ff 56.5px,#00abff 57.5px,#00f5ff 58.5px,#0df 59.5px,#0080ff 60.5px,#0010fb 61.5px,#0004f7 62.5px,#0060ff 63.5px,#00d3ff 64.5px,#0afff5 65.5px,#08fbf7 66.5px,#0bf 67.5px,#0048ff 68.5px,#0000f3 69.5px,#0024ff 70.5px,#00a9ff 71.5px,#2affd5 72.5px,#76ff89 73.5px,#95ff6a 74.5px,#9fff60 75.5px,#7eff81 76.5px,#24fbdb 77.5px,#008dff 78.5px,#000cf7 79.5px,#0020fb 80.5px,#00bdff 81.5px,#6f9 82.5px,#dffd20 83.5px,#ffcf00 84.5px,#ff9f00 85.5px,#ff7e00 87.5px,#ff8000 89.5px,#ff9700 90.5px,#ffc500 91.5px,#edfb12 92.5px,#7aff85 93.5px,#04c1fb 94.5px,#0018f1 95.5px,#0002e3 96.5px,#0072ff 97.5px,#30f9cf 98.5px,#bf4 99.5px,#fd0 100.5px,#f90 101.5px,#ff4e00 103.5px,#ff2000 106.5px,#ff1000 113.5px,#ff3800 117.5px,#ff6c00 119.5px,#ffcd00 121.5px,#d9ff26 122.5px,#5effa1 123.5px,#00c3ff 124.5px,#002cff 125.5px,#0002f5 126.5px,#005cff 127.5px,#18e9e7 128.5px,#a1ff5e 129.5px,#fde502 130.5px,#ff9500 131.5px,#ff5c00 132.5px,#ff1800 134.5px,#ff0200 135.5px,#cf0000 140.5px,#bf0000 146.5px,#b50000 151.5px,#a90000 168.5px,#b10000 175.5px,#db0000 180.5px,#ff0600 182.5px,#ff2c00 183.5px,#ff6a00 184.5px,#fdd302 185.5px,#87ff78 186.5px,#0ef9f1 187.5px,#42ffbd 188.5px,#e1f31e 189.5px,#ff9300 190.5px,#ff4c00 191.5px,#ff0a00 193.5px,#df0000 198.5px,#d00 206.5px,#cf0000 210.5px,#c70000 215.5px,#bf0000 225.5px,#af0000 229.5px,#a90000 244.5px,#9f0000 249.5px,#900 274.5px,#8f0000 279.5px,#970000 352.5px,#af0000 359.5px,#c30000 364.5px,#ff0800 368.5px,#ff5c00 370.5px,#ffbf00 372.5px,#ffc900 373.5px,#ff7600 375.5px,#ff2400 377.5px,#ff0600 378.5px,#cf0000 382.5px,#af0000 392.5px,#ab0000 402.5px,#9f0000 408.5px,#970000 429.5px,#8f0000 518px)"></div><div style="top:77px;background:linear-gradient(90deg,#0000df 0px,#0000ed 4.5px,#0000d3 8.5px,#0000ef 10.5px,#0000e3 16.5px,#0000d3 18.5px,#0000ef 23.5px,#0000e7 27.5px,#0000bf 32.5px,#0000cf 34.5px,#0000bf 35.5px,#0000bf 41.5px,#0000f3 43.5px,#0000e3 45.5px,#0028ff 46.5px,#0078ff 47.5px,#0048ff 48.5px,#0002eb 49.5px,#0018fb 50.5px,#0080ff 51.5px,#0bf 52.5px,#09f 53.5px,#0036ff 54.5px,#0000f3 55.5px,#0030ff 56.5px,#00abff 57.5px,#00f3ff 58.5px,#00dfff 59.5px,#0010fb 61.5px,#0004f7 62.5px,#0060ff 63.5px,#00cfff 64.5px,#06fff9 65.5px,#06fbf9 66.5px,#00bfff 67.5px,#0050ff 68.5px,#0000f3 69.5px,#0020ff 70.5px,#009fff 71.5px,#20fbdf 72.5px,#6cff93 73.5px,#8fff70 74.5px,#9dff62 75.5px,#78ff87 76.5px,#28fdd7 77.5px,#0095ff 78.5px,#0010f9 79.5px,#0018fb 80.5px,#00a7ff 81.5px,#52ffad 82.5px,#d1ff2e 83.5px,#ffd700 84.5px,#ffa900 85.5px,#ff8100 87.5px,#ff8100 89.5px,#ff9700 90.5px,#ffbf00 91.5px,#eff910 92.5px,#85ff7a 93.5px,#08d1f7 94.5px,#0020f7 95.5px,#00d 96.5px,#0058ff 97.5px,#1eefe1 98.5px,#a7ff58 99.5px,#fbe904 100.5px,#ffa500 101.5px,#ff7400 102.5px,#ff3e00 104.5px,#ff2000 107.5px,#ff1e00 109.5px,#ff1000 111.5px,#ff1000 113.5px,#ff3c00 117.5px,#ff6c00 119.5px,#ffc900 121.5px,#dfff20 122.5px,#6eff91 123.5px,#04cffb 124.5px,#003cff 125.5px,#0000f3 126.5px,#0038ff 127.5px,#06d3f9 128.5px,#7eff81 129.5px,#eff310 130.5px,#ff6c00 132.5px,#f20 134.5px,#f90000 136.5px,#cf0000 140.5px,#cf0000 142.5px,#bf0000 144.5px,#bd0000 151.5px,#af0000 153.5px,#b30000 175.5px,#db0000 180.5px,#fd0400 182.5px,#ff2600 183.5px,#ff5e00 184.5px,#ffc100 185.5px,#a7ff58 186.5px,#14fbeb 187.5px,#20f9df 188.5px,#bffd40 189.5px,#ffaf00 190.5px,#ff6000 191.5px,#ff2e00 192.5px,#f00 194.5px,#df0000 199.5px,#d70000 208.5px,#cf0000 215.5px,#bf0000 219.5px,#bf0000 226.5px,#af0000 230.5px,#ad0000 245.5px,#9f0000 249.5px,#970000 276.5px,#970000 352.5px,#af0000 359.5px,#bf0000 364.5px,#fd0400 368.5px,#ff4c00 370.5px,#ffb500 372.5px,#ffcf00 373.5px,#ffbf00 374.5px,#ff3600 377.5px,#fd0200 379.5px,#cf0000 383.5px,#bf0000 388.5px,#af0000 394.5px,#af0000 403.5px,#9f0000 407.5px,#970000 432.5px,#8f0000 518px)"></div><div style="top:79px;background:linear-gradient(90deg,#0000df 0px,#0000eb 4.5px,#0000d3 8.5px,#0000ef 10.5px,#0000e3 16.5px,#0000d3 18.5px,#0000ef 23.5px,#0000e7 27.5px,#0000bf 32.5px,#0000cb 34.5px,#0000c3 36.5px,#0000bf 41.5px,#0000f3 43.5px,#0000e3 45.5px,#0028ff 46.5px,#0078ff 47.5px,#004cff 48.5px,#0004ed 49.5px,#0018fb 50.5px,#007eff 51.5px,#0bf 52.5px,#009bff 53.5px,#003aff 54.5px,#0000f3 55.5px,#0026ff 56.5px,#00a7ff 57.5px,#00f1ff 58.5px,#00dfff 59.5px,#0014fb 61.5px,#0004f5 62.5px,#0058ff 63.5px,#00c5ff 64.5px,#02fbfd 65.5px,#04fbfb 66.5px,#00bfff 67.5px,#0050ff 68.5px,#0004f3 69.5px,#001cfd 70.5px,#0093ff 71.5px,#18f9e7 72.5px,#6f9 73.5px,#85ff7a 74.5px,#93ff6c 75.5px,#78ff87 76.5px,#2cffd3 77.5px,#009fff 78.5px,#0016fb 79.5px,#0010fb 80.5px,#0095ff 81.5px,#40ffbf 82.5px,#c1ff3e 83.5px,#ffe700 84.5px,#ffb100 85.5px,#ff8900 87.5px,#ff8500 89.5px,#ff9700 90.5px,#f3f50c 92.5px,#8fff70 93.5px,#0eddf1 94.5px,#0030fb 95.5px,#0000d9 96.5px,#04f 97.5px,#12e7ed 98.5px,#95ff6a 99.5px,#f5f10a 100.5px,#ff7e00 102.5px,#ff5800 103.5px,#ff2800 106.5px,#ff1000 112.5px,#ff3000 116.5px,#ff5200 118.5px,#ff9300 120.5px,#ffc700 121.5px,#e3fd1c 122.5px,#78ff87 123.5px,#08dbf7 124.5px,#004aff 125.5px,#0000ed 126.5px,#001efd 127.5px,#00b3ff 128.5px,#56ffa9 129.5px,#ddfd22 130.5px,#ffc100 131.5px,#ff7c00 132.5px,#ff2c00 134.5px,#fd0000 136.5px,#cf0000 141.5px,#bf0000 147.5px,#b50000 152.5px,#b30000 175.5px,#e90000 181.5px,#fb0400 182.5px,#ff2000 183.5px,#ff5800 184.5px,#ffad00 185.5px,#c5fd3a 186.5px,#26ffd9 187.5px,#0af1f5 188.5px,#93ff6c 189.5px,#fdd302 190.5px,#ff7000 191.5px,#ff3a00 192.5px,#ff0600 194.5px,#df0000 200.5px,#df0000 208.5px,#cf0000 210.5px,#cd0000 216.5px,#bf0000 219.5px,#bf0000 227.5px,#af0000 231.5px,#af0000 246.5px,#9f0000 250.5px,#9d0000 277.5px,#8f0000 281.5px,#970000 352.5px,#af0000 359.5px,#bf0000 364.5px,#f70000 368.5px,#ff1400 369.5px,#ffa900 372.5px,#ffcf00 373.5px,#ffd100 374.5px,#ff7c00 376.5px,#ff2600 378.5px,#f70000 380.5px,#cf0000 384.5px,#bf0000 388.5px,#af0000 396.5px,#ab0000 405.5px,#9f0000 408.5px,#970000 436.5px,#8f0000 518px)"></div><div style="top:81px;background:linear-gradient(90deg,#0000df 0px,#0000eb 4.5px,#0000d3 8.5px,#0000ef 10.5px,#0000e3 16.5px,#0000d3 18.5px,#0000ef 23.5px,#0000e7 27.5px,#0000bf 32.5px,#0000cb 34.5px,#0000c3 36.5px,#0000bf 41.5px,#0000f3 43.5px,#0000e3 45.5px,#0024ff 46.5px,#0078ff 47.5px,#004cff 48.5px,#0004ef 49.5px,#0014fb 50.5px,#007cff 51.5px,#0bf 52.5px,#009dff 53.5px,#003cff 54.5px,#0000f3 55.5px,#0024ff 56.5px,#009fff 57.5px,#00efff 58.5px,#00e3ff 59.5px,#0018fb 61.5px,#0004f3 62.5px,#0050ff 63.5px,#00c1ff 64.5px,#00fbff 65.5px,#00fbff 66.5px,#00c1ff 67.5px,#0050ff 68.5px,#0004f7 69.5px,#0016fb 70.5px,#008dff 71.5px,#12f7ed 72.5px,#58ffa7 73.5px,#80ff80 74.5px,#8fff70 75.5px,#76ff89 76.5px,#2cffd3 77.5px,#00a7ff 78.5px,#001afb 79.5px,#000af7 80.5px,#0081ff 81.5px,#30fbcf 82.5px,#b1ff4e 83.5px,#fbf104 84.5px,#ffbd00 85.5px,#ff8f00 87.5px,#ff8300 88.5px,#f90 90.5px,#f5f30a 92.5px,#9bff64 93.5px,#16e7e9 94.5px,#003eff 95.5px,#0000d7 96.5px,#0030fd 97.5px,#08d5f7 98.5px,#80ff80 99.5px,#edf912 100.5px,#ffb700 101.5px,#ff6000 103.5px,#ff3600 105.5px,#ff2000 108.5px,#ff1600 112.5px,#ff3000 116.5px,#ff7000 119.5px,#ffc700 121.5px,#e7fb18 122.5px,#80ff80 123.5px,#0ee7f1 124.5px,#005eff 125.5px,#0002eb 126.5px,#000ef7 127.5px,#0089ff 128.5px,#32fdcd 129.5px,#b9ff46 130.5px,#ffd700 131.5px,#ff5800 133.5px,#ff1a00 135.5px,#f50000 137.5px,#cf0000 142.5px,#bf0000 148.5px,#bd0000 152.5px,#af0000 154.5px,#b70000 175.5px,#e70000 181.5px,#fb0200 182.5px,#ff4a00 184.5px,#ff9d00 185.5px,#d9f926 186.5px,#3affc5 187.5px,#00e5ff 188.5px,#62ff9d 189.5px,#f1eb0e 190.5px,#ff8700 191.5px,#ff4800 192.5px,#ff0c00 194.5px,#ef0000 197.5px,#df0000 202.5px,#d00 209.5px,#cf0000 211.5px,#cb0000 217.5px,#bf0000 220.5px,#bf0000 228.5px,#af0000 232.5px,#ab0000 248.5px,#9f0000 254.5px,#9d0000 279.5px,#8f0000 283.5px,#970000 352.5px,#af0000 359.5px,#bf0000 364.5px,#f30000 368.5px,#ff0c00 369.5px,#ff5e00 371.5px,#ffc900 373.5px,#ffdf00 374.5px,#ffc700 375.5px,#ff3c00 378.5px,#ff0400 380.5px,#cf0000 384.5px,#bf0000 390.5px,#af0000 396.5px,#ad0000 406.5px,#9f0000 410.5px,#970000 440.5px,#8f0000 518px)"></div><div style="top:83px;background:linear-gradient(90deg,#0000df 0px,#0000eb 4.5px,#0000d3 8.5px,#0000ef 10.5px,#0000e3 16.5px,#0000d5 18.5px,#0000ef 23.5px,#0000e7 27.5px,#0000bf 32.5px,#0000cb 34.5px,#0000c3 36.5px,#0000bf 41.5px,#0000f3 43.5px,#0000e3 45.5px,#0024ff 46.5px,#0076ff 47.5px,#004cff 48.5px,#0004ef 49.5px,#0012fb 50.5px,#007cff 51.5px,#0bf 52.5px,#00a1ff 53.5px,#0040ff 54.5px,#0000f3 55.5px,#0024fd 56.5px,#009dff 57.5px,#00edff 58.5px,#00e3ff 59.5px,#008bff 60.5px,#001afb 61.5px,#0000f3 62.5px,#0050ff 63.5px,#00bdff 64.5px,#00f9ff 65.5px,#00fbff 66.5px,#00c3ff 67.5px,#0054ff 68.5px,#0004f7 69.5px,#0010fb 70.5px,#0ceff3 72.5px,#56ffa9 73.5px,#8dff72 75.5px,#74ff8b 76.5px,#2effd1 77.5px,#00afff 78.5px,#0024fd 79.5px,#0006f7 80.5px,#0072ff 81.5px,#20f5df 82.5px,#a1ff5e 83.5px,#f5f70a 84.5px,#ffa500 86.5px,#ff8f00 88.5px,#ff9d00 90.5px,#ffbf00 91.5px,#f7f308 92.5px,#9fff60 93.5px,#1eefe1 94.5px,#0050ff 95.5px,#0000d7 96.5px,#0022f9 97.5px,#02c1fd 98.5px,#6cff93 99.5px,#e1fd1e 100.5px,#ffc700 101.5px,#ff8d00 102.5px,#ff4c00 104.5px,#ff2000 108.5px,#ff2600 115.5px,#ff5400 118.5px,#ff9100 120.5px,#ffc700 121.5px,#edfb12 122.5px,#8dff72 123.5px,#16efe9 124.5px,#006eff 125.5px,#0006f3 126.5px,#0004ef 127.5px,#0068ff 128.5px,#1aefe5 129.5px,#97ff68 130.5px,#f9eb06 131.5px,#ff9f00 132.5px,#ff4000 134.5px,#ff0c00 136.5px,#e10000 139.5px,#cd0000 144.5px,#bf0000 146.5px,#b90000 153.5px,#af0000 158.5px,#b70000 175.5px,#e70000 181.5px,#fb0000 182.5px,#ff1800 183.5px,#ff4800 184.5px,#ff8d00 185.5px,#ebef14 186.5px,#54ffab 187.5px,#00e3ff 188.5px,#34fdcb 189.5px,#d7f928 190.5px,#ffa100 191.5px,#ff5a00 192.5px,#ff2c00 193.5px,#ff0200 195.5px,#df0000 201.5px,#d70000 210.5px,#c70000 218.5px,#bf0000 229.5px,#af0000 233.5px,#a90000 250.5px,#9f0000 255.5px,#9b0000 281.5px,#8f0000 287.5px,#970000 352.5px,#af0000 359.5px,#af0000 362.5px,#bf0000 364.5px,#eb0000 368.5px,#ff0600 369.5px,#ff4e00 371.5px,#fb0 373.5px,#fd0 374.5px,#ffd900 375.5px,#ff2c00 379.5px,#fb0000 381.5px,#cf0000 385.5px,#bf0000 391.5px,#af0000 397.5px,#a90000 408.5px,#9f0000 413.5px,#970000 444.5px,#8f0000 518px)"></div><div style="top:85px;background:linear-gradient(90deg,#0000df 0px,#0000eb 4.5px,#0000d3 8.5px,#0000ef 10.5px,#0000e3 16.5px,#0000d7 18.5px,#0000ef 24.5px,#0000df 28.5px,#0000bf 32.5px,#0000cb 34.5px,#0000c3 36.5px,#0000cb 37.5px,#0000bf 40.5px,#0000bf 41.5px,#0000f3 43.5px,#0000e3 45.5px,#0024ff 46.5px,#0074ff 47.5px,#0050ff 48.5px,#0004ef 49.5px,#0010fb 50.5px,#007aff 51.5px,#0bf 52.5px,#00a3ff 53.5px,#04f 54.5px,#0000f3 55.5px,#0020fb 56.5px,#009bff 57.5px,#00e9ff 58.5px,#00e3ff 59.5px,#008bff 60.5px,#001cfd 61.5px,#0000f3 62.5px,#04f 63.5px,#00b5ff 64.5px,#00f5ff 65.5px,#00f9ff 66.5px,#00c3ff 67.5px,#005aff 68.5px,#0004f7 69.5px,#0010fb 70.5px,#08edf7 72.5px,#48ffb7 73.5px,#72ff8d 74.5px,#80ff80 75.5px,#74ff8b 76.5px,#30ffcf 77.5px,#00b7ff 78.5px,#0026ff 79.5px,#0004f5 80.5px,#005eff 81.5px,#16ede9 82.5px,#8dff72 83.5px,#edfb12 84.5px,#ffd100 85.5px,#ffad00 86.5px,#ff8f00 88.5px,#ff8f00 89.5px,#ffbf00 91.5px,#fbf304 92.5px,#abff54 93.5px,#24f5db 94.5px,#0062ff 95.5px,#00d 96.5px,#0016f5 97.5px,#00adff 98.5px,#54ffab 99.5px,#d1ff2e 100.5px,#ffd100 101.5px,#ff9500 102.5px,#ff5400 104.5px,#ff2a00 107.5px,#ff2000 112.5px,#ff3000 116.5px,#ff7000 119.5px,#ff8f00 120.5px,#effb10 122.5px,#93ff6c 123.5px,#1cf7e3 124.5px,#007eff 125.5px,#000cf3 126.5px,#0000e7 127.5px,#0048ff 128.5px,#08d9f7 129.5px,#78ff87 130.5px,#e9f916 131.5px,#ffb700 132.5px,#ff4c00 134.5px,#ff0200 137.5px,#cf0000 143.5px,#bf0000 149.5px,#bf0000 153.5px,#af0000 155.5px,#af0000 174.5px,#e70000 181.5px,#f70000 182.5px,#ff1600 183.5px,#ff3e00 184.5px,#ff7e00 185.5px,#f7e108 186.5px,#74ff8b 187.5px,#04e5fb 188.5px,#16f1e9 189.5px,#afff50 190.5px,#ffc100 191.5px,#ff6e00 192.5px,#ff3a00 193.5px,#ff0a00 195.5px,#e50000 200.5px,#df0000 210.5px,#cf0000 212.5px,#cf0000 218.5px,#bf0000 222.5px,#bf0000 230.5px,#af0000 234.5px,#ad0000 251.5px,#9f0000 255.5px,#900 283.5px,#8f0000 293.5px,#970000 352.5px,#af0000 359.5px,#af0000 362.5px,#d70000 367.5px,#f90000 369.5px,#ff3e00 371.5px,#ffdb00 374.5px,#ffeb00 375.5px,#ff9f00 377.5px,#ff4000 379.5px,#ff0800 381.5px,#cf0000 386.5px,#bf0000 392.5px,#af0000 398.5px,#ad0000 409.5px,#9f0000 413.5px,#970000 448.5px,#8f0000 518px)"></div><div style="top:87px;background:linear-gradient(90deg,#0000df 0px,#0000eb 4.5px,#0000d3 7.5px,#0000ef 11.5px,#0000e3 16.5px,#0000db 19.5px,#0000ef 24.5px,#0000df 28.5px,#0000bf 32.5px,#0000cb 34.5px,#0000c3 36.5px,#0000cb 37.5px,#0000bf 40.5px,#0000bf 41.5px,#0000f3 43.5px,#0000e3 45.5px,#0020ff 46.5px,#0074ff 47.5px,#0050ff 48.5px,#0004f3 49.5px,#0010fb 50.5px,#0078ff 51.5px,#0bf 52.5px,#00a3ff 53.5px,#04f 54.5px,#0000f3 55.5px,#001afb 56.5px,#0091ff 57.5px,#00e3ff 58.5px,#00e3ff 59.5px,#008dff 60.5px,#001cff 61.5px,#0000f3 62.5px,#0040ff 63.5px,#00b1ff 64.5px,#00edff 65.5px,#00f7ff 66.5px,#00c3ff 67.5px,#0004f7 69.5px,#000cfb 70.5px,#0070ff 71.5px,#04e5fb 72.5px,#4fb 73.5px,#6aff95 74.5px,#7eff81 75.5px,#70ff8f 76.5px,#30ffcf 77.5px,#00bdff 78.5px,#0030ff 79.5px,#0000f3 80.5px,#0052ff 81.5px,#0ce1f3 82.5px,#7eff81 83.5px,#e3ff1c 84.5px,#ffd900 85.5px,#ffa100 87.5px,#ff9100 89.5px,#ffbf00 91.5px,#fbf304 92.5px,#afff50 93.5px,#2ef9d1 94.5px,#0072ff 95.5px,#0002e1 96.5px,#000cf1 97.5px,#0095ff 98.5px,#40ffbf 99.5px,#c3ff3c 100.5px,#fd0 101.5px,#ff9f00 102.5px,#ff5800 104.5px,#ff3400 106.5px,#ff2000 110.5px,#ff2000 114.5px,#ff5600 118.5px,#ff8f00 120.5px,#f3fb0c 122.5px,#9bff64 123.5px,#24fbdb 124.5px,#008dff 125.5px,#0014f9 126.5px,#0000db 127.5px,#002afd 128.5px,#00b9ff 129.5px,#54ffab 130.5px,#d3ff2c 131.5px,#ffcd00 132.5px,#ff8900 133.5px,#ff3600 135.5px,#ff0800 137.5px,#cf0000 143.5px,#cf0000 145.5px,#bf0000 147.5px,#b90000 154.5px,#af0000 159.5px,#af0000 174.5px,#e50000 181.5px,#ff1000 183.5px,#ff3600 184.5px,#ff7400 185.5px,#fdd502 186.5px,#97ff68 187.5px,#0cf1f3 188.5px,#04ddfb 189.5px,#7eff81 190.5px,#f9e106 191.5px,#ff8100 192.5px,#ff4800 193.5px,#ff0e00 195.5px,#f50000 197.5px,#ef0000 200.5px,#df0000 202.5px,#db0000 211.5px,#cf0000 214.5px,#cd0000 219.5px,#bf0000 222.5px,#bf0000 231.5px,#af0000 235.5px,#a90000 253.5px,#9f0000 258.5px,#900 285.5px,#8f0000 295.5px,#970000 352.5px,#af0000 359.5px,#b90000 363.5px,#d30000 367.5px,#f50000 369.5px,#ff0e00 370.5px,#ff5e00 372.5px,#ffcd00 374.5px,#ffed00 375.5px,#ffe500 376.5px,#ff5600 379.5px,#ff0200 382.5px,#d10000 386.5px,#bf0000 393.5px,#af0000 399.5px,#a90000 411.5px,#9f0000 421.5px,#970000 451.5px,#8f0000 518px)"></div><div style="top:89px;background:linear-gradient(90deg,#0000df 0px,#0000eb 4.5px,#0000d3 7.5px,#0000ef 11.5px,#0000e3 16.5px,#0000db 19.5px,#0000ef 24.5px,#0000df 28.5px,#0000bf 32.5px,#0000cb 34.5px,#0000c3 36.5px,#0000cb 37.5px,#0000bf 40.5px,#0000bf 41.5px,#0000f3 43.5px,#0000e3 45.5px,#0020ff 46.5px,#0074ff 47.5px,#0050ff 48.5px,#0004f3 49.5px,#0010fb 50.5px,#0078ff 51.5px,#00b9ff 52.5px,#00a7ff 53.5px,#0048ff 54.5px,#0000f3 55.5px,#0018fb 56.5px,#008fff 57.5px,#00e3ff 58.5px,#00e3ff 59.5px,#008fff 60.5px,#0020ff 61.5px,#0000f3 62.5px,#003eff 63.5px,#00a9ff 64.5px,#00ebff 65.5px,#00f3ff 66.5px,#00c3ff 67.5px,#0008f7 69.5px,#000af9 70.5px,#006aff 71.5px,#02ddfd 72.5px,#38ffc7 73.5px,#64ff9b 74.5px,#7aff85 75.5px,#6cff93 76.5px,#32ffcd 77.5px,#00bfff 78.5px,#003cff 79.5px,#0000f5 80.5px,#0042ff 81.5px,#06d5f9 82.5px,#6eff91 83.5px,#d5ff2a 84.5px,#ffe700 85.5px,#ffbd00 86.5px,#ff9f00 88.5px,#ffa500 90.5px,#ffbf00 91.5px,#fbf304 92.5px,#b7ff48 93.5px,#38fdc7 94.5px,#0087ff 95.5px,#0006e7 96.5px,#0006e9 97.5px,#0080ff 98.5px,#2cf9d3 99.5px,#b3ff4c 100.5px,#fde902 101.5px,#ffa900 102.5px,#ff5e00 104.5px,#ff3000 107.5px,#ff2000 111.5px,#f20 114.5px,#ff5800 118.5px,#ff8f00 120.5px,#f3f90c 122.5px,#a5ff5a 123.5px,#30fdcf 124.5px,#009fff 125.5px,#001cfb 126.5px,#0000d5 127.5px,#0014f7 128.5px,#0093ff 129.5px,#32fdcd 130.5px,#b3ff4c 131.5px,#fde302 132.5px,#ff6800 134.5px,#ff1000 137.5px,#ef0000 139.5px,#cf0000 144.5px,#bf0000 150.5px,#bf0000 154.5px,#af0000 158.5px,#af0000 174.5px,#e30000 181.5px,#ff0e00 183.5px,#ff3000 184.5px,#ff6800 185.5px,#ffbd00 186.5px,#b7ff48 187.5px,#1cf5e3 188.5px,#00cdff 189.5px,#4affb5 190.5px,#e5f31a 191.5px,#f90 192.5px,#ff5800 193.5px,#ff1600 195.5px,#fd0000 197.5px,#ef0000 199.5px,#ed0000 201.5px,#df0000 203.5px,#df0000 211.5px,#cf0000 215.5px,#cb0000 220.5px,#bf0000 223.5px,#bf0000 232.5px,#af0000 236.5px,#ad0000 254.5px,#9f0000 258.5px,#970000 287.5px,#970000 352.5px,#af0000 359.5px,#b70000 363.5px,#df0000 368.5px,#ff0600 370.5px,#ff4e00 372.5px,#ffe900 375.5px,#fff700 376.5px,#ffd900 377.5px,#ff4600 380.5px,#ff0e00 382.5px,#ed0000 384.5px,#cf0000 388.5px,#bf0000 393.5px,#af0000 403.5px,#a70000 413.5px,#970000 455.5px,#8f0000 518px)"></div><div style="top:91px;background:linear-gradient(90deg,#0000df 0px,#0000eb 4.5px,#0000d3 7.5px,#0000ef 11.5px,#0000e3 16.5px,#0000db 19.5px,#0000ef 24.5px,#0000df 28.5px,#0000bf 32.5px,#0000cb 34.5px,#0000c3 36.5px,#0000cb 37.5px,#0000bf 40.5px,#0000bf 41.5px,#0000f3 43.5px,#0000e3 45.5px,#0020ff 46.5px,#0074ff 47.5px,#0054ff 48.5px,#0004f3 49.5px,#0010fb 50.5px,#0072ff 51.5px,#00b7ff 52.5px,#00a7ff 53.5px,#004aff 54.5px,#0004f3 55.5px,#0018fb 56.5px,#008fff 57.5px,#00e3ff 58.5px,#00e3ff 59.5px,#0091ff 60.5px,#0024ff 61.5px,#0000f3 62.5px,#0036ff 63.5px,#00a5ff 64.5px,#00e5ff 65.5px,#00efff 66.5px,#00c3ff 67.5px,#0008f7 69.5px,#0008f7 70.5px,#0060ff 71.5px,#00d9ff 72.5px,#2effd1 73.5px,#5cffa3 74.5px,#70ff8f 75.5px,#68ff97 76.5px,#34ffcb 77.5px,#00c9ff 78.5px,#0040ff 79.5px,#0000f5 80.5px,#0036ff 81.5px,#02c9fd 82.5px,#5cffa3 83.5px,#c7ff38 84.5px,#fdef02 85.5px,#ffc700 86.5px,#ffa300 88.5px,#ffa700 90.5px,#ffbf00 91.5px,#fbf304 92.5px,#bf4 93.5px,#40ffbf 94.5px,#0097ff 95.5px,#000aeb 96.5px,#0002e5 97.5px,#06f 98.5px,#1cf5e3 99.5px,#9dff62 100.5px,#f9f306 101.5px,#ff8100 103.5px,#ff4c00 105.5px,#ff3000 107.5px,#ff2000 112.5px,#ff3800 116.5px,#ff7000 119.5px,#ffbf00 121.5px,#f5f30a 122.5px,#a9ff56 123.5px,#38ffc7 124.5px,#00afff 125.5px,#0026fd 126.5px,#0000d3 127.5px,#0006ed 128.5px,#0070ff 129.5px,#16f1e9 130.5px,#95ff6a 131.5px,#f3f50c 132.5px,#ff7800 134.5px,#ff2e00 136.5px,#ff0600 138.5px,#cf0000 144.5px,#bf0000 152.5px,#bd0000 155.5px,#af0000 157.5px,#af0000 174.5px,#bf0000 176.5px,#e30000 181.5px,#ff0a00 183.5px,#ff5c00 185.5px,#ffad00 186.5px,#d1fd2e 187.5px,#32fdcd 188.5px,#00c7ff 189.5px,#24f5db 190.5px,#c1fd3e 191.5px,#ffb900 192.5px,#ff6a00 193.5px,#ff3c00 194.5px,#f00 197.5px,#df0000 205.5px,#df0000 212.5px,#cf0000 214.5px,#c70000 221.5px,#bf0000 233.5px,#af0000 237.5px,#ab0000 256.5px,#9f0000 262.5px,#970000 289.5px,#970000 352.5px,#9f0000 356.5px,#af0000 358.5px,#b30000 363.5px,#db0000 368.5px,#fb0200 370.5px,#ff3e00 372.5px,#ffdf00 375.5px,#fffd00 376.5px,#fff100 377.5px,#ff5c00 380.5px,#ff1c00 382.5px,#f50000 384.5px,#cf0000 389.5px,#bf0000 394.5px,#bd0000 397.5px,#af0000 400.5px,#a70000 415.5px,#970000 459.5px,#8f0000 518px)"></div><div style="top:93px;background:linear-gradient(90deg,#0000df 0px,#0000eb 4.5px,#0000d3 7.5px,#0000ef 11.5px,#0000e3 16.5px,#0000d7 18.5px,#0000ef 24.5px,#0000df 28.5px,#0000bf 32.5px,#0000cb 34.5px,#0000c3 36.5px,#0000cb 37.5px,#0000bf 40.5px,#0000bf 41.5px,#0000f3 43.5px,#0000e3 45.5px,#001eff 46.5px,#0074ff 47.5px,#0054ff 48.5px,#0004f3 49.5px,#0010fb 50.5px,#006cff 51.5px,#00b5ff 52.5px,#00a7ff 53.5px,#004cff 54.5px,#0004f5 55.5px,#0016fb 56.5px,#008bff 57.5px,#00e3ff 58.5px,#00e3ff 59.5px,#0097ff 60.5px,#0024ff 61.5px,#0000f1 62.5px,#0034ff 63.5px,#009fff 64.5px,#00e3ff 65.5px,#00edff 66.5px,#00c3ff 67.5px,#000cf9 69.5px,#0004f7 70.5px,#005aff 71.5px,#00cbff 72.5px,#28ffd7 73.5px,#56ffa9 74.5px,#6aff95 75.5px,#64ff9b 76.5px,#34ffcb 77.5px,#00cfff 78.5px,#004aff 79.5px,#0000f3 80.5px,#002aff 81.5px,#0bf 82.5px,#4affb5 83.5px,#b9ff46 84.5px,#fbf504 85.5px,#ffb700 87.5px,#ff9f00 89.5px,#ffc700 91.5px,#fbf304 92.5px,#c1ff3e 93.5px,#4cffb3 94.5px,#00a5ff 95.5px,#0012f1 96.5px,#00d 97.5px,#0054ff 98.5px,#12e7ed 99.5px,#8bff74 100.5px,#f1f90e 101.5px,#ff8d00 103.5px,#ff5200 105.5px,#ff3200 107.5px,#ff2000 112.5px,#ff4800 117.5px,#ff8f00 120.5px,#f9f306 122.5px,#afff50 123.5px,#40ffbf 124.5px,#00bdff 125.5px,#0034ff 126.5px,#0000db 127.5px,#0000e3 128.5px,#004cff 129.5px,#06dbf9 130.5px,#6eff91 131.5px,#dffd20 132.5px,#ffc900 133.5px,#ff8900 134.5px,#ff3800 136.5px,#fd0000 139.5px,#cf0000 144.5px,#cd0000 147.5px,#bf0000 149.5px,#b90000 156.5px,#af0000 161.5px,#af0000 174.5px,#bf0000 176.5px,#e30000 181.5px,#ff0800 183.5px,#ff5800 185.5px,#ff9d00 186.5px,#e3f51c 187.5px,#4cffb3 188.5px,#00c9ff 189.5px,#0ae1f5 190.5px,#91ff6e 191.5px,#fdd902 192.5px,#ff8000 193.5px,#ff4800 194.5px,#ff1200 196.5px,#fd0000 198.5px,#ef0000 200.5px,#df0000 208.5px,#db0000 213.5px,#cf0000 216.5px,#cf0000 221.5px,#bf0000 225.5px,#b70000 235.5px,#a90000 258.5px,#9f0000 263.5px,#9d0000 290.5px,#8f0000 294.5px,#970000 352.5px,#9f0000 356.5px,#af0000 358.5px,#af0000 363.5px,#bf0000 365.5px,#e50000 369.5px,#ff0e00 371.5px,#ff5c00 373.5px,#ffcf00 375.5px,#fff900 376.5px,#fbfd04 377.5px,#ffdf00 378.5px,#ff4c00 381.5px,#ff1200 383.5px,#f10000 385.5px,#cf0000 390.5px,#bf0000 394.5px,#bf0000 398.5px,#af0000 402.5px,#a90000 417.5px,#9f0000 427.5px,#970000 463.5px,#8f0000 518px)"></div><div style="top:95px;background:linear-gradient(90deg,#0000df 0px,#0000eb 4.5px,#0000d3 7.5px,#0000ef 11.5px,#0000e3 16.5px,#0000d7 18.5px,#0000ef 24.5px,#0000df 28.5px,#0000bf 32.5px,#0000cb 34.5px,#0000c3 36.5px,#0000cb 37.5px,#0000bf 40.5px,#0000bf 41.5px,#0000f3 43.5px,#0000e3 45.5px,#001cff 46.5px,#0074ff 47.5px,#0054ff 48.5px,#0004f3 49.5px,#000ef9 50.5px,#006cff 51.5px,#00b3ff 52.5px,#00a7ff 53.5px,#004cff 54.5px,#0004f7 55.5px,#0010fb 56.5px,#00e3ff 58.5px,#00e3ff 59.5px,#0097ff 60.5px,#0026ff 61.5px,#0000ef 62.5px,#0030ff 63.5px,#09f 64.5px,#00dfff 65.5px,#00ebff 66.5px,#00c3ff 67.5px,#000cfb 69.5px,#0004f7 70.5px,#0052ff 71.5px,#00c5ff 72.5px,#1effe1 73.5px,#4effb1 74.5px,#64ff9b 75.5px,#5effa1 76.5px,#34ffcb 77.5px,#00cfff 78.5px,#0050ff 79.5px,#0002f3 80.5px,#02f 81.5px,#00a7ff 82.5px,#38ffc7 83.5px,#abff54 84.5px,#f3fb0c 85.5px,#ffc100 87.5px,#ffaf00 89.5px,#ffaf00 90.5px,#ffc700 91.5px,#fdf302 92.5px,#c3ff3c 93.5px,#54ffab 94.5px,#00b5ff 95.5px,#001af5 96.5px,#0000db 97.5px,#003eff 98.5px,#08dbf7 99.5px,#78ff87 100.5px,#e7fd18 101.5px,#ffc700 102.5px,#ff9100 103.5px,#f40 106.5px,#ff3000 109.5px,#ff2000 112.5px,#ff4800 117.5px,#ff9100 120.5px,#fbf304 122.5px,#b5ff4a 123.5px,#4effb1 124.5px,#00cbff 125.5px,#0040ff 126.5px,#00d 127.5px,#0000d1 128.5px,#002aff 129.5px,#00bdff 130.5px,#48ffb7 131.5px,#c3ff3c 132.5px,#ffdf00 133.5px,#ff6800 135.5px,#ff1400 138.5px,#f50000 140.5px,#cf0000 145.5px,#bf0000 153.5px,#bf0000 156.5px,#af0000 160.5px,#b10000 174.5px,#bf0000 176.5px,#e30000 181.5px,#ff0800 183.5px,#ff2000 184.5px,#ff4c00 185.5px,#ff8d00 186.5px,#f3eb0c 187.5px,#6cff93 188.5px,#02dbfd 189.5px,#00c9ff 190.5px,#62ff9d 191.5px,#edf112 192.5px,#ff9700 193.5px,#ff5800 194.5px,#ff1a00 196.5px,#f00 198.5px,#ef0000 202.5px,#df0000 208.5px,#d70000 214.5px,#cf0000 222.5px,#bf0000 226.5px,#b70000 236.5px,#ad0000 259.5px,#9f0000 263.5px,#9d0000 292.5px,#8f0000 296.5px,#970000 352.5px,#9f0000 356.5px,#af0000 358.5px,#af0000 363.5px,#bf0000 365.5px,#df0000 369.5px,#ff0600 371.5px,#ff4e00 373.5px,#fff100 376.5px,#f1ff0e 377.5px,#fdf702 378.5px,#ff3c00 382.5px,#ff0a00 384.5px,#d30000 389.5px,#bf0000 395.5px,#b50000 400.5px,#a70000 420.5px,#970000 467.5px,#8f0000 518px)"></div><div style="top:97px;background:linear-gradient(90deg,#0000df 0px,#0000eb 4.5px,#0000d3 7.5px,#0000ef 11.5px,#0000e3 16.5px,#0000d7 18.5px,#0000ef 25.5px,#0000bf 32.5px,#0000cb 34.5px,#0000c3 36.5px,#0000cb 37.5px,#0000bf 40.5px,#0000bf 41.5px,#0000f3 43.5px,#0000e3 45.5px,#001cff 46.5px,#0074ff 47.5px,#0054ff 48.5px,#0004f3 49.5px,#000cf7 50.5px,#006cff 51.5px,#00b3ff 52.5px,#00a7ff 53.5px,#0004f7 55.5px,#0010fb 56.5px,#0080ff 57.5px,#00d9ff 58.5px,#00e3ff 59.5px,#0097ff 60.5px,#0028ff 61.5px,#0000ef 62.5px,#0028ff 63.5px,#0097ff 64.5px,#00dbff 65.5px,#00ebff 66.5px,#00c3ff 67.5px,#000cfb 69.5px,#0004f7 70.5px,#004aff 71.5px,#0bf 72.5px,#18ffe7 73.5px,#48ffb7 74.5px,#5cffa3 75.5px,#5cffa3 76.5px,#30ffcf 77.5px,#00d3ff 78.5px,#0054ff 79.5px,#0004f7 80.5px,#001afd 81.5px,#0097ff 82.5px,#2afdd5 83.5px,#9bff64 84.5px,#e9ff16 85.5px,#ffe100 86.5px,#ffb900 88.5px,#ffb300 90.5px,#ffc700 91.5px,#fdf302 92.5px,#c3ff3c 93.5px,#5effa1 94.5px,#00c1ff 95.5px,#0020f9 96.5px,#0000d3 97.5px,#0030ff 98.5px,#02cbfd 99.5px,#6f9 100.5px,#d9ff26 101.5px,#ffd700 102.5px,#ff9d00 103.5px,#ff5a00 105.5px,#ff3000 108.5px,#ff3000 114.5px,#ff4c00 117.5px,#ff9300 120.5px,#fbf304 122.5px,#bdff42 123.5px,#58ffa7 124.5px,#04d5fb 125.5px,#0052ff 126.5px,#0002e5 127.5px,#0000c9 128.5px,#0018f9 129.5px,#09f 130.5px,#2afdd5 131.5px,#a5ff5a 132.5px,#f9ef06 133.5px,#ff7800 135.5px,#ff3200 137.5px,#fd0000 140.5px,#cf0000 145.5px,#c70000 149.5px,#bf0000 157.5px,#af0000 161.5px,#b50000 174.5px,#d90000 180.5px,#ff0400 183.5px,#ff4600 185.5px,#ff8300 186.5px,#fbdd04 187.5px,#8bff74 188.5px,#0ae3f5 189.5px,#00afff 190.5px,#30f9cf 191.5px,#cffd30 192.5px,#ffb500 193.5px,#ff6e00 194.5px,#ff3e00 195.5px,#ff0200 198.5px,#ef0000 203.5px,#df0000 209.5px,#df0000 214.5px,#cf0000 216.5px,#cd0000 223.5px,#bf0000 226.5px,#b00 237.5px,#af0000 240.5px,#ab0000 261.5px,#9f0000 267.5px,#970000 295.5px,#970000 352.5px,#9f0000 356.5px,#af0000 358.5px,#af0000 363.5px,#df0000 369.5px,#fd0200 371.5px,#ff3e00 373.5px,#ffe100 376.5px,#f3ff0c 377.5px,#f1ff0e 378.5px,#ffeb00 379.5px,#ff5600 382.5px,#ff1800 384.5px,#f50000 386.5px,#cf0000 391.5px,#bf0000 397.5px,#b90000 401.5px,#af0000 406.5px,#a70000 423.5px,#970000 471.5px,#8f0000 518px)"></div><div style="top:99px;background:linear-gradient(90deg,#0000df 0px,#0000eb 4.5px,#0000d3 7.5px,#0000ef 11.5px,#0000e3 16.5px,#0000d7 18.5px,#0000ef 25.5px,#0000bf 32.5px,#0000cb 34.5px,#0000c3 36.5px,#0000cb 37.5px,#0000bf 40.5px,#0000bf 41.5px,#0000f3 43.5px,#0000e3 45.5px,#001cfd 46.5px,#0074ff 47.5px,#0054ff 48.5px,#0008f3 49.5px,#000cf7 50.5px,#0068ff 51.5px,#00afff 52.5px,#00a3ff 53.5px,#0004f7 55.5px,#0010fb 56.5px,#007eff 57.5px,#00d7ff 58.5px,#00e1ff 59.5px,#0097ff 60.5px,#0028ff 61.5px,#0000ef 62.5px,#0026ff 63.5px,#008fff 64.5px,#00d3ff 65.5px,#00e5ff 66.5px,#00c7ff 67.5px,#000efb 69.5px,#0002f5 70.5px,#04f 71.5px,#00b5ff 72.5px,#16fbe9 73.5px,#4fb 74.5px,#5affa5 75.5px,#5affa5 76.5px,#30ffcf 77.5px,#00d7ff 78.5px,#0060ff 79.5px,#0004f7 80.5px,#0012fb 81.5px,#0087ff 82.5px,#1ef9e1 83.5px,#8dff72 84.5px,#dfff20 85.5px,#ffed00 86.5px,#ffbf00 88.5px,#ffb100 89.5px,#ffcf00 91.5px,#fbf304 92.5px,#c5ff3a 93.5px,#60ff9f 94.5px,#04c9fb 95.5px,#002afb 96.5px,#0000d7 97.5px,#0020fb 98.5px,#00b5ff 99.5px,#4cffb3 100.5px,#c3ff3c 101.5px,#ffe700 102.5px,#ffa900 103.5px,#f60 105.5px,#ff3a00 108.5px,#ff3000 113.5px,#ff4000 116.5px,#ff7800 119.5px,#fb0 121.5px,#fbf304 122.5px,#c1ff3e 123.5px,#62ff9d 124.5px,#06e1f9 125.5px,#0068ff 126.5px,#0006ed 127.5px,#0000c5 128.5px,#000cf1 129.5px,#0078ff 130.5px,#14f3eb 131.5px,#87ff78 132.5px,#e9fb16 133.5px,#ffbf00 134.5px,#ff5e00 136.5px,#ff2600 138.5px,#ff0200 140.5px,#cf0000 146.5px,#c50000 150.5px,#bf0000 158.5px,#af0000 162.5px,#af0000 173.5px,#bf0000 177.5px,#ff0400 183.5px,#ff4200 185.5px,#ff7800 186.5px,#ffcf00 187.5px,#a9ff56 188.5px,#18efe7 189.5px,#00a7ff 190.5px,#0ee3f1 191.5px,#9dff62 192.5px,#fdd902 193.5px,#ff8000 194.5px,#ff2c00 196.5px,#f00 199.5px,#ef0000 203.5px,#df0000 211.5px,#d00 215.5px,#cf0000 217.5px,#cd0000 224.5px,#bf0000 226.5px,#bd0000 238.5px,#af0000 241.5px,#a90000 263.5px,#9f0000 268.5px,#9b0000 297.5px,#8f0000 303.5px,#970000 352.5px,#9f0000 356.5px,#af0000 358.5px,#b70000 364.5px,#e70000 370.5px,#f90000 371.5px,#ff3200 373.5px,#ff9100 375.5px,#f7fd08 377.5px,#e1ff1e 378.5px,#f3fd0c 379.5px,#ffd700 380.5px,#ff6c00 382.5px,#ff1000 385.5px,#f10000 387.5px,#cf0000 392.5px,#bf0000 398.5px,#b30000 403.5px,#a70000 427.5px,#970000 475.5px,#8f0000 518px)"></div><div style="top:101px;background:linear-gradient(90deg,#0000df 0px,#0000eb 4.5px,#0000d3 7.5px,#0000ef 11.5px,#0000e3 16.5px,#0000d7 18.5px,#0000ef 25.5px,#0000bf 32.5px,#0000cb 34.5px,#0000c3 36.5px,#0000cb 37.5px,#0000bf 40.5px,#0000bf 41.5px,#0000f3 43.5px,#0000f7 44.5px,#0000e3 45.5px,#001cfb 46.5px,#0070ff 47.5px,#0054ff 48.5px,#0008f3 49.5px,#000af7 50.5px,#06f 51.5px,#00abff 52.5px,#00a3ff 53.5px,#0004f7 55.5px,#000ef7 56.5px,#00d3ff 58.5px,#00dfff 59.5px,#0097ff 60.5px,#002eff 61.5px,#0000ef 62.5px,#0024ff 63.5px,#008bff 64.5px,#00d3ff 65.5px,#00dfff 66.5px,#00c7ff 67.5px,#0010fb 69.5px,#0000f3 70.5px,#0040ff 71.5px,#00abff 72.5px,#0cfbf3 73.5px,#40ffbf 74.5px,#56ffa9 75.5px,#58ffa7 76.5px,#30ffcf 77.5px,#00dbff 78.5px,#0060ff 79.5px,#0006f7 80.5px,#000efb 81.5px,#007cff 82.5px,#14f3eb 83.5px,#81ff7e 84.5px,#d5ff2a 85.5px,#fff300 86.5px,#ffc700 88.5px,#ffbf00 90.5px,#fbf304 92.5px,#c7ff38 93.5px,#64ff9b 94.5px,#04d1fb 95.5px,#0034ff 96.5px,#0000d3 97.5px,#0014f9 98.5px,#009dff 99.5px,#36ffc9 100.5px,#b1ff4e 101.5px,#fbf104 102.5px,#ff8b00 104.5px,#ff5600 106.5px,#ff3000 111.5px,#ff3000 114.5px,#ff6400 118.5px,#ff9700 120.5px,#fb0 121.5px,#fbf304 122.5px,#c5ff3a 123.5px,#6cff93 124.5px,#0cebf3 125.5px,#0078ff 126.5px,#000ef5 127.5px,#0000c5 128.5px,#0002e7 129.5px,#0058ff 130.5px,#06ddf9 131.5px,#68ff97 132.5px,#d1ff2e 133.5px,#ffd900 134.5px,#f90 135.5px,#ff4800 137.5px,#ff0600 140.5px,#cf0000 147.5px,#c70000 151.5px,#b90000 160.5px,#af0000 165.5px,#af0000 173.5px,#bf0000 175.5px,#c10000 177.5px,#ff0400 183.5px,#ff3e00 185.5px,#ff7200 186.5px,#ffbf00 187.5px,#c3ff3c 188.5px,#2af9d5 189.5px,#00a7ff 190.5px,#00c1ff 191.5px,#64ff9b 192.5px,#edf312 193.5px,#ff9f00 194.5px,#ff6200 195.5px,#ff2000 197.5px,#ff0200 199.5px,#ef0000 205.5px,#df0000 211.5px,#d90000 216.5px,#cf0000 221.5px,#cb0000 225.5px,#bf0000 228.5px,#bd0000 239.5px,#af0000 243.5px,#a70000 265.5px,#970000 300.5px,#8f0000 351.5px,#9f0000 355.5px,#af0000 359.5px,#b70000 364.5px,#d70000 369.5px,#ff0a00 372.5px,#ff4e00 374.5px,#fbf504 377.5px,#e1ff1e 378.5px,#dfff20 379.5px,#fbf704 380.5px,#ff5e00 383.5px,#ff0c00 386.5px,#e50000 389.5px,#cf0000 393.5px,#bf0000 399.5px,#b90000 404.5px,#af0000 409.5px,#a70000 430.5px,#970000 479.5px,#8f0000 518px)"></div><div style="top:103px;background:linear-gradient(90deg,#0000df 0px,#0000eb 4.5px,#0000d3 7.5px,#0000ef 11.5px,#0000e3 16.5px,#0000d7 18.5px,#0000ef 25.5px,#0000bf 32.5px,#0000cb 34.5px,#0000c3 36.5px,#0000cb 37.5px,#0000bf 40.5px,#0000bf 41.5px,#0000f3 43.5px,#0000f7 44.5px,#0000e3 45.5px,#001cfb 46.5px,#0070ff 47.5px,#0054ff 48.5px,#0008f3 49.5px,#0008f7 50.5px,#00a9ff 52.5px,#00a3ff 53.5px,#0004f7 55.5px,#000cf7 56.5px,#00cbff 58.5px,#00dbff 59.5px,#0097ff 60.5px,#0030ff 61.5px,#0000f1 62.5px,#0020ff 63.5px,#0087ff 64.5px,#00d1ff 65.5px,#00dfff 66.5px,#00c5ff 67.5px,#0010fb 69.5px,#0000f3 70.5px,#0038ff 71.5px,#00a5ff 72.5px,#0cf7f3 73.5px,#38ffc7 74.5px,#52ffad 75.5px,#56ffa9 76.5px,#30ffcf 77.5px,#0df 78.5px,#000af9 80.5px,#000af9 81.5px,#0070ff 82.5px,#0eebf1 83.5px,#72ff8d 84.5px,#c7ff38 85.5px,#fbf904 86.5px,#ffbf00 89.5px,#ffc100 90.5px,#fbf704 92.5px,#c7ff38 93.5px,#6cff93 94.5px,#08d7f7 95.5px,#003eff 96.5px,#0000d9 97.5px,#000cf3 98.5px,#0087ff 99.5px,#24f9db 100.5px,#9bff64 101.5px,#f1f90e 102.5px,#ff9700 104.5px,#ff6000 106.5px,#ff4200 108.5px,#ff3000 113.5px,#ff5400 117.5px,#ff7800 119.5px,#fb0 121.5px,#ffed00 122.5px,#cdff32 123.5px,#14f3eb 125.5px,#0087ff 126.5px,#001afb 127.5px,#0000cb 128.5px,#0000db 129.5px,#0038ff 130.5px,#00bfff 131.5px,#48ffb7 132.5px,#b7ff48 133.5px,#fded02 134.5px,#ff7a00 136.5px,#ff2000 139.5px,#f00 141.5px,#df0000 145.5px,#cf0000 149.5px,#bf0000 157.5px,#b30000 162.5px,#af0000 172.5px,#cf0000 179.5px,#ff0400 183.5px,#ff3c00 185.5px,#ff6800 186.5px,#ffb300 187.5px,#d9fb26 188.5px,#4fb 189.5px,#00afff 190.5px,#0097ff 191.5px,#30f9cf 192.5px,#c9fd36 193.5px,#ffbf00 194.5px,#ff7400 195.5px,#ff4600 196.5px,#ff0a00 199.5px,#ef0000 204.5px,#eb0000 208.5px,#df0000 211.5px,#df0000 216.5px,#cf0000 220.5px,#cb0000 226.5px,#bf0000 229.5px,#bf0000 240.5px,#af0000 244.5px,#ad0000 266.5px,#9f0000 270.5px,#9b0000 302.5px,#8f0000 308.5px,#8f0000 351.5px,#9f0000 355.5px,#af0000 359.5px,#b30000 364.5px,#df0000 370.5px,#ff0400 372.5px,#ff4200 374.5px,#ffa700 376.5px,#ffe500 377.5px,#e5ff1a 378.5px,#d1ff2e 379.5px,#e7ff18 380.5px,#ffe100 381.5px,#ff7800 383.5px,#ff3200 385.5px,#ff0800 387.5px,#cf0000 394.5px,#bf0000 400.5px,#b30000 406.5px,#a70000 434.5px,#970000 483.5px,#8f0000 518px)"></div><div style="top:105px;background:linear-gradient(90deg,#0000df 0px,#0000eb 4.5px,#0000d3 7.5px,#0000ef 11.5px,#0000e3 16.5px,#0000d7 18.5px,#0000ef 25.5px,#0000bf 32.5px,#0000cb 34.5px,#0000c3 36.5px,#0000cb 37.5px,#0000bf 40.5px,#0000bf 41.5px,#0000f3 43.5px,#0000f7 44.5px,#0000e3 45.5px,#0018fb 46.5px,#0070ff 47.5px,#0056ff 48.5px,#0008f3 49.5px,#0008f5 50.5px,#00a3ff 52.5px,#00a3ff 53.5px,#0004f7 55.5px,#0008f7 56.5px,#00c7ff 58.5px,#00d9ff 59.5px,#0097ff 60.5px,#0032ff 61.5px,#0000f3 62.5px,#001cff 63.5px,#0083ff 64.5px,#00cfff 65.5px,#00dfff 66.5px,#00c3ff 67.5px,#0014fb 69.5px,#0000f3 70.5px,#0034ff 71.5px,#009dff 72.5px,#08f3f7 73.5px,#34ffcb 74.5px,#4cffb3 75.5px,#50ffaf 76.5px,#30ffcf 77.5px,#00dfff 78.5px,#000cfb 80.5px,#0006f7 81.5px,#0060ff 82.5px,#08e3f7 83.5px,#62ff9d 84.5px,#bdff42 85.5px,#f5fd0a 86.5px,#ffcb00 89.5px,#ffd700 91.5px,#fbf704 92.5px,#c7ff38 93.5px,#6cff93 94.5px,#08e1f7 95.5px,#004cff 96.5px,#0000db 97.5px,#0006ef 98.5px,#0072ff 99.5px,#14f1eb 100.5px,#85ff7a 101.5px,#e5fd1a 102.5px,#ffd300 103.5px,#ff8000 105.5px,#ff5600 107.5px,#ff4000 110.5px,#ff4000 115.5px,#ff7a00 119.5px,#fb0 121.5px,#ffeb00 122.5px,#d5ff2a 123.5px,#1cfbe3 125.5px,#009fff 126.5px,#0026ff 127.5px,#0000d3 128.5px,#0000cd 129.5px,#0020fd 130.5px,#09f 131.5px,#2afdd5 132.5px,#eff910 134.5px,#ff8b00 136.5px,#f40 138.5px,#ff0600 141.5px,#cf0000 149.5px,#cd0000 153.5px,#bf0000 156.5px,#b50000 164.5px,#b30000 171.5px,#cf0000 179.5px,#ff0400 183.5px,#ff3800 185.5px,#ff6400 186.5px,#ffa500 187.5px,#ebf514 188.5px,#62ff9d 189.5px,#00c5ff 190.5px,#0081ff 191.5px,#0edff1 192.5px,#97ff68 193.5px,#fbdf04 194.5px,#ff8f00 195.5px,#ff5800 196.5px,#ff2000 198.5px,#f00 201.5px,#ef0000 205.5px,#ed0000 209.5px,#df0000 212.5px,#df0000 217.5px,#cf0000 219.5px,#c70000 227.5px,#b90000 242.5px,#af0000 247.5px,#ab0000 268.5px,#9f0000 274.5px,#900 305.5px,#8f0000 315.5px,#8f0000 351.5px,#9f0000 353.5px,#9f0000 356.5px,#af0000 358.5px,#b30000 364.5px,#cf0000 369.5px,#fb0000 372.5px,#ff3400 374.5px,#ff9100 376.5px,#f1fd0e 378.5px,#cfff30 379.5px,#cfff30 380.5px,#f5fd0a 381.5px,#ff6800 384.5px,#ff1400 387.5px,#f50000 389.5px,#cf0000 395.5px,#bf0000 403.5px,#af0000 415.5px,#a70000 437.5px,#970000 487.5px,#8f0000 518px)"></div><div style="top:107px;background:linear-gradient(90deg,#0000df 0px,#0000e7 5.5px,#0000d3 7.5px,#0000ef 11.5px,#0000e3 16.5px,#0000d7 18.5px,#0000ef 25.5px,#0000bf 32.5px,#0000cb 34.5px,#0000c1 36.5px,#0000cb 37.5px,#0000bf 40.5px,#0000bf 41.5px,#0000f3 43.5px,#0000f7 44.5px,#0000e3 45.5px,#0016fb 46.5px,#0070ff 47.5px,#005cff 48.5px,#0008f3 49.5px,#0008f3 50.5px,#00a3ff 52.5px,#009fff 53.5px,#0004f7 55.5px,#0008f7 56.5px,#00c5ff 58.5px,#00d7ff 59.5px,#0097ff 60.5px,#0034ff 61.5px,#0000f3 62.5px,#001cff 63.5px,#007eff 64.5px,#00c7ff 65.5px,#00dfff 66.5px,#00c3ff 67.5px,#0014fd 69.5px,#0000f3 70.5px,#002eff 71.5px,#04f1fb 73.5px,#30ffcf 74.5px,#50ffaf 76.5px,#30ffcf 77.5px,#00e3ff 78.5px,#0010fb 80.5px,#0004f7 81.5px,#0054ff 82.5px,#04d7fb 83.5px,#56ffa9 84.5px,#b1ff4e 85.5px,#edff12 86.5px,#ffed00 87.5px,#ffcf00 89.5px,#fd0 91.5px,#fbfb04 92.5px,#c7ff38 93.5px,#6cff93 94.5px,#08e5f7 95.5px,#0056ff 96.5px,#0000df 97.5px,#0002e7 98.5px,#005eff 99.5px,#0ce5f3 100.5px,#72ff8d 101.5px,#d5ff2a 102.5px,#ffe100 103.5px,#ffad00 104.5px,#ff7000 106.5px,#ff4000 110.5px,#ff4200 115.5px,#ff7c00 119.5px,#ffe700 122.5px,#d7ff28 123.5px,#89ff76 124.5px,#26ffd9 125.5px,#00afff 126.5px,#003aff 127.5px,#0000df 128.5px,#0000c5 129.5px,#000ef7 130.5px,#0078ff 131.5px,#0eebf1 132.5px,#78ff87 133.5px,#d9ff26 134.5px,#ffd700 135.5px,#ff7000 137.5px,#ff3600 139.5px,#f00 142.5px,#cf0000 150.5px,#cd0000 154.5px,#bf0000 157.5px,#bf0000 176.5px,#ef0000 182.5px,#ff1800 184.5px,#ff5c00 186.5px,#f90 187.5px,#f5ed0a 188.5px,#83ff7c 189.5px,#06d9f9 190.5px,#007aff 191.5px,#00b3ff 192.5px,#5cffa3 193.5px,#e5f71a 194.5px,#ffad00 195.5px,#ff6c00 196.5px,#ff2a00 198.5px,#f00 201.5px,#ef0000 207.5px,#ef0000 210.5px,#df0000 214.5px,#d00 218.5px,#cf0000 220.5px,#c70000 228.5px,#bd0000 243.5px,#af0000 246.5px,#a90000 270.5px,#9f0000 280.5px,#970000 308.5px,#8f0000 351.5px,#9f0000 353.5px,#9f0000 356.5px,#af0000 358.5px,#af0000 364.5px,#bf0000 366.5px,#e70000 371.5px,#ff0e00 373.5px,#ff4e00 375.5px,#fbf504 378.5px,#d1ff2e 379.5px,#c1ff3e 380.5px,#d7ff28 381.5px,#fded02 382.5px,#ff8300 384.5px,#f20 387.5px,#f00 389.5px,#cf0000 395.5px,#bf0000 405.5px,#b90000 409.5px,#af0000 419.5px,#a70000 441.5px,#970000 491.5px,#8f0000 518px)"></div><div style="top:109px;background:linear-gradient(90deg,#0000df 0px,#0000e7 5.5px,#0000d3 7.5px,#0000ef 11.5px,#0000e3 16.5px,#0000d7 18.5px,#0000ef 25.5px,#0000bf 32.5px,#0000cb 34.5px,#0000bf 36.5px,#0000cb 37.5px,#0000bf 40.5px,#0000bf 41.5px,#0000f3 43.5px,#0000f7 44.5px,#0000e3 45.5px,#0014fb 46.5px,#0070ff 47.5px,#0060ff 48.5px,#0008f3 49.5px,#0004f3 50.5px,#00a1ff 52.5px,#009fff 53.5px,#0004f7 55.5px,#0008f7 56.5px,#00bfff 58.5px,#00d7ff 59.5px,#0097ff 60.5px,#0034ff 61.5px,#0000f3 62.5px,#001cfb 63.5px,#007aff 64.5px,#00c5ff 65.5px,#00dfff 66.5px,#00c3ff 67.5px,#0018ff 69.5px,#0000f3 70.5px,#002aff 71.5px,#04e9fb 73.5px,#2affd5 74.5px,#46ffb9 75.5px,#4cffb3 76.5px,#30ffcf 77.5px,#00e3ff 78.5px,#0012fb 80.5px,#0002f5 81.5px,#004aff 82.5px,#00cbff 83.5px,#48ffb7 84.5px,#a5ff5a 85.5px,#e1ff1e 86.5px,#fff500 87.5px,#ffd100 90.5px,#f9fb06 92.5px,#c7ff38 93.5px,#70ff8f 94.5px,#10e9ef 95.5px,#0062ff 96.5px,#0002e7 97.5px,#0000e3 98.5px,#004aff 99.5px,#02d5fd 100.5px,#5cffa3 101.5px,#c1ff3e 102.5px,#fded02 103.5px,#ff9300 105.5px,#ff5600 108.5px,#ff4000 113.5px,#ff5e00 117.5px,#ff9700 120.5px,#ffe700 122.5px,#d7ff28 123.5px,#91ff6e 124.5px,#32ffcd 125.5px,#00c3ff 126.5px,#004cff 127.5px,#0002e7 128.5px,#0000c5 129.5px,#0004ed 130.5px,#0058ff 131.5px,#02d5fd 132.5px,#58ffa7 133.5px,#bdff42 134.5px,#fded02 135.5px,#ff8000 137.5px,#ff2600 140.5px,#fd0000 143.5px,#df0000 147.5px,#cf0000 153.5px,#cd0000 155.5px,#bf0000 157.5px,#bf0000 176.5px,#ff0400 183.5px,#ff3000 185.5px,#ff5600 186.5px,#ff8f00 187.5px,#fde102 188.5px,#9fff60 189.5px,#14ebeb 190.5px,#0080ff 191.5px,#0085ff 192.5px,#26f5d9 193.5px,#bdff42 194.5px,#ffcd00 195.5px,#ff8100 196.5px,#ff3600 198.5px,#ff0800 201.5px,#ef0000 209.5px,#df0000 217.5px,#cf0000 223.5px,#c70000 229.5px,#bf0000 244.5px,#af0000 248.5px,#a90000 272.5px,#9f0000 277.5px,#9b0000 310.5px,#8f0000 316.5px,#8f0000 351.5px,#9f0000 353.5px,#af0000 361.5px,#af0000 364.5px,#bf0000 366.5px,#e30000 371.5px,#ff0600 373.5px,#ff6c00 376.5px,#ffdf00 378.5px,#e1ff1e 379.5px,#bf4 380.5px,#bfff40 381.5px,#e7ff18 382.5px,#ffdf00 383.5px,#ff7600 385.5px,#ff1c00 388.5px,#fd0000 390.5px,#cf0000 396.5px,#c50000 400.5px,#b00 411.5px,#af0000 417.5px,#a70000 444.5px,#970000 495.5px,#8f0000 518px)"></div><div style="top:111px;background:linear-gradient(90deg,#0000df 0px,#0000e7 5.5px,#0000d3 7.5px,#0000ef 11.5px,#0000e3 16.5px,#0000d7 18.5px,#0000ef 25.5px,#0000bf 32.5px,#0000cb 34.5px,#0000bf 36.5px,#0000cb 37.5px,#0000bf 40.5px,#0000bf 41.5px,#0000f3 43.5px,#0000f7 44.5px,#0000e3 45.5px,#0014fb 46.5px,#006eff 47.5px,#0060ff 48.5px,#000af5 49.5px,#0004f3 50.5px,#009fff 52.5px,#009fff 53.5px,#0006f7 55.5px,#0004f7 56.5px,#00b7ff 58.5px,#00cbff 59.5px,#0095ff 60.5px,#0034ff 61.5px,#0000f3 62.5px,#0014fb 63.5px,#0078ff 64.5px,#00c3ff 65.5px,#00dfff 66.5px,#00c3ff 67.5px,#0078ff 68.5px,#001aff 69.5px,#0000f1 70.5px,#0024ff 71.5px,#00e5ff 73.5px,#24ffdb 74.5px,#42ffbd 75.5px,#4affb5 76.5px,#2effd1 77.5px,#04e3fb 78.5px,#0018fd 80.5px,#0000f3 81.5px,#003cff 82.5px,#00bdff 83.5px,#3affc5 84.5px,#95ff6a 85.5px,#d7ff28 86.5px,#fbfb04 87.5px,#ffdf00 89.5px,#ffe700 91.5px,#f7fd08 92.5px,#c7ff38 93.5px,#10efef 95.5px,#006aff 96.5px,#0004e9 97.5px,#0000db 98.5px,#0038ff 99.5px,#00c1ff 100.5px,#46ffb9 101.5px,#adff52 102.5px,#f7f708 103.5px,#ff9f00 105.5px,#ff6e00 107.5px,#ff5000 110.5px,#ff5000 115.5px,#ff6e00 118.5px,#ff9700 120.5px,#ffe700 122.5px,#e3ff1c 123.5px,#9f6 124.5px,#3effc1 125.5px,#00d3ff 126.5px,#0060ff 127.5px,#0006f3 128.5px,#0000c5 129.5px,#0000e1 130.5px,#003aff 131.5px,#00b7ff 132.5px,#34ffcb 133.5px,#9fff60 134.5px,#eff910 135.5px,#ff8f00 137.5px,#ff3000 140.5px,#ff0200 143.5px,#df0000 148.5px,#cf0000 154.5px,#bf0000 160.5px,#bf0000 176.5px,#cf0000 178.5px,#ff0200 183.5px,#ff3000 185.5px,#ff5200 186.5px,#ff8700 187.5px,#ffd300 188.5px,#b9ff46 189.5px,#2af9d5 190.5px,#008fff 191.5px,#06f 192.5px,#08d5f7 193.5px,#87ff78 194.5px,#f5e90a 195.5px,#f60 197.5px,#ff2a00 199.5px,#ff0200 202.5px,#ef0000 210.5px,#df0000 218.5px,#cf0000 224.5px,#c70000 230.5px,#b90000 246.5px,#af0000 251.5px,#a70000 274.5px,#900 313.5px,#8f0000 323.5px,#930000 351.5px,#9f0000 354.5px,#af0000 360.5px,#af0000 364.5px,#df0000 371.5px,#fd0200 373.5px,#ff3400 375.5px,#ff8f00 377.5px,#ffcf00 378.5px,#effd10 379.5px,#bfff40 380.5px,#b1ff4e 381.5px,#c7ff38 382.5px,#f7f708 383.5px,#ff6800 386.5px,#ff2c00 388.5px,#fb0000 391.5px,#cf0000 397.5px,#c90000 401.5px,#bf0000 406.5px,#b50000 414.5px,#a70000 448.5px,#970000 499.5px,#8f0000 518px)"></div><div style="top:113px;background:linear-gradient(90deg,#0000df 0px,#0000e7 5.5px,#0000d3 7.5px,#0000ef 11.5px,#0000e3 16.5px,#0000d7 18.5px,#0000ef 25.5px,#0000bf 32.5px,#0000cb 34.5px,#0000bf 36.5px,#0000cb 37.5px,#0000bf 40.5px,#0000bf 41.5px,#0000f3 43.5px,#0000f7 44.5px,#0000e3 45.5px,#0014fb 46.5px,#006cff 47.5px,#0060ff 48.5px,#000cf7 49.5px,#0004f3 50.5px,#09f 52.5px,#0097ff 53.5px,#0008f7 55.5px,#0004f7 56.5px,#00b7ff 58.5px,#00cbff 59.5px,#0093ff 60.5px,#0036ff 61.5px,#0000f3 62.5px,#0014fb 63.5px,#00c1ff 65.5px,#00dbff 66.5px,#00c3ff 67.5px,#001cff 69.5px,#0000ef 70.5px,#0020ff 71.5px,#00e1ff 73.5px,#20ffdf 74.5px,#3cffc3 75.5px,#42ffbd 76.5px,#2cffd3 77.5px,#04e7fb 78.5px,#001cff 80.5px,#0000f3 81.5px,#0034ff 82.5px,#00afff 83.5px,#2affd5 84.5px,#8bff74 85.5px,#cdff32 86.5px,#f7ff08 87.5px,#ffdf00 90.5px,#f3ff0c 92.5px,#c7ff38 93.5px,#10efef 95.5px,#0076ff 96.5px,#0008ef 97.5px,#0000d9 98.5px,#002aff 99.5px,#00abff 100.5px,#2effd1 101.5px,#9bff64 102.5px,#ebfd14 103.5px,#ffd500 104.5px,#ff8b00 106.5px,#ff5000 110.5px,#ff5000 115.5px,#ff8300 119.5px,#ffe300 122.5px,#e7ff18 123.5px,#4cffb3 125.5px,#04dffb 126.5px,#0012f9 128.5px,#0000c9 129.5px,#0000d3 130.5px,#0020fd 131.5px,#0097ff 132.5px,#18f9e7 133.5px,#dbff24 135.5px,#ffdf00 136.5px,#ff7800 138.5px,#ff2600 141.5px,#f00 144.5px,#df0000 149.5px,#cf0000 155.5px,#bf0000 161.5px,#c30000 176.5px,#f00 183.5px,#ff2a00 185.5px,#ff7a00 187.5px,#ffc300 188.5px,#d5ff2a 189.5px,#48ffb7 190.5px,#00a7ff 191.5px,#0054ff 192.5px,#00a3ff 193.5px,#4affb5 194.5px,#dbfd24 195.5px,#ffbd00 196.5px,#ff7c00 197.5px,#ff5000 198.5px,#ff1200 201.5px,#f00 204.5px,#ef0000 208.5px,#ef0000 213.5px,#df0000 217.5px,#df0000 220.5px,#cf0000 224.5px,#c70000 231.5px,#bd0000 247.5px,#af0000 251.5px,#ad0000 275.5px,#9f0000 279.5px,#970000 316.5px,#930000 351.5px,#9f0000 354.5px,#af0000 360.5px,#af0000 364.5px,#d10000 370.5px,#f90000 373.5px,#ff2c00 375.5px,#ff7c00 377.5px,#fbef04 379.5px,#a7ff58 381.5px,#adff52 382.5px,#d5ff2a 383.5px,#fded02 384.5px,#ff8300 386.5px,#ff3c00 388.5px,#ff0400 391.5px,#cf0000 399.5px,#bf0000 409.5px,#b70000 416.5px,#a70000 452.5px,#970000 503.5px,#8f0000 518px)"></div><div style="top:115px;background:linear-gradient(90deg,#0000df 0px,#0000df 6.5px,#0000d7 8.5px,#0000ef 11.5px,#0000e3 16.5px,#0000d7 18.5px,#0000ef 25.5px,#0000bf 32.5px,#0000cb 34.5px,#0000bf 36.5px,#0000cb 37.5px,#0000bf 40.5px,#0000bf 41.5px,#0000f3 43.5px,#0000f7 44.5px,#0000e3 45.5px,#0012fb 46.5px,#006cff 47.5px,#0060ff 48.5px,#000cf7 49.5px,#0004f3 50.5px,#0093ff 52.5px,#0093ff 53.5px,#0008f7 55.5px,#0004f7 56.5px,#00b3ff 58.5px,#00cbff 59.5px,#0093ff 60.5px,#0038ff 61.5px,#0000f3 62.5px,#0010fb 63.5px,#006eff 64.5px,#00b9ff 65.5px,#00d3ff 66.5px,#00c3ff 67.5px,#001cff 69.5px,#0000ef 70.5px,#001cff 71.5px,#00d9ff 73.5px,#1affe5 74.5px,#38ffc7 75.5px,#40ffbf 76.5px,#2cffd3 77.5px,#04e7fb 78.5px,#0020ff 80.5px,#0000f3 81.5px,#002cff 82.5px,#009fff 83.5px,#20fbdf 84.5px,#80ff80 85.5px,#c5ff3a 86.5px,#efff10 87.5px,#ffed00 89.5px,#ffe700 90.5px,#f1ff0e 92.5px,#c5ff3a 93.5px,#16f7e9 95.5px,#0080ff 96.5px,#000cf3 97.5px,#0000d3 98.5px,#001efb 99.5px,#0097ff 100.5px,#1ef9e1 101.5px,#89ff76 102.5px,#df2 103.5px,#ffe300 104.5px,#ff9500 106.5px,#ff6000 109.5px,#ff5000 114.5px,#ff7400 118.5px,#ffbd00 121.5px,#ffe300 122.5px,#e7ff18 123.5px,#a7ff58 124.5px,#54ffab 125.5px,#06ebf9 126.5px,#001efd 128.5px,#0000d3 129.5px,#0000c9 130.5px,#000ef7 131.5px,#06e1f9 133.5px,#60ff9f 134.5px,#bdff42 135.5px,#fded02 136.5px,#ff8700 138.5px,#ff3000 141.5px,#ff0200 144.5px,#df0000 149.5px,#cd0000 158.5px,#bf0000 161.5px,#c70000 176.5px,#f00 183.5px,#ff2800 185.5px,#ff7600 187.5px,#ffb500 188.5px,#e5f91a 189.5px,#64ff9b 190.5px,#02c5fd 191.5px,#0056ff 192.5px,#006eff 193.5px,#1cefe3 194.5px,#a9ff56 195.5px,#fddd02 196.5px,#ff8f00 197.5px,#ff4000 199.5px,#ff1000 202.5px,#fb0000 206.5px,#ef0000 209.5px,#ed0000 214.5px,#df0000 217.5px,#df0000 221.5px,#cf0000 223.5px,#c70000 232.5px,#bf0000 248.5px,#af0000 252.5px,#a70000 278.5px,#970000 319.5px,#970000 351.5px,#af0000 360.5px,#b70000 365.5px,#bf0000 368.5px,#ff0800 374.5px,#ff6a00 377.5px,#ffdf00 379.5px,#dfff20 380.5px,#adff52 381.5px,#9fff60 382.5px,#b5ff4a 383.5px,#ebfd14 384.5px,#ffd900 385.5px,#ff7600 387.5px,#ff3600 389.5px,#ff0200 392.5px,#cf0000 400.5px,#c50000 404.5px,#b50000 419.5px,#a70000 456.5px,#970000 507.5px,#8f0000 518px)"></div><div style="top:117px;background:linear-gradient(90deg,#0000df 0px,#0000df 6.5px,#0000d7 8.5px,#0000ef 11.5px,#0000e3 16.5px,#0000d7 18.5px,#0000ef 25.5px,#0000bf 32.5px,#0000cb 34.5px,#0000bf 36.5px,#0000cb 37.5px,#0000bf 40.5px,#0000bf 41.5px,#0000f3 43.5px,#0000f7 44.5px,#0000e3 45.5px,#0010fb 46.5px,#006aff 47.5px,#0064ff 48.5px,#000cf7 49.5px,#0004f3 50.5px,#0093ff 52.5px,#0093ff 53.5px,#0008f7 55.5px,#0004f7 56.5px,#00abff 58.5px,#00cbff 59.5px,#0093ff 60.5px,#0038ff 61.5px,#0000f3 62.5px,#0010fb 63.5px,#00b7ff 65.5px,#00cfff 66.5px,#00c1ff 67.5px,#001eff 69.5px,#0000ef 70.5px,#001aff 71.5px,#00d3ff 73.5px,#14ffeb 74.5px,#34ffcb 75.5px,#40ffbf 76.5px,#28ffd7 77.5px,#04ebfb 78.5px,#0026ff 80.5px,#0000ef 81.5px,#02f 82.5px,#008fff 83.5px,#16f7e9 84.5px,#72ff8d 85.5px,#b7ff48 86.5px,#e5ff1a 87.5px,#fdff02 88.5px,#ffef00 90.5px,#efff10 92.5px,#c1ff3e 93.5px,#18f7e7 95.5px,#0089ff 96.5px,#0010f5 97.5px,#0000d3 98.5px,#0012fb 99.5px,#0083ff 100.5px,#12f3ed 101.5px,#cdff32 103.5px,#fdef02 104.5px,#ff9f00 106.5px,#ff6800 109.5px,#ff5400 114.5px,#ff7800 118.5px,#ffbf00 121.5px,#ffe300 122.5px,#e7ff18 123.5px,#5effa1 125.5px,#0ef1f1 126.5px,#002cff 128.5px,#0000df 129.5px,#0000c3 130.5px,#0004ed 131.5px,#0050ff 132.5px,#00c7ff 133.5px,#3effc1 134.5px,#9fff60 135.5px,#edfb12 136.5px,#ffcb00 137.5px,#ff7400 139.5px,#ff2600 142.5px,#f00 145.5px,#df0000 150.5px,#c30000 160.5px,#bf0000 175.5px,#f00 183.5px,#ff4800 186.5px,#ff6e00 187.5px,#f3f10c 189.5px,#83ff7c 190.5px,#0addf5 191.5px,#0062ff 192.5px,#0046ff 193.5px,#04c5fb 194.5px,#6eff91 195.5px,#ebf714 196.5px,#ffaf00 197.5px,#ff4c00 199.5px,#ff1400 202.5px,#f00 206.5px,#ef0000 210.5px,#eb0000 215.5px,#df0000 218.5px,#d00 222.5px,#cf0000 225.5px,#c70000 233.5px,#b00 250.5px,#af0000 256.5px,#a90000 280.5px,#9f0000 290.5px,#970000 322.5px,#970000 351.5px,#af0000 360.5px,#b50000 365.5px,#d90000 371.5px,#ff0200 374.5px,#ff3400 376.5px,#ff8900 378.5px,#f3f90c 380.5px,#bf4 381.5px,#97ff68 382.5px,#9dff62 383.5px,#f7f708 385.5px,#ff6800 388.5px,#ff1c00 391.5px,#f00 393.5px,#df0000 397.5px,#cf0000 403.5px,#bf0000 411.5px,#b70000 421.5px,#a70000 459.5px,#970000 511.5px,#8f0000 518px)"></div><div style="top:119px;background:linear-gradient(90deg,#0000df 0px,#0000df 6.5px,#0000d7 8.5px,#0000ef 11.5px,#0000e3 16.5px,#0000d7 18.5px,#0000ef 25.5px,#0000bf 32.5px,#0000cb 34.5px,#0000bf 36.5px,#0000cb 37.5px,#0000bf 40.5px,#0000bf 41.5px,#0000f3 43.5px,#0000f7 44.5px,#0000e3 45.5px,#0010fb 46.5px,#0068ff 47.5px,#0064ff 48.5px,#000cf7 49.5px,#0004f3 50.5px,#0093ff 52.5px,#0093ff 53.5px,#0008f7 55.5px,#0004f5 56.5px,#004cff 57.5px,#00a7ff 58.5px,#00c5ff 59.5px,#0093ff 60.5px,#0038ff 61.5px,#0000f3 62.5px,#000efb 63.5px,#00b5ff 65.5px,#00cfff 66.5px,#00bfff 67.5px,#007cff 68.5px,#0020ff 69.5px,#0000ef 70.5px,#0018ff 71.5px,#00cdff 73.5px,#12ffed 74.5px,#40ffbf 76.5px,#28ffd7 77.5px,#04ebfb 78.5px,#0093ff 79.5px,#002aff 80.5px,#0000f3 81.5px,#001cff 82.5px,#0eeff1 84.5px,#adff52 86.5px,#dbff24 87.5px,#fffd00 89.5px,#ffef00 90.5px,#fffd00 91.5px,#e7ff18 92.5px,#bf4 93.5px,#74ff8b 94.5px,#18f7e7 95.5px,#008fff 96.5px,#0018fb 97.5px,#0000d3 98.5px,#000af3 99.5px,#0070ff 100.5px,#06e7f9 101.5px,#62ff9d 102.5px,#bf4 103.5px,#f7f908 104.5px,#ffab00 106.5px,#ff7000 109.5px,#ff6000 113.5px,#ff6200 116.5px,#ffa100 120.5px,#ffe100 122.5px,#edff12 123.5px,#b5ff4a 124.5px,#12f9ed 126.5px,#00a5ff 127.5px,#003eff 128.5px,#0002e7 129.5px,#0000c3 130.5px,#0000e1 131.5px,#0036ff 132.5px,#00a7ff 133.5px,#1efbe1 134.5px,#d9ff26 136.5px,#ffdf00 137.5px,#ff8100 139.5px,#ff3000 142.5px,#f00 146.5px,#df0000 151.5px,#c90000 161.5px,#bf0000 166.5px,#c50000 175.5px,#df0000 180.5px,#f00 183.5px,#ff4000 186.5px,#ff9f00 188.5px,#fbe704 189.5px,#a7ff58 190.5px,#1cf1e3 191.5px,#007aff 192.5px,#0034ff 193.5px,#0087ff 194.5px,#34fbcb 195.5px,#bfff40 196.5px,#ffd300 197.5px,#ff8f00 198.5px,#ff4000 200.5px,#ff1000 203.5px,#f00 207.5px,#ef0000 211.5px,#e70000 216.5px,#db0000 223.5px,#cf0000 226.5px,#c70000 234.5px,#bf0000 251.5px,#af0000 255.5px,#a70000 283.5px,#970000 325.5px,#8f0000 350.5px,#9f0000 354.5px,#af0000 360.5px,#b30000 365.5px,#df0000 372.5px,#fb0000 374.5px,#ff2c00 376.5px,#ff7600 378.5px,#fded02 380.5px,#cfff30 381.5px,#9dff62 382.5px,#8fff70 383.5px,#a3ff5c 384.5px,#d9ff26 385.5px,#fded02 386.5px,#ff8300 388.5px,#ff2a00 391.5px,#f00 394.5px,#df0000 398.5px,#cf0000 404.5px,#bf0000 412.5px,#b70000 424.5px,#a70000 463.5px,#970000 518px)"></div><div style="top:121px;background:linear-gradient(90deg,#0000df 0px,#0000df 6.5px,#0000d7 8.5px,#0000ef 11.5px,#0000e3 16.5px,#0000d7 18.5px,#0000ef 25.5px,#0000bf 32.5px,#0000cb 34.5px,#0000bf 36.5px,#0000cb 37.5px,#0000bf 40.5px,#0000bf 41.5px,#0000f3 43.5px,#0000f7 44.5px,#0000e3 45.5px,#0010fb 46.5px,#06f 47.5px,#0064ff 48.5px,#000efb 49.5px,#0004f1 50.5px,#008fff 52.5px,#0093ff 53.5px,#000cf9 55.5px,#0004f3 56.5px,#004aff 57.5px,#00a7ff 58.5px,#00bfff 59.5px,#0093ff 60.5px,#0038ff 61.5px,#0000f3 62.5px,#000cfb 63.5px,#00b3ff 65.5px,#00cfff 66.5px,#00bfff 67.5px,#007eff 68.5px,#0020ff 69.5px,#0000ef 70.5px,#0012ff 71.5px,#00c5ff 73.5px,#0cfbf3 74.5px,#2cffd3 75.5px,#3affc5 76.5px,#24ffdb 77.5px,#04ebfb 78.5px,#0097ff 79.5px,#0030ff 80.5px,#0000f3 81.5px,#0016ff 82.5px,#08e9f7 84.5px,#58ffa7 85.5px,#a1ff5e 86.5px,#d1ff2e 87.5px,#fdff02 89.5px,#fdff02 91.5px,#e7ff18 92.5px,#78ff87 94.5px,#1cfbe3 95.5px,#009bff 96.5px,#001efb 97.5px,#0000d3 98.5px,#0006f3 99.5px,#005cff 100.5px,#02d5fd 101.5px,#4cffb3 102.5px,#a9ff56 103.5px,#edfd12 104.5px,#fd0 105.5px,#f90 107.5px,#ff7000 110.5px,#ff6000 114.5px,#ff7e00 118.5px,#ffbf00 121.5px,#efff10 123.5px,#72ff8d 125.5px,#1efde1 126.5px,#00b5ff 127.5px,#004eff 128.5px,#0006f3 129.5px,#0000c5 130.5px,#0000d3 131.5px,#001efd 132.5px,#0cebf3 134.5px,#64ff9b 135.5px,#bf4 136.5px,#f9f306 137.5px,#ff6c00 140.5px,#ff2a00 143.5px,#ff0200 146.5px,#df0000 152.5px,#df0000 155.5px,#cf0000 159.5px,#bf0000 169.5px,#c50000 174.5px,#cf0000 178.5px,#f00 183.5px,#ff4000 186.5px,#ff6200 187.5px,#fd0 189.5px,#b9ff46 190.5px,#34fdcb 191.5px,#0095ff 192.5px,#002eff 193.5px,#0052ff 194.5px,#0edff1 195.5px,#8bff74 196.5px,#f5ef0a 197.5px,#ff7200 199.5px,#ff3600 201.5px,#ff0600 205.5px,#f50000 209.5px,#ef0000 216.5px,#df0000 220.5px,#d90000 224.5px,#cf0000 229.5px,#c70000 235.5px,#b00 253.5px,#af0000 259.5px,#a90000 285.5px,#9f0000 295.5px,#970000 328.5px,#8f0000 350.5px,#9f0000 354.5px,#af0000 360.5px,#b10000 365.5px,#bf0000 367.5px,#cf0000 371.5px,#ff0800 375.5px,#ff3e00 377.5px,#ff9300 379.5px,#ffcf00 380.5px,#edfd12 381.5px,#adff52 382.5px,#87ff78 383.5px,#89ff76 384.5px,#afff50 385.5px,#edfd12 386.5px,#ffd900 387.5px,#ff7800 389.5px,#ff3c00 391.5px,#ff0800 394.5px,#cf0000 403.5px,#c30000 409.5px,#b70000 427.5px,#a70000 467.5px,#9f0000 518px)"></div><div style="top:123px;background:linear-gradient(90deg,#0000df 0px,#0000df 6.5px,#0000d7 8.5px,#0000ef 11.5px,#0000e3 16.5px,#0000d3 17.5px,#0000ef 25.5px,#0000bf 32.5px,#0000cb 34.5px,#0000bf 36.5px,#0000cb 37.5px,#0000bf 40.5px,#0000bf 41.5px,#0000f3 43.5px,#0000f7 44.5px,#0000e3 45.5px,#0010fb 46.5px,#0064ff 47.5px,#0064ff 48.5px,#0010fb 49.5px,#0004ef 50.5px,#008fff 52.5px,#0091ff 53.5px,#000cfb 55.5px,#0000f3 56.5px,#0046ff 57.5px,#00a1ff 58.5px,#00bfff 59.5px,#0093ff 60.5px,#003aff 61.5px,#0000f3 62.5px,#000cfb 63.5px,#00abff 65.5px,#00cfff 66.5px,#00bfff 67.5px,#0080ff 68.5px,#0024ff 69.5px,#0000f3 70.5px,#000efb 71.5px,#00c1ff 73.5px,#0afbf5 74.5px,#28ffd7 75.5px,#30ffcf 76.5px,#24ffdb 77.5px,#04effb 78.5px,#0034ff 80.5px,#0000f3 81.5px,#000efb 82.5px,#006eff 83.5px,#04dffb 84.5px,#4cffb3 85.5px,#97ff68 86.5px,#e7ff18 88.5px,#ff0 90.5px,#f9ff06 91.5px,#b7ff48 93.5px,#78ff87 94.5px,#20fbdf 95.5px,#009fff 96.5px,#0024fd 97.5px,#0000d3 98.5px,#0002e9 99.5px,#004cff 100.5px,#00c7ff 101.5px,#38ffc7 102.5px,#97ff68 103.5px,#dfff20 104.5px,#ffe900 105.5px,#ffa300 107.5px,#ff7200 110.5px,#ff6000 114.5px,#ff8000 118.5px,#ffdf00 122.5px,#f1ff0e 123.5px,#76ff89 125.5px,#2fd 126.5px,#00c3ff 127.5px,#0060ff 128.5px,#000ef9 129.5px,#0000cd 130.5px,#0000cb 131.5px,#000cf7 132.5px,#0064ff 133.5px,#02d3fd 134.5px,#40ffbf 135.5px,#9fff60 136.5px,#edfd12 137.5px,#ffd100 138.5px,#ff5c00 141.5px,#ff1200 145.5px,#f90000 148.5px,#df0000 153.5px,#df0000 156.5px,#cf0000 160.5px,#bf0000 171.5px,#df0000 180.5px,#f00 183.5px,#ff3e00 186.5px,#ff8900 188.5px,#ffcb00 189.5px,#d5ff2a 190.5px,#54ffab 191.5px,#00b7ff 192.5px,#003aff 193.5px,#0026ff 194.5px,#00a9ff 195.5px,#4effb1 196.5px,#d5fd2a 197.5px,#ffc700 198.5px,#ff5c00 200.5px,#ff2000 203.5px,#f00 207.5px,#ef0000 215.5px,#df0000 223.5px,#cf0000 229.5px,#c70000 236.5px,#bf0000 254.5px,#af0000 258.5px,#a70000 288.5px,#970000 332.5px,#8f0000 350.5px,#9f0000 352.5px,#a30000 356.5px,#af0000 359.5px,#af0000 365.5px,#bf0000 367.5px,#bf0000 369.5px,#ff0400 375.5px,#ff5600 378.5px,#ffb900 380.5px,#f7f508 381.5px,#8dff72 383.5px,#7eff81 384.5px,#91ff6e 385.5px,#f7f708 387.5px,#ff6e00 390.5px,#f20 393.5px,#fd0000 396.5px,#df0000 401.5px,#cf0000 407.5px,#bf0000 417.5px,#b70000 430.5px,#a70000 471.5px,#9f0000 518px)"></div><div style="top:125px;background:linear-gradient(90deg,#0000df 0px,#0000df 6.5px,#0000d7 8.5px,#0000ef 11.5px,#0000e3 16.5px,#0000d3 17.5px,#0000ef 25.5px,#0000bf 32.5px,#0000cb 34.5px,#0000bf 36.5px,#0000cb 37.5px,#0000bf 40.5px,#0000bf 41.5px,#0000ef 43.5px,#0000f7 44.5px,#0000e3 45.5px,#0010fb 46.5px,#0064ff 47.5px,#0064ff 48.5px,#0010fb 49.5px,#0002ef 50.5px,#0085ff 52.5px,#008fff 53.5px,#000cfb 55.5px,#0000f3 56.5px,#04f 57.5px,#09f 58.5px,#00bdff 59.5px,#0093ff 60.5px,#003eff 61.5px,#0000f3 62.5px,#000cfb 63.5px,#00a7ff 65.5px,#00cdff 66.5px,#00bfff 67.5px,#0080ff 68.5px,#0028ff 69.5px,#0000f3 70.5px,#000cfb 71.5px,#00b9ff 73.5px,#06fbf9 74.5px,#24ffdb 75.5px,#30ffcf 76.5px,#04effb 78.5px,#009dff 79.5px,#0038ff 80.5px,#0000f3 81.5px,#000cfb 82.5px,#0062ff 83.5px,#00d5ff 84.5px,#3cffc3 85.5px,#87ff78 86.5px,#c1ff3e 87.5px,#edff12 89.5px,#f1ff0e 91.5px,#df2 92.5px,#b5ff4a 93.5px,#78ff87 94.5px,#20fbdf 95.5px,#00a7ff 96.5px,#002cff 97.5px,#0000db 98.5px,#0000e7 99.5px,#003cff 100.5px,#00b1ff 101.5px,#24fddb 102.5px,#85ff7a 103.5px,#cfff30 104.5px,#fdf502 105.5px,#ffab00 107.5px,#ff7000 111.5px,#ff7000 116.5px,#ffa700 120.5px,#f3ff0c 123.5px,#7aff85 125.5px,#2effd1 126.5px,#00d3ff 127.5px,#0018fd 129.5px,#0000d5 130.5px,#0000c5 131.5px,#0002ed 132.5px,#0048ff 133.5px,#00b3ff 134.5px,#22fddd 135.5px,#83ff7c 136.5px,#d1ff2e 137.5px,#ffeb00 138.5px,#ff8b00 140.5px,#ff3a00 143.5px,#f00 148.5px,#df0000 154.5px,#df0000 157.5px,#cf0000 161.5px,#cf0000 177.5px,#f00 183.5px,#ff3800 186.5px,#ff8500 188.5px,#ffc100 189.5px,#e7fb18 190.5px,#76ff89 191.5px,#06d9f9 192.5px,#004eff 193.5px,#0012ff 194.5px,#0068ff 195.5px,#1eefe1 196.5px,#9fff60 197.5px,#fbe904 198.5px,#ff9f00 199.5px,#ff4e00 201.5px,#ff1a00 204.5px,#f00 208.5px,#ef0000 216.5px,#df0000 222.5px,#d50000 226.5px,#cb0000 237.5px,#bf0000 240.5px,#b00 256.5px,#af0000 262.5px,#a90000 290.5px,#9f0000 300.5px,#970000 336.5px,#8f0000 350.5px,#9f0000 352.5px,#a30000 356.5px,#af0000 359.5px,#af0000 365.5px,#df0000 373.5px,#fb0000 375.5px,#ff4800 378.5px,#ffa100 380.5px,#ffdf00 381.5px,#dfff20 382.5px,#a1ff5e 383.5px,#78ff87 384.5px,#76ff89 385.5px,#cfff30 387.5px,#fded02 388.5px,#ff8700 390.5px,#ff3000 393.5px,#fd0000 397.5px,#df0000 402.5px,#cf0000 408.5px,#c70000 412.5px,#b70000 433.5px,#a70000 475.5px,#9f0000 518px)"></div><div style="top:127px;background:linear-gradient(90deg,#0000df 0px,#0000df 6.5px,#0000d7 8.5px,#0000ef 11.5px,#0000e3 16.5px,#0000d3 17.5px,#0000ef 25.5px,#0000bf 32.5px,#0000cb 34.5px,#0000bf 36.5px,#0000cb 37.5px,#0000bf 40.5px,#0000bf 41.5px,#0000ef 43.5px,#0000f7 44.5px,#0000e3 45.5px,#0010fb 46.5px,#0064ff 47.5px,#0064ff 48.5px,#0010fb 49.5px,#0000ef 50.5px,#0083ff 52.5px,#008bff 53.5px,#000cfb 55.5px,#0000f3 56.5px,#003eff 57.5px,#0097ff 58.5px,#0bf 59.5px,#0093ff 60.5px,#0040ff 61.5px,#0000f5 62.5px,#0008f7 63.5px,#00a7ff 65.5px,#00cbff 66.5px,#00bfff 67.5px,#0080ff 68.5px,#002cff 69.5px,#0000f3 70.5px,#000cfb 71.5px,#00b3ff 73.5px,#04f3fb 74.5px,#30ffcf 76.5px,#04f1fb 78.5px,#003eff 80.5px,#0002f7 81.5px,#000afb 82.5px,#0056ff 83.5px,#00c7ff 84.5px,#32ffcd 85.5px,#80ff80 86.5px,#b5ff4a 87.5px,#d7ff28 88.5px,#efff10 90.5px,#edff12 91.5px,#b3ff4c 93.5px,#78ff87 94.5px,#20ffdf 95.5px,#00afff 96.5px,#0032ff 97.5px,#0000db 98.5px,#00d 99.5px,#002eff 100.5px,#009dff 101.5px,#18f9e7 102.5px,#bfff40 104.5px,#f7fb08 105.5px,#ff9f00 108.5px,#ff7200 112.5px,#ff7600 116.5px,#ffa900 120.5px,#f3ff0c 123.5px,#85ff7a 125.5px,#36ffc9 126.5px,#00dfff 127.5px,#0026ff 129.5px,#00d 130.5px,#0000c3 131.5px,#0000e1 132.5px,#002eff 133.5px,#0cf3f3 135.5px,#b9ff46 137.5px,#f7f708 138.5px,#ff9b00 140.5px,#ff4600 143.5px,#ff0e00 147.5px,#f30000 150.5px,#df0000 156.5px,#cf0000 164.5px,#cf0000 177.5px,#f00 183.5px,#ff3800 186.5px,#ff7e00 188.5px,#f1f50e 190.5px,#95ff6a 191.5px,#14edeb 192.5px,#006aff 193.5px,#000efd 194.5px,#0032ff 195.5px,#02c3fd 196.5px,#68ff97 197.5px,#e3fd1c 198.5px,#ffc100 199.5px,#ff8500 200.5px,#ff5c00 201.5px,#ff2000 204.5px,#f00 209.5px,#ef0000 217.5px,#df0000 223.5px,#df0000 226.5px,#cf0000 230.5px,#cb0000 238.5px,#bf0000 241.5px,#bf0000 257.5px,#af0000 261.5px,#a70000 293.5px,#970000 341.5px,#910000 350.5px,#9f0000 352.5px,#a30000 356.5px,#af0000 359.5px,#af0000 365.5px,#df0000 373.5px,#ff0800 376.5px,#ff5e00 379.5px,#f7f708 382.5px,#81ff7e 384.5px,#6cff93 385.5px,#7aff85 386.5px,#e5fd1a 388.5px,#fd0 389.5px,#ff7e00 391.5px,#ff2e00 394.5px,#ff0200 397.5px,#df0000 403.5px,#cf0000 409.5px,#c50000 414.5px,#b70000 436.5px,#a70000 479.5px,#9f0000 518px)"></div><div style="top:129px;background:linear-gradient(90deg,#0000df 0px,#0000df 6.5px,#0000d7 8.5px,#0000ef 11.5px,#0000e3 16.5px,#0000d3 17.5px,#0000ef 25.5px,#0000bf 32.5px,#0000cb 34.5px,#0000bf 36.5px,#0000cf 37.5px,#0000bf 39.5px,#0000bf 41.5px,#0000ef 43.5px,#0000f7 44.5px,#0000e3 45.5px,#000cfb 46.5px,#0064ff 47.5px,#0064ff 48.5px,#0010fb 49.5px,#0000ef 50.5px,#0083ff 52.5px,#008bff 53.5px,#000cfb 55.5px,#0000f3 56.5px,#003aff 57.5px,#0097ff 58.5px,#00b7ff 59.5px,#0093ff 60.5px,#0040ff 61.5px,#0002f7 62.5px,#0006f7 63.5px,#00a7ff 65.5px,#00c9ff 66.5px,#00bdff 67.5px,#0080ff 68.5px,#002cff 69.5px,#0000f3 70.5px,#000cfb 71.5px,#0052ff 72.5px,#00adff 73.5px,#02f3fd 74.5px,#2effd1 76.5px,#02f3fd 78.5px,#0040ff 80.5px,#0004f7 81.5px,#0004f7 82.5px,#004eff 83.5px,#0bf 84.5px,#24ffdb 85.5px,#76ff89 86.5px,#adff52 87.5px,#dfff20 89.5px,#ebff14 90.5px,#d5ff2a 92.5px,#afff50 93.5px,#78ff87 94.5px,#20ffdf 95.5px,#00b1ff 96.5px,#003cff 97.5px,#0000df 98.5px,#0000db 99.5px,#0020ff 100.5px,#0cf1f3 102.5px,#afff50 104.5px,#ebff14 105.5px,#ffe500 106.5px,#ff9500 109.5px,#ff8000 112.5px,#ff8000 117.5px,#ffab00 120.5px,#f3ff0c 123.5px,#87ff78 125.5px,#3effc1 126.5px,#04e7fb 127.5px,#0032ff 129.5px,#0000e7 130.5px,#0000c3 131.5px,#0000d5 132.5px,#0018fd 133.5px,#02ddfd 135.5px,#48ffb7 136.5px,#e5ff1a 138.5px,#fd0 139.5px,#ff6a00 142.5px,#ff2000 146.5px,#fd0000 150.5px,#df0000 157.5px,#cf0000 165.5px,#cf0000 177.5px,#ff0200 183.5px,#ff5200 187.5px,#ffa700 189.5px,#fbeb04 190.5px,#a9ff56 191.5px,#2afbd5 192.5px,#008dff 193.5px,#001aff 194.5px,#000cf7 195.5px,#0080ff 196.5px,#2cfbd3 197.5px,#afff50 198.5px,#fde302 199.5px,#ff9f00 200.5px,#ff5000 202.5px,#ff1200 206.5px,#f00 211.5px,#ef0000 217.5px,#df0000 225.5px,#cf0000 233.5px,#cb0000 239.5px,#bf0000 245.5px,#b00 259.5px,#af0000 265.5px,#a90000 295.5px,#9f0000 305.5px,#9f0000 355.5px,#af0000 359.5px,#b70000 366.5px,#cf0000 372.5px,#ff0200 376.5px,#ff4e00 379.5px,#ffad00 381.5px,#fde702 382.5px,#cfff30 383.5px,#91ff6e 384.5px,#6aff95 385.5px,#64ff9b 386.5px,#83ff7c 387.5px,#f1f90e 389.5px,#ff9b00 391.5px,#ff3e00 394.5px,#ff0200 398.5px,#df0000 404.5px,#cf0000 412.5px,#bf0000 422.5px,#b70000 439.5px,#a70000 483.5px,#9f0000 518px)"></div><div style="top:131px;background:linear-gradient(90deg,#0000df 0px,#0000df 6.5px,#0000d7 8.5px,#0000ef 11.5px,#0000e3 16.5px,#0000d3 17.5px,#0000ef 25.5px,#0000bf 32.5px,#0000cb 34.5px,#0000bf 36.5px,#0000cf 37.5px,#0000bf 39.5px,#0000bf 41.5px,#0000ef 43.5px,#0000f7 44.5px,#0000e3 45.5px,#000cfb 46.5px,#0064ff 47.5px,#0068ff 48.5px,#0010fb 49.5px,#0000ef 50.5px,#0083ff 52.5px,#008bff 53.5px,#000cfb 55.5px,#0000f3 56.5px,#0038ff 57.5px,#0093ff 58.5px,#00afff 59.5px,#0091ff 60.5px,#0040ff 61.5px,#0004f7 62.5px,#0004f7 63.5px,#00a1ff 65.5px,#00c5ff 66.5px,#00b7ff 67.5px,#0080ff 68.5px,#002cff 69.5px,#0000f3 70.5px,#0008fb 71.5px,#004eff 72.5px,#00edff 74.5px,#18ffe7 75.5px,#24ffdb 76.5px,#1cffe3 77.5px,#00f3ff 78.5px,#0048ff 80.5px,#0004f7 81.5px,#0004f7 82.5px,#04f 83.5px,#00afff 84.5px,#1afbe5 85.5px,#68ff97 86.5px,#a1ff5e 87.5px,#c5ff3a 88.5px,#dfff20 90.5px,#dfff20 91.5px,#adff52 93.5px,#78ff87 94.5px,#24ffdb 95.5px,#0bf 96.5px,#0042ff 97.5px,#0000e7 98.5px,#0000d7 99.5px,#0018fb 100.5px,#04e3fb 102.5px,#4cffb3 103.5px,#9dff62 104.5px,#df2 105.5px,#fff100 106.5px,#ffb500 108.5px,#ff8700 111.5px,#ff8500 117.5px,#ffc700 121.5px,#f3ff0c 123.5px,#87ff78 125.5px,#46ffb9 126.5px,#04edfb 127.5px,#0040ff 129.5px,#0004f3 130.5px,#0000c7 131.5px,#0000cb 132.5px,#000af7 133.5px,#0058ff 134.5px,#00bfff 135.5px,#28ffd7 136.5px,#cfff30 138.5px,#fdef02 139.5px,#ff7600 142.5px,#ff2600 146.5px,#fd0000 151.5px,#ef0000 154.5px,#cf0000 164.5px,#d50000 177.5px,#ff0400 183.5px,#ff5000 187.5px,#ffa300 189.5px,#ffe100 190.5px,#c1ff3e 191.5px,#48ffb7 192.5px,#00b1ff 193.5px,#002cff 194.5px,#0000f1 195.5px,#0042ff 196.5px,#0ad7f5 197.5px,#7cff83 198.5px,#e9f916 199.5px,#ffbf00 200.5px,#ff8500 201.5px,#ff3200 204.5px,#ff1000 207.5px,#f00 212.5px,#ef0000 218.5px,#ef0000 220.5px,#df0000 222.5px,#d00 228.5px,#cf0000 231.5px,#cd0000 240.5px,#bf0000 243.5px,#b90000 261.5px,#af0000 271.5px,#a70000 298.5px,#a30000 356.5px,#af0000 359.5px,#b30000 366.5px,#bf0000 369.5px,#ef0000 375.5px,#ff1000 377.5px,#f60 380.5px,#ffcf00 382.5px,#edfd12 383.5px,#76ff89 385.5px,#5cffa3 386.5px,#6f9 387.5px,#8fff70 388.5px,#cfff30 389.5px,#fdf102 390.5px,#ff6e00 393.5px,#ff2800 396.5px,#fd0000 400.5px,#df0000 405.5px,#cf0000 413.5px,#c50000 418.5px,#b70000 442.5px,#a70000 487.5px,#9f0000 518px)"></div><div style="top:133px;background:linear-gradient(90deg,#0000df 0px,#0000df 6.5px,#0000d7 8.5px,#0000ef 11.5px,#0000e3 16.5px,#0000d3 17.5px,#0000ef 25.5px,#0000bf 32.5px,#0000cb 34.5px,#0000bf 36.5px,#0000cf 37.5px,#0000bf 39.5px,#0000bf 41.5px,#0000ef 43.5px,#0000f9 44.5px,#0000e3 45.5px,#000cfb 46.5px,#0064ff 47.5px,#0068ff 48.5px,#0010fb 49.5px,#0000ef 50.5px,#0080ff 52.5px,#0087ff 53.5px,#0054ff 54.5px,#000cfb 55.5px,#0000f3 56.5px,#0036ff 57.5px,#0089ff 58.5px,#00afff 59.5px,#008fff 60.5px,#0040ff 61.5px,#0004f7 62.5px,#0004f7 63.5px,#0097ff 65.5px,#00bfff 66.5px,#00b7ff 67.5px,#0083ff 68.5px,#002eff 69.5px,#0000f3 70.5px,#0004fb 71.5px,#004aff 72.5px,#00a1ff 73.5px,#00e7ff 74.5px,#14ffeb 75.5px,#1cffe3 77.5px,#00f3ff 78.5px,#004aff 80.5px,#0004f9 81.5px,#0002f7 82.5px,#003aff 83.5px,#00a3ff 84.5px,#12f9ed 85.5px,#5effa1 86.5px,#97ff68 87.5px,#bdff42 88.5px,#df2 90.5px,#df2 91.5px,#abff54 93.5px,#78ff87 94.5px,#24ffdb 95.5px,#00bfff 96.5px,#004cff 97.5px,#0002e7 98.5px,#0000d3 99.5px,#000efb 100.5px,#0068ff 101.5px,#00d7ff 102.5px,#3affc5 103.5px,#8dff72 104.5px,#cdff32 105.5px,#f9f906 106.5px,#fb0 108.5px,#ff8f00 111.5px,#ff8000 115.5px,#ffa300 119.5px,#ffe700 122.5px,#f1ff0e 123.5px,#c7ff38 124.5px,#0af3f5 127.5px,#004eff 129.5px,#0008f7 130.5px,#0000cf 131.5px,#0000c5 132.5px,#0002ed 133.5px,#0042ff 134.5px,#10f7ef 136.5px,#b1ff4e 138.5px,#f3fd0c 139.5px,#ff8300 142.5px,#ff3e00 145.5px,#ff0400 150.5px,#cf0000 166.5px,#d30000 176.5px,#ff0400 183.5px,#ff3400 186.5px,#f90 189.5px,#ffd700 190.5px,#d9ff26 191.5px,#68ff97 192.5px,#06d3f9 193.5px,#0048ff 194.5px,#0000e9 195.5px,#0010f7 196.5px,#09f 197.5px,#3efdc1 198.5px,#bdff42 199.5px,#fddf02 200.5px,#ff9f00 201.5px,#ff5400 203.5px,#ff2e00 205.5px,#f00 210.5px,#f70000 215.5px,#ed0000 221.5px,#df0000 224.5px,#d00 229.5px,#cf0000 232.5px,#cf0000 241.5px,#bf0000 245.5px,#b90000 263.5px,#af0000 273.5px,#a90000 300.5px,#9f0000 310.5px,#a30000 356.5px,#af0000 359.5px,#b10000 366.5px,#bf0000 368.5px,#bf0000 370.5px,#ff0600 377.5px,#ff5600 380.5px,#ffaf00 382.5px,#fded02 383.5px,#cfff30 384.5px,#5cffa3 386.5px,#52ffad 387.5px,#68ff97 388.5px,#dfff20 390.5px,#ffe300 391.5px,#ff8700 393.5px,#ff3800 396.5px,#ff0200 400.5px,#df0000 407.5px,#cf0000 415.5px,#c70000 420.5px,#b70000 446.5px,#a70000 491.5px,#9f0000 518px)"></div><div style="top:135px;background:linear-gradient(90deg,#0000df 0px,#0000df 6.5px,#0000d7 8.5px,#0000ef 11.5px,#0000e3 16.5px,#0000d3 17.5px,#0000ef 25.5px,#0000bf 32.5px,#0000cb 34.5px,#0000bf 36.5px,#0000cf 37.5px,#0000bf 39.5px,#0000bf 41.5px,#0000fb 44.5px,#0000e3 45.5px,#000cf7 46.5px,#0060ff 47.5px,#0068ff 48.5px,#0010fb 49.5px,#0000eb 50.5px,#0034ff 51.5px,#007eff 52.5px,#0087ff 53.5px,#0054ff 54.5px,#000cfb 55.5px,#0000f3 56.5px,#0030ff 57.5px,#0087ff 58.5px,#00afff 59.5px,#008dff 60.5px,#0040ff 61.5px,#0004f7 62.5px,#0004f7 63.5px,#0097ff 65.5px,#00bfff 66.5px,#00b7ff 67.5px,#0083ff 68.5px,#0030ff 69.5px,#0000f3 70.5px,#0004f7 71.5px,#0042ff 72.5px,#009dff 73.5px,#00e5ff 74.5px,#0efff1 75.5px,#20ffdf 76.5px,#00f3ff 78.5px,#00abff 79.5px,#0050ff 80.5px,#0008fb 81.5px,#0000f3 82.5px,#0030ff 83.5px,#0af1f5 85.5px,#8dff72 87.5px,#c9ff36 89.5px,#d1ff2e 91.5px,#c7ff38 92.5px,#78ff87 94.5px,#24ffdb 95.5px,#00c3ff 96.5px,#0052ff 97.5px,#0004ef 98.5px,#0000d3 99.5px,#000af3 100.5px,#005aff 101.5px,#00c1ff 102.5px,#2affd5 103.5px,#bfff40 105.5px,#f1ff0e 106.5px,#ffc700 108.5px,#ff9500 111.5px,#ff8f00 117.5px,#ffcd00 121.5px,#efff10 123.5px,#93ff6c 125.5px,#0cf9f3 127.5px,#005eff 129.5px,#0010fb 130.5px,#0000d3 131.5px,#0000c1 132.5px,#0000e3 133.5px,#0026ff 134.5px,#02e5fd 136.5px,#48ffb7 137.5px,#dfff20 139.5px,#ffe700 140.5px,#ff7600 143.5px,#ff2a00 147.5px,#f00 152.5px,#df0000 162.5px,#cf0000 170.5px,#d30000 175.5px,#df0000 178.5px,#ff0400 183.5px,#ff4a00 187.5px,#ff9100 189.5px,#ffc700 190.5px,#e7fd18 191.5px,#85ff7a 192.5px,#14ebeb 193.5px,#006aff 194.5px,#0006f3 195.5px,#0002df 196.5px,#0056ff 197.5px,#10e5ef 198.5px,#87ff78 199.5px,#ebf714 200.5px,#ffbf00 201.5px,#ff8500 202.5px,#ff4800 204.5px,#ff1200 208.5px,#f00 213.5px,#eb0000 222.5px,#df0000 225.5px,#d00 230.5px,#cf0000 233.5px,#cf0000 242.5px,#bf0000 246.5px,#b00 265.5px,#af0000 271.5px,#a70000 303.5px,#9f0000 355.5px,#af0000 359.5px,#af0000 366.5px,#bf0000 368.5px,#d10000 373.5px,#ff0200 377.5px,#ff4600 380.5px,#ffcf00 383.5px,#edfd12 384.5px,#a3ff5c 385.5px,#6cff93 386.5px,#48ffb7 387.5px,#4effb1 388.5px,#74ff8b 389.5px,#edfd12 391.5px,#ffd700 392.5px,#ff8000 394.5px,#ff3400 397.5px,#ff0200 401.5px,#df0000 409.5px,#cf0000 415.5px,#c70000 422.5px,#b70000 449.5px,#a70000 495.5px,#9f0000 518px)"></div><div style="top:137px;background:linear-gradient(90deg,#0000df 0px,#0000df 6.5px,#0000d7 8.5px,#0000ef 11.5px,#0000e3 16.5px,#0000d3 17.5px,#0000ef 25.5px,#0000bf 32.5px,#0000cb 34.5px,#0000bf 36.5px,#0000cf 37.5px,#0000bf 39.5px,#0000bf 41.5px,#0000fb 44.5px,#0000e3 45.5px,#000cf7 46.5px,#0060ff 47.5px,#0068ff 48.5px,#0014fb 49.5px,#0000eb 50.5px,#0032ff 51.5px,#0076ff 52.5px,#0087ff 53.5px,#0054ff 54.5px,#000cfb 55.5px,#0000f3 56.5px,#0030ff 57.5px,#0087ff 58.5px,#00adff 59.5px,#0087ff 60.5px,#0004f7 62.5px,#0004f7 63.5px,#0097ff 65.5px,#00bdff 66.5px,#00b7ff 67.5px,#0083ff 68.5px,#0030ff 69.5px,#0000f3 70.5px,#0004f7 71.5px,#0040ff 72.5px,#0df 74.5px,#0afff5 75.5px,#1effe1 76.5px,#18ffe7 77.5px,#00f3ff 78.5px,#00adff 79.5px,#0052ff 80.5px,#000cfb 81.5px,#0000f3 82.5px,#002cff 83.5px,#04edfb 85.5px,#46ffb9 86.5px,#85ff7a 87.5px,#abff54 88.5px,#cdff32 90.5px,#cfff30 91.5px,#a1ff5e 93.5px,#74ff8b 94.5px,#24ffdb 95.5px,#00c7ff 96.5px,#005aff 97.5px,#0006f3 98.5px,#0000cf 99.5px,#0004f3 100.5px,#004cff 101.5px,#00b1ff 102.5px,#18fbe7 103.5px,#afff50 105.5px,#e3ff1c 106.5px,#fff100 107.5px,#ffa900 110.5px,#ff8f00 114.5px,#ff9f00 118.5px,#ffd300 121.5px,#efff10 123.5px,#97ff68 125.5px,#12fbed 127.5px,#00bdff 128.5px,#0018ff 130.5px,#00d 131.5px,#0000c1 132.5px,#0000d9 133.5px,#0014fd 134.5px,#00cbff 136.5px,#2affd5 137.5px,#c5ff3a 139.5px,#f9f706 140.5px,#ff8300 143.5px,#ff3200 147.5px,#ff0200 152.5px,#ed0000 159.5px,#df0000 162.5px,#cf0000 172.5px,#df0000 178.5px,#ff0400 183.5px,#ff4800 187.5px,#ff8d00 189.5px,#f3f70c 191.5px,#9fff60 192.5px,#2af9d5 193.5px,#008fff 194.5px,#0014f7 195.5px,#0000d1 196.5px,#001cf7 197.5px,#00adff 198.5px,#4cffb3 199.5px,#c7ff38 200.5px,#ffdf00 201.5px,#ffa100 202.5px,#ff5600 204.5px,#f20 207.5px,#f00 213.5px,#fb0000 217.5px,#ef0000 220.5px,#df0000 228.5px,#d00 231.5px,#cf0000 234.5px,#c90000 244.5px,#bf0000 249.5px,#b00 267.5px,#af0000 273.5px,#a70000 306.5px,#9f0000 355.5px,#af0000 357.5px,#af0000 366.5px,#df0000 375.5px,#ff0a00 378.5px,#ff5c00 381.5px,#fded02 384.5px,#c5ff3a 385.5px,#80ff80 386.5px,#52ffad 387.5px,#40ffbf 388.5px,#52ffad 389.5px,#80ff80 390.5px,#f7f908 392.5px,#ff7a00 395.5px,#ff3400 398.5px,#ff0200 402.5px,#df0000 410.5px,#cf0000 418.5px,#c90000 424.5px,#bf0000 434.5px,#b70000 452.5px,#a70000 499.5px,#9f0000 518px)"></div><div style="top:139px;background:linear-gradient(90deg,#0000df 0px,#0000df 6.5px,#0000d7 8.5px,#0000ef 11.5px,#0000e3 16.5px,#0000d3 17.5px,#0000ef 25.5px,#0000bf 32.5px,#0000cb 34.5px,#0000bf 36.5px,#0000cf 37.5px,#0000bf 39.5px,#0000bf 41.5px,#0000fb 44.5px,#0000e3 45.5px,#000cf7 46.5px,#0060ff 47.5px,#0068ff 48.5px,#0014fb 49.5px,#0000eb 50.5px,#0030ff 51.5px,#0074ff 52.5px,#0083ff 53.5px,#0054ff 54.5px,#000cfb 55.5px,#0000f3 56.5px,#002cff 57.5px,#0083ff 58.5px,#00a9ff 59.5px,#0087ff 60.5px,#0004f7 62.5px,#0004f7 63.5px,#0040ff 64.5px,#0097ff 65.5px,#0bf 66.5px,#00b7ff 67.5px,#0083ff 68.5px,#0032ff 69.5px,#0000f5 70.5px,#0004f7 71.5px,#003cff 72.5px,#00d7ff 74.5px,#08fff7 75.5px,#1affe5 76.5px,#16ffe9 77.5px,#00f3ff 78.5px,#00afff 79.5px,#000cfb 81.5px,#0000f3 82.5px,#0024ff 83.5px,#02e1fd 85.5px,#3affc5 86.5px,#78ff87 87.5px,#a3ff5c 88.5px,#c3ff3c 90.5px,#bf4 92.5px,#9fff60 93.5px,#28ffd7 95.5px,#00cbff 96.5px,#0060ff 97.5px,#000af3 98.5px,#0000cf 99.5px,#0002eb 100.5px,#003cff 101.5px,#00a1ff 102.5px,#0ef5f1 103.5px,#9fff60 105.5px,#d7ff28 106.5px,#fbf904 107.5px,#ffb100 110.5px,#ff8f00 115.5px,#ffaf00 119.5px,#ffef00 122.5px,#efff10 123.5px,#97ff68 125.5px,#18fde7 127.5px,#00c5ff 128.5px,#0024ff 130.5px,#0000e5 131.5px,#0000c3 132.5px,#0000cf 133.5px,#0008f7 134.5px,#0052ff 135.5px,#00afff 136.5px,#14f9eb 137.5px,#afff50 139.5px,#edff12 140.5px,#ffdf00 141.5px,#ff9300 143.5px,#ff3a00 147.5px,#f00 153.5px,#df0000 165.5px,#e50000 179.5px,#ff0800 183.5px,#ff4800 187.5px,#ff8700 189.5px,#fbf104 191.5px,#b3ff4c 192.5px,#48ffb7 193.5px,#00b3ff 194.5px,#002afd 195.5px,#0000c9 196.5px,#0002db 197.5px,#06f 198.5px,#18efe7 199.5px,#8fff70 200.5px,#f1f70e 201.5px,#ff8900 203.5px,#ff4c00 205.5px,#ff1600 209.5px,#f00 215.5px,#e70000 224.5px,#db0000 232.5px,#cf0000 235.5px,#cb0000 245.5px,#bf0000 248.5px,#bd0000 269.5px,#af0000 273.5px,#a90000 308.5px,#9f0000 318.5px,#a30000 355.5px,#af0000 358.5px,#af0000 366.5px,#bf0000 370.5px,#e90000 376.5px,#ff0600 378.5px,#ff4c00 381.5px,#ff9f00 383.5px,#ffd100 384.5px,#e7fd18 385.5px,#62ff9d 387.5px,#3cffc3 388.5px,#36ffc9 389.5px,#56ffa9 390.5px,#cfff30 392.5px,#fdf102 393.5px,#ff7600 396.5px,#f20 400.5px,#f00 404.5px,#df0000 410.5px,#d90000 414.5px,#cf0000 419.5px,#c50000 427.5px,#b70000 456.5px,#a70000 503.5px,#9f0000 518px)"></div><div style="top:141px;background:linear-gradient(90deg,#0000df 0px,#0000df 6.5px,#0000d7 8.5px,#0000ef 11.5px,#0000e3 16.5px,#0000d3 17.5px,#0000ef 25.5px,#0000bf 32.5px,#0000cb 34.5px,#0000bf 36.5px,#0000cf 37.5px,#0000bf 39.5px,#0000bf 41.5px,#0000fb 44.5px,#0000e3 45.5px,#0008f7 46.5px,#0060ff 47.5px,#0068ff 48.5px,#0014fb 49.5px,#0000eb 50.5px,#0030ff 51.5px,#0074ff 52.5px,#007eff 53.5px,#0054ff 54.5px,#000cfb 55.5px,#0000ef 56.5px,#002aff 57.5px,#007aff 58.5px,#00a1ff 59.5px,#0087ff 60.5px,#0004f7 62.5px,#0004f7 63.5px,#0040ff 64.5px,#008dff 65.5px,#0bf 66.5px,#00b7ff 67.5px,#0083ff 68.5px,#0034ff 69.5px,#0000f7 70.5px,#0004f7 71.5px,#0038ff 72.5px,#00d7ff 74.5px,#04fbfb 75.5px,#14ffeb 76.5px,#00efff 78.5px,#00afff 79.5px,#000cfd 81.5px,#0000f1 82.5px,#001aff 83.5px,#00d7ff 85.5px,#2effd1 86.5px,#6eff91 87.5px,#9f6 88.5px,#bdff42 90.5px,#b5ff4a 92.5px,#9f6 93.5px,#28ffd7 95.5px,#00cdff 96.5px,#000cf7 98.5px,#0000d3 99.5px,#0000e9 100.5px,#002eff 101.5px,#06edf9 103.5px,#48ffb7 104.5px,#c9ff36 106.5px,#f3ff0c 107.5px,#fb0 110.5px,#ff9f00 113.5px,#ffa900 118.5px,#fff100 122.5px,#efff10 123.5px,#97ff68 125.5px,#18ffe7 127.5px,#00cdff 128.5px,#002eff 130.5px,#0000ed 131.5px,#0000c7 132.5px,#0000c7 133.5px,#0002ef 134.5px,#003aff 135.5px,#06ebf9 137.5px,#4affb5 138.5px,#d7ff28 140.5px,#fdef02 141.5px,#ff8300 144.5px,#ff3600 148.5px,#f00 154.5px,#e50000 162.5px,#df0000 178.5px,#ff0800 183.5px,#ff4800 187.5px,#ff8100 189.5px,#ffe700 191.5px,#c9ff36 192.5px,#62ff9d 193.5px,#06d7f9 194.5px,#004aff 195.5px,#0000d9 196.5px,#00b 197.5px,#0026fb 198.5px,#02bdfd 199.5px,#52ffad 200.5px,#c9ff36 201.5px,#ffdf00 202.5px,#ffa100 203.5px,#ff5a00 205.5px,#ff2600 208.5px,#ff1000 211.5px,#f00 217.5px,#ef0000 223.5px,#df0000 229.5px,#db0000 233.5px,#cf0000 236.5px,#cd0000 246.5px,#bf0000 250.5px,#b70000 272.5px,#a70000 311.5px,#a70000 355.5px,#b50000 367.5px,#d10000 374.5px,#f00 378.5px,#ff3c00 381.5px,#ff8500 383.5px,#fded02 385.5px,#c1ff3e 386.5px,#48ffb7 388.5px,#30ffcf 389.5px,#38ffc7 390.5px,#60ff9f 391.5px,#dbff24 393.5px,#fde902 394.5px,#ff8f00 396.5px,#ff3000 400.5px,#ff0200 404.5px,#df0000 412.5px,#cf0000 422.5px,#c70000 429.5px,#b70000 460.5px,#a70000 508.5px,#9f0000 518px)"></div><div style="top:143px;background:linear-gradient(90deg,#0000df 0px,#0000df 6.5px,#0000d7 8.5px,#0000ef 11.5px,#0000e3 16.5px,#0000d3 17.5px,#0000ef 25.5px,#0000bf 32.5px,#0000cb 34.5px,#0000bf 36.5px,#0000cf 37.5px,#0000bf 39.5px,#0000bf 41.5px,#0000fb 44.5px,#0000e3 45.5px,#0008f7 46.5px,#005cff 47.5px,#0068ff 48.5px,#0014fb 49.5px,#0000ed 50.5px,#002cff 51.5px,#0074ff 52.5px,#007cff 53.5px,#0054ff 54.5px,#000cfb 55.5px,#0000ef 56.5px,#0026ff 57.5px,#0078ff 58.5px,#009fff 59.5px,#0087ff 60.5px,#0004f7 62.5px,#0002f7 63.5px,#003cff 64.5px,#0087ff 65.5px,#00b7ff 66.5px,#00b7ff 67.5px,#0085ff 68.5px,#0036ff 69.5px,#0000f7 70.5px,#0000f7 71.5px,#0032ff 72.5px,#00c9ff 74.5px,#02fbfd 75.5px,#10ffef 77.5px,#00efff 78.5px,#00b3ff 79.5px,#0012ff 81.5px,#0000ef 82.5px,#0018ff 83.5px,#00cbff 85.5px,#24ffdb 86.5px,#6f9 87.5px,#a9ff56 89.5px,#bfff40 91.5px,#95ff6a 93.5px,#68ff97 94.5px,#28ffd7 95.5px,#00cfff 96.5px,#0010fb 98.5px,#0000d3 99.5px,#0000e1 100.5px,#0024ff 101.5px,#00e1ff 103.5px,#38ffc7 104.5px,#bf4 106.5px,#e7ff18 107.5px,#fff300 108.5px,#ffb500 111.5px,#ff9f00 116.5px,#ffc900 120.5px,#fff700 122.5px,#c3ff3c 124.5px,#5cffa3 126.5px,#1cffe3 127.5px,#00d5ff 128.5px,#0038ff 130.5px,#0004f3 131.5px,#0000cd 132.5px,#0000c3 133.5px,#0000e3 134.5px,#0026ff 135.5px,#00d7ff 137.5px,#2effd1 138.5px,#80ff80 139.5px,#f7fb08 141.5px,#ff8f00 144.5px,#ff3e00 148.5px,#ff1000 153.5px,#f00 158.5px,#df0000 166.5px,#e70000 178.5px,#ff0a00 183.5px,#ff3400 186.5px,#ff8000 189.5px,#ffd900 191.5px,#d9ff26 192.5px,#7eff81 193.5px,#14edeb 194.5px,#0070ff 195.5px,#0006e7 196.5px,#0000ab 197.5px,#0004dd 198.5px,#0074ff 199.5px,#1ef3e1 200.5px,#9f6 201.5px,#f1f70e 202.5px,#ff8d00 204.5px,#ff5000 206.5px,#f20 209.5px,#ff1000 212.5px,#f00 217.5px,#ef0000 225.5px,#df0000 229.5px,#db0000 234.5px,#cf0000 237.5px,#cf0000 247.5px,#bf0000 251.5px,#b90000 274.5px,#af0000 284.5px,#a70000 314.5px,#9f0000 354.5px,#af0000 358.5px,#b30000 367.5px,#bf0000 370.5px,#df0000 376.5px,#ff0800 379.5px,#ff4c00 382.5px,#ffd500 385.5px,#e7fd18 386.5px,#60ff9f 388.5px,#34ffcb 389.5px,#2fd 390.5px,#38ffc7 391.5px,#e5fd1a 394.5px,#ffdf00 395.5px,#ff6e00 398.5px,#ff3000 401.5px,#f00 406.5px,#df0000 414.5px,#cf0000 424.5px,#c50000 432.5px,#b70000 463.5px,#a70000 515.5px,#9f0000 518px)"></div><div style="top:145px;background:linear-gradient(90deg,#0000df 0px,#0000df 6.5px,#0000d7 8.5px,#0000ef 11.5px,#0000e3 16.5px,#0000d3 17.5px,#0000ef 25.5px,#0000bf 32.5px,#0000bf 36.5px,#0000cf 37.5px,#0000bf 39.5px,#0000bf 41.5px,#0000fb 44.5px,#0000e3 45.5px,#0008f7 46.5px,#005aff 47.5px,#0068ff 48.5px,#0016fb 49.5px,#0000ef 50.5px,#002cff 51.5px,#0070ff 52.5px,#007cff 53.5px,#0054ff 54.5px,#000cfb 55.5px,#0000ef 56.5px,#02f 57.5px,#0078ff 58.5px,#009fff 59.5px,#0087ff 60.5px,#0004f7 62.5px,#0000f3 63.5px,#003aff 64.5px,#0087ff 65.5px,#00b7ff 66.5px,#00b1ff 67.5px,#0087ff 68.5px,#0038ff 69.5px,#0004f7 70.5px,#0000f7 71.5px,#002eff 72.5px,#00c7ff 74.5px,#00f7ff 75.5px,#0cfff3 77.5px,#00efff 78.5px,#00b3ff 79.5px,#0018ff 81.5px,#0000ef 82.5px,#000eff 83.5px,#00bfff 85.5px,#18fde7 86.5px,#58ffa7 87.5px,#85ff7a 88.5px,#afff50 90.5px,#abff54 92.5px,#68ff97 94.5px,#28ffd7 95.5px,#00d3ff 96.5px,#0014fb 98.5px,#0000d5 99.5px,#00d 100.5px,#001aff 101.5px,#00cfff 103.5px,#28ffd7 104.5px,#abff54 106.5px,#fbfb04 108.5px,#ffb300 112.5px,#ffaf00 117.5px,#ffcd00 120.5px,#fff700 122.5px,#c1ff3e 124.5px,#64ff9b 126.5px,#26ffd9 127.5px,#00d9ff 128.5px,#04f 130.5px,#0008f9 131.5px,#0000d1 132.5px,#0000c1 133.5px,#0000db 134.5px,#0016fd 135.5px,#0bf 137.5px,#18fde7 138.5px,#abff54 140.5px,#e5ff1a 141.5px,#ffe700 142.5px,#ff8100 145.5px,#ff3a00 149.5px,#ff1000 154.5px,#f00 159.5px,#ef0000 163.5px,#df0000 169.5px,#e70000 177.5px,#f00 182.5px,#ff3400 186.5px,#ff7a00 189.5px,#ffd500 191.5px,#e7fd18 192.5px,#91ff6e 193.5px,#28fbd7 194.5px,#0095ff 195.5px,#0014f5 196.5px,#0000b3 197.5px,#0000b3 198.5px,#0032fb 199.5px,#02c7fd 200.5px,#5effa1 201.5px,#cbff34 202.5px,#ffdf00 203.5px,#ff7c00 205.5px,#ff3800 208.5px,#ff1000 213.5px,#f00 218.5px,#ed0000 226.5px,#df0000 229.5px,#db0000 235.5px,#cf0000 238.5px,#cb0000 249.5px,#bf0000 255.5px,#b00 276.5px,#af0000 282.5px,#a70000 317.5px,#9f0000 354.5px,#af0000 358.5px,#b10000 367.5px,#bf0000 369.5px,#d50000 375.5px,#ff0200 379.5px,#ff4200 382.5px,#ffb900 385.5px,#fded02 386.5px,#c7ff38 387.5px,#46ffb9 389.5px,#2fd 390.5px,#1effe1 391.5px,#3effc1 392.5px,#f1fd0e 395.5px,#ffa900 397.5px,#ff5200 400.5px,#ff1800 404.5px,#fb0000 408.5px,#df0000 415.5px,#d90000 419.5px,#cf0000 424.5px,#c70000 434.5px,#b70000 467.5px,#af0000 518px)"></div><div style="top:147px;background:linear-gradient(90deg,#0000df 0px,#0000df 6.5px,#0000d7 8.5px,#0000ef 11.5px,#0000e3 16.5px,#0000d3 17.5px,#0000ef 25.5px,#0000bf 32.5px,#0000bf 36.5px,#0000cf 37.5px,#0000bf 39.5px,#0000bf 41.5px,#0000fb 44.5px,#0000e7 45.5px,#0008f7 46.5px,#0058ff 47.5px,#0068ff 48.5px,#001afb 49.5px,#0000ef 50.5px,#002aff 51.5px,#0070ff 52.5px,#007cff 53.5px,#0056ff 54.5px,#000cfb 55.5px,#0000ef 56.5px,#0020ff 57.5px,#0078ff 58.5px,#009dff 59.5px,#0087ff 60.5px,#0004f7 62.5px,#0000f3 63.5px,#0034ff 64.5px,#0087ff 65.5px,#00b3ff 66.5px,#00afff 67.5px,#0087ff 68.5px,#0038ff 69.5px,#0004f7 70.5px,#0000f3 71.5px,#002aff 72.5px,#00c5ff 74.5px,#00f1ff 75.5px,#0afff5 77.5px,#00edff 78.5px,#00b7ff 79.5px,#0018ff 81.5px,#0000ef 82.5px,#000cfd 83.5px,#0056ff 84.5px,#00b3ff 85.5px,#10fbef 86.5px,#80ff80 88.5px,#a5ff5a 90.5px,#afff50 91.5px,#8fff70 93.5px,#6f9 94.5px,#28ffd7 95.5px,#00d5ff 96.5px,#001afd 98.5px,#0000d9 99.5px,#0000d9 100.5px,#0012fb 101.5px,#00bdff 103.5px,#18fde7 104.5px,#9dff62 106.5px,#f3ff0c 108.5px,#ffc900 111.5px,#ffaf00 115.5px,#ffaf00 117.5px,#ffe500 121.5px,#fdfb02 122.5px,#bfff40 124.5px,#64ff9b 126.5px,#28ffd7 127.5px,#00e1ff 128.5px,#004aff 130.5px,#000cfb 131.5px,#0000bf 133.5px,#0000d3 134.5px,#000cfb 135.5px,#0050ff 136.5px,#08f3f7 138.5px,#d3ff2c 141.5px,#fdf502 142.5px,#ff8b00 145.5px,#ff3200 150.5px,#f00 157.5px,#fd0000 160.5px,#ef0000 162.5px,#e50000 166.5px,#e10000 175.5px,#ef0000 179.5px,#ff0200 182.5px,#ff4800 187.5px,#ff7a00 189.5px,#ffcd00 191.5px,#f1fb0e 192.5px,#a1ff5e 193.5px,#38ffc7 194.5px,#00b7ff 195.5px,#0034fd 196.5px,#0000c5 197.5px,#00009b 198.5px,#000ae5 199.5px,#007cff 200.5px,#1ef5e1 201.5px,#91ff6e 202.5px,#ebfb14 203.5px,#ffcb00 204.5px,#ff7400 206.5px,#ff3400 209.5px,#ff1000 214.5px,#f00 220.5px,#ef0000 225.5px,#df0000 233.5px,#cf0000 243.5px,#cf0000 250.5px,#bf0000 254.5px,#b70000 279.5px,#a70000 320.5px,#9f0000 354.5px,#af0000 356.5px,#b50000 367.5px,#bf0000 372.5px,#ef0000 378.5px,#ff0a00 380.5px,#ff5400 383.5px,#ffd100 386.5px,#edfd12 387.5px,#60ff9f 389.5px,#30ffcf 390.5px,#12ffed 391.5px,#1effe1 392.5px,#80ff80 394.5px,#f7f908 396.5px,#ff8300 399.5px,#ff3000 403.5px,#f00 408.5px,#df0000 417.5px,#d70000 421.5px,#c70000 437.5px,#b70000 471.5px,#af0000 518px)"></div><div style="top:149px;background:linear-gradient(90deg,#0000df 0px,#0000df 6.5px,#0000d7 8.5px,#0000ef 11.5px,#0000e3 16.5px,#0000d3 17.5px,#0000ef 25.5px,#0000bf 32.5px,#0000bf 36.5px,#0000cf 37.5px,#0000bf 39.5px,#0000bf 41.5px,#0000fb 44.5px,#0000e7 45.5px,#0008f3 46.5px,#0058ff 47.5px,#006cff 48.5px,#001cfb 49.5px,#0000eb 50.5px,#0026ff 51.5px,#0070ff 52.5px,#007cff 53.5px,#0058ff 54.5px,#000cfb 55.5px,#0000ef 56.5px,#0020ff 57.5px,#0074ff 58.5px,#009bff 59.5px,#0087ff 60.5px,#0004f7 62.5px,#0000f3 63.5px,#0032ff 64.5px,#0085ff 65.5px,#00adff 66.5px,#00adff 67.5px,#0087ff 68.5px,#0038ff 69.5px,#0004f7 70.5px,#0000f3 71.5px,#0028ff 72.5px,#00b7ff 74.5px,#00ebff 75.5px,#0ff 76.5px,#02fffd 77.5px,#00e9ff 78.5px,#00b7ff 79.5px,#0018ff 81.5px,#0000f1 82.5px,#000cfb 83.5px,#004eff 84.5px,#00abff 85.5px,#0af5f5 86.5px,#76ff89 88.5px,#95ff6a 89.5px,#a7ff58 91.5px,#89ff76 93.5px,#64ff9b 94.5px,#28ffd7 95.5px,#00d7ff 96.5px,#001cff 98.5px,#0000db 99.5px,#0000d7 100.5px,#000cfb 101.5px,#0054ff 102.5px,#0cf7f3 104.5px,#8dff72 106.5px,#e5ff1a 108.5px,#fff900 109.5px,#ffc300 112.5px,#ffb700 116.5px,#ffcd00 119.5px,#fbfd04 122.5px,#bfff40 124.5px,#64ff9b 126.5px,#28ffd7 127.5px,#00e7ff 128.5px,#0012ff 131.5px,#00d 132.5px,#0000c3 133.5px,#0000cd 134.5px,#0004f3 135.5px,#003cff 136.5px,#02e3fd 138.5px,#38ffc7 139.5px,#bfff40 141.5px,#f5fd0a 142.5px,#ff9500 145.5px,#ff4600 149.5px,#ff1200 154.5px,#f00 159.5px,#ef0000 165.5px,#df0000 173.5px,#ef0000 177.5px,#ff0600 182.5px,#ff4a00 187.5px,#ff9f00 190.5px,#f3fb0c 192.5px,#afff50 193.5px,#52ffad 194.5px,#02d5fd 195.5px,#0058ff 196.5px,#0002df 197.5px,#0000a3 198.5px,#0000bd 199.5px,#0038fd 200.5px,#02c5fd 201.5px,#50ffaf 202.5px,#bf4 203.5px,#fbed04 204.5px,#ff8900 206.5px,#ff4200 209.5px,#ff1000 214.5px,#fb0000 222.5px,#ef0000 225.5px,#ed0000 228.5px,#df0000 231.5px,#d00 237.5px,#cf0000 240.5px,#cb0000 252.5px,#bf0000 258.5px,#b90000 281.5px,#af0000 291.5px,#a70000 323.5px,#a10000 354.5px,#af0000 356.5px,#af0000 366.5px,#bf0000 370.5px,#cf0000 375.5px,#ff0400 380.5px,#f40 383.5px,#ffb500 386.5px,#fded02 387.5px,#cfff30 388.5px,#48ffb7 390.5px,#1cffe3 391.5px,#0efff1 392.5px,#2fd 393.5px,#8bff74 395.5px,#f9f506 397.5px,#ff8000 400.5px,#ff3000 404.5px,#f00 410.5px,#df0000 418.5px,#d70000 423.5px,#c50000 440.5px,#b70000 474.5px,#af0000 518px)"></div><div style="top:151px;background:linear-gradient(90deg,#0000df 0px,#0000df 6.5px,#0000d7 8.5px,#0000ef 11.5px,#0000e3 16.5px,#0000d3 17.5px,#0000ef 25.5px,#0000bf 32.5px,#0000bf 36.5px,#0000cf 37.5px,#0000bf 39.5px,#0000bf 41.5px,#0000fb 44.5px,#0000e7 45.5px,#0004f3 46.5px,#0056ff 47.5px,#006eff 48.5px,#001cfb 49.5px,#0000eb 50.5px,#0024ff 51.5px,#0070ff 52.5px,#007cff 53.5px,#0058ff 54.5px,#000cfb 55.5px,#0000ef 56.5px,#001eff 57.5px,#0072ff 58.5px,#009bff 59.5px,#0087ff 60.5px,#0004f7 62.5px,#0000f3 63.5px,#0030ff 64.5px,#0080ff 65.5px,#00abff 66.5px,#00abff 67.5px,#0087ff 68.5px,#0038ff 69.5px,#0004f7 70.5px,#0000f3 71.5px,#0028ff 72.5px,#00b7ff 74.5px,#00e5ff 75.5px,#00fbff 76.5px,#0ff 77.5px,#00b7ff 79.5px,#001aff 81.5px,#0000f3 82.5px,#0004fb 83.5px,#0042ff 84.5px,#04f1fb 86.5px,#6eff91 88.5px,#9dff62 90.5px,#9dff62 92.5px,#87ff78 93.5px,#28ffd7 95.5px,#00dbff 96.5px,#0020ff 98.5px,#00d 99.5px,#0000d3 100.5px,#0006f5 101.5px,#0048ff 102.5px,#04effb 104.5px,#80ff80 106.5px,#dbff24 108.5px,#f9ff06 109.5px,#ffc500 113.5px,#ffc500 118.5px,#f7ff08 122.5px,#91ff6e 125.5px,#28ffd7 127.5px,#00e7ff 128.5px,#0018ff 131.5px,#0000e1 132.5px,#0000c5 133.5px,#0000c7 134.5px,#0000eb 135.5px,#002aff 136.5px,#00cdff 138.5px,#2fd 139.5px,#afff50 141.5px,#e5ff1a 142.5px,#ffe900 143.5px,#ff8500 146.5px,#ff3e00 150.5px,#ff1000 155.5px,#fd0000 161.5px,#ef0000 163.5px,#f30000 179.5px,#ff0a00 182.5px,#ff4c00 187.5px,#ff9f00 190.5px,#f7f908 192.5px,#b9ff46 193.5px,#62ff9d 194.5px,#0aebf5 195.5px,#0078ff 196.5px,#000cf3 197.5px,#0000b1 198.5px,#0000a1 199.5px,#000ae9 200.5px,#007eff 201.5px,#16f1e9 202.5px,#dbff24 204.5px,#ffdf00 205.5px,#ffa700 206.5px,#ff6400 208.5px,#ff2800 212.5px,#ff1000 216.5px,#f00 222.5px,#ef0000 226.5px,#ed0000 229.5px,#df0000 232.5px,#d00 238.5px,#cf0000 242.5px,#c90000 254.5px,#bf0000 259.5px,#b00 283.5px,#af0000 289.5px,#a70000 326.5px,#a50000 354.5px,#af0000 359.5px,#b10000 366.5px,#bf0000 368.5px,#c70000 373.5px,#ef0000 379.5px,#ff0e00 381.5px,#ff5400 384.5px,#ff9d00 386.5px,#ffcf00 387.5px,#edfd12 388.5px,#32ffcd 391.5px,#0cfff3 392.5px,#04fffb 393.5px,#24ffdb 394.5px,#d5ff2a 397.5px,#fdf102 398.5px,#ff8000 401.5px,#ff3200 405.5px,#f00 410.5px,#df0000 420.5px,#d70000 425.5px,#c50000 443.5px,#b70000 478.5px,#af0000 518px)"></div><div style="top:153px;background:linear-gradient(90deg,#0000df 0px,#0000df 6.5px,#0000d7 8.5px,#0000ef 11.5px,#0000e3 16.5px,#0000d3 17.5px,#0000ef 25.5px,#0000bf 32.5px,#0000bf 36.5px,#0000cf 37.5px,#0000bf 39.5px,#0000bf 41.5px,#0000fb 44.5px,#0000e7 45.5px,#0004f3 46.5px,#0054ff 47.5px,#0070ff 48.5px,#001cfb 49.5px,#0000eb 50.5px,#0024ff 51.5px,#0068ff 52.5px,#007cff 53.5px,#0058ff 54.5px,#000efb 55.5px,#0000ef 56.5px,#001cff 57.5px,#006aff 58.5px,#009bff 59.5px,#0083ff 60.5px,#0004f7 62.5px,#0000f3 63.5px,#002eff 64.5px,#0078ff 65.5px,#00abff 66.5px,#00abff 67.5px,#0087ff 68.5px,#003cff 69.5px,#0004f7 70.5px,#0000f3 71.5px,#001eff 72.5px,#00a9ff 74.5px,#00dfff 75.5px,#00fbff 77.5px,#00e1ff 78.5px,#00b5ff 79.5px,#0026ff 81.5px,#0000f3 82.5px,#0004f9 83.5px,#003cff 84.5px,#02e7fd 86.5px,#30ffcf 87.5px,#85ff7a 89.5px,#9fff60 91.5px,#83ff7c 93.5px,#60ff9f 94.5px,#28ffd7 95.5px,#00dbff 96.5px,#0028ff 98.5px,#0000e1 99.5px,#0000d3 100.5px,#0004f3 101.5px,#003cff 102.5px,#00e3ff 104.5px,#30ffcf 105.5px,#a5ff5a 107.5px,#edff12 109.5px,#fff500 110.5px,#ffcf00 113.5px,#ffc100 116.5px,#ffe300 120.5px,#f5ff0a 122.5px,#8fff70 125.5px,#28ffd7 127.5px,#00e7ff 128.5px,#0020ff 131.5px,#0000eb 132.5px,#0000c7 133.5px,#0000c5 134.5px,#0000e1 135.5px,#0018ff 136.5px,#00b5ff 138.5px,#10f9ef 139.5px,#d3ff2c 142.5px,#fdf502 143.5px,#ff8f00 146.5px,#ff3600 151.5px,#ff1000 156.5px,#f00 160.5px,#ef0000 166.5px,#f10000 178.5px,#f00 180.5px,#ff2000 184.5px,#f60 188.5px,#ff9f00 190.5px,#fbf304 192.5px,#c5ff3a 193.5px,#14f9eb 195.5px,#0097ff 196.5px,#0024fd 197.5px,#0000c5 198.5px,#009 199.5px,#0000c5 200.5px,#0034fd 201.5px,#00bfff 202.5px,#40ffbf 203.5px,#a5ff5a 204.5px,#f1f90e 205.5px,#ff9b00 207.5px,#ff4c00 210.5px,#ff1000 216.5px,#fb0000 224.5px,#ef0000 227.5px,#ed0000 230.5px,#df0000 233.5px,#df0000 239.5px,#cf0000 243.5px,#cf0000 255.5px,#bf0000 259.5px,#b70000 286.5px,#a70000 330.5px,#a70000 354.5px,#b50000 366.5px,#bf0000 371.5px,#d10000 376.5px,#ff0600 381.5px,#f40 384.5px,#ffb100 387.5px,#fde902 388.5px,#d7ff28 389.5px,#50ffaf 391.5px,#1affe5 392.5px,#0ff 393.5px,#04fdfb 394.5px,#28ffd7 395.5px,#d9ff26 398.5px,#fdeb02 399.5px,#ff8000 402.5px,#ff3200 406.5px,#f00 412.5px,#df0000 422.5px,#d70000 427.5px,#c90000 445.5px,#bf0000 455.5px,#b70000 482.5px,#af0000 518px)"></div><div style="top:155px;background:linear-gradient(90deg,#0000df 0px,#0000df 6.5px,#0000d7 8.5px,#0000ef 11.5px,#0000e3 16.5px,#0000d3 17.5px,#0000ef 25.5px,#0000bf 32.5px,#0000bf 36.5px,#0000cf 37.5px,#0000bf 39.5px,#0000bf 41.5px,#0000fb 44.5px,#0000e7 45.5px,#0004f3 46.5px,#0052ff 47.5px,#0072ff 48.5px,#001cff 49.5px,#0000eb 50.5px,#02f 51.5px,#0068ff 52.5px,#007eff 53.5px,#0058ff 54.5px,#0010fb 55.5px,#0000ef 56.5px,#001cff 57.5px,#0068ff 58.5px,#09f 59.5px,#0083ff 60.5px,#0004f9 62.5px,#0000f3 63.5px,#002cff 64.5px,#0078ff 65.5px,#00a9ff 66.5px,#00abff 67.5px,#0087ff 68.5px,#003cff 69.5px,#0004f7 70.5px,#0000f3 71.5px,#0018ff 72.5px,#00a7ff 74.5px,#00d5ff 75.5px,#00efff 76.5px,#00dfff 78.5px,#00b3ff 79.5px,#0028ff 81.5px,#0000f3 82.5px,#0004f7 83.5px,#0036ff 84.5px,#0df 86.5px,#28ffd7 87.5px,#5cffa3 88.5px,#8dff72 90.5px,#8fff70 92.5px,#5cffa3 94.5px,#28ffd7 95.5px,#0df 96.5px,#002cff 98.5px,#0000e7 99.5px,#0000cf 100.5px,#0000ed 101.5px,#0030ff 102.5px,#00d3ff 104.5px,#20ffdf 105.5px,#97ff68 107.5px,#e3ff1c 109.5px,#fbfd04 110.5px,#ffcf00 114.5px,#ffd100 118.5px,#fff900 121.5px,#d7ff28 123.5px,#60ff9f 126.5px,#28ffd7 127.5px,#00e7ff 128.5px,#0028ff 131.5px,#0000ef 132.5px,#0000cd 133.5px,#0000c1 134.5px,#000cfb 136.5px,#04effb 139.5px,#87ff78 141.5px,#f5fd0a 143.5px,#ff8000 147.5px,#ff3000 152.5px,#f00 160.5px,#ef0000 168.5px,#f10000 177.5px,#f00 180.5px,#ff4000 186.5px,#ff9f00 190.5px,#fbf304 192.5px,#c7ff38 193.5px,#81ff7e 194.5px,#24fddb 195.5px,#00b7ff 196.5px,#04f 197.5px,#0002df 198.5px,#0000a1 199.5px,#0000a1 200.5px,#000aeb 201.5px,#0074ff 202.5px,#0ce9f3 203.5px,#6aff95 204.5px,#c7ff38 205.5px,#fded02 206.5px,#ff9500 208.5px,#ff5e00 210.5px,#ff2800 214.5px,#ff1000 219.5px,#fb0000 225.5px,#ef0000 228.5px,#ed0000 231.5px,#df0000 234.5px,#d90000 241.5px,#cf0000 246.5px,#cb0000 257.5px,#bf0000 263.5px,#b00 288.5px,#af0000 294.5px,#a70000 334.5px,#9f0000 353.5px,#af0000 357.5px,#b10000 365.5px,#bf0000 367.5px,#c30000 373.5px,#f10000 380.5px,#ff0e00 382.5px,#ff5000 385.5px,#ffc700 388.5px,#f7f708 389.5px,#3cffc3 392.5px,#0afff5 393.5px,#00f1ff 394.5px,#04fbfb 395.5px,#2cffd3 396.5px,#e1ff1e 399.5px,#fde902 400.5px,#ff8000 403.5px,#ff3400 407.5px,#f00 413.5px,#df0000 423.5px,#d70000 429.5px,#c90000 448.5px,#bf0000 458.5px,#b70000 486.5px,#af0000 518px)"></div><div style="top:157px;background:linear-gradient(90deg,#0000df 0px,#0000df 6.5px,#0000d7 8.5px,#0000ef 11.5px,#0000e3 16.5px,#0000d3 17.5px,#0000ef 25.5px,#0000bf 32.5px,#0000bf 36.5px,#0000cf 37.5px,#0000bf 39.5px,#0000bf 41.5px,#0000fb 44.5px,#0000e7 45.5px,#0004f3 46.5px,#0050ff 47.5px,#0074ff 48.5px,#001eff 49.5px,#0000eb 50.5px,#0020ff 51.5px,#0068ff 52.5px,#0080ff 53.5px,#0058ff 54.5px,#0010ff 55.5px,#0000ef 56.5px,#001aff 57.5px,#0068ff 58.5px,#0097ff 59.5px,#0083ff 60.5px,#0004fb 62.5px,#0000f3 63.5px,#002aff 64.5px,#0078ff 65.5px,#00a7ff 66.5px,#00abff 67.5px,#0087ff 68.5px,#003cff 69.5px,#0004f7 70.5px,#0000f3 71.5px,#0018ff 72.5px,#00a3ff 74.5px,#00d1ff 75.5px,#00e9ff 76.5px,#00efff 77.5px,#0df 78.5px,#00b1ff 79.5px,#0028ff 81.5px,#0000f5 82.5px,#0000f7 83.5px,#002aff 84.5px,#00d1ff 86.5px,#18ffe7 87.5px,#52ffad 88.5px,#76ff89 89.5px,#8fff70 91.5px,#8dff72 92.5px,#58ffa7 94.5px,#28ffd7 95.5px,#00dfff 96.5px,#0030ff 98.5px,#0000e9 99.5px,#0000cf 100.5px,#0000eb 101.5px,#0028ff 102.5px,#00c5ff 104.5px,#14fdeb 105.5px,#89ff76 107.5px,#f3ff0c 110.5px,#ffdf00 113.5px,#ffd300 117.5px,#fdff02 121.5px,#afff50 124.5px,#60ff9f 126.5px,#28ffd7 127.5px,#02f3fd 128.5px,#002aff 131.5px,#0002f3 132.5px,#0000bf 134.5px,#0004f7 136.5px,#003eff 137.5px,#0df 139.5px,#2cffd3 140.5px,#e7ff18 143.5px,#ffeb00 144.5px,#ff8900 147.5px,#ff4000 151.5px,#ff1000 157.5px,#f00 161.5px,#ef0000 167.5px,#f10000 176.5px,#f00 179.5px,#ff2800 184.5px,#ff6a00 188.5px,#ff9f00 190.5px,#fdf302 192.5px,#d7ff28 193.5px,#36ffc9 195.5px,#00d1ff 196.5px,#0064ff 197.5px,#000cf1 198.5px,#0000b3 199.5px,#000093 200.5px,#0000c5 201.5px,#0032fd 202.5px,#00afff 203.5px,#2afdd5 204.5px,#8fff70 205.5px,#df2 206.5px,#ffdf00 207.5px,#ff6e00 210.5px,#ff3000 214.5px,#ff1000 219.5px,#fb0000 226.5px,#ef0000 229.5px,#df0000 239.5px,#cf0000 249.5px,#c90000 259.5px,#bf0000 269.5px,#b70000 291.5px,#a70000 338.5px,#a10000 353.5px,#af0000 355.5px,#af0000 364.5px,#bf0000 368.5px,#c30000 373.5px,#ef0000 380.5px,#ff0600 382.5px,#ff5c00 386.5px,#ffa900 388.5px,#ffdf00 389.5px,#e5ff1a 390.5px,#2fd 393.5px,#02f5fd 394.5px,#00efff 395.5px,#06fbf9 396.5px,#68ff97 398.5px,#e5ff1a 400.5px,#ffe900 401.5px,#f90 403.5px,#f40 407.5px,#f00 414.5px,#df0000 426.5px,#d90000 431.5px,#cf0000 441.5px,#c70000 452.5px,#b70000 490.5px,#af0000 518px)"></div><div style="top:159px;background:linear-gradient(90deg,#0000df 0px,#0000df 6.5px,#0000d7 8.5px,#0000ef 11.5px,#0000e3 16.5px,#0000d3 17.5px,#0000ef 25.5px,#0000bf 32.5px,#0000bf 36.5px,#0000cf 37.5px,#0000bf 39.5px,#0000bf 41.5px,#0000fb 44.5px,#0000e7 45.5px,#0004f3 46.5px,#0050ff 47.5px,#0074ff 48.5px,#0020ff 49.5px,#0000eb 50.5px,#0020ff 51.5px,#0068ff 52.5px,#0080ff 53.5px,#0058ff 54.5px,#0014ff 55.5px,#0000ef 56.5px,#0018ff 57.5px,#0068ff 58.5px,#0097ff 59.5px,#0083ff 60.5px,#0006fb 62.5px,#0000f3 63.5px,#0028ff 64.5px,#0078ff 65.5px,#00a7ff 66.5px,#00abff 67.5px,#0083ff 68.5px,#0004f9 70.5px,#0000f1 71.5px,#0018ff 72.5px,#00cbff 75.5px,#00edff 77.5px,#00d7ff 78.5px,#00afff 79.5px,#0028ff 81.5px,#0000f7 82.5px,#0000f5 83.5px,#0028ff 84.5px,#00c7ff 86.5px,#12fded 87.5px,#6eff91 89.5px,#8bff74 91.5px,#78ff87 93.5px,#28ffd7 95.5px,#00dfff 96.5px,#0036ff 98.5px,#0000eb 99.5px,#0000cf 100.5px,#0000e5 101.5px,#001aff 102.5px,#00b7ff 104.5px,#0af7f5 105.5px,#7cff83 107.5px,#e7ff18 110.5px,#fdff02 111.5px,#ffdf00 115.5px,#ffdf00 118.5px,#f9ff06 121.5px,#afff50 124.5px,#5effa1 126.5px,#28ffd7 127.5px,#04f3fb 128.5px,#0004f9 132.5px,#0000c1 134.5px,#0000cd 135.5px,#0002f1 136.5px,#0030ff 137.5px,#00c7ff 139.5px,#16fde9 140.5px,#9fff60 142.5px,#fdf702 144.5px,#ff9300 147.5px,#ff4600 151.5px,#ff1000 157.5px,#f00 163.5px,#ef0000 167.5px,#f30000 175.5px,#f00 178.5px,#ff2000 183.5px,#ff6c00 188.5px,#ff9f00 190.5px,#fff100 192.5px,#d7ff28 193.5px,#48ffb7 195.5px,#04e5fb 196.5px,#001afd 198.5px,#0000c9 199.5px,#00009b 200.5px,#0000a1 201.5px,#000aeb 202.5px,#006aff 203.5px,#04dbfb 204.5px,#50ffaf 205.5px,#abff54 206.5px,#f1fb0e 207.5px,#ffa700 209.5px,#ff6c00 211.5px,#ff3000 215.5px,#ff1000 221.5px,#fb0000 227.5px,#ef0000 230.5px,#ef0000 233.5px,#df0000 237.5px,#d00 243.5px,#cf0000 247.5px,#c70000 261.5px,#b00 293.5px,#af0000 299.5px,#a70000 342.5px,#9f0000 352.5px,#af0000 356.5px,#b70000 364.5px,#c10000 373.5px,#cf0000 375.5px,#f10000 381.5px,#ff0e00 383.5px,#ff4c00 386.5px,#ff8f00 388.5px,#fded02 390.5px,#cfff30 391.5px,#48ffb7 393.5px,#12ffed 394.5px,#00ebff 395.5px,#00e3ff 396.5px,#06fbf9 397.5px,#e5ff1a 401.5px,#ffe500 402.5px,#ff8000 405.5px,#ff3800 409.5px,#f00 416.5px,#df0000 427.5px,#db0000 433.5px,#cf0000 439.5px,#c70000 455.5px,#b70000 494.5px,#af0000 518px)"></div><div style="top:161px;background:linear-gradient(90deg,#0000df 0px,#0000df 6.5px,#0000d7 8.5px,#0000ef 11.5px,#0000e3 16.5px,#0000d3 17.5px,#0000ef 25.5px,#0000bf 32.5px,#0000bf 36.5px,#0000cf 37.5px,#0000bf 39.5px,#0000bf 41.5px,#0000fb 44.5px,#0000e7 45.5px,#0004f3 46.5px,#0050ff 47.5px,#0074ff 48.5px,#0020ff 49.5px,#0000eb 50.5px,#0020ff 51.5px,#0068ff 52.5px,#0080ff 53.5px,#0058ff 54.5px,#0018ff 55.5px,#0000ef 56.5px,#0018ff 57.5px,#0068ff 58.5px,#0091ff 59.5px,#0083ff 60.5px,#000cfb 62.5px,#0000f3 63.5px,#0026ff 64.5px,#0074ff 65.5px,#00a1ff 66.5px,#00a7ff 67.5px,#0083ff 68.5px,#0004fb 70.5px,#0000ef 71.5px,#0018ff 72.5px,#0097ff 74.5px,#00c5ff 75.5px,#0df 76.5px,#00d7ff 78.5px,#0076ff 80.5px,#0028ff 81.5px,#0002f7 82.5px,#0000f3 83.5px,#0020ff 84.5px,#00bdff 86.5px,#0cfbf3 87.5px,#64ff9b 89.5px,#80ff80 91.5px,#72ff8d 93.5px,#24ffdb 95.5px,#00dfff 96.5px,#003cff 98.5px,#0004f1 99.5px,#0000cf 100.5px,#0000df 101.5px,#0018ff 102.5px,#04effb 105.5px,#6cff93 107.5px,#bfff40 109.5px,#fffd00 112.5px,#ffe100 117.5px,#fffd00 120.5px,#c7ff38 123.5px,#5cffa3 126.5px,#04f3fb 128.5px,#0038ff 131.5px,#0006fb 132.5px,#0000c3 134.5px,#0000c9 135.5px,#0000e9 136.5px,#0020ff 137.5px,#08f7f7 140.5px,#c3ff3c 143.5px,#f5fd0a 144.5px,#ff8500 148.5px,#ff4000 152.5px,#ff1000 158.5px,#f00 162.5px,#ef0000 170.5px,#f90000 174.5px,#ff0600 179.5px,#ff3000 184.5px,#ff7000 188.5px,#ffef00 192.5px,#d9ff26 193.5px,#56ffa9 195.5px,#0af3f5 196.5px,#0038ff 198.5px,#0000df 199.5px,#0000a7 200.5px,#000093 201.5px,#0000c3 202.5px,#0028fd 203.5px,#009dff 204.5px,#16f5e9 205.5px,#c5ff3a 207.5px,#f9f506 208.5px,#ff8000 211.5px,#ff3c00 215.5px,#ff1000 221.5px,#fb0000 228.5px,#ef0000 231.5px,#e50000 235.5px,#d90000 245.5px,#cf0000 250.5px,#cd0000 262.5px,#bf0000 266.5px,#b70000 296.5px,#a90000 352.5px,#b70000 363.5px,#bf0000 373.5px,#cf0000 375.5px,#cf0000 377.5px,#ff0600 383.5px,#ff5c00 387.5px,#ffa100 389.5px,#f1fd0e 391.5px,#30ffcf 394.5px,#04f9fb 395.5px,#00e1ff 396.5px,#00e3ff 397.5px,#06fbf9 398.5px,#78ff87 400.5px,#e7fd18 402.5px,#ffe500 403.5px,#ff8000 406.5px,#ff2e00 411.5px,#f00 417.5px,#df0000 430.5px,#d70000 436.5px,#c70000 458.5px,#b70000 499.5px,#af0000 518px)"></div><div style="top:163px;background:linear-gradient(90deg,#0000df 0px,#0000df 6.5px,#0000d7 8.5px,#0000ef 11.5px,#0000e3 16.5px,#0000d3 17.5px,#0000ef 25.5px,#0000bf 32.5px,#0000bf 36.5px,#0000cf 37.5px,#0000bf 39.5px,#0000bf 41.5px,#0000fb 44.5px,#0000e7 45.5px,#0004f3 46.5px,#004eff 47.5px,#0074ff 48.5px,#0020ff 49.5px,#0000eb 50.5px,#001eff 51.5px,#0068ff 52.5px,#0080ff 53.5px,#0058ff 54.5px,#0018ff 55.5px,#0000ef 56.5px,#0018ff 57.5px,#0064ff 58.5px,#008fff 59.5px,#0083ff 60.5px,#000cfb 62.5px,#0000f3 63.5px,#02f 64.5px,#006cff 65.5px,#009fff 66.5px,#00a7ff 67.5px,#0083ff 68.5px,#0004fb 70.5px,#0000ef 71.5px,#0010ff 72.5px,#008dff 74.5px,#00bfff 75.5px,#00d9ff 76.5px,#00dfff 77.5px,#00d1ff 78.5px,#0078ff 80.5px,#002cff 81.5px,#0004f7 82.5px,#0000f3 83.5px,#0018ff 84.5px,#00b3ff 86.5px,#06f3f9 87.5px,#5cffa3 89.5px,#80ff80 91.5px,#80ff80 92.5px,#50ffaf 94.5px,#2fd 95.5px,#00e3ff 96.5px,#003eff 98.5px,#0004f3 99.5px,#0000d3 100.5px,#00d 101.5px,#000cfb 102.5px,#09f 104.5px,#00e5ff 105.5px,#28ffd7 106.5px,#8dff72 108.5px,#e7ff18 111.5px,#fffb00 113.5px,#ffef00 118.5px,#fdff02 120.5px,#a7ff58 124.5px,#5cffa3 126.5px,#04f3fb 128.5px,#000cfd 132.5px,#0000c7 134.5px,#0000c5 135.5px,#0000df 136.5px,#0012ff 137.5px,#02e9fd 140.5px,#34ffcb 141.5px,#e7ff18 144.5px,#ffed00 145.5px,#ff8b00 148.5px,#ff4200 152.5px,#ff1000 158.5px,#f00 164.5px,#f10000 171.5px,#f00 175.5px,#ff0200 178.5px,#ff1000 180.5px,#ff3e00 185.5px,#ff8700 189.5px,#ffef00 192.5px,#dfff20 193.5px,#64ff9b 195.5px,#14fbeb 196.5px,#00b3ff 197.5px,#0054ff 198.5px,#0008f1 199.5px,#0000b5 200.5px,#000095 201.5px,#0000a1 202.5px,#0004e7 203.5px,#0058ff 204.5px,#00c9ff 205.5px,#34ffcb 206.5px,#d7ff28 208.5px,#fdeb02 209.5px,#ff9700 211.5px,#f40 215.5px,#ff1000 222.5px,#fb0000 229.5px,#ef0000 232.5px,#e70000 236.5px,#db0000 246.5px,#cf0000 252.5px,#cd0000 264.5px,#bf0000 268.5px,#b70000 299.5px,#b10000 361.5px,#bf0000 365.5px,#bf0000 373.5px,#cf0000 375.5px,#e10000 380.5px,#f00 383.5px,#ff4a00 387.5px,#ff8700 389.5px,#ffe300 391.5px,#dfff20 392.5px,#20ffdf 395.5px,#00edff 396.5px,#00d3ff 397.5px,#0df 398.5px,#08f9f7 399.5px,#78ff87 401.5px,#e7fd18 403.5px,#ffe500 404.5px,#ff8100 407.5px,#ff3c00 411.5px,#ff0200 418.5px,#e70000 427.5px,#d70000 438.5px,#c70000 461.5px,#b70000 505.5px,#af0000 518px)"></div><div style="top:165px;background:linear-gradient(90deg,#0000df 0px,#0000df 6.5px,#0000d3 7.5px,#0000ef 11.5px,#0000e3 16.5px,#0000d3 17.5px,#0000ef 25.5px,#0000bf 32.5px,#0000bf 36.5px,#0000cf 37.5px,#0000bf 39.5px,#0000bf 41.5px,#0000fb 44.5px,#0000e7 45.5px,#0004f3 46.5px,#004cff 47.5px,#0074ff 48.5px,#02f 49.5px,#0000e7 50.5px,#001cff 51.5px,#0068ff 52.5px,#0080ff 53.5px,#0058ff 54.5px,#0018ff 55.5px,#0000ef 56.5px,#0014fd 57.5px,#0064ff 58.5px,#008bff 59.5px,#0083ff 60.5px,#000cfb 62.5px,#0000ef 63.5px,#0020ff 64.5px,#0068ff 65.5px,#009dff 66.5px,#00a7ff 67.5px,#0083ff 68.5px,#0004fb 70.5px,#0000ef 71.5px,#000cff 72.5px,#0087ff 74.5px,#00b7ff 75.5px,#00dfff 77.5px,#00abff 79.5px,#0004f9 82.5px,#0000f1 83.5px,#0018ff 84.5px,#04f1fb 87.5px,#54ffab 89.5px,#74ff8b 91.5px,#78ff87 92.5px,#4effb1 94.5px,#20ffdf 95.5px,#00e3ff 96.5px,#0042ff 98.5px,#0004f3 99.5px,#0000d3 100.5px,#0000d7 101.5px,#0008fb 102.5px,#008bff 104.5px,#00d5ff 105.5px,#18ffe7 106.5px,#81ff7e 108.5px,#df2 111.5px,#ff0 114.5px,#ffef00 117.5px,#f5ff0a 120.5px,#bdff42 123.5px,#58ffa7 126.5px,#04f3fb 128.5px,#000eff 132.5px,#0000c9 134.5px,#0000c3 135.5px,#0008fb 137.5px,#0040ff 138.5px,#00d3ff 140.5px,#20ffdf 141.5px,#d5ff2a 144.5px,#fdf902 145.5px,#ff9500 148.5px,#ff4a00 152.5px,#ff1000 158.5px,#ff0e00 160.5px,#f00 162.5px,#f00 177.5px,#ff1000 179.5px,#ff4000 185.5px,#ff8b00 189.5px,#ffef00 192.5px,#e3ff1c 193.5px,#20ffdf 196.5px,#00c9ff 197.5px,#0016fd 199.5px,#0000cb 200.5px,#00009f 201.5px,#000091 202.5px,#0000c1 203.5px,#001cfb 204.5px,#08e9f7 206.5px,#52ffad 207.5px,#a5ff5a 208.5px,#e5fd1a 209.5px,#ffdf00 210.5px,#ff7a00 213.5px,#ff3c00 217.5px,#ff2000 221.5px,#f00 229.5px,#ef0000 234.5px,#df0000 242.5px,#df0000 247.5px,#cf0000 251.5px,#cb0000 266.5px,#bf0000 272.5px,#b00 301.5px,#af0000 307.5px,#b10000 359.5px,#bf0000 363.5px,#bf0000 373.5px,#cf0000 375.5px,#df0000 380.5px,#ff0a00 384.5px,#ff3a00 387.5px,#ff9700 390.5px,#fdf302 392.5px,#cfff30 393.5px,#10fdef 396.5px,#0df 397.5px,#00cfff 398.5px,#00d9ff 399.5px,#0af9f5 400.5px,#38ffc7 401.5px,#b5ff4a 403.5px,#e7fd18 404.5px,#ffe700 405.5px,#ff8500 408.5px,#ff3200 413.5px,#f00 420.5px,#e70000 429.5px,#d50000 441.5px,#c70000 465.5px,#b70000 511.5px,#af0000 518px)"></div><div style="top:167px;background:linear-gradient(90deg,#0000df 0px,#0000df 6.5px,#0000d3 7.5px,#0000ef 11.5px,#0000e3 16.5px,#0000d3 17.5px,#0000ef 25.5px,#0000bf 32.5px,#0000bf 36.5px,#0000cf 37.5px,#0000bf 39.5px,#0000bf 41.5px,#00f 44.5px,#0000e7 45.5px,#0004f3 46.5px,#004cff 47.5px,#0074ff 48.5px,#0024ff 49.5px,#0000e7 50.5px,#001cff 51.5px,#0068ff 52.5px,#0080ff 53.5px,#0058ff 54.5px,#0018ff 55.5px,#0000ef 56.5px,#0014fb 57.5px,#0060ff 58.5px,#008bff 59.5px,#0083ff 60.5px,#000cfb 62.5px,#0000ef 63.5px,#001cff 64.5px,#0068ff 65.5px,#009bff 66.5px,#00a1ff 67.5px,#0083ff 68.5px,#0006fb 70.5px,#0000ef 71.5px,#000cff 72.5px,#0085ff 74.5px,#00cdff 76.5px,#00cbff 78.5px,#0078ff 80.5px,#0004fb 82.5px,#0000ef 83.5px,#000eff 84.5px,#00e7ff 87.5px,#2fd 88.5px,#6f9 90.5px,#70ff8f 92.5px,#6f9 93.5px,#1cffe3 95.5px,#00e3ff 96.5px,#0006f7 99.5px,#0000d3 100.5px,#0000d7 101.5px,#0004f7 102.5px,#0038ff 103.5px,#00c7ff 105.5px,#0cfbf3 106.5px,#9bff64 109.5px,#e3ff1c 112.5px,#ff0 115.5px,#fbff04 119.5px,#b7ff48 123.5px,#7eff81 125.5px,#04f3fb 128.5px,#0016ff 132.5px,#0000e9 133.5px,#0000cb 134.5px,#0000bf 135.5px,#0004f5 137.5px,#0030ff 138.5px,#00c1ff 140.5px,#10fbef 141.5px,#c5ff3a 144.5px,#f3fd0c 145.5px,#ffa100 148.5px,#ff5000 152.5px,#ff1200 158.5px,#f00 165.5px,#f00 176.5px,#ff2000 182.5px,#ff7800 188.5px,#ffc700 191.5px,#ffef00 192.5px,#e3ff1c 193.5px,#78ff87 195.5px,#2effd1 196.5px,#0df 197.5px,#0030ff 199.5px,#0000df 200.5px,#0000ab 201.5px,#000095 202.5px,#0000a1 203.5px,#0002e1 204.5px,#04f 205.5px,#00abff 206.5px,#18f9e7 207.5px,#b7ff48 209.5px,#f1fb0e 210.5px,#ffaf00 212.5px,#ff6400 215.5px,#ff3000 219.5px,#f00 229.5px,#df0000 243.5px,#db0000 249.5px,#cf0000 252.5px,#cb0000 268.5px,#bf0000 274.5px,#b70000 304.5px,#b50000 357.5px,#bf0000 367.5px,#bf0000 373.5px,#cf0000 375.5px,#e50000 381.5px,#ff0200 384.5px,#ff4600 388.5px,#ffa500 391.5px,#f1fd0e 393.5px,#30ffcf 396.5px,#06f7f9 397.5px,#00c3ff 399.5px,#0af9f5 401.5px,#38ffc7 402.5px,#b5ff4a 404.5px,#e7ff18 405.5px,#ffe900 406.5px,#ff9f00 408.5px,#ff5000 412.5px,#ff1200 418.5px,#f00 423.5px,#ef0000 428.5px,#df0000 436.5px,#d70000 443.5px,#c70000 468.5px,#b70000 518px)"></div><div style="top:169px;background:linear-gradient(90deg,#0000df 0px,#0000df 6.5px,#0000d3 7.5px,#0000ef 11.5px,#0000e3 16.5px,#0000d3 17.5px,#0000ef 25.5px,#0000bf 32.5px,#0000bf 36.5px,#0000cd 37.5px,#0000bf 39.5px,#0000bf 41.5px,#00f 44.5px,#0000e7 45.5px,#0004f3 46.5px,#0048ff 47.5px,#0074ff 48.5px,#0026ff 49.5px,#0000e7 50.5px,#001cff 51.5px,#0068ff 52.5px,#0080ff 53.5px,#0058ff 54.5px,#0018ff 55.5px,#0000ef 56.5px,#0010fb 57.5px,#0058ff 58.5px,#008bff 59.5px,#0083ff 60.5px,#000cfb 62.5px,#0000ef 63.5px,#001aff 64.5px,#0068ff 65.5px,#0097ff 66.5px,#009fff 67.5px,#0083ff 68.5px,#0008fb 70.5px,#0000ef 71.5px,#000cff 72.5px,#00afff 75.5px,#00cfff 77.5px,#00c7ff 78.5px,#0078ff 80.5px,#0004fb 82.5px,#0000ef 83.5px,#000cff 84.5px,#0048ff 85.5px,#0df 87.5px,#1affe5 88.5px,#5effa1 90.5px,#70ff8f 92.5px,#46ffb9 94.5px,#18ffe7 95.5px,#00e5ff 96.5px,#004aff 98.5px,#000cfb 99.5px,#0000d7 100.5px,#0000d3 101.5px,#0002f3 102.5px,#0030ff 103.5px,#04f3fb 106.5px,#8dff72 109.5px,#d9ff26 112.5px,#ff0 117.5px,#dbff24 121.5px,#97ff68 124.5px,#28ffd7 127.5px,#04f3fb 128.5px,#001aff 132.5px,#0000ed 133.5px,#0000bf 135.5px,#0000ef 137.5px,#0024ff 138.5px,#04f1fb 141.5px,#7eff81 143.5px,#e7ff18 145.5px,#ffed00 146.5px,#ff7a00 150.5px,#ff3000 155.5px,#ff1000 160.5px,#f00 164.5px,#f00 175.5px,#ff3000 183.5px,#ff7a00 188.5px,#ffc700 191.5px,#ffef00 192.5px,#e7ff18 193.5px,#78ff87 195.5px,#38ffc7 196.5px,#04ebfb 197.5px,#0046ff 199.5px,#0006f1 200.5px,#0000b9 201.5px,#009 202.5px,#000091 203.5px,#0000b9 204.5px,#0012f7 205.5px,#00cfff 207.5px,#30ffcf 208.5px,#85ff7a 209.5px,#f9f706 211.5px,#ff8d00 214.5px,#f40 218.5px,#ff2000 223.5px,#f00 231.5px,#ef0000 237.5px,#df0000 245.5px,#d30000 251.5px,#cb0000 270.5px,#bf0000 276.5px,#b70000 307.5px,#b50000 356.5px,#bf0000 361.5px,#bf0000 373.5px,#cf0000 375.5px,#cf0000 378.5px,#df0000 380.5px,#ff0a00 385.5px,#ff5000 389.5px,#ffb500 392.5px,#ffe300 393.5px,#dfff20 394.5px,#20ffdf 397.5px,#00ebff 398.5px,#00c5ff 399.5px,#00c1ff 400.5px,#00d1ff 401.5px,#08f9f7 402.5px,#78ff87 404.5px,#e5ff1a 406.5px,#ffe900 407.5px,#ff7600 411.5px,#ff3000 416.5px,#f00 424.5px,#ef0000 430.5px,#df0000 438.5px,#d70000 446.5px,#c70000 472.5px,#bf0000 518px)"></div><div style="top:171px;background:linear-gradient(90deg,#0000df 0px,#0000df 6.5px,#0000d3 7.5px,#0000ef 11.5px,#0000e3 16.5px,#0000d3 17.5px,#0000ef 25.5px,#0000bf 32.5px,#0000bf 36.5px,#0000cb 37.5px,#0000bf 40.5px,#0000bf 41.5px,#00f 44.5px,#0000e7 45.5px,#0004ef 46.5px,#0048ff 47.5px,#0074ff 48.5px,#0028ff 49.5px,#0000e7 50.5px,#001aff 51.5px,#0068ff 52.5px,#0080ff 53.5px,#0058ff 54.5px,#0018ff 55.5px,#0000ef 56.5px,#0010fb 57.5px,#0058ff 58.5px,#008bff 59.5px,#0083ff 60.5px,#000cfb 62.5px,#0000ef 63.5px,#0018ff 64.5px,#06f 65.5px,#0097ff 66.5px,#009fff 67.5px,#0083ff 68.5px,#000cfb 70.5px,#0000ef 71.5px,#000cff 72.5px,#00a7ff 75.5px,#00cdff 77.5px,#00c3ff 78.5px,#0078ff 80.5px,#0008fb 82.5px,#0000ef 83.5px,#000afd 84.5px,#008bff 86.5px,#00d7ff 87.5px,#12ffed 88.5px,#58ffa7 90.5px,#6f9 92.5px,#5cffa3 93.5px,#18ffe7 95.5px,#00e5ff 96.5px,#000cfb 99.5px,#0000d7 100.5px,#0000d3 101.5px,#0000ef 102.5px,#0028ff 103.5px,#02edfd 106.5px,#26ffd9 107.5px,#a3ff5c 110.5px,#df2 113.5px,#efff10 116.5px,#edff12 119.5px,#adff52 123.5px,#50ffaf 126.5px,#04f3fb 128.5px,#001eff 132.5px,#0000ef 133.5px,#0000c1 135.5px,#0000cb 136.5px,#0000e9 137.5px,#0018ff 138.5px,#00e1ff 141.5px,#28ffd7 142.5px,#d7ff28 145.5px,#fbf904 146.5px,#f90 149.5px,#ff4000 154.5px,#ff1000 160.5px,#f00 166.5px,#ff0800 175.5px,#ff2000 181.5px,#ff6a00 187.5px,#ffcd00 191.5px,#ffef00 192.5px,#e9ff16 193.5px,#48ffb7 196.5px,#08f3f7 197.5px,#0012fd 200.5px,#0000cf 201.5px,#0000a3 202.5px,#00008f 203.5px,#009 204.5px,#0000d5 205.5px,#0030ff 206.5px,#06e9f9 208.5px,#4affb5 209.5px,#d5ff2a 211.5px,#fdf102 212.5px,#ff8900 215.5px,#f40 219.5px,#ff1000 227.5px,#f00 233.5px,#ef0000 237.5px,#e50000 241.5px,#d90000 252.5px,#cf0000 257.5px,#cb0000 272.5px,#bf0000 278.5px,#b70000 310.5px,#af0000 355.5px,#bf0000 357.5px,#bf0000 373.5px,#cf0000 375.5px,#cf0000 378.5px,#ff0200 385.5px,#ff5c00 390.5px,#ffc300 393.5px,#fdf102 394.5px,#cfff30 395.5px,#12fded 398.5px,#0df 399.5px,#00bdff 400.5px,#00b5ff 401.5px,#06f9f9 403.5px,#e3ff1c 407.5px,#fded02 408.5px,#ff8f00 411.5px,#ff4800 415.5px,#ff1000 422.5px,#fd0000 427.5px,#ef0000 431.5px,#e70000 435.5px,#d50000 449.5px,#c70000 475.5px,#bf0000 518px)"></div><div style="top:173px;background:linear-gradient(90deg,#0000df 0px,#0000df 6.5px,#0000d3 7.5px,#0000ef 11.5px,#0000e3 16.5px,#0000d3 17.5px,#0000ef 25.5px,#0000bf 32.5px,#0000bf 36.5px,#0000cb 37.5px,#0000bf 40.5px,#0000bf 41.5px,#00f 44.5px,#0000e7 45.5px,#0004ef 46.5px,#0048ff 47.5px,#0074ff 48.5px,#0028ff 49.5px,#0000e9 50.5px,#0018ff 51.5px,#0064ff 52.5px,#0080ff 53.5px,#0058ff 54.5px,#0018ff 55.5px,#0000ef 56.5px,#000efb 57.5px,#0058ff 58.5px,#008bff 59.5px,#0083ff 60.5px,#000cfb 62.5px,#0000ef 63.5px,#0018ff 64.5px,#0062ff 65.5px,#0093ff 66.5px,#009fff 67.5px,#0080ff 68.5px,#000cfb 70.5px,#0000ef 71.5px,#0008fb 72.5px,#00a1ff 75.5px,#0bf 76.5px,#00bfff 78.5px,#0078ff 80.5px,#0008fd 82.5px,#0000ef 83.5px,#0004fb 84.5px,#0038ff 85.5px,#00c7ff 87.5px,#0cfbf3 88.5px,#50ffaf 90.5px,#60ff9f 92.5px,#40ffbf 94.5px,#16ffe9 95.5px,#00e3ff 96.5px,#000cfb 99.5px,#0000d9 100.5px,#0000cf 101.5px,#0000eb 102.5px,#001aff 103.5px,#00dfff 106.5px,#1affe5 107.5px,#74ff8b 109.5px,#c5ff3a 112.5px,#e9ff16 116.5px,#e9ff16 118.5px,#cdff32 121.5px,#8fff70 124.5px,#24ffdb 127.5px,#02f3fd 128.5px,#02f 132.5px,#0000f5 133.5px,#0000c3 135.5px,#0000c7 136.5px,#000cfd 138.5px,#00cfff 141.5px,#16fde9 142.5px,#c7ff38 145.5px,#f3ff0c 146.5px,#ffa300 149.5px,#ff5200 153.5px,#ff1000 160.5px,#ff0e00 162.5px,#f00 164.5px,#f00 173.5px,#ff1000 177.5px,#ff4000 184.5px,#ff8300 188.5px,#ffcf00 191.5px,#ffef00 192.5px,#ebff14 193.5px,#87ff78 195.5px,#0cfbf3 197.5px,#00c1ff 198.5px,#0024ff 200.5px,#0000df 201.5px,#0000ad 202.5px,#000093 203.5px,#00008f 204.5px,#0000af 205.5px,#0008ef 206.5px,#0050ff 207.5px,#00afff 208.5px,#14f9eb 209.5px,#a7ff58 211.5px,#e1ff1e 212.5px,#ffe900 213.5px,#ff8700 216.5px,#ff4800 220.5px,#ff2000 225.5px,#f00 233.5px,#ef0000 239.5px,#df0000 247.5px,#d00 253.5px,#cf0000 257.5px,#cd0000 274.5px,#bf0000 278.5px,#b70000 313.5px,#b30000 355.5px,#bf0000 358.5px,#bf0000 373.5px,#cf0000 375.5px,#d70000 379.5px,#f00 385.5px,#ff3600 389.5px,#ff8300 392.5px,#f5fb0a 395.5px,#08f7f7 399.5px,#00b1ff 401.5px,#00b3ff 402.5px,#00cbff 403.5px,#06f5f9 404.5px,#e1ff1e 408.5px,#fdf102 409.5px,#ff9100 412.5px,#ff4000 417.5px,#ff1000 423.5px,#fb0000 429.5px,#ef0000 435.5px,#df0000 443.5px,#d70000 451.5px,#c70000 479.5px,#bf0000 518px)"></div><div style="top:175px;background:linear-gradient(90deg,#0000df 0px,#0000df 6.5px,#0000d3 7.5px,#0000ef 11.5px,#0000e3 16.5px,#0000d3 17.5px,#0000ef 25.5px,#0000bf 32.5px,#0000bf 36.5px,#0000cb 37.5px,#0000bf 41.5px,#00f 44.5px,#0000e7 45.5px,#0002ef 46.5px,#0048ff 47.5px,#0074ff 48.5px,#0028ff 49.5px,#0000eb 50.5px,#0018ff 51.5px,#0064ff 52.5px,#0080ff 53.5px,#005cff 54.5px,#0018ff 55.5px,#0000ef 56.5px,#000cfb 57.5px,#0058ff 58.5px,#0087ff 59.5px,#0083ff 60.5px,#000cfb 62.5px,#0000ef 63.5px,#0018ff 64.5px,#0091ff 66.5px,#009fff 67.5px,#0080ff 68.5px,#000cfb 70.5px,#0000ef 71.5px,#0008fb 72.5px,#009fff 75.5px,#00bfff 77.5px,#0bf 78.5px,#0076ff 80.5px,#0038ff 81.5px,#000cff 82.5px,#0000ef 83.5px,#0004fb 84.5px,#0078ff 86.5px,#04f7fb 88.5px,#4affb5 90.5px,#60ff9f 92.5px,#3affc5 94.5px,#14ffeb 95.5px,#00dfff 96.5px,#000cfd 99.5px,#0000cf 101.5px,#0000e7 102.5px,#0016ff 103.5px,#00cfff 106.5px,#0efdf1 107.5px,#8bff74 110.5px,#cbff34 113.5px,#dfff20 117.5px,#dfff20 119.5px,#a3ff5c 123.5px,#4affb5 126.5px,#00f3ff 128.5px,#0028ff 132.5px,#0004f7 133.5px,#0000c7 135.5px,#0000c5 136.5px,#0006f9 138.5px,#0078ff 140.5px,#08f7f7 142.5px,#b5ff4a 145.5px,#e5ff1a 146.5px,#fff100 147.5px,#ff9500 150.5px,#ff4c00 154.5px,#ff2000 158.5px,#f00 166.5px,#f00 172.5px,#ff1000 176.5px,#ff3000 182.5px,#ff7200 187.5px,#ffb300 190.5px,#ffef00 192.5px,#ebff14 193.5px,#58ffa7 196.5px,#18ffe7 197.5px,#00cfff 198.5px,#003cff 200.5px,#0004f3 201.5px,#00009b 203.5px,#00008f 204.5px,#000097 205.5px,#0000cb 206.5px,#001afd 207.5px,#00cfff 209.5px,#26fdd9 210.5px,#b5ff4a 212.5px,#ebfd14 213.5px,#ffe500 214.5px,#ff8700 217.5px,#ff4800 221.5px,#ff1000 229.5px,#f00 235.5px,#ef0000 239.5px,#eb0000 243.5px,#df0000 249.5px,#d90000 255.5px,#cf0000 260.5px,#c70000 277.5px,#b70000 316.5px,#b50000 355.5px,#bf0000 360.5px,#c30000 373.5px,#cf0000 376.5px,#df0000 382.5px,#ff0200 386.5px,#ff4000 390.5px,#ff8f00 393.5px,#ffe300 395.5px,#e9ff16 396.5px,#30ffcf 399.5px,#02effd 400.5px,#00a7ff 402.5px,#00abff 403.5px,#06f1f9 405.5px,#76ff89 407.5px,#df2 409.5px,#fbf304 410.5px,#f90 413.5px,#ff5000 417.5px,#ff1200 424.5px,#fb0000 431.5px,#ef0000 437.5px,#df0000 445.5px,#d70000 454.5px,#c70000 483.5px,#bf0000 518px)"></div><div style="top:177px;background:linear-gradient(90deg,#0000df 0px,#0000df 6.5px,#0000d3 7.5px,#0000ef 11.5px,#0000e3 16.5px,#0000d3 17.5px,#0000ef 25.5px,#0000bf 32.5px,#0000bf 36.5px,#0000cb 37.5px,#0000bf 41.5px,#00f 44.5px,#0000e7 45.5px,#0000ef 46.5px,#0046ff 47.5px,#0074ff 48.5px,#002aff 49.5px,#0000eb 50.5px,#0018ff 51.5px,#0062ff 52.5px,#0080ff 53.5px,#0060ff 54.5px,#0018ff 55.5px,#0000ef 56.5px,#000cfb 57.5px,#0058ff 58.5px,#0087ff 59.5px,#0081ff 60.5px,#000cfb 62.5px,#0000ef 63.5px,#0018ff 64.5px,#008fff 66.5px,#009dff 67.5px,#0080ff 68.5px,#000cfb 70.5px,#0000ef 71.5px,#0004fb 72.5px,#0097ff 75.5px,#00bdff 77.5px,#00b9ff 78.5px,#009fff 79.5px,#000cff 82.5px,#0000ef 83.5px,#0004f9 84.5px,#0028ff 85.5px,#02f3fd 88.5px,#42ffbd 90.5px,#52ffad 92.5px,#4effb1 93.5px,#12ffed 95.5px,#0df 96.5px,#0018ff 99.5px,#0000df 100.5px,#0000cf 101.5px,#000cff 103.5px,#00c7ff 106.5px,#06f7f9 107.5px,#7cff83 110.5px,#c1ff3e 113.5px,#d9ff26 118.5px,#b1ff4e 122.5px,#68ff97 125.5px,#00f3ff 128.5px,#0004fb 133.5px,#0000c9 135.5px,#0000c3 136.5px,#0002f5 138.5px,#0028ff 139.5px,#02edfd 142.5px,#30ffcf 143.5px,#d7ff28 146.5px,#fbf904 147.5px,#ff8500 151.5px,#ff4200 155.5px,#ff1000 161.5px,#ff1000 163.5px,#f00 165.5px,#ff0400 171.5px,#ff2600 180.5px,#ff6400 186.5px,#ffb700 190.5px,#ffef00 192.5px,#ebff14 193.5px,#91ff6e 195.5px,#20ffdf 197.5px,#0df 198.5px,#000efb 201.5px,#0000a5 203.5px,#00008f 204.5px,#00008f 205.5px,#0000a5 206.5px,#0002e1 207.5px,#0034ff 208.5px,#02e1fd 210.5px,#38ffc7 211.5px,#bfff40 213.5px,#f1fd0e 214.5px,#fb0 216.5px,#ff6200 220.5px,#ff3000 225.5px,#f00 235.5px,#ef0000 241.5px,#df0000 251.5px,#d30000 257.5px,#c90000 279.5px,#bf0000 289.5px,#b90000 318.5px,#af0000 328.5px,#af0000 354.5px,#bf0000 358.5px,#c30000 373.5px,#cf0000 376.5px,#cf0000 379.5px,#df0000 381.5px,#f00 386.5px,#ff4600 391.5px,#ff9b00 394.5px,#fded02 396.5px,#dbff24 397.5px,#20ffdf 400.5px,#00e3ff 401.5px,#00b9ff 402.5px,#00a1ff 403.5px,#00a3ff 404.5px,#06f1f9 406.5px,#68ff97 408.5px,#d7ff28 410.5px,#f9f706 411.5px,#ff8500 415.5px,#ff3200 421.5px,#f00 430.5px,#e30000 442.5px,#d70000 457.5px,#c70000 487.5px,#bf0000 518px)"></div><div style="top:179px;background:linear-gradient(90deg,#0000df 0px,#0000df 6.5px,#0000d3 7.5px,#0000ef 11.5px,#0000e3 16.5px,#0000d3 17.5px,#0000ef 25.5px,#0000bf 32.5px,#0000bf 36.5px,#0000cb 37.5px,#0000bf 41.5px,#00f 44.5px,#0000e7 45.5px,#0000ef 46.5px,#0074ff 48.5px,#002eff 49.5px,#0000eb 50.5px,#0018fb 51.5px,#0060ff 52.5px,#0080ff 53.5px,#0064ff 54.5px,#0018ff 55.5px,#0000ef 56.5px,#000cfb 57.5px,#0054ff 58.5px,#0087ff 59.5px,#0080ff 60.5px,#000cfb 62.5px,#0000ef 63.5px,#0018ff 64.5px,#008fff 66.5px,#009bff 67.5px,#0080ff 68.5px,#000cfb 70.5px,#0000ef 71.5px,#0004fb 72.5px,#0091ff 75.5px,#00b5ff 77.5px,#009fff 79.5px,#000cff 82.5px,#0000ef 83.5px,#0000f7 84.5px,#0028ff 85.5px,#00e9ff 88.5px,#1cffe3 89.5px,#4effb1 91.5px,#4affb5 93.5px,#10ffef 95.5px,#00dbff 96.5px,#0018ff 99.5px,#0000df 100.5px,#0000cf 101.5px,#000afb 103.5px,#0078ff 105.5px,#02effd 107.5px,#4effb1 109.5px,#8fff70 111.5px,#cbff34 115.5px,#cfff30 119.5px,#97ff68 123.5px,#42ffbd 126.5px,#00f1ff 128.5px,#0006fb 133.5px,#0000bf 136.5px,#0000ed 138.5px,#001cff 139.5px,#0df 142.5px,#20ffdf 143.5px,#c7ff38 146.5px,#f1ff0e 147.5px,#ffc300 149.5px,#ff5600 154.5px,#ff2000 159.5px,#ff1000 163.5px,#f00 168.5px,#ff1000 174.5px,#ff1200 176.5px,#ff2000 178.5px,#ff5000 184.5px,#ff8900 188.5px,#ffef00 192.5px,#bfff40 194.5px,#28ffd7 197.5px,#00e7ff 198.5px,#0020ff 201.5px,#0000e1 202.5px,#000095 204.5px,#000091 206.5px,#000af7 208.5px,#00a7ff 210.5px,#0af1f5 211.5px,#8fff70 213.5px,#f5fb0a 215.5px,#ff9d00 218.5px,#ff5400 222.5px,#ff1000 231.5px,#fd0000 238.5px,#ef0000 241.5px,#e70000 246.5px,#d90000 258.5px,#cf0000 268.5px,#cb0000 281.5px,#bf0000 287.5px,#b70000 321.5px,#af0000 354.5px,#bf0000 358.5px,#c70000 373.5px,#cf0000 379.5px,#ff0200 387.5px,#ff5000 392.5px,#ffa700 395.5px,#f7f708 397.5px,#8fff70 399.5px,#12fded 401.5px,#00d7ff 402.5px,#00adff 403.5px,#09f 404.5px,#009dff 405.5px,#00bdff 406.5px,#04effb 407.5px,#28ffd7 408.5px,#a1ff5e 410.5px,#f7fb08 412.5px,#ff8b00 416.5px,#ff4c00 420.5px,#ff1000 428.5px,#f00 434.5px,#ef0000 439.5px,#e70000 444.5px,#d70000 460.5px,#c70000 491.5px,#bf0000 518px)"></div><div style="top:181px;background:linear-gradient(90deg,#0000df 0px,#0000df 6.5px,#0000d3 7.5px,#0000ef 11.5px,#0000e3 16.5px,#0000d3 17.5px,#0000ef 25.5px,#0000bf 32.5px,#0000bf 36.5px,#0000cb 37.5px,#0000bf 41.5px,#00f 44.5px,#0000e9 45.5px,#0000ef 46.5px,#0076ff 48.5px,#0030ff 49.5px,#0000eb 50.5px,#0014fb 51.5px,#0060ff 52.5px,#0080ff 53.5px,#0064ff 54.5px,#0018ff 55.5px,#0000ef 56.5px,#000cfb 57.5px,#0054ff 58.5px,#0087ff 59.5px,#0080ff 60.5px,#000cfb 62.5px,#0000ef 63.5px,#0014ff 64.5px,#008dff 66.5px,#009bff 67.5px,#0080ff 68.5px,#000cfd 70.5px,#0000ef 71.5px,#0004fb 72.5px,#008fff 75.5px,#00afff 77.5px,#00afff 78.5px,#0074ff 80.5px,#0010ff 82.5px,#0000f1 83.5px,#0000f7 84.5px,#0024ff 85.5px,#00e3ff 88.5px,#12ffed 89.5px,#34ffcb 90.5px,#50ffaf 92.5px,#30ffcf 94.5px,#10ffef 95.5px,#00dbff 96.5px,#00a3ff 97.5px,#0018ff 99.5px,#0000e7 100.5px,#0000cf 101.5px,#0000db 102.5px,#0004fb 103.5px,#00e5ff 107.5px,#18ffe7 108.5px,#83ff7c 111.5px,#b7ff48 114.5px,#c7ff38 118.5px,#b1ff4e 121.5px,#7aff85 124.5px,#1affe5 127.5px,#00efff 128.5px,#0008fd 133.5px,#0000bf 136.5px,#0000e7 138.5px,#0012ff 139.5px,#00c7ff 142.5px,#12fbed 143.5px,#e5ff1a 147.5px,#fff300 148.5px,#ff8000 152.5px,#ff3600 157.5px,#ff1000 163.5px,#ff1000 175.5px,#ff2000 177.5px,#ff4600 183.5px,#ff8b00 188.5px,#fff700 192.5px,#bfff40 194.5px,#2effd1 197.5px,#04f3fb 198.5px,#0030ff 201.5px,#0002f1 202.5px,#00009d 204.5px,#00008f 206.5px,#00009d 207.5px,#0000cf 208.5px,#001cfd 209.5px,#00bfff 211.5px,#16f9e9 212.5px,#d1ff2e 215.5px,#f9f906 216.5px,#ff9d00 219.5px,#ff5400 223.5px,#ff1000 232.5px,#f00 239.5px,#ef0000 243.5px,#eb0000 247.5px,#df0000 253.5px,#df0000 259.5px,#cf0000 263.5px,#c70000 284.5px,#b70000 324.5px,#af0000 354.5px,#bf0000 356.5px,#bf0000 372.5px,#cf0000 376.5px,#d90000 380.5px,#df0000 383.5px,#ff0a00 388.5px,#ff5800 393.5px,#ffb300 396.5px,#effd10 398.5px,#80ff80 400.5px,#08f7f7 402.5px,#00a3ff 404.5px,#008fff 405.5px,#0097ff 406.5px,#02e7fd 408.5px,#28ffd7 409.5px,#cbff34 412.5px,#f3fd0c 413.5px,#ffa700 416.5px,#ff5000 421.5px,#ff1000 429.5px,#f70000 437.5px,#e70000 446.5px,#d70000 463.5px,#c70000 497.5px,#bf0000 518px)"></div><div style="top:183px;background:linear-gradient(90deg,#0000df 0px,#0000e1 6.5px,#0000d3 7.5px,#0000ef 11.5px,#0000e3 16.5px,#0000d3 17.5px,#0000ef 25.5px,#0000bf 32.5px,#0000bf 36.5px,#0000cb 37.5px,#0000bf 41.5px,#00f 44.5px,#0000eb 45.5px,#0000ef 46.5px,#0078ff 48.5px,#0030ff 49.5px,#0000eb 50.5px,#0014fb 51.5px,#005aff 52.5px,#0080ff 53.5px,#0064ff 54.5px,#001cff 55.5px,#0000ef 56.5px,#000cfb 57.5px,#0052ff 58.5px,#0080ff 59.5px,#0080ff 60.5px,#000cfb 62.5px,#0000ef 63.5px,#000eff 64.5px,#0058ff 65.5px,#0087ff 66.5px,#009bff 67.5px,#0080ff 68.5px,#000cff 70.5px,#0000ef 71.5px,#0004fb 72.5px,#0028ff 73.5px,#0087ff 75.5px,#00afff 77.5px,#00adff 78.5px,#0074ff 80.5px,#0010ff 82.5px,#0000f3 84.5px,#001aff 85.5px,#00d7ff 88.5px,#0afdf5 89.5px,#40ffbf 91.5px,#40ffbf 93.5px,#0cfff3 95.5px,#00a7ff 97.5px,#0018ff 99.5px,#0000e9 100.5px,#0000cf 101.5px,#0000d7 102.5px,#0004f7 103.5px,#002aff 104.5px,#00d7ff 107.5px,#0cfdf3 108.5px,#7aff85 111.5px,#afff50 114.5px,#bfff40 118.5px,#adff52 121.5px,#76ff89 124.5px,#16ffe9 127.5px,#00efff 128.5px,#000cff 133.5px,#0000bf 136.5px,#0000df 138.5px,#000afd 139.5px,#0078ff 141.5px,#04f3fb 143.5px,#a7ff58 146.5px,#f9f906 148.5px,#ff8900 152.5px,#ff4600 156.5px,#ff1000 163.5px,#ff1000 174.5px,#ff4000 182.5px,#ff7c00 187.5px,#ffd700 191.5px,#fff700 192.5px,#bfff40 194.5px,#38ffc7 197.5px,#04f5fb 198.5px,#000afb 202.5px,#0000ab 204.5px,#000091 205.5px,#00008f 207.5px,#0000ad 208.5px,#0002e5 209.5px,#0034ff 210.5px,#00d3ff 212.5px,#24fddb 213.5px,#d7ff28 216.5px,#fbf504 217.5px,#ff8700 221.5px,#ff4200 226.5px,#ff1000 234.5px,#f00 240.5px,#ef0000 244.5px,#e30000 249.5px,#db0000 261.5px,#cf0000 267.5px,#c90000 286.5px,#bf0000 296.5px,#b70000 327.5px,#b10000 354.5px,#bf0000 356.5px,#bf0000 372.5px,#cf0000 374.5px,#d50000 380.5px,#ef0000 386.5px,#ff0200 388.5px,#ff4a00 393.5px,#ff9700 396.5px,#ffe700 398.5px,#e3ff1c 399.5px,#30ffcf 402.5px,#02f1fd 403.5px,#09f 405.5px,#008bff 406.5px,#008fff 407.5px,#02e5fd 409.5px,#2fd 410.5px,#c3ff3c 413.5px,#edfd12 414.5px,#ffe900 415.5px,#ff8100 419.5px,#ff3600 425.5px,#f00 435.5px,#f70000 439.5px,#e50000 449.5px,#d70000 466.5px,#c70000 502.5px,#bf0000 518px)"></div><div style="top:185px;background:linear-gradient(90deg,#0000df 0px,#0000e3 6.5px,#0000d3 7.5px,#0000ef 11.5px,#0000e3 16.5px,#0000d3 17.5px,#0000ef 25.5px,#0000bf 32.5px,#0000bf 36.5px,#0000cb 37.5px,#0000bf 41.5px,#00f 44.5px,#0000eb 45.5px,#0000eb 46.5px,#003eff 47.5px,#007aff 48.5px,#0030ff 49.5px,#0000ed 50.5px,#0014fb 51.5px,#0058ff 52.5px,#0080ff 53.5px,#0064ff 54.5px,#001cff 55.5px,#0000ef 56.5px,#000cfb 57.5px,#0080ff 59.5px,#0080ff 60.5px,#000cfd 62.5px,#0000ef 63.5px,#000cff 64.5px,#0056ff 65.5px,#0085ff 66.5px,#0095ff 67.5px,#0080ff 68.5px,#000cff 70.5px,#0000ef 71.5px,#0004f9 72.5px,#0083ff 75.5px,#00a9ff 77.5px,#00a9ff 78.5px,#0097ff 79.5px,#0012ff 82.5px,#0000f3 83.5px,#0000f3 84.5px,#0018ff 85.5px,#00cfff 88.5px,#06fbf9 89.5px,#3affc5 91.5px,#3cffc3 93.5px,#08fff7 95.5px,#00a7ff 97.5px,#001eff 99.5px,#0000eb 100.5px,#0000cf 101.5px,#0000d7 102.5px,#0000f1 103.5px,#0058ff 105.5px,#04f9fb 108.5px,#85ff7a 112.5px,#afff50 115.5px,#afff50 120.5px,#6eff91 124.5px,#12ffed 127.5px,#00edff 128.5px,#000eff 133.5px,#0000d3 135.5px,#0000c3 136.5px,#0000d9 138.5px,#0004f9 139.5px,#002cff 140.5px,#00e7ff 143.5px,#28ffd7 144.5px,#c7ff38 147.5px,#f1ff0e 148.5px,#ffc700 150.5px,#ff6a00 154.5px,#f20 160.5px,#ff1000 165.5px,#ff1600 174.5px,#ff4200 182.5px,#ff9300 188.5px,#fff700 192.5px,#bfff40 194.5px,#6cff93 196.5px,#0cfbf3 198.5px,#0050ff 201.5px,#0018ff 202.5px,#0000e1 203.5px,#000097 205.5px,#000095 208.5px,#0008f7 210.5px,#0097ff 212.5px,#02e3fd 213.5px,#2cffd3 214.5px,#abff54 216.5px,#df2 217.5px,#fdf502 218.5px,#ff9d00 221.5px,#ff5800 225.5px,#ff1200 234.5px,#f00 241.5px,#ef0000 245.5px,#e70000 250.5px,#d90000 263.5px,#cf0000 268.5px,#cb0000 288.5px,#bf0000 294.5px,#b70000 330.5px,#b50000 354.5px,#bf0000 359.5px,#c50000 372.5px,#cf0000 377.5px,#e10000 384.5px,#ff0a00 389.5px,#ff5000 394.5px,#ffc700 398.5px,#fdf102 399.5px,#d9ff26 400.5px,#28ffd7 403.5px,#02e7fd 404.5px,#0091ff 406.5px,#0080ff 407.5px,#0089ff 408.5px,#0df 410.5px,#1afde5 411.5px,#bdff42 414.5px,#e7ff18 415.5px,#fdef02 416.5px,#ff8700 420.5px,#f40 425.5px,#ff1000 433.5px,#f90000 441.5px,#e70000 451.5px,#d70000 469.5px,#c70000 508.5px,#bf0000 518px)"></div><div style="top:187px;background:linear-gradient(90deg,#0000df 0px,#0000e3 6.5px,#0000d3 7.5px,#0000ef 11.5px,#0000e3 16.5px,#0000d3 17.5px,#0000ef 25.5px,#0000bf 32.5px,#0000bf 36.5px,#0000cb 37.5px,#0000bf 41.5px,#00f 44.5px,#0000eb 45.5px,#0000eb 46.5px,#003cff 47.5px,#0078ff 48.5px,#0030ff 49.5px,#0000ef 50.5px,#0010fb 51.5px,#0058ff 52.5px,#0080ff 53.5px,#0064ff 54.5px,#001cff 55.5px,#0000ef 56.5px,#000cfb 57.5px,#007cff 59.5px,#007cff 60.5px,#000cff 62.5px,#0000ef 63.5px,#000cfb 64.5px,#0083ff 66.5px,#008fff 67.5px,#007eff 68.5px,#000cff 70.5px,#0000ef 71.5px,#0002f7 72.5px,#0080ff 75.5px,#09f 76.5px,#00a1ff 78.5px,#0095ff 79.5px,#0014ff 82.5px,#0000f3 83.5px,#0000f3 84.5px,#0012ff 85.5px,#00c7ff 88.5px,#02f5fd 89.5px,#3effc1 92.5px,#26ffd9 94.5px,#08fbf7 95.5px,#00a7ff 97.5px,#0028ff 99.5px,#0000ed 100.5px,#0000d1 101.5px,#0000d3 102.5px,#0000ef 103.5px,#001aff 104.5px,#00f1ff 108.5px,#4fb 110.5px,#8dff72 113.5px,#afff50 117.5px,#a5ff5a 120.5px,#6aff95 124.5px,#10ffef 127.5px,#00ebff 128.5px,#0010ff 133.5px,#0000d3 135.5px,#0000c7 137.5px,#0000f3 139.5px,#0058ff 141.5px,#00d7ff 143.5px,#14ffeb 144.5px,#b7ff48 147.5px,#fff300 149.5px,#ff8500 153.5px,#ff3a00 158.5px,#ff1000 164.5px,#ff1200 173.5px,#ff4000 181.5px,#ff8300 187.5px,#fff700 192.5px,#bfff40 194.5px,#40ffbf 197.5px,#0cfdf3 198.5px,#00d5ff 199.5px,#0026ff 202.5px,#0002ef 203.5px,#0000a1 205.5px,#00008f 206.5px,#00008f 208.5px,#0000a1 209.5px,#0000cf 210.5px,#0016fd 211.5px,#06eff9 214.5px,#78ff87 216.5px,#e1ff1e 218.5px,#fdf502 219.5px,#ffb500 221.5px,#ff6800 225.5px,#ff2400 232.5px,#f00 241.5px,#ef0000 249.5px,#df0000 257.5px,#d00 264.5px,#cf0000 268.5px,#c70000 291.5px,#b90000 333.5px,#af0000 343.5px,#b70000 354.5px,#bf0000 371.5px,#cf0000 373.5px,#cf0000 380.5px,#df0000 382.5px,#df0000 384.5px,#ff0200 389.5px,#ff4600 394.5px,#ffad00 398.5px,#f7f708 400.5px,#93ff6c 402.5px,#1afde5 404.5px,#0df 405.5px,#00a9ff 406.5px,#0087ff 407.5px,#007aff 408.5px,#0080ff 409.5px,#00d7ff 411.5px,#16fde9 412.5px,#b3ff4c 415.5px,#fbf504 417.5px,#ff8d00 421.5px,#ff4000 427.5px,#ff1000 435.5px,#f00 441.5px,#ef0000 449.5px,#df0000 461.5px,#d70000 473.5px,#c70000 514.5px,#bf0000 518px)"></div><div style="top:189px;background:linear-gradient(90deg,#0000df 0px,#0000e3 6.5px,#0000d3 7.5px,#0000ef 11.5px,#0000e3 16.5px,#0000d3 17.5px,#0000ef 25.5px,#0000bf 32.5px,#0000bf 36.5px,#0000cb 37.5px,#0000c3 41.5px,#00f 44.5px,#0000eb 45.5px,#0000eb 46.5px,#003cff 47.5px,#0078ff 48.5px,#0000ef 50.5px,#0010fb 51.5px,#0058ff 52.5px,#0080ff 53.5px,#0064ff 54.5px,#0020ff 55.5px,#0000f1 56.5px,#000cfb 57.5px,#007cff 59.5px,#007cff 60.5px,#000cff 62.5px,#0000ef 63.5px,#000cfb 64.5px,#0083ff 66.5px,#008fff 67.5px,#007cff 68.5px,#000cff 70.5px,#0000ef 71.5px,#0000f7 72.5px,#007cff 75.5px,#009fff 77.5px,#0091ff 79.5px,#0014ff 82.5px,#0000f5 83.5px,#0000ef 84.5px,#000eff 85.5px,#00f1ff 89.5px,#2cffd3 91.5px,#30ffcf 93.5px,#06fbf9 95.5px,#00a3ff 97.5px,#0028ff 99.5px,#0000ef 100.5px,#0000d3 101.5px,#0000d3 102.5px,#0000e9 103.5px,#0012ff 104.5px,#00e5ff 108.5px,#12ffed 109.5px,#70ff8f 112.5px,#9dff62 115.5px,#a1ff5e 119.5px,#89ff76 122.5px,#4affb5 125.5px,#10ffef 127.5px,#00bfff 129.5px,#0012ff 133.5px,#0000ef 134.5px,#0000c7 136.5px,#0000c3 137.5px,#0000ef 139.5px,#0018ff 140.5px,#08f7f7 144.5px,#d7ff28 148.5px,#f9fb06 149.5px,#ff8b00 153.5px,#ff3200 159.5px,#ff1000 165.5px,#ff1000 172.5px,#ff3000 179.5px,#ff8700 187.5px,#ffdf00 191.5px,#fff900 192.5px,#9bff64 195.5px,#12ffed 198.5px,#00dbff 199.5px,#0006f9 203.5px,#0000ab 205.5px,#000093 206.5px,#000091 209.5px,#0000af 210.5px,#0002e3 211.5px,#0028ff 212.5px,#0cf7f3 215.5px,#b7ff48 218.5px,#e5ff1a 219.5px,#fdf102 220.5px,#ff8700 224.5px,#ff3400 231.5px,#f00 241.5px,#f00 244.5px,#ef0000 248.5px,#ef0000 252.5px,#df0000 256.5px,#db0000 266.5px,#cf0000 272.5px,#cb0000 293.5px,#bf0000 299.5px,#b70000 337.5px,#af0000 353.5px,#bf0000 355.5px,#c70000 371.5px,#cf0000 380.5px,#df0000 382.5px,#ef0000 387.5px,#ff0a00 390.5px,#ff4a00 395.5px,#ff9300 398.5px,#f3fd0c 401.5px,#0efdf1 405.5px,#00a3ff 407.5px,#007eff 408.5px,#0070ff 409.5px,#007cff 410.5px,#00cfff 412.5px,#0ef9f1 413.5px,#d7ff28 417.5px,#f7fb08 418.5px,#ff9300 422.5px,#ff4200 428.5px,#ff1000 437.5px,#f00 443.5px,#ef0000 451.5px,#e30000 457.5px,#d70000 476.5px,#cf0000 518px)"></div><div style="top:191px;background:linear-gradient(90deg,#0000df 0px,#0000e3 6.5px,#0000d3 7.5px,#0000ef 11.5px,#0000e3 16.5px,#0000d3 17.5px,#0000ef 25.5px,#0000bf 32.5px,#0000bf 36.5px,#0000cb 37.5px,#0000c3 41.5px,#00f 44.5px,#0000eb 45.5px,#0000eb 46.5px,#0038ff 47.5px,#0078ff 48.5px,#0000ef 50.5px,#0010fb 51.5px,#0058ff 52.5px,#0080ff 53.5px,#0064ff 54.5px,#0020ff 55.5px,#0000f3 56.5px,#000afb 57.5px,#007cff 59.5px,#007cff 60.5px,#000cff 62.5px,#0000ef 63.5px,#000cfb 64.5px,#0080ff 66.5px,#008fff 67.5px,#007cff 68.5px,#000cff 70.5px,#0000ef 71.5px,#0000f7 72.5px,#0078ff 75.5px,#009dff 77.5px,#009fff 78.5px,#0070ff 80.5px,#001aff 82.5px,#0000f7 83.5px,#0000ef 84.5px,#000cff 85.5px,#0078ff 87.5px,#00e7ff 89.5px,#0efff1 90.5px,#30ffcf 92.5px,#1cffe3 94.5px,#04fbfb 95.5px,#00a3ff 97.5px,#0028ff 99.5px,#0000f1 100.5px,#0000d3 101.5px,#0000d1 102.5px,#000eff 104.5px,#00d7ff 108.5px,#06fdf9 109.5px,#6f9 112.5px,#8fff70 115.5px,#9fff60 119.5px,#72ff8d 123.5px,#28ffd7 126.5px,#08fff7 127.5px,#0093ff 130.5px,#0016ff 133.5px,#0000f3 134.5px,#0000cb 136.5px,#0000c1 137.5px,#0000e7 139.5px,#000eff 140.5px,#0078ff 142.5px,#02edfd 144.5px,#2effd1 145.5px,#f1ff0e 149.5px,#ffcb00 151.5px,#ff6e00 155.5px,#ff2600 161.5px,#ff1000 165.5px,#ff1600 172.5px,#f20 176.5px,#ff7000 185.5px,#ffb300 189.5px,#fbfb04 192.5px,#9bff64 195.5px,#18ffe7 198.5px,#00e5ff 199.5px,#0010ff 203.5px,#0000b9 205.5px,#009 206.5px,#00008f 209.5px,#000097 210.5px,#0006f1 212.5px,#0038ff 213.5px,#00c7ff 215.5px,#12f9ed 216.5px,#b9ff46 219.5px,#e7ff18 220.5px,#fdef02 221.5px,#ff8700 225.5px,#ff4000 231.5px,#ff1000 239.5px,#f00 245.5px,#ef0000 249.5px,#e90000 254.5px,#df0000 259.5px,#d70000 268.5px,#c70000 296.5px,#b70000 342.5px,#b10000 353.5px,#bf0000 355.5px,#c30000 370.5px,#cf0000 373.5px,#cf0000 380.5px,#df0000 384.5px,#ff0200 390.5px,#ff4000 395.5px,#ff9f00 399.5px,#ffe700 401.5px,#e9ff16 402.5px,#08f7f7 406.5px,#0097ff 408.5px,#0076ff 409.5px,#006aff 410.5px,#0072ff 411.5px,#0093ff 412.5px,#08f5f7 414.5px,#cdff32 418.5px,#f3fd0c 419.5px,#ffaf00 422.5px,#ff5c00 427.5px,#ff2000 435.5px,#f00 444.5px,#ef0000 454.5px,#e70000 459.5px,#d70000 479.5px,#cf0000 518px)"></div><div style="top:193px;background:linear-gradient(90deg,#0000df 0px,#0000e3 6.5px,#0000d3 7.5px,#0000ef 11.5px,#0000e3 16.5px,#0000d3 17.5px,#0000ef 25.5px,#0000bf 32.5px,#0000bf 36.5px,#0000cb 37.5px,#0000c3 41.5px,#00f 44.5px,#0000eb 45.5px,#0000eb 46.5px,#0038ff 47.5px,#0078ff 48.5px,#0000ef 50.5px,#0010fb 51.5px,#0058ff 52.5px,#0080ff 53.5px,#0068ff 54.5px,#02f 55.5px,#0000f3 56.5px,#0008f9 57.5px,#007cff 59.5px,#007cff 60.5px,#0050ff 61.5px,#000cff 62.5px,#0000ef 63.5px,#000cfb 64.5px,#0080ff 66.5px,#008fff 67.5px,#007cff 68.5px,#000cff 70.5px,#0000ef 71.5px,#0000f7 72.5px,#001cff 73.5px,#0072ff 75.5px,#0095ff 77.5px,#009dff 78.5px,#0070ff 80.5px,#001cff 82.5px,#0000f7 83.5px,#0000ef 84.5px,#0008ff 85.5px,#00e1ff 89.5px,#08fff7 90.5px,#2cffd3 92.5px,#18ffe7 94.5px,#04fbfb 95.5px,#00a3ff 97.5px,#0028ff 99.5px,#0002f3 100.5px,#0000d5 101.5px,#0000cf 102.5px,#000afd 104.5px,#02f5fd 109.5px,#6eff91 113.5px,#8fff70 116.5px,#85ff7a 121.5px,#42ffbd 125.5px,#08fff7 127.5px,#006cff 131.5px,#0018ff 133.5px,#0000f7 134.5px,#0000cb 136.5px,#0000bf 137.5px,#0006fb 140.5px,#00a1ff 143.5px,#00dfff 144.5px,#1cffe3 145.5px,#b7ff48 148.5px,#fff300 150.5px,#ff8900 154.5px,#ff3000 160.5px,#ff1000 165.5px,#ff1200 171.5px,#ff2000 173.5px,#ff3000 178.5px,#ff7200 185.5px,#ffcb00 190.5px,#fbfb04 192.5px,#74ff8b 196.5px,#1cffe3 198.5px,#00e9ff 199.5px,#001cff 203.5px,#0000ed 204.5px,#0000a5 206.5px,#00008f 207.5px,#00008f 210.5px,#00009d 211.5px,#000ef9 213.5px,#008dff 215.5px,#00d7ff 216.5px,#1afde5 217.5px,#bdff42 220.5px,#e7ff18 221.5px,#ffef00 222.5px,#ff8b00 226.5px,#ff4000 232.5px,#ff1000 240.5px,#f00 246.5px,#ef0000 250.5px,#e30000 256.5px,#d50000 270.5px,#c70000 299.5px,#b70000 347.5px,#af0000 352.5px,#bf0000 356.5px,#c30000 369.5px,#cf0000 372.5px,#cf0000 380.5px,#df0000 384.5px,#f00 390.5px,#ff4600 396.5px,#ffa700 400.5px,#fdf102 402.5px,#dfff20 403.5px,#38ffc7 406.5px,#06f1f9 407.5px,#006eff 410.5px,#0060ff 411.5px,#006cff 412.5px,#0bf 414.5px,#06f1f9 415.5px,#2effd1 416.5px,#95ff6a 418.5px,#ebff14 420.5px,#ffd100 422.5px,#ff7e00 426.5px,#ff3c00 432.5px,#ff1000 440.5px,#f00 448.5px,#ef0000 454.5px,#e50000 462.5px,#d50000 484.5px,#cf0000 518px)"></div><div style="top:195px;background:linear-gradient(90deg,#0000df 0px,#0000e3 6.5px,#0000d3 7.5px,#0000ef 11.5px,#0000e3 16.5px,#0000d3 17.5px,#0000ef 25.5px,#0000bf 32.5px,#0000bf 36.5px,#0000cb 37.5px,#0000c3 41.5px,#00f 44.5px,#0000eb 45.5px,#0000eb 46.5px,#0038ff 47.5px,#0078ff 48.5px,#0000ef 50.5px,#0010fb 51.5px,#0058ff 52.5px,#0080ff 53.5px,#0068ff 54.5px,#02f 55.5px,#0000f3 56.5px,#0008f9 57.5px,#007cff 59.5px,#007cff 60.5px,#0050ff 61.5px,#000cff 62.5px,#0000ef 63.5px,#000cfb 64.5px,#0080ff 66.5px,#008fff 67.5px,#007cff 68.5px,#000cff 70.5px,#0000ef 71.5px,#0000f7 72.5px,#001cff 73.5px,#0072ff 75.5px,#0095ff 77.5px,#009dff 78.5px,#0070ff 80.5px,#001cff 82.5px,#0000f7 83.5px,#0000ef 84.5px,#0008ff 85.5px,#00e1ff 89.5px,#08fff7 90.5px,#2cffd3 92.5px,#18ffe7 94.5px,#04fbfb 95.5px,#00a3ff 97.5px,#0028ff 99.5px,#0002f3 100.5px,#0000d5 101.5px,#0000cf 102.5px,#000afd 104.5px,#02f5fd 109.5px,#6eff91 113.5px,#8fff70 116.5px,#85ff7a 121.5px,#42ffbd 125.5px,#08fff7 127.5px,#006cff 131.5px,#0018ff 133.5px,#0000f7 134.5px,#0000cb 136.5px,#0000bf 137.5px,#0006fb 140.5px,#00a1ff 143.5px,#00dfff 144.5px,#1cffe3 145.5px,#b7ff48 148.5px,#fff300 150.5px,#ff8900 154.5px,#ff3000 160.5px,#ff1000 165.5px,#ff1200 171.5px,#ff2000 173.5px,#ff3000 178.5px,#ff7200 185.5px,#ffcb00 190.5px,#fbfb04 192.5px,#74ff8b 196.5px,#1cffe3 198.5px,#00e9ff 199.5px,#001cff 203.5px,#0000ed 204.5px,#0000a5 206.5px,#00008f 207.5px,#00008f 210.5px,#00009d 211.5px,#000ef9 213.5px,#008dff 215.5px,#00d7ff 216.5px,#1afde5 217.5px,#bdff42 220.5px,#e7ff18 221.5px,#ffef00 222.5px,#ff8b00 226.5px,#ff4000 232.5px,#ff1000 240.5px,#f00 246.5px,#ef0000 250.5px,#e30000 256.5px,#d50000 270.5px,#c70000 299.5px,#b70000 347.5px,#af0000 352.5px,#bf0000 356.5px,#c30000 369.5px,#cf0000 372.5px,#cf0000 380.5px,#df0000 384.5px,#f00 390.5px,#ff4600 396.5px,#ffa700 400.5px,#fdf102 402.5px,#dfff20 403.5px,#38ffc7 406.5px,#06f1f9 407.5px,#006eff 410.5px,#0060ff 411.5px,#006cff 412.5px,#0bf 414.5px,#06f1f9 415.5px,#2effd1 416.5px,#95ff6a 418.5px,#ebff14 420.5px,#ffd100 422.5px,#ff7e00 426.5px,#ff3c00 432.5px,#ff1000 440.5px,#f00 448.5px,#ef0000 454.5px,#e50000 462.5px,#d50000 484.5px,#cf0000 518px)"></div></div><svg width="685" height="573" viewBox="0 0 685 573" font-family="Liberation Sans, sans-serif" fill="#000">
<path d="M102.1 17.9H621.15" stroke="#000" stroke-width="1.8"/>
<path d="M102.1 213.5H621.15" stroke="#000" stroke-width="1.6"/>
<path d="M103 17V214.3" stroke="#000" stroke-width="1.8"/>
<path d="M620.3 17V214.3" stroke="#000" stroke-width="1.7"/>
<line x1="232.32" y1="213.5" x2="232.32" y2="208.7" stroke="#000" stroke-width="1.3"/>
<line x1="232.32" y1="17.9" x2="232.32" y2="22.7" stroke="#000" stroke-width="1.3"/>
<line x1="361.65" y1="213.5" x2="361.65" y2="208.7" stroke="#000" stroke-width="1.3"/>
<line x1="361.65" y1="17.9" x2="361.65" y2="22.7" stroke="#000" stroke-width="1.3"/>
<line x1="490.97" y1="213.5" x2="490.97" y2="208.7" stroke="#000" stroke-width="1.3"/>
<line x1="490.97" y1="17.9" x2="490.97" y2="22.7" stroke="#000" stroke-width="1.3"/>
<line x1="103" y1="66.80" x2="108" y2="66.80" stroke="#000" stroke-width="1.3"/>
<line x1="620.3" y1="66.80" x2="615.3" y2="66.80" stroke="#000" stroke-width="1.3"/>
<line x1="103" y1="115.70" x2="108" y2="115.70" stroke="#000" stroke-width="1.3"/>
<line x1="620.3" y1="115.70" x2="615.3" y2="115.70" stroke="#000" stroke-width="1.3"/>
<line x1="103" y1="164.60" x2="108" y2="164.60" stroke="#000" stroke-width="1.3"/>
<line x1="620.3" y1="164.60" x2="615.3" y2="164.60" stroke="#000" stroke-width="1.3"/>
<text x="96.6" y="24.90" text-anchor="end" font-size="19.6" textLength="32.2" lengthAdjust="spacingAndGlyphs">0.6</text>
<text x="96.6" y="73.80" text-anchor="end" font-size="19.6" textLength="32.2" lengthAdjust="spacingAndGlyphs">0.5</text>
<text x="96.6" y="122.70" text-anchor="end" font-size="19.6" textLength="32.2" lengthAdjust="spacingAndGlyphs">0.4</text>
<text x="96.6" y="171.60" text-anchor="end" font-size="19.6" textLength="32.2" lengthAdjust="spacingAndGlyphs">0.3</text>
<text x="96.6" y="220.50" text-anchor="end" font-size="19.6" textLength="32.2" lengthAdjust="spacingAndGlyphs">0.2</text>
<text x="101.00" y="235.6" text-anchor="middle" font-size="19.6" textLength="12.6" lengthAdjust="spacingAndGlyphs">0</text>
<text x="232.02" y="235.6" text-anchor="middle" font-size="19.6" textLength="26" lengthAdjust="spacingAndGlyphs">20</text>
<text x="361.35" y="235.6" text-anchor="middle" font-size="19.6" textLength="26" lengthAdjust="spacingAndGlyphs">40</text>
<text x="490.67" y="235.6" text-anchor="middle" font-size="19.6" textLength="26" lengthAdjust="spacingAndGlyphs">60</text>
<text x="620.00" y="235.6" text-anchor="middle" font-size="19.6" textLength="26" lengthAdjust="spacingAndGlyphs">80</text>
<text x="320.6" y="266.6" font-size="28.8" textLength="83" lengthAdjust="spacingAndGlyphs">λ (μm)</text>
<g transform="translate(37.2,150.6) rotate(-90)">
<text x="0" y="0" font-size="27.5">μ</text>
<text x="17" y="0" font-size="27">(</text>
<text x="28.4" y="0" font-size="22">e</text>
<text x="41.8" y="0" font-size="27">v</text>
<text x="55.9" y="0" font-size="27">)</text>
</g>
<text x="-2" y="22.2" font-size="30.5" textLength="43" lengthAdjust="spacingAndGlyphs">(a)</text>
<text x="553.6" y="66.2" font-family="Liberation Serif" font-size="27.5" fill="#e8e8f0" textLength="13" lengthAdjust="spacingAndGlyphs">T</text>
<defs><linearGradient id="cb0" x1="0" y1="0" x2="0" y2="1"><stop offset="0.781%" stop-color="#800000"/><stop offset="2.344%" stop-color="#8f0000"/><stop offset="3.906%" stop-color="#9f0000"/><stop offset="5.469%" stop-color="#af0000"/><stop offset="7.031%" stop-color="#bf0000"/><stop offset="8.594%" stop-color="#cf0000"/><stop offset="10.156%" stop-color="#df0000"/><stop offset="11.719%" stop-color="#ef0000"/><stop offset="13.281%" stop-color="#ff0000"/><stop offset="14.844%" stop-color="#ff1000"/><stop offset="16.406%" stop-color="#ff2000"/><stop offset="17.969%" stop-color="#ff3000"/><stop offset="19.531%" stop-color="#ff4000"/><stop offset="21.094%" stop-color="#ff5000"/><stop offset="22.656%" stop-color="#ff6000"/><stop offset="24.219%" stop-color="#ff7000"/><stop offset="25.781%" stop-color="#ff8000"/><stop offset="27.344%" stop-color="#ff8f00"/><stop offset="28.906%" stop-color="#ff9f00"/><stop offset="30.469%" stop-color="#ffaf00"/><stop offset="32.031%" stop-color="#ffbf00"/><stop offset="33.594%" stop-color="#ffcf00"/><stop offset="35.156%" stop-color="#ffdf00"/><stop offset="36.719%" stop-color="#ffef00"/><stop offset="38.281%" stop-color="#ffff00"/><stop offset="39.844%" stop-color="#efff10"/><stop offset="41.406%" stop-color="#dfff20"/><stop offset="42.969%" stop-color="#cfff30"/><stop offset="44.531%" stop-color="#bfff40"/><stop offset="46.094%" stop-color="#afff50"/><stop offset="47.656%" stop-color="#9fff60"/><stop offset="49.219%" stop-color="#8fff70"/><stop offset="50.781%" stop-color="#80ff80"/><stop offset="52.344%" stop-color="#70ff8f"/><stop offset="53.906%" stop-color="#60ff9f"/><stop offset="55.469%" stop-color="#50ffaf"/><stop offset="57.031%" stop-color="#40ffbf"/><stop offset="58.594%" stop-color="#30ffcf"/><stop offset="60.156%" stop-color="#20ffdf"/><stop offset="61.719%" stop-color="#10ffef"/><stop offset="63.281%" stop-color="#00ffff"/><stop offset="64.844%" stop-color="#00efff"/><stop offset="66.406%" stop-color="#00dfff"/><stop offset="67.969%" stop-color="#00cfff"/><stop offset="69.531%" stop-color="#00bfff"/><stop offset="71.094%" stop-color="#00afff"/><stop offset="72.656%" stop-color="#009fff"/><stop offset="74.219%" stop-color="#008fff"/><stop offset="75.781%" stop-color="#0080ff"/><stop offset="77.344%" stop-color="#0070ff"/><stop offset="78.906%" stop-color="#0060ff"/><stop offset="80.469%" stop-color="#0050ff"/><stop offset="82.031%" stop-color="#0040ff"/><stop offset="83.594%" stop-color="#0030ff"/><stop offset="85.156%" stop-color="#0020ff"/><stop offset="86.719%" stop-color="#0010ff"/><stop offset="88.281%" stop-color="#0000ff"/><stop offset="89.844%" stop-color="#0000ef"/><stop offset="91.406%" stop-color="#0000df"/><stop offset="92.969%" stop-color="#0000cf"/><stop offset="94.531%" stop-color="#0000bf"/><stop offset="96.094%" stop-color="#0000af"/><stop offset="97.656%" stop-color="#00009f"/><stop offset="99.219%" stop-color="#00008f"/></linearGradient></defs>
<rect x="631.5" y="17.5" width="16" height="196" fill="url(#cb0)"/>
<rect x="631.5" y="17.5" width="16" height="196" fill="none" stroke="#222" stroke-width="1.1"/>
<line x1="631.5" y1="174.30" x2="634.5" y2="174.30" stroke="#222" stroke-width="1.1"/>
<line x1="647.5" y1="174.30" x2="644.5" y2="174.30" stroke="#222" stroke-width="1.1"/>
<line x1="631.5" y1="135.10" x2="634.5" y2="135.10" stroke="#222" stroke-width="1.1"/>
<line x1="647.5" y1="135.10" x2="644.5" y2="135.10" stroke="#222" stroke-width="1.1"/>
<line x1="631.5" y1="95.90" x2="634.5" y2="95.90" stroke="#222" stroke-width="1.1"/>
<line x1="647.5" y1="95.90" x2="644.5" y2="95.90" stroke="#222" stroke-width="1.1"/>
<line x1="631.5" y1="56.70" x2="634.5" y2="56.70" stroke="#222" stroke-width="1.1"/>
<line x1="647.5" y1="56.70" x2="644.5" y2="56.70" stroke="#222" stroke-width="1.1"/>
<text x="653.5" y="219.50" font-size="19.6" textLength="10.712" lengthAdjust="spacingAndGlyphs">0</text>
<text x="653.5" y="180.30" font-size="19.6" textLength="32.032" lengthAdjust="spacingAndGlyphs">0.2</text>
<text x="653.5" y="141.10" font-size="19.6" textLength="32.032" lengthAdjust="spacingAndGlyphs">0.4</text>
<text x="653.5" y="101.90" font-size="19.6" textLength="32.032" lengthAdjust="spacingAndGlyphs">0.6</text>
<text x="653.5" y="62.70" font-size="19.6" textLength="32.032" lengthAdjust="spacingAndGlyphs">0.8</text>
<path d="M659.7 10.30h1.9v13.9h-1.9zM659.6 10.30C658.6 11.90 657.2 13.10 655.6 13.50v1.9C657.3 15.20 658.7 14.70 659.6 13.70z"/>
<path d="M102.1 316.4H621.15" stroke="#000" stroke-width="1.8"/>
<path d="M102.1 512.3H621.15" stroke="#000" stroke-width="1.6"/>
<path d="M103 315.5V513.1" stroke="#000" stroke-width="1.8"/>
<path d="M620.3 315.5V513.1" stroke="#000" stroke-width="1.7"/>
<line x1="232.32" y1="512.3" x2="232.32" y2="507.5" stroke="#000" stroke-width="1.3"/>
<line x1="232.32" y1="316.4" x2="232.32" y2="321.2" stroke="#000" stroke-width="1.3"/>
<line x1="361.65" y1="512.3" x2="361.65" y2="507.5" stroke="#000" stroke-width="1.3"/>
<line x1="361.65" y1="316.4" x2="361.65" y2="321.2" stroke="#000" stroke-width="1.3"/>
<line x1="490.97" y1="512.3" x2="490.97" y2="507.5" stroke="#000" stroke-width="1.3"/>
<line x1="490.97" y1="316.4" x2="490.97" y2="321.2" stroke="#000" stroke-width="1.3"/>
<line x1="103" y1="365.38" x2="108" y2="365.38" stroke="#000" stroke-width="1.3"/>
<line x1="620.3" y1="365.38" x2="615.3" y2="365.38" stroke="#000" stroke-width="1.3"/>
<line x1="103" y1="414.35" x2="108" y2="414.35" stroke="#000" stroke-width="1.3"/>
<line x1="620.3" y1="414.35" x2="615.3" y2="414.35" stroke="#000" stroke-width="1.3"/>
<line x1="103" y1="463.32" x2="108" y2="463.32" stroke="#000" stroke-width="1.3"/>
<line x1="620.3" y1="463.32" x2="615.3" y2="463.32" stroke="#000" stroke-width="1.3"/>
<text x="96.6" y="323.40" text-anchor="end" font-size="19.6" textLength="32.2" lengthAdjust="spacingAndGlyphs">0.6</text>
<text x="96.6" y="372.38" text-anchor="end" font-size="19.6" textLength="32.2" lengthAdjust="spacingAndGlyphs">0.5</text>
<text x="96.6" y="421.35" text-anchor="end" font-size="19.6" textLength="32.2" lengthAdjust="spacingAndGlyphs">0.4</text>
<text x="96.6" y="470.32" text-anchor="end" font-size="19.6" textLength="32.2" lengthAdjust="spacingAndGlyphs">0.3</text>
<text x="96.6" y="519.30" text-anchor="end" font-size="19.6" textLength="32.2" lengthAdjust="spacingAndGlyphs">0.2</text>
<text x="101.00" y="534.4" text-anchor="middle" font-size="19.6" textLength="12.6" lengthAdjust="spacingAndGlyphs">0</text>
<text x="232.02" y="534.4" text-anchor="middle" font-size="19.6" textLength="26" lengthAdjust="spacingAndGlyphs">20</text>
<text x="361.35" y="534.4" text-anchor="middle" font-size="19.6" textLength="26" lengthAdjust="spacingAndGlyphs">40</text>
<text x="490.67" y="534.4" text-anchor="middle" font-size="19.6" textLength="26" lengthAdjust="spacingAndGlyphs">60</text>
<text x="620.00" y="534.4" text-anchor="middle" font-size="19.6" textLength="26" lengthAdjust="spacingAndGlyphs">80</text>
<text x="320.6" y="564.6" font-size="28.8" textLength="83" lengthAdjust="spacingAndGlyphs">λ (μm)</text>
<g transform="translate(37.2,449.1) rotate(-90)">
<text x="0" y="0" font-size="27.5">μ</text>
<text x="17" y="0" font-size="27">(</text>
<text x="28.4" y="0" font-size="22">e</text>
<text x="41.8" y="0" font-size="27">v</text>
<text x="55.9" y="0" font-size="27">)</text>
</g>
<text x="-2" y="319.6" font-size="30.5" textLength="43" lengthAdjust="spacingAndGlyphs">(b)</text>
<text x="553.6" y="364.2" font-family="Liberation Serif" font-size="27.5" fill="#e8e8f0" textLength="13" lengthAdjust="spacingAndGlyphs">R</text>
<defs><linearGradient id="cb298" x1="0" y1="0" x2="0" y2="1"><stop offset="0.781%" stop-color="#800000"/><stop offset="2.344%" stop-color="#8f0000"/><stop offset="3.906%" stop-color="#9f0000"/><stop offset="5.469%" stop-color="#af0000"/><stop offset="7.031%" stop-color="#bf0000"/><stop offset="8.594%" stop-color="#cf0000"/><stop offset="10.156%" stop-color="#df0000"/><stop offset="11.719%" stop-color="#ef0000"/><stop offset="13.281%" stop-color="#ff0000"/><stop offset="14.844%" stop-color="#ff1000"/><stop offset="16.406%" stop-color="#ff2000"/><stop offset="17.969%" stop-color="#ff3000"/><stop offset="19.531%" stop-color="#ff4000"/><stop offset="21.094%" stop-color="#ff5000"/><stop offset="22.656%" stop-color="#ff6000"/><stop offset="24.219%" stop-color="#ff7000"/><stop offset="25.781%" stop-color="#ff8000"/><stop offset="27.344%" stop-color="#ff8f00"/><stop offset="28.906%" stop-color="#ff9f00"/><stop offset="30.469%" stop-color="#ffaf00"/><stop offset="32.031%" stop-color="#ffbf00"/><stop offset="33.594%" stop-color="#ffcf00"/><stop offset="35.156%" stop-color="#ffdf00"/><stop offset="36.719%" stop-color="#ffef00"/><stop offset="38.281%" stop-color="#ffff00"/><stop offset="39.844%" stop-color="#efff10"/><stop offset="41.406%" stop-color="#dfff20"/><stop offset="42.969%" stop-color="#cfff30"/><stop offset="44.531%" stop-color="#bfff40"/><stop offset="46.094%" stop-color="#afff50"/><stop offset="47.656%" stop-color="#9fff60"/><stop offset="49.219%" stop-color="#8fff70"/><stop offset="50.781%" stop-color="#80ff80"/><stop offset="52.344%" stop-color="#70ff8f"/><stop offset="53.906%" stop-color="#60ff9f"/><stop offset="55.469%" stop-color="#50ffaf"/><stop offset="57.031%" stop-color="#40ffbf"/><stop offset="58.594%" stop-color="#30ffcf"/><stop offset="60.156%" stop-color="#20ffdf"/><stop offset="61.719%" stop-color="#10ffef"/><stop offset="63.281%" stop-color="#00ffff"/><stop offset="64.844%" stop-color="#00efff"/><stop offset="66.406%" stop-color="#00dfff"/><stop offset="67.969%" stop-color="#00cfff"/><stop offset="69.531%" stop-color="#00bfff"/><stop offset="71.094%" stop-color="#00afff"/><stop offset="72.656%" stop-color="#009fff"/><stop offset="74.219%" stop-color="#008fff"/><stop offset="75.781%" stop-color="#0080ff"/><stop offset="77.344%" stop-color="#0070ff"/><stop offset="78.906%" stop-color="#0060ff"/><stop offset="80.469%" stop-color="#0050ff"/><stop offset="82.031%" stop-color="#0040ff"/><stop offset="83.594%" stop-color="#0030ff"/><stop offset="85.156%" stop-color="#0020ff"/><stop offset="86.719%" stop-color="#0010ff"/><stop offset="88.281%" stop-color="#0000ff"/><stop offset="89.844%" stop-color="#0000ef"/><stop offset="91.406%" stop-color="#0000df"/><stop offset="92.969%" stop-color="#0000cf"/><stop offset="94.531%" stop-color="#0000bf"/><stop offset="96.094%" stop-color="#0000af"/><stop offset="97.656%" stop-color="#00009f"/><stop offset="99.219%" stop-color="#00008f"/></linearGradient></defs>
<rect x="631.5" y="315.5" width="16" height="196" fill="url(#cb298)"/>
<rect x="631.5" y="315.5" width="16" height="196" fill="none" stroke="#222" stroke-width="1.1"/>
<line x1="631.5" y1="472.30" x2="634.5" y2="472.30" stroke="#222" stroke-width="1.1"/>
<line x1="647.5" y1="472.30" x2="644.5" y2="472.30" stroke="#222" stroke-width="1.1"/>
<line x1="631.5" y1="433.10" x2="634.5" y2="433.10" stroke="#222" stroke-width="1.1"/>
<line x1="647.5" y1="433.10" x2="644.5" y2="433.10" stroke="#222" stroke-width="1.1"/>
<line x1="631.5" y1="393.90" x2="634.5" y2="393.90" stroke="#222" stroke-width="1.1"/>
<line x1="647.5" y1="393.90" x2="644.5" y2="393.90" stroke="#222" stroke-width="1.1"/>
<line x1="631.5" y1="354.70" x2="634.5" y2="354.70" stroke="#222" stroke-width="1.1"/>
<line x1="647.5" y1="354.70" x2="644.5" y2="354.70" stroke="#222" stroke-width="1.1"/>
<text x="653.5" y="517.50" font-size="19.6" textLength="10.712" lengthAdjust="spacingAndGlyphs">0</text>
<text x="653.5" y="478.30" font-size="19.6" textLength="32.032" lengthAdjust="spacingAndGlyphs">0.2</text>
<text x="653.5" y="439.10" font-size="19.6" textLength="32.032" lengthAdjust="spacingAndGlyphs">0.4</text>
<text x="653.5" y="399.90" font-size="19.6" textLength="32.032" lengthAdjust="spacingAndGlyphs">0.6</text>
<text x="653.5" y="360.70" font-size="19.6" textLength="32.032" lengthAdjust="spacingAndGlyphs">0.8</text>
<path d="M659.7 308.30h1.9v13.9h-1.9zM659.6 308.30C658.6 309.90 657.2 311.10 655.6 311.50v1.9C657.3 313.20 658.7 312.70 659.6 311.70z"/>
</svg></body></html>
